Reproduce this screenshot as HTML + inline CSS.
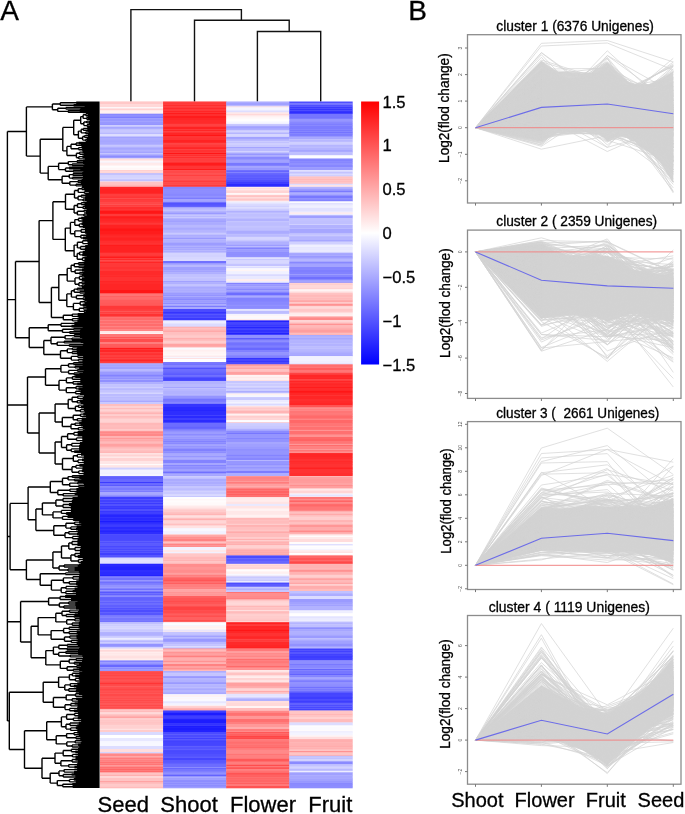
<!DOCTYPE html><html><head><meta charset="utf-8"><title>Figure</title><style>html,body{margin:0;padding:0;background:#fff;}svg{display:block;filter:blur(0.35px);}text{font-family:"Liberation Sans",sans-serif;fill:#000;stroke:#000;stroke-width:0.3px;}text.t{stroke:none;fill:#555;}</style></head><body>
<svg width="685" height="814" viewBox="0 0 685 814">
<rect width="685" height="814" fill="#fff"/>
<text x="0.3" y="20.2" font-size="28">A</text>
<text x="408.2" y="20.2" font-size="28">B</text>
<path d="M130.9 101.5V9.6H241.4V20.2M194.5 101.5V20.2H289.2V31.5M257.4 101.5V31.5H320.7V101.5" fill="none" stroke="#111" stroke-width="1.4"/>
<defs><filter id="hb" x="0" y="-0.01" width="1" height="1.02"><feGaussianBlur stdDeviation="0.15 0.55"/></filter></defs>
<g filter="url(#hb)">
<rect x="100" y="101.5" width="63.4" height="1.3" fill="#ffbbbb"/>
<rect x="100" y="102.5" width="63.4" height="2.1" fill="#ffc8c8"/>
<rect x="100" y="104.3" width="63.4" height="3.3" fill="#ffd8d8"/>
<rect x="100" y="107.3" width="63.4" height="1.4" fill="#fdfdff"/>
<rect x="100" y="108.4" width="63.4" height="2.3" fill="#ffd2d2"/>
<rect x="100" y="110.4" width="63.4" height="3.3" fill="#fff0f0"/>
<rect x="100" y="113.4" width="63.4" height="0.6" fill="#ffebeb"/>
<rect x="100" y="113.7" width="63.4" height="1.3" fill="#8484ff"/>
<rect x="100" y="114.7" width="63.4" height="1.8" fill="#9090ff"/>
<rect x="100" y="116.2" width="63.4" height="2.3" fill="#7e7eff"/>
<rect x="100" y="118.2" width="63.4" height="3.3" fill="#9898ff"/>
<rect x="100" y="121.2" width="63.4" height="3.3" fill="#9898ff"/>
<rect x="100" y="124.2" width="63.4" height="1.3" fill="#8888ff"/>
<rect x="100" y="125.2" width="63.4" height="1.8" fill="#d2d2ff"/>
<rect x="100" y="126.7" width="63.4" height="2.3" fill="#a7a7ff"/>
<rect x="100" y="128.7" width="63.4" height="1.3" fill="#c1c1ff"/>
<rect x="100" y="129.7" width="63.4" height="3.3" fill="#c7c7ff"/>
<rect x="100" y="132.7" width="63.4" height="1.8" fill="#b9b9ff"/>
<rect x="100" y="134.2" width="63.4" height="2.3" fill="#ddddff"/>
<rect x="100" y="136.2" width="63.4" height="0.8" fill="#cacaff"/>
<rect x="100" y="136.7" width="63.4" height="1.3" fill="#a0a0ff"/>
<rect x="100" y="137.7" width="63.4" height="2.3" fill="#acacff"/>
<rect x="100" y="139.7" width="63.4" height="1.3" fill="#a9a9ff"/>
<rect x="100" y="140.7" width="63.4" height="1.3" fill="#a5a5ff"/>
<rect x="100" y="141.7" width="63.4" height="3.3" fill="#a9a9ff"/>
<rect x="100" y="144.7" width="63.4" height="2.3" fill="#c6c6ff"/>
<rect x="100" y="146.7" width="63.4" height="1.3" fill="#b6b6ff"/>
<rect x="100" y="147.7" width="63.4" height="2.3" fill="#a6a6ff"/>
<rect x="100" y="149.7" width="63.4" height="1.8" fill="#b2b2ff"/>
<rect x="100" y="151.2" width="63.4" height="2.3" fill="#a4a4ff"/>
<rect x="100" y="153.2" width="63.4" height="1.5" fill="#c1c1ff"/>
<rect x="100" y="154.4" width="63.4" height="2.3" fill="#9e9eff"/>
<rect x="100" y="156.4" width="63.4" height="1.3" fill="#6e6eff"/>
<rect x="100" y="157.4" width="63.4" height="0.5" fill="#6060ff"/>
<rect x="100" y="157.6" width="63.4" height="1.3" fill="#c8c8ff"/>
<rect x="100" y="158.6" width="63.4" height="2.3" fill="#ffdede"/>
<rect x="100" y="160.6" width="63.4" height="1.3" fill="#fff8f8"/>
<rect x="100" y="161.6" width="63.4" height="1.3" fill="#f5f5ff"/>
<rect x="100" y="162.6" width="63.4" height="2.3" fill="#ffeaea"/>
<rect x="100" y="164.6" width="63.4" height="1.3" fill="#ffebeb"/>
<rect x="100" y="165.6" width="63.4" height="2.3" fill="#fffdfd"/>
<rect x="100" y="167.6" width="63.4" height="2.3" fill="#fff7f7"/>
<rect x="100" y="169.6" width="63.4" height="0.8" fill="#fffbfb"/>
<rect x="100" y="170.1" width="63.4" height="1.3" fill="#ffcbcb"/>
<rect x="100" y="171.1" width="63.4" height="2.3" fill="#ffd6d6"/>
<rect x="100" y="173.1" width="63.4" height="0.4" fill="#ffcfcf"/>
<rect x="100" y="173.2" width="63.4" height="1.8" fill="#babaff"/>
<rect x="100" y="174.7" width="63.4" height="3.3" fill="#d3d3ff"/>
<rect x="100" y="177.7" width="63.4" height="1.8" fill="#d8d8ff"/>
<rect x="100" y="179.2" width="63.4" height="2.3" fill="#c1c1ff"/>
<rect x="100" y="181.2" width="63.4" height="0.7" fill="#e5e5ff"/>
<rect x="100" y="181.6" width="63.4" height="3.3" fill="#ffc4c4"/>
<rect x="100" y="184.6" width="63.4" height="2.5" fill="#ffb8b8"/>
<rect x="100" y="186.8" width="63.4" height="3.3" fill="#ff2525"/>
<rect x="100" y="189.8" width="63.4" height="3.3" fill="#ff2020"/>
<rect x="100" y="192.8" width="63.4" height="1.3" fill="#ff2a2a"/>
<rect x="100" y="193.8" width="63.4" height="0.5" fill="#ff3636"/>
<rect x="100" y="194.0" width="63.4" height="1.3" fill="#ff3e3e"/>
<rect x="100" y="195.0" width="63.4" height="1.3" fill="#ff3d3d"/>
<rect x="100" y="196.0" width="63.4" height="1.3" fill="#ff3737"/>
<rect x="100" y="197.0" width="63.4" height="1.8" fill="#ff3535"/>
<rect x="100" y="198.5" width="63.4" height="1.8" fill="#ff3838"/>
<rect x="100" y="200.0" width="63.4" height="2.3" fill="#ff3d3d"/>
<rect x="100" y="202.0" width="63.4" height="1.3" fill="#ff4a4a"/>
<rect x="100" y="203.0" width="63.4" height="1.8" fill="#ff4747"/>
<rect x="100" y="204.5" width="63.4" height="2.3" fill="#ff3c3c"/>
<rect x="100" y="206.5" width="63.4" height="0.5" fill="#ff3c3c"/>
<rect x="100" y="206.7" width="63.4" height="2.3" fill="#ff2e2e"/>
<rect x="100" y="208.7" width="63.4" height="2.3" fill="#ff3434"/>
<rect x="100" y="210.7" width="63.4" height="2.3" fill="#ff1212"/>
<rect x="100" y="212.7" width="63.4" height="1.8" fill="#ff1b1b"/>
<rect x="100" y="214.2" width="63.4" height="1.3" fill="#ff2929"/>
<rect x="100" y="215.2" width="63.4" height="1.8" fill="#ff2323"/>
<rect x="100" y="216.7" width="63.4" height="1.3" fill="#ff1b1b"/>
<rect x="100" y="217.7" width="63.4" height="2.3" fill="#ff2424"/>
<rect x="100" y="219.7" width="63.4" height="1.3" fill="#ff2828"/>
<rect x="100" y="220.7" width="63.4" height="2.3" fill="#ff2a2a"/>
<rect x="100" y="222.7" width="63.4" height="2.3" fill="#ff3939"/>
<rect x="100" y="224.7" width="63.4" height="2.3" fill="#ff2020"/>
<rect x="100" y="226.7" width="63.4" height="1.3" fill="#ff2525"/>
<rect x="100" y="227.7" width="63.4" height="1.3" fill="#ff2020"/>
<rect x="100" y="228.7" width="63.4" height="2.3" fill="#ff1515"/>
<rect x="100" y="230.7" width="63.4" height="3.3" fill="#ff1e1e"/>
<rect x="100" y="233.7" width="63.4" height="2.3" fill="#ff2424"/>
<rect x="100" y="235.7" width="63.4" height="2.3" fill="#ff2b2b"/>
<rect x="100" y="237.7" width="63.4" height="3.3" fill="#ff2424"/>
<rect x="100" y="240.7" width="63.4" height="3.3" fill="#ff2e2e"/>
<rect x="100" y="243.7" width="63.4" height="1.3" fill="#ff3737"/>
<rect x="100" y="244.7" width="63.4" height="1.3" fill="#ff1c1c"/>
<rect x="100" y="245.7" width="63.4" height="3.3" fill="#ff2424"/>
<rect x="100" y="248.7" width="63.4" height="1.3" fill="#ff2323"/>
<rect x="100" y="249.7" width="63.4" height="1.3" fill="#ff2424"/>
<rect x="100" y="250.7" width="63.4" height="2.3" fill="#ff2424"/>
<rect x="100" y="252.7" width="63.4" height="3.3" fill="#ff3a3a"/>
<rect x="100" y="255.7" width="63.4" height="1.3" fill="#ff3232"/>
<rect x="100" y="256.7" width="63.4" height="1.8" fill="#ff1c1c"/>
<rect x="100" y="258.2" width="63.4" height="2.3" fill="#ff2b2b"/>
<rect x="100" y="260.2" width="63.4" height="1.3" fill="#ff3838"/>
<rect x="100" y="261.2" width="63.4" height="2.3" fill="#ff2626"/>
<rect x="100" y="263.2" width="63.4" height="1.1" fill="#ff2727"/>
<rect x="100" y="264.0" width="63.4" height="3.3" fill="#ff3838"/>
<rect x="100" y="267.0" width="63.4" height="2.3" fill="#ff3030"/>
<rect x="100" y="269.0" width="63.4" height="2.3" fill="#ff3737"/>
<rect x="100" y="271.0" width="63.4" height="2.3" fill="#ff2929"/>
<rect x="100" y="273.0" width="63.4" height="2.3" fill="#ff2a2a"/>
<rect x="100" y="275.0" width="63.4" height="1.3" fill="#ff2f2f"/>
<rect x="100" y="276.0" width="63.4" height="1.3" fill="#ff2c2c"/>
<rect x="100" y="277.0" width="63.4" height="3.3" fill="#ff3232"/>
<rect x="100" y="280.0" width="63.4" height="1.3" fill="#ff3030"/>
<rect x="100" y="281.0" width="63.4" height="1.3" fill="#ff2626"/>
<rect x="100" y="282.0" width="63.4" height="1.3" fill="#ff2b2b"/>
<rect x="100" y="283.0" width="63.4" height="1.3" fill="#ff2c2c"/>
<rect x="100" y="284.0" width="63.4" height="3.3" fill="#ff2626"/>
<rect x="100" y="287.0" width="63.4" height="3.3" fill="#ff2727"/>
<rect x="100" y="290.0" width="63.4" height="3.3" fill="#ff1717"/>
<rect x="100" y="293.0" width="63.4" height="0.6" fill="#ff1818"/>
<rect x="100" y="293.3" width="63.4" height="1.3" fill="#ff5959"/>
<rect x="100" y="294.3" width="63.4" height="1.3" fill="#ff6666"/>
<rect x="100" y="295.3" width="63.4" height="1.8" fill="#ff6262"/>
<rect x="100" y="296.8" width="63.4" height="3.3" fill="#ff6c6c"/>
<rect x="100" y="299.8" width="63.4" height="3.3" fill="#ff5d5d"/>
<rect x="100" y="302.8" width="63.4" height="3.3" fill="#ff5a5a"/>
<rect x="100" y="305.8" width="63.4" height="3.3" fill="#ff3939"/>
<rect x="100" y="308.8" width="63.4" height="1.3" fill="#ff3c3c"/>
<rect x="100" y="309.8" width="63.4" height="1.8" fill="#ff4040"/>
<rect x="100" y="311.3" width="63.4" height="2.3" fill="#ff4141"/>
<rect x="100" y="313.3" width="63.4" height="3.3" fill="#ff3131"/>
<rect x="100" y="316.3" width="63.4" height="1.3" fill="#ff3a3a"/>
<rect x="100" y="317.3" width="63.4" height="3.3" fill="#ff6969"/>
<rect x="100" y="320.3" width="63.4" height="3.3" fill="#ff6e6e"/>
<rect x="100" y="323.3" width="63.4" height="3.3" fill="#ff6c6c"/>
<rect x="100" y="326.3" width="63.4" height="1.8" fill="#ff7575"/>
<rect x="100" y="327.8" width="63.4" height="1.8" fill="#ff7070"/>
<rect x="100" y="329.3" width="63.4" height="1.9" fill="#ff7979"/>
<rect x="100" y="330.9" width="63.4" height="2.3" fill="#ffe8e8"/>
<rect x="100" y="332.9" width="63.4" height="1.4" fill="#fff1f1"/>
<rect x="100" y="334.0" width="63.4" height="3.3" fill="#ff7777"/>
<rect x="100" y="337.0" width="63.4" height="1.3" fill="#ff5656"/>
<rect x="100" y="338.0" width="63.4" height="1.3" fill="#ff6f6f"/>
<rect x="100" y="339.0" width="63.4" height="3.3" fill="#ff4d4d"/>
<rect x="100" y="342.0" width="63.4" height="2.3" fill="#ff7c7c"/>
<rect x="100" y="344.0" width="63.4" height="2.3" fill="#ff5b5b"/>
<rect x="100" y="346.0" width="63.4" height="1.8" fill="#ff5a5a"/>
<rect x="100" y="347.5" width="63.4" height="0.4" fill="#ff7575"/>
<rect x="100" y="347.6" width="63.4" height="1.8" fill="#ff1a1a"/>
<rect x="100" y="349.1" width="63.4" height="3.3" fill="#ff2727"/>
<rect x="100" y="352.1" width="63.4" height="2.3" fill="#ff3535"/>
<rect x="100" y="354.1" width="63.4" height="1.3" fill="#ff2525"/>
<rect x="100" y="355.1" width="63.4" height="1.3" fill="#ff3535"/>
<rect x="100" y="356.1" width="63.4" height="2.3" fill="#ff3434"/>
<rect x="100" y="358.1" width="63.4" height="1.3" fill="#ff3838"/>
<rect x="100" y="359.1" width="63.4" height="2.3" fill="#ff2626"/>
<rect x="100" y="361.1" width="63.4" height="1.3" fill="#ff2d2d"/>
<rect x="100" y="362.1" width="63.4" height="1.3" fill="#ff3636"/>
<rect x="100" y="363.1" width="63.4" height="0.5" fill="#ff3030"/>
<rect x="100" y="363.3" width="63.4" height="2.3" fill="#a9a9ff"/>
<rect x="100" y="365.3" width="63.4" height="1.3" fill="#9595ff"/>
<rect x="100" y="366.3" width="63.4" height="2.3" fill="#a0a0ff"/>
<rect x="100" y="368.3" width="63.4" height="1.3" fill="#9292ff"/>
<rect x="100" y="369.3" width="63.4" height="2.3" fill="#b8b8ff"/>
<rect x="100" y="371.3" width="63.4" height="3.3" fill="#9b9bff"/>
<rect x="100" y="374.3" width="63.4" height="2.3" fill="#8383ff"/>
<rect x="100" y="376.3" width="63.4" height="1.3" fill="#8484ff"/>
<rect x="100" y="377.3" width="63.4" height="2.3" fill="#9292ff"/>
<rect x="100" y="379.3" width="63.4" height="1.3" fill="#9e9eff"/>
<rect x="100" y="380.3" width="63.4" height="1.3" fill="#7d7dff"/>
<rect x="100" y="381.3" width="63.4" height="1.1" fill="#8383ff"/>
<rect x="100" y="382.1" width="63.4" height="2.3" fill="#afafff"/>
<rect x="100" y="384.1" width="63.4" height="3.3" fill="#c3c3ff"/>
<rect x="100" y="387.1" width="63.4" height="1.3" fill="#ccccff"/>
<rect x="100" y="388.1" width="63.4" height="2.3" fill="#b8b8ff"/>
<rect x="100" y="390.1" width="63.4" height="1.8" fill="#c1c1ff"/>
<rect x="100" y="391.6" width="63.4" height="1.3" fill="#c1c1ff"/>
<rect x="100" y="392.6" width="63.4" height="1.8" fill="#d5d5ff"/>
<rect x="100" y="394.1" width="63.4" height="1.9" fill="#b6b6ff"/>
<rect x="100" y="395.7" width="63.4" height="1.3" fill="#c9c9ff"/>
<rect x="100" y="396.7" width="63.4" height="1.3" fill="#b9b9ff"/>
<rect x="100" y="397.7" width="63.4" height="3.3" fill="#bebeff"/>
<rect x="100" y="400.7" width="63.4" height="1.8" fill="#a9a9ff"/>
<rect x="100" y="402.2" width="63.4" height="2.1" fill="#c8c8ff"/>
<rect x="100" y="404.0" width="63.4" height="2.3" fill="#ffbfbf"/>
<rect x="100" y="406.0" width="63.4" height="2.3" fill="#ffd1d1"/>
<rect x="100" y="408.0" width="63.4" height="1.8" fill="#ffbcbc"/>
<rect x="100" y="409.5" width="63.4" height="2.3" fill="#ffd3d3"/>
<rect x="100" y="411.5" width="63.4" height="1.3" fill="#ffbaba"/>
<rect x="100" y="412.5" width="63.4" height="1.8" fill="#ffb4b4"/>
<rect x="100" y="414.0" width="63.4" height="1.8" fill="#ffcbcb"/>
<rect x="100" y="415.5" width="63.4" height="1.3" fill="#ffc7c7"/>
<rect x="100" y="416.5" width="63.4" height="1.3" fill="#ffa5a5"/>
<rect x="100" y="417.5" width="63.4" height="2.3" fill="#ffc9c9"/>
<rect x="100" y="419.5" width="63.4" height="2.3" fill="#ffd3d3"/>
<rect x="100" y="421.5" width="63.4" height="1.8" fill="#ffcccc"/>
<rect x="100" y="423.0" width="63.4" height="2.3" fill="#ffb8b8"/>
<rect x="100" y="425.0" width="63.4" height="2.3" fill="#ffbcbc"/>
<rect x="100" y="427.0" width="63.4" height="2.3" fill="#ffbaba"/>
<rect x="100" y="429.0" width="63.4" height="1.3" fill="#ffcaca"/>
<rect x="100" y="430.0" width="63.4" height="1.5" fill="#ffc4c4"/>
<rect x="100" y="431.2" width="63.4" height="1.3" fill="#ff8585"/>
<rect x="100" y="432.2" width="63.4" height="1.3" fill="#ff7b7b"/>
<rect x="100" y="433.2" width="63.4" height="3.3" fill="#ff8888"/>
<rect x="100" y="436.2" width="63.4" height="2.3" fill="#ffb0b0"/>
<rect x="100" y="438.2" width="63.4" height="1.3" fill="#ff8c8c"/>
<rect x="100" y="439.2" width="63.4" height="2.3" fill="#ffa8a8"/>
<rect x="100" y="441.2" width="63.4" height="1.6" fill="#ffadad"/>
<rect x="100" y="442.5" width="63.4" height="1.3" fill="#ffb8b8"/>
<rect x="100" y="443.5" width="63.4" height="3.3" fill="#ffa1a1"/>
<rect x="100" y="446.5" width="63.4" height="1.3" fill="#ff9f9f"/>
<rect x="100" y="447.5" width="63.4" height="2.3" fill="#ffbebe"/>
<rect x="100" y="449.5" width="63.4" height="1.3" fill="#ffc1c1"/>
<rect x="100" y="450.5" width="63.4" height="1.3" fill="#ffb4b4"/>
<rect x="100" y="451.5" width="63.4" height="1.8" fill="#ffb6b6"/>
<rect x="100" y="453.0" width="63.4" height="1.8" fill="#ffe2e2"/>
<rect x="100" y="454.5" width="63.4" height="1.8" fill="#ffd3d3"/>
<rect x="100" y="456.0" width="63.4" height="1.3" fill="#ffdfdf"/>
<rect x="100" y="457.0" width="63.4" height="1.3" fill="#ffe8e8"/>
<rect x="100" y="458.0" width="63.4" height="3.3" fill="#ffd3d3"/>
<rect x="100" y="461.0" width="63.4" height="3.3" fill="#ffe6e6"/>
<rect x="100" y="464.0" width="63.4" height="1.3" fill="#fffbfb"/>
<rect x="100" y="465.0" width="63.4" height="1.3" fill="#ffe8e8"/>
<rect x="100" y="466.0" width="63.4" height="1.3" fill="#ffe5e5"/>
<rect x="100" y="467.0" width="63.4" height="0.9" fill="#ffe7e7"/>
<rect x="100" y="467.6" width="63.4" height="2.3" fill="#d0d0ff"/>
<rect x="100" y="469.6" width="63.4" height="3.3" fill="#f3f3ff"/>
<rect x="100" y="472.6" width="63.4" height="1.8" fill="#f0f0ff"/>
<rect x="100" y="474.1" width="63.4" height="2.2" fill="#f5f5ff"/>
<rect x="100" y="476.0" width="63.4" height="1.3" fill="#6d6dff"/>
<rect x="100" y="477.0" width="63.4" height="2.3" fill="#6060ff"/>
<rect x="100" y="479.0" width="63.4" height="3.3" fill="#6969ff"/>
<rect x="100" y="482.0" width="63.4" height="1.3" fill="#3a3aff"/>
<rect x="100" y="483.0" width="63.4" height="1.3" fill="#6767ff"/>
<rect x="100" y="484.0" width="63.4" height="1.3" fill="#6a6aff"/>
<rect x="100" y="485.0" width="63.4" height="1.7" fill="#5a5aff"/>
<rect x="100" y="486.4" width="63.4" height="1.8" fill="#8686ff"/>
<rect x="100" y="487.9" width="63.4" height="2.3" fill="#7979ff"/>
<rect x="100" y="489.9" width="63.4" height="1.3" fill="#8e8eff"/>
<rect x="100" y="490.9" width="63.4" height="1.3" fill="#7878ff"/>
<rect x="100" y="491.9" width="63.4" height="3.3" fill="#a8a8ff"/>
<rect x="100" y="494.9" width="63.4" height="1.8" fill="#9494ff"/>
<rect x="100" y="496.4" width="63.4" height="0.8" fill="#6767ff"/>
<rect x="100" y="496.9" width="63.4" height="1.3" fill="#4141ff"/>
<rect x="100" y="497.9" width="63.4" height="1.8" fill="#4040ff"/>
<rect x="100" y="499.4" width="63.4" height="3.3" fill="#4242ff"/>
<rect x="100" y="502.4" width="63.4" height="2.3" fill="#3b3bff"/>
<rect x="100" y="504.4" width="63.4" height="1.3" fill="#3e3eff"/>
<rect x="100" y="505.4" width="63.4" height="1.8" fill="#3a3aff"/>
<rect x="100" y="506.9" width="63.4" height="1.3" fill="#4242ff"/>
<rect x="100" y="507.9" width="63.4" height="1.8" fill="#3939ff"/>
<rect x="100" y="509.4" width="63.4" height="1.3" fill="#3c3cff"/>
<rect x="100" y="510.4" width="63.4" height="1.8" fill="#3838ff"/>
<rect x="100" y="511.9" width="63.4" height="2.0" fill="#4040ff"/>
<rect x="100" y="513.6" width="63.4" height="1.3" fill="#2525ff"/>
<rect x="100" y="514.6" width="63.4" height="3.3" fill="#2828ff"/>
<rect x="100" y="517.6" width="63.4" height="3.3" fill="#2929ff"/>
<rect x="100" y="520.6" width="63.4" height="1.8" fill="#1a1aff"/>
<rect x="100" y="522.1" width="63.4" height="1.3" fill="#1f1fff"/>
<rect x="100" y="523.1" width="63.4" height="1.8" fill="#2525ff"/>
<rect x="100" y="524.6" width="63.4" height="2.3" fill="#3d3dff"/>
<rect x="100" y="526.6" width="63.4" height="1.3" fill="#1e1eff"/>
<rect x="100" y="527.6" width="63.4" height="1.3" fill="#1818ff"/>
<rect x="100" y="528.6" width="63.4" height="1.3" fill="#2525ff"/>
<rect x="100" y="529.6" width="63.4" height="1.3" fill="#2b2bff"/>
<rect x="100" y="530.6" width="63.4" height="1.3" fill="#0b0bff"/>
<rect x="100" y="531.6" width="63.4" height="3.2" fill="#2f2fff"/>
<rect x="100" y="534.5" width="63.4" height="1.8" fill="#4949ff"/>
<rect x="100" y="536.0" width="63.4" height="2.3" fill="#4848ff"/>
<rect x="100" y="538.0" width="63.4" height="2.3" fill="#4848ff"/>
<rect x="100" y="540.0" width="63.4" height="1.8" fill="#4b4bff"/>
<rect x="100" y="541.5" width="63.4" height="2.3" fill="#5050ff"/>
<rect x="100" y="543.5" width="63.4" height="1.3" fill="#4646ff"/>
<rect x="100" y="544.5" width="63.4" height="1.3" fill="#4d4dff"/>
<rect x="100" y="545.5" width="63.4" height="2.3" fill="#4949ff"/>
<rect x="100" y="547.5" width="63.4" height="1.3" fill="#3a3aff"/>
<rect x="100" y="548.5" width="63.4" height="2.3" fill="#4a4aff"/>
<rect x="100" y="550.5" width="63.4" height="2.3" fill="#4949ff"/>
<rect x="100" y="552.5" width="63.4" height="3.3" fill="#4040ff"/>
<rect x="100" y="555.5" width="63.4" height="1.3" fill="#4747ff"/>
<rect x="100" y="556.5" width="63.4" height="1.3" fill="#3d3dff"/>
<rect x="100" y="557.5" width="63.4" height="1.3" fill="#ceceff"/>
<rect x="100" y="558.5" width="63.4" height="2.3" fill="#dedeff"/>
<rect x="100" y="560.5" width="63.4" height="3.3" fill="#e1e1ff"/>
<rect x="100" y="563.5" width="63.4" height="0.6" fill="#bfbfff"/>
<rect x="100" y="563.8" width="63.4" height="1.3" fill="#2525ff"/>
<rect x="100" y="564.8" width="63.4" height="2.3" fill="#2a2aff"/>
<rect x="100" y="566.8" width="63.4" height="3.3" fill="#2020ff"/>
<rect x="100" y="569.8" width="63.4" height="2.3" fill="#2f2fff"/>
<rect x="100" y="571.8" width="63.4" height="2.3" fill="#2c2cff"/>
<rect x="100" y="573.8" width="63.4" height="1.3" fill="#2c2cff"/>
<rect x="100" y="574.8" width="63.4" height="1.3" fill="#2222ff"/>
<rect x="100" y="575.8" width="63.4" height="0.8" fill="#2b2bff"/>
<rect x="100" y="576.3" width="63.4" height="1.3" fill="#7171ff"/>
<rect x="100" y="577.3" width="63.4" height="3.3" fill="#6f6fff"/>
<rect x="100" y="580.3" width="63.4" height="1.3" fill="#9090ff"/>
<rect x="100" y="581.3" width="63.4" height="1.8" fill="#6d6dff"/>
<rect x="100" y="582.8" width="63.4" height="2.3" fill="#7d7dff"/>
<rect x="100" y="584.8" width="63.4" height="1.3" fill="#9393ff"/>
<rect x="100" y="585.8" width="63.4" height="1.8" fill="#9292ff"/>
<rect x="100" y="587.3" width="63.4" height="1.8" fill="#8e8eff"/>
<rect x="100" y="588.8" width="63.4" height="1.3" fill="#6767ff"/>
<rect x="100" y="589.8" width="63.4" height="1.8" fill="#9595ff"/>
<rect x="100" y="591.3" width="63.4" height="2.3" fill="#5959ff"/>
<rect x="100" y="593.3" width="63.4" height="2.3" fill="#6262ff"/>
<rect x="100" y="595.3" width="63.4" height="1.0" fill="#7575ff"/>
<rect x="100" y="596.0" width="63.4" height="1.3" fill="#8b8bff"/>
<rect x="100" y="597.0" width="63.4" height="1.3" fill="#6565ff"/>
<rect x="100" y="598.0" width="63.4" height="2.3" fill="#6262ff"/>
<rect x="100" y="600.0" width="63.4" height="1.8" fill="#6666ff"/>
<rect x="100" y="601.5" width="63.4" height="2.3" fill="#6161ff"/>
<rect x="100" y="603.5" width="63.4" height="1.3" fill="#5b5bff"/>
<rect x="100" y="604.5" width="63.4" height="3.3" fill="#5e5eff"/>
<rect x="100" y="607.5" width="63.4" height="2.3" fill="#5252ff"/>
<rect x="100" y="609.5" width="63.4" height="3.3" fill="#4d4dff"/>
<rect x="100" y="612.5" width="63.4" height="3.3" fill="#5656ff"/>
<rect x="100" y="615.5" width="63.4" height="2.3" fill="#7b7bff"/>
<rect x="100" y="617.5" width="63.4" height="3.3" fill="#7474ff"/>
<rect x="100" y="620.5" width="63.4" height="1.3" fill="#6868ff"/>
<rect x="100" y="621.5" width="63.4" height="1.0" fill="#6262ff"/>
<rect x="100" y="622.2" width="63.4" height="2.3" fill="#c1c1ff"/>
<rect x="100" y="624.2" width="63.4" height="1.3" fill="#cfcfff"/>
<rect x="100" y="625.2" width="63.4" height="1.3" fill="#c7c7ff"/>
<rect x="100" y="626.2" width="63.4" height="2.3" fill="#d4d4ff"/>
<rect x="100" y="628.2" width="63.4" height="1.3" fill="#d5d5ff"/>
<rect x="100" y="629.2" width="63.4" height="2.3" fill="#c8c8ff"/>
<rect x="100" y="631.2" width="63.4" height="0.9" fill="#cfcfff"/>
<rect x="100" y="631.8" width="63.4" height="1.3" fill="#b5b5ff"/>
<rect x="100" y="632.8" width="63.4" height="3.3" fill="#b1b1ff"/>
<rect x="100" y="635.8" width="63.4" height="2.3" fill="#cbcbff"/>
<rect x="100" y="637.8" width="63.4" height="2.3" fill="#ebebff"/>
<rect x="100" y="639.8" width="63.4" height="1.3" fill="#c9c9ff"/>
<rect x="100" y="640.8" width="63.4" height="1.8" fill="#b8b8ff"/>
<rect x="100" y="642.3" width="63.4" height="1.8" fill="#cacaff"/>
<rect x="100" y="643.8" width="63.4" height="3.3" fill="#9393ff"/>
<rect x="100" y="646.8" width="63.4" height="1.8" fill="#d2d2ff"/>
<rect x="100" y="648.3" width="63.4" height="0.5" fill="#c2c2ff"/>
<rect x="100" y="648.5" width="63.4" height="2.3" fill="#ffecec"/>
<rect x="100" y="650.5" width="63.4" height="1.3" fill="#ffc1c1"/>
<rect x="100" y="651.5" width="63.4" height="1.3" fill="#fff1f1"/>
<rect x="100" y="652.5" width="63.4" height="2.3" fill="#ffe8e8"/>
<rect x="100" y="654.5" width="63.4" height="1.3" fill="#ffe9e9"/>
<rect x="100" y="655.5" width="63.4" height="2.3" fill="#ffe1e1"/>
<rect x="100" y="657.5" width="63.4" height="1.3" fill="#ffd9d9"/>
<rect x="100" y="658.5" width="63.4" height="2.2" fill="#ffeded"/>
<rect x="100" y="660.4" width="63.4" height="2.3" fill="#8585ff"/>
<rect x="100" y="662.4" width="63.4" height="2.3" fill="#9696ff"/>
<rect x="100" y="664.4" width="63.4" height="3.3" fill="#6868ff"/>
<rect x="100" y="667.4" width="63.4" height="1.3" fill="#9c9cff"/>
<rect x="100" y="668.4" width="63.4" height="1.3" fill="#6e6eff"/>
<rect x="100" y="669.4" width="63.4" height="1.3" fill="#9f9fff"/>
<rect x="100" y="670.4" width="63.4" height="1.0" fill="#7d7dff"/>
<rect x="100" y="671.1" width="63.4" height="2.3" fill="#ff4949"/>
<rect x="100" y="673.1" width="63.4" height="1.3" fill="#ff3d3d"/>
<rect x="100" y="674.1" width="63.4" height="2.3" fill="#ff4444"/>
<rect x="100" y="676.1" width="63.4" height="1.3" fill="#ff4545"/>
<rect x="100" y="677.1" width="63.4" height="2.3" fill="#ff4747"/>
<rect x="100" y="679.1" width="63.4" height="1.3" fill="#ff4545"/>
<rect x="100" y="680.1" width="63.4" height="1.8" fill="#ff4a4a"/>
<rect x="100" y="681.6" width="63.4" height="1.3" fill="#ff4343"/>
<rect x="100" y="682.6" width="63.4" height="2.3" fill="#ff3535"/>
<rect x="100" y="684.6" width="63.4" height="1.8" fill="#ff4c4c"/>
<rect x="100" y="686.1" width="63.4" height="1.3" fill="#ff5151"/>
<rect x="100" y="687.1" width="63.4" height="1.3" fill="#ff4545"/>
<rect x="100" y="688.1" width="63.4" height="2.3" fill="#ff4444"/>
<rect x="100" y="690.1" width="63.4" height="1.8" fill="#ff4444"/>
<rect x="100" y="691.6" width="63.4" height="2.3" fill="#ff4d4d"/>
<rect x="100" y="693.6" width="63.4" height="3.3" fill="#ff4a4a"/>
<rect x="100" y="696.6" width="63.4" height="1.3" fill="#ff4848"/>
<rect x="100" y="697.6" width="63.4" height="2.3" fill="#ff4e4e"/>
<rect x="100" y="699.6" width="63.4" height="2.3" fill="#ff4949"/>
<rect x="100" y="701.6" width="63.4" height="2.3" fill="#ff4d4d"/>
<rect x="100" y="703.6" width="63.4" height="1.3" fill="#ff4f4f"/>
<rect x="100" y="704.6" width="63.4" height="2.3" fill="#ff4a4a"/>
<rect x="100" y="706.6" width="63.4" height="1.8" fill="#ff4e4e"/>
<rect x="100" y="708.1" width="63.4" height="1.5" fill="#ff4d4d"/>
<rect x="100" y="709.3" width="63.4" height="1.3" fill="#ffc6c6"/>
<rect x="100" y="710.3" width="63.4" height="2.3" fill="#ffbbbb"/>
<rect x="100" y="712.3" width="63.4" height="2.3" fill="#ffd8d8"/>
<rect x="100" y="714.3" width="63.4" height="1.3" fill="#ffb8b8"/>
<rect x="100" y="715.3" width="63.4" height="1.8" fill="#ffb1b1"/>
<rect x="100" y="716.8" width="63.4" height="1.8" fill="#ffa3a3"/>
<rect x="100" y="718.3" width="63.4" height="2.3" fill="#ffcdcd"/>
<rect x="100" y="720.3" width="63.4" height="1.3" fill="#ffbbbb"/>
<rect x="100" y="721.3" width="63.4" height="1.8" fill="#ffc4c4"/>
<rect x="100" y="722.8" width="63.4" height="2.3" fill="#ffc6c6"/>
<rect x="100" y="724.8" width="63.4" height="1.3" fill="#ffd3d3"/>
<rect x="100" y="725.8" width="63.4" height="3.3" fill="#ffd1d1"/>
<rect x="100" y="728.8" width="63.4" height="1.3" fill="#ffe7e7"/>
<rect x="100" y="729.8" width="63.4" height="1.8" fill="#ffcbcb"/>
<rect x="100" y="731.3" width="63.4" height="1.0" fill="#ffc5c5"/>
<rect x="100" y="732.0" width="63.4" height="3.3" fill="#dadaff"/>
<rect x="100" y="735.0" width="63.4" height="3.3" fill="#ffffff"/>
<rect x="100" y="738.0" width="63.4" height="3.3" fill="#e8e8ff"/>
<rect x="100" y="741.0" width="63.4" height="1.8" fill="#f6f6ff"/>
<rect x="100" y="742.5" width="63.4" height="2.3" fill="#f8f8ff"/>
<rect x="100" y="744.5" width="63.4" height="1.8" fill="#f8f8ff"/>
<rect x="100" y="746.0" width="63.4" height="3.3" fill="#ddddff"/>
<rect x="100" y="749.0" width="63.4" height="3.3" fill="#ffdede"/>
<rect x="100" y="752.0" width="63.4" height="1.7" fill="#d5d5ff"/>
<rect x="100" y="753.4" width="63.4" height="3.3" fill="#ff8989"/>
<rect x="100" y="756.4" width="63.4" height="1.3" fill="#ffa4a4"/>
<rect x="100" y="757.4" width="63.4" height="2.3" fill="#ff7e7e"/>
<rect x="100" y="759.4" width="63.4" height="2.3" fill="#ff8080"/>
<rect x="100" y="761.4" width="63.4" height="2.3" fill="#ff7272"/>
<rect x="100" y="763.4" width="63.4" height="2.3" fill="#ff7474"/>
<rect x="100" y="765.4" width="63.4" height="1.3" fill="#ff9999"/>
<rect x="100" y="766.4" width="63.4" height="2.3" fill="#ff7070"/>
<rect x="100" y="768.4" width="63.4" height="2.3" fill="#ff6666"/>
<rect x="100" y="770.4" width="63.4" height="2.4" fill="#ff6a6a"/>
<rect x="100" y="772.5" width="63.4" height="2.3" fill="#ffc3c3"/>
<rect x="100" y="774.5" width="63.4" height="1.8" fill="#ffb0b0"/>
<rect x="100" y="776.0" width="63.4" height="2.3" fill="#ffd6d6"/>
<rect x="100" y="778.0" width="63.4" height="3.3" fill="#ffc3c3"/>
<rect x="100" y="781.0" width="63.4" height="1.8" fill="#ffa3a3"/>
<rect x="100" y="782.5" width="63.4" height="2.3" fill="#ffbebe"/>
<rect x="100" y="784.5" width="63.4" height="2.3" fill="#ffc9c9"/>
<rect x="100" y="786.5" width="63.4" height="1.8" fill="#ffbbbb"/>
<rect x="163.1" y="101.5" width="63.4" height="1.3" fill="#ff2f2f"/>
<rect x="163.1" y="102.5" width="63.4" height="1.3" fill="#ff2424"/>
<rect x="163.1" y="103.5" width="63.4" height="1.3" fill="#ff2424"/>
<rect x="163.1" y="104.5" width="63.4" height="2.3" fill="#ff2e2e"/>
<rect x="163.1" y="106.5" width="63.4" height="1.3" fill="#ff2222"/>
<rect x="163.1" y="107.5" width="63.4" height="2.3" fill="#ff2929"/>
<rect x="163.1" y="109.5" width="63.4" height="1.3" fill="#ff2121"/>
<rect x="163.1" y="110.5" width="63.4" height="2.3" fill="#ff2626"/>
<rect x="163.1" y="112.5" width="63.4" height="1.8" fill="#ff1a1a"/>
<rect x="163.1" y="114.0" width="63.4" height="2.3" fill="#ff2e2e"/>
<rect x="163.1" y="116.0" width="63.4" height="2.3" fill="#ff1d1d"/>
<rect x="163.1" y="118.0" width="63.4" height="2.3" fill="#ff2727"/>
<rect x="163.1" y="120.0" width="63.4" height="3.3" fill="#ff2b2b"/>
<rect x="163.1" y="123.0" width="63.4" height="1.8" fill="#ff2f2f"/>
<rect x="163.1" y="124.5" width="63.4" height="1.3" fill="#ff2e2e"/>
<rect x="163.1" y="125.5" width="63.4" height="1.3" fill="#ff2c2c"/>
<rect x="163.1" y="126.5" width="63.4" height="3.3" fill="#ff2222"/>
<rect x="163.1" y="129.5" width="63.4" height="2.3" fill="#ff2525"/>
<rect x="163.1" y="131.5" width="63.4" height="1.8" fill="#ff3434"/>
<rect x="163.1" y="133.0" width="63.4" height="2.3" fill="#ff2727"/>
<rect x="163.1" y="135.0" width="63.4" height="1.3" fill="#ff1717"/>
<rect x="163.1" y="136.0" width="63.4" height="2.3" fill="#ff3636"/>
<rect x="163.1" y="138.0" width="63.4" height="2.3" fill="#ff3232"/>
<rect x="163.1" y="140.0" width="63.4" height="2.3" fill="#ff2323"/>
<rect x="163.1" y="142.0" width="63.4" height="1.8" fill="#ff2c2c"/>
<rect x="163.1" y="143.5" width="63.4" height="1.3" fill="#ff3434"/>
<rect x="163.1" y="144.5" width="63.4" height="1.3" fill="#ff2d2d"/>
<rect x="163.1" y="145.5" width="63.4" height="1.3" fill="#ff2121"/>
<rect x="163.1" y="146.5" width="63.4" height="1.8" fill="#ff2b2b"/>
<rect x="163.1" y="148.0" width="63.4" height="1.8" fill="#ff2828"/>
<rect x="163.1" y="149.5" width="63.4" height="3.3" fill="#ff3232"/>
<rect x="163.1" y="152.5" width="63.4" height="2.3" fill="#ff1717"/>
<rect x="163.1" y="154.5" width="63.4" height="2.3" fill="#ff2e2e"/>
<rect x="163.1" y="156.5" width="63.4" height="2.3" fill="#ff2f2f"/>
<rect x="163.1" y="158.5" width="63.4" height="1.3" fill="#ff2d2d"/>
<rect x="163.1" y="159.5" width="63.4" height="1.3" fill="#ff2727"/>
<rect x="163.1" y="160.5" width="63.4" height="1.3" fill="#ff2f2f"/>
<rect x="163.1" y="161.5" width="63.4" height="1.8" fill="#ff3030"/>
<rect x="163.1" y="163.0" width="63.4" height="2.3" fill="#ff1b1b"/>
<rect x="163.1" y="165.0" width="63.4" height="1.3" fill="#ff2828"/>
<rect x="163.1" y="166.0" width="63.4" height="3.3" fill="#ff3434"/>
<rect x="163.1" y="169.0" width="63.4" height="1.4" fill="#ff1f1f"/>
<rect x="163.1" y="170.1" width="63.4" height="3.3" fill="#ff4848"/>
<rect x="163.1" y="173.1" width="63.4" height="1.8" fill="#ff4848"/>
<rect x="163.1" y="174.6" width="63.4" height="2.3" fill="#ff4141"/>
<rect x="163.1" y="176.6" width="63.4" height="3.3" fill="#ff5151"/>
<rect x="163.1" y="179.6" width="63.4" height="1.3" fill="#ff4444"/>
<rect x="163.1" y="180.6" width="63.4" height="2.3" fill="#ff3e3e"/>
<rect x="163.1" y="182.6" width="63.4" height="2.3" fill="#ff4848"/>
<rect x="163.1" y="184.6" width="63.4" height="2.3" fill="#ff3b3b"/>
<rect x="163.1" y="186.6" width="63.4" height="0.5" fill="#ff3c3c"/>
<rect x="163.1" y="186.8" width="63.4" height="2.3" fill="#8787ff"/>
<rect x="163.1" y="188.8" width="63.4" height="2.3" fill="#8e8eff"/>
<rect x="163.1" y="190.8" width="63.4" height="2.3" fill="#8e8eff"/>
<rect x="163.1" y="192.8" width="63.4" height="1.3" fill="#8e8eff"/>
<rect x="163.1" y="193.8" width="63.4" height="2.3" fill="#8888ff"/>
<rect x="163.1" y="195.8" width="63.4" height="2.3" fill="#9292ff"/>
<rect x="163.1" y="197.8" width="63.4" height="1.3" fill="#7272ff"/>
<rect x="163.1" y="198.8" width="63.4" height="3.3" fill="#a4a4ff"/>
<rect x="163.1" y="201.8" width="63.4" height="1.0" fill="#8989ff"/>
<rect x="163.1" y="202.5" width="63.4" height="1.3" fill="#4646ff"/>
<rect x="163.1" y="203.5" width="63.4" height="1.3" fill="#3f3fff"/>
<rect x="163.1" y="204.5" width="63.4" height="1.3" fill="#4747ff"/>
<rect x="163.1" y="205.5" width="63.4" height="1.5" fill="#4b4bff"/>
<rect x="163.1" y="206.7" width="63.4" height="1.3" fill="#9c9cff"/>
<rect x="163.1" y="207.7" width="63.4" height="2.3" fill="#b6b6ff"/>
<rect x="163.1" y="209.7" width="63.4" height="1.3" fill="#c9c9ff"/>
<rect x="163.1" y="210.7" width="63.4" height="2.3" fill="#b3b3ff"/>
<rect x="163.1" y="212.7" width="63.4" height="1.3" fill="#9191ff"/>
<rect x="163.1" y="213.7" width="63.4" height="1.3" fill="#b0b0ff"/>
<rect x="163.1" y="214.7" width="63.4" height="1.3" fill="#cdcdff"/>
<rect x="163.1" y="215.7" width="63.4" height="1.3" fill="#b2b2ff"/>
<rect x="163.1" y="216.7" width="63.4" height="1.8" fill="#c9c9ff"/>
<rect x="163.1" y="218.2" width="63.4" height="2.3" fill="#a8a8ff"/>
<rect x="163.1" y="220.2" width="63.4" height="1.8" fill="#9c9cff"/>
<rect x="163.1" y="221.7" width="63.4" height="2.3" fill="#adadff"/>
<rect x="163.1" y="223.7" width="63.4" height="1.3" fill="#a8a8ff"/>
<rect x="163.1" y="224.7" width="63.4" height="3.3" fill="#b8b8ff"/>
<rect x="163.1" y="227.7" width="63.4" height="2.3" fill="#aaaaff"/>
<rect x="163.1" y="229.7" width="63.4" height="3.3" fill="#b5b5ff"/>
<rect x="163.1" y="232.7" width="63.4" height="2.3" fill="#c9c9ff"/>
<rect x="163.1" y="234.7" width="63.4" height="1.3" fill="#acacff"/>
<rect x="163.1" y="235.7" width="63.4" height="1.3" fill="#afafff"/>
<rect x="163.1" y="236.7" width="63.4" height="1.3" fill="#b6b6ff"/>
<rect x="163.1" y="237.7" width="63.4" height="1.8" fill="#9a9aff"/>
<rect x="163.1" y="239.2" width="63.4" height="1.8" fill="#b1b1ff"/>
<rect x="163.1" y="240.7" width="63.4" height="2.3" fill="#b2b2ff"/>
<rect x="163.1" y="242.7" width="63.4" height="3.3" fill="#9c9cff"/>
<rect x="163.1" y="245.7" width="63.4" height="1.3" fill="#b8b8ff"/>
<rect x="163.1" y="246.7" width="63.4" height="1.8" fill="#a3a3ff"/>
<rect x="163.1" y="248.2" width="63.4" height="2.3" fill="#a7a7ff"/>
<rect x="163.1" y="250.2" width="63.4" height="1.8" fill="#b2b2ff"/>
<rect x="163.1" y="251.7" width="63.4" height="1.2" fill="#a7a7ff"/>
<rect x="163.1" y="252.6" width="63.4" height="3.3" fill="#d4d4ff"/>
<rect x="163.1" y="255.6" width="63.4" height="1.3" fill="#cacaff"/>
<rect x="163.1" y="256.6" width="63.4" height="3.3" fill="#d7d7ff"/>
<rect x="163.1" y="259.6" width="63.4" height="1.3" fill="#dadaff"/>
<rect x="163.1" y="260.6" width="63.4" height="0.7" fill="#d6d6ff"/>
<rect x="163.1" y="261.0" width="63.4" height="2.3" fill="#7171ff"/>
<rect x="163.1" y="263.0" width="63.4" height="1.3" fill="#9a9aff"/>
<rect x="163.1" y="264.0" width="63.4" height="1.3" fill="#a7a7ff"/>
<rect x="163.1" y="265.0" width="63.4" height="2.3" fill="#b8b8ff"/>
<rect x="163.1" y="267.0" width="63.4" height="2.3" fill="#a0a0ff"/>
<rect x="163.1" y="269.0" width="63.4" height="1.8" fill="#9f9fff"/>
<rect x="163.1" y="270.5" width="63.4" height="2.3" fill="#a3a3ff"/>
<rect x="163.1" y="272.5" width="63.4" height="2.3" fill="#afafff"/>
<rect x="163.1" y="274.5" width="63.4" height="3.3" fill="#c1c1ff"/>
<rect x="163.1" y="277.5" width="63.4" height="1.8" fill="#c3c3ff"/>
<rect x="163.1" y="279.0" width="63.4" height="2.3" fill="#c1c1ff"/>
<rect x="163.1" y="281.0" width="63.4" height="1.8" fill="#a2a2ff"/>
<rect x="163.1" y="282.5" width="63.4" height="2.3" fill="#b0b0ff"/>
<rect x="163.1" y="284.5" width="63.4" height="1.3" fill="#c6c6ff"/>
<rect x="163.1" y="285.5" width="63.4" height="1.3" fill="#b5b5ff"/>
<rect x="163.1" y="286.5" width="63.4" height="2.3" fill="#a9a9ff"/>
<rect x="163.1" y="288.5" width="63.4" height="1.3" fill="#a2a2ff"/>
<rect x="163.1" y="289.5" width="63.4" height="2.3" fill="#acacff"/>
<rect x="163.1" y="291.5" width="63.4" height="1.3" fill="#a3a3ff"/>
<rect x="163.1" y="292.5" width="63.4" height="1.1" fill="#9d9dff"/>
<rect x="163.1" y="293.3" width="63.4" height="1.3" fill="#8a8aff"/>
<rect x="163.1" y="294.3" width="63.4" height="1.3" fill="#9494ff"/>
<rect x="163.1" y="295.3" width="63.4" height="1.3" fill="#8484ff"/>
<rect x="163.1" y="296.3" width="63.4" height="1.3" fill="#a6a6ff"/>
<rect x="163.1" y="297.3" width="63.4" height="1.3" fill="#8080ff"/>
<rect x="163.1" y="298.3" width="63.4" height="2.3" fill="#8989ff"/>
<rect x="163.1" y="300.3" width="63.4" height="1.8" fill="#9999ff"/>
<rect x="163.1" y="301.8" width="63.4" height="1.3" fill="#a8a8ff"/>
<rect x="163.1" y="302.8" width="63.4" height="1.3" fill="#8888ff"/>
<rect x="163.1" y="303.8" width="63.4" height="2.3" fill="#aeaeff"/>
<rect x="163.1" y="305.8" width="63.4" height="1.8" fill="#7b7bff"/>
<rect x="163.1" y="307.3" width="63.4" height="2.0" fill="#a9a9ff"/>
<rect x="163.1" y="309.0" width="63.4" height="3.3" fill="#4c4cff"/>
<rect x="163.1" y="312.0" width="63.4" height="1.3" fill="#3434ff"/>
<rect x="163.1" y="313.0" width="63.4" height="1.8" fill="#4343ff"/>
<rect x="163.1" y="314.5" width="63.4" height="3.3" fill="#4747ff"/>
<rect x="163.1" y="317.5" width="63.4" height="3.2" fill="#3a3aff"/>
<rect x="163.1" y="320.4" width="63.4" height="3.3" fill="#ededff"/>
<rect x="163.1" y="323.4" width="63.4" height="3.3" fill="#dbdbff"/>
<rect x="163.1" y="326.4" width="63.4" height="0.6" fill="#d3d3ff"/>
<rect x="163.1" y="326.7" width="63.4" height="1.8" fill="#ffb1b1"/>
<rect x="163.1" y="328.2" width="63.4" height="1.8" fill="#ffbbbb"/>
<rect x="163.1" y="329.7" width="63.4" height="1.3" fill="#ffbaba"/>
<rect x="163.1" y="330.7" width="63.4" height="1.3" fill="#ffa0a0"/>
<rect x="163.1" y="331.7" width="63.4" height="3.3" fill="#ffbfbf"/>
<rect x="163.1" y="334.7" width="63.4" height="2.3" fill="#ffc7c7"/>
<rect x="163.1" y="336.7" width="63.4" height="1.3" fill="#ffd1d1"/>
<rect x="163.1" y="337.7" width="63.4" height="1.3" fill="#ffabab"/>
<rect x="163.1" y="338.7" width="63.4" height="2.3" fill="#ffb9b9"/>
<rect x="163.1" y="340.7" width="63.4" height="3.3" fill="#ffcdcd"/>
<rect x="163.1" y="343.7" width="63.4" height="3.3" fill="#ffa3a3"/>
<rect x="163.1" y="346.7" width="63.4" height="1.2" fill="#ffbfbf"/>
<rect x="163.1" y="347.6" width="63.4" height="2.3" fill="#fafaff"/>
<rect x="163.1" y="349.6" width="63.4" height="2.3" fill="#ffefef"/>
<rect x="163.1" y="351.6" width="63.4" height="3.3" fill="#fff5f5"/>
<rect x="163.1" y="354.6" width="63.4" height="1.3" fill="#fffdfd"/>
<rect x="163.1" y="355.6" width="63.4" height="1.3" fill="#ffe0e0"/>
<rect x="163.1" y="356.6" width="63.4" height="1.8" fill="#f6f6ff"/>
<rect x="163.1" y="358.1" width="63.4" height="1.3" fill="#ffdfdf"/>
<rect x="163.1" y="359.1" width="63.4" height="3.3" fill="#ffffff"/>
<rect x="163.1" y="362.1" width="63.4" height="0.4" fill="#ffd6d6"/>
<rect x="163.1" y="362.2" width="63.4" height="1.3" fill="#5b5bff"/>
<rect x="163.1" y="363.2" width="63.4" height="1.8" fill="#6969ff"/>
<rect x="163.1" y="364.7" width="63.4" height="3.3" fill="#8484ff"/>
<rect x="163.1" y="367.7" width="63.4" height="1.3" fill="#4747ff"/>
<rect x="163.1" y="368.7" width="63.4" height="3.3" fill="#6d6dff"/>
<rect x="163.1" y="371.7" width="63.4" height="2.3" fill="#6666ff"/>
<rect x="163.1" y="373.7" width="63.4" height="1.3" fill="#5353ff"/>
<rect x="163.1" y="374.7" width="63.4" height="1.8" fill="#7070ff"/>
<rect x="163.1" y="376.2" width="63.4" height="1.8" fill="#5959ff"/>
<rect x="163.1" y="377.7" width="63.4" height="3.3" fill="#4545ff"/>
<rect x="163.1" y="380.7" width="63.4" height="0.6" fill="#5f5fff"/>
<rect x="163.1" y="381.0" width="63.4" height="3.3" fill="#b2b2ff"/>
<rect x="163.1" y="384.0" width="63.4" height="3.3" fill="#b9b9ff"/>
<rect x="163.1" y="387.0" width="63.4" height="1.3" fill="#a5a5ff"/>
<rect x="163.1" y="388.0" width="63.4" height="1.3" fill="#c0c0ff"/>
<rect x="163.1" y="389.0" width="63.4" height="2.3" fill="#b7b7ff"/>
<rect x="163.1" y="391.0" width="63.4" height="3.3" fill="#b2b2ff"/>
<rect x="163.1" y="394.0" width="63.4" height="2.0" fill="#b6b6ff"/>
<rect x="163.1" y="395.7" width="63.4" height="3.3" fill="#9494ff"/>
<rect x="163.1" y="398.7" width="63.4" height="1.3" fill="#7373ff"/>
<rect x="163.1" y="399.7" width="63.4" height="1.3" fill="#7c7cff"/>
<rect x="163.1" y="400.7" width="63.4" height="1.3" fill="#7474ff"/>
<rect x="163.1" y="401.7" width="63.4" height="1.3" fill="#8d8dff"/>
<rect x="163.1" y="402.7" width="63.4" height="1.6" fill="#7c7cff"/>
<rect x="163.1" y="404.0" width="63.4" height="3.3" fill="#3434ff"/>
<rect x="163.1" y="407.0" width="63.4" height="2.3" fill="#2c2cff"/>
<rect x="163.1" y="409.0" width="63.4" height="1.3" fill="#2a2aff"/>
<rect x="163.1" y="410.0" width="63.4" height="1.3" fill="#2626ff"/>
<rect x="163.1" y="411.0" width="63.4" height="3.3" fill="#2e2eff"/>
<rect x="163.1" y="414.0" width="63.4" height="1.8" fill="#2e2eff"/>
<rect x="163.1" y="415.5" width="63.4" height="3.3" fill="#2b2bff"/>
<rect x="163.1" y="418.5" width="63.4" height="1.3" fill="#2a2aff"/>
<rect x="163.1" y="419.5" width="63.4" height="3.3" fill="#2c2cff"/>
<rect x="163.1" y="422.5" width="63.4" height="0.6" fill="#2222ff"/>
<rect x="163.1" y="422.8" width="63.4" height="1.3" fill="#6f6fff"/>
<rect x="163.1" y="423.8" width="63.4" height="3.3" fill="#6c6cff"/>
<rect x="163.1" y="426.8" width="63.4" height="2.3" fill="#6363ff"/>
<rect x="163.1" y="428.8" width="63.4" height="1.5" fill="#7b7bff"/>
<rect x="163.1" y="430.0" width="63.4" height="1.8" fill="#8888ff"/>
<rect x="163.1" y="431.5" width="63.4" height="1.3" fill="#8888ff"/>
<rect x="163.1" y="432.5" width="63.4" height="1.3" fill="#9898ff"/>
<rect x="163.1" y="433.5" width="63.4" height="1.8" fill="#8c8cff"/>
<rect x="163.1" y="435.0" width="63.4" height="1.8" fill="#9797ff"/>
<rect x="163.1" y="436.5" width="63.4" height="2.3" fill="#9999ff"/>
<rect x="163.1" y="438.5" width="63.4" height="2.3" fill="#8d8dff"/>
<rect x="163.1" y="440.5" width="63.4" height="2.3" fill="#8282ff"/>
<rect x="163.1" y="442.5" width="63.4" height="2.3" fill="#8989ff"/>
<rect x="163.1" y="444.5" width="63.4" height="1.3" fill="#a1a1ff"/>
<rect x="163.1" y="445.5" width="63.4" height="2.3" fill="#9595ff"/>
<rect x="163.1" y="447.5" width="63.4" height="1.3" fill="#8f8fff"/>
<rect x="163.1" y="448.5" width="63.4" height="3.3" fill="#8080ff"/>
<rect x="163.1" y="451.5" width="63.4" height="2.3" fill="#8d8dff"/>
<rect x="163.1" y="453.5" width="63.4" height="2.3" fill="#a8a8ff"/>
<rect x="163.1" y="455.5" width="63.4" height="2.3" fill="#9797ff"/>
<rect x="163.1" y="457.5" width="63.4" height="1.3" fill="#a3a3ff"/>
<rect x="163.1" y="458.5" width="63.4" height="1.8" fill="#a5a5ff"/>
<rect x="163.1" y="460.0" width="63.4" height="3.3" fill="#8383ff"/>
<rect x="163.1" y="463.0" width="63.4" height="2.3" fill="#a6a6ff"/>
<rect x="163.1" y="465.0" width="63.4" height="1.8" fill="#8585ff"/>
<rect x="163.1" y="466.5" width="63.4" height="3.3" fill="#8f8fff"/>
<rect x="163.1" y="469.5" width="63.4" height="1.3" fill="#9898ff"/>
<rect x="163.1" y="470.5" width="63.4" height="1.3" fill="#9494ff"/>
<rect x="163.1" y="471.5" width="63.4" height="1.8" fill="#6f6fff"/>
<rect x="163.1" y="473.0" width="63.4" height="1.8" fill="#9999ff"/>
<rect x="163.1" y="474.5" width="63.4" height="1.8" fill="#a5a5ff"/>
<rect x="163.1" y="476.0" width="63.4" height="1.3" fill="#cdcdff"/>
<rect x="163.1" y="477.0" width="63.4" height="1.8" fill="#c7c7ff"/>
<rect x="163.1" y="478.5" width="63.4" height="3.3" fill="#ababff"/>
<rect x="163.1" y="481.5" width="63.4" height="3.3" fill="#acacff"/>
<rect x="163.1" y="484.5" width="63.4" height="1.8" fill="#b0b0ff"/>
<rect x="163.1" y="486.0" width="63.4" height="2.3" fill="#c6c6ff"/>
<rect x="163.1" y="488.0" width="63.4" height="1.8" fill="#bebeff"/>
<rect x="163.1" y="489.5" width="63.4" height="1.3" fill="#acacff"/>
<rect x="163.1" y="490.5" width="63.4" height="1.3" fill="#cfcfff"/>
<rect x="163.1" y="491.5" width="63.4" height="3.3" fill="#cacaff"/>
<rect x="163.1" y="494.5" width="63.4" height="2.3" fill="#d9d9ff"/>
<rect x="163.1" y="496.5" width="63.4" height="0.7" fill="#a0a0ff"/>
<rect x="163.1" y="496.9" width="63.4" height="2.3" fill="#fdfdff"/>
<rect x="163.1" y="498.9" width="63.4" height="1.8" fill="#fff7f7"/>
<rect x="163.1" y="500.4" width="63.4" height="2.3" fill="#fffdfd"/>
<rect x="163.1" y="502.4" width="63.4" height="3.3" fill="#fffafa"/>
<rect x="163.1" y="505.4" width="63.4" height="1.3" fill="#ffeeee"/>
<rect x="163.1" y="506.4" width="63.4" height="2.3" fill="#ffe7e7"/>
<rect x="163.1" y="508.4" width="63.4" height="1.3" fill="#ffd6d6"/>
<rect x="163.1" y="509.4" width="63.4" height="2.3" fill="#ffcbcb"/>
<rect x="163.1" y="511.4" width="63.4" height="1.3" fill="#ffc4c4"/>
<rect x="163.1" y="512.4" width="63.4" height="1.3" fill="#ffb7b7"/>
<rect x="163.1" y="513.4" width="63.4" height="2.3" fill="#ffb5b5"/>
<rect x="163.1" y="515.4" width="63.4" height="2.3" fill="#ffdfdf"/>
<rect x="163.1" y="517.4" width="63.4" height="1.3" fill="#ffcccc"/>
<rect x="163.1" y="518.4" width="63.4" height="2.3" fill="#ffafaf"/>
<rect x="163.1" y="520.4" width="63.4" height="3.3" fill="#ffd5d5"/>
<rect x="163.1" y="523.4" width="63.4" height="2.3" fill="#ffc0c0"/>
<rect x="163.1" y="525.4" width="63.4" height="1.3" fill="#ffd7d7"/>
<rect x="163.1" y="526.4" width="63.4" height="2.1" fill="#ffe3e3"/>
<rect x="163.1" y="528.2" width="63.4" height="1.3" fill="#f6f6ff"/>
<rect x="163.1" y="529.2" width="63.4" height="2.3" fill="#f8f8ff"/>
<rect x="163.1" y="531.2" width="63.4" height="3.3" fill="#f1f1ff"/>
<rect x="163.1" y="534.2" width="63.4" height="0.6" fill="#fffefe"/>
<rect x="163.1" y="534.5" width="63.4" height="2.3" fill="#ffa8a8"/>
<rect x="163.1" y="536.5" width="63.4" height="2.3" fill="#ff8e8e"/>
<rect x="163.1" y="538.5" width="63.4" height="3.3" fill="#ff8181"/>
<rect x="163.1" y="541.5" width="63.4" height="2.3" fill="#ffc2c2"/>
<rect x="163.1" y="543.5" width="63.4" height="2.3" fill="#ff8484"/>
<rect x="163.1" y="545.5" width="63.4" height="1.8" fill="#ff9090"/>
<rect x="163.1" y="547.0" width="63.4" height="3.3" fill="#f3f3ff"/>
<rect x="163.1" y="550.0" width="63.4" height="2.3" fill="#ffe9e9"/>
<rect x="163.1" y="552.0" width="63.4" height="1.6" fill="#f1f1ff"/>
<rect x="163.1" y="553.3" width="63.4" height="3.3" fill="#ffc7c7"/>
<rect x="163.1" y="556.3" width="63.4" height="3.3" fill="#ffb9b9"/>
<rect x="163.1" y="559.3" width="63.4" height="2.3" fill="#ffb5b5"/>
<rect x="163.1" y="561.3" width="63.4" height="2.8" fill="#ffc4c4"/>
<rect x="163.1" y="563.8" width="63.4" height="3.3" fill="#ff8d8d"/>
<rect x="163.1" y="566.8" width="63.4" height="3.3" fill="#ff9696"/>
<rect x="163.1" y="569.8" width="63.4" height="3.3" fill="#ff8d8d"/>
<rect x="163.1" y="572.8" width="63.4" height="2.3" fill="#ff9f9f"/>
<rect x="163.1" y="574.8" width="63.4" height="1.8" fill="#ff7f7f"/>
<rect x="163.1" y="576.3" width="63.4" height="1.8" fill="#ff7575"/>
<rect x="163.1" y="577.8" width="63.4" height="2.3" fill="#ff6363"/>
<rect x="163.1" y="579.8" width="63.4" height="1.8" fill="#ff5757"/>
<rect x="163.1" y="581.3" width="63.4" height="1.3" fill="#ff5858"/>
<rect x="163.1" y="582.3" width="63.4" height="2.3" fill="#ff5f5f"/>
<rect x="163.1" y="584.3" width="63.4" height="0.6" fill="#ff6b6b"/>
<rect x="163.1" y="584.6" width="63.4" height="3.3" fill="#ff7e7e"/>
<rect x="163.1" y="587.6" width="63.4" height="1.8" fill="#ff8383"/>
<rect x="163.1" y="589.1" width="63.4" height="3.3" fill="#ffa5a5"/>
<rect x="163.1" y="592.1" width="63.4" height="1.3" fill="#ff8e8e"/>
<rect x="163.1" y="593.1" width="63.4" height="2.3" fill="#ff9797"/>
<rect x="163.1" y="595.1" width="63.4" height="1.2" fill="#ff9393"/>
<rect x="163.1" y="596.0" width="63.4" height="2.3" fill="#ff5e5e"/>
<rect x="163.1" y="598.0" width="63.4" height="3.3" fill="#ff5656"/>
<rect x="163.1" y="601.0" width="63.4" height="1.3" fill="#ff4e4e"/>
<rect x="163.1" y="602.0" width="63.4" height="2.3" fill="#ff5454"/>
<rect x="163.1" y="604.0" width="63.4" height="2.3" fill="#ff5f5f"/>
<rect x="163.1" y="606.0" width="63.4" height="1.3" fill="#ff5050"/>
<rect x="163.1" y="607.0" width="63.4" height="3.3" fill="#ff4242"/>
<rect x="163.1" y="610.0" width="63.4" height="1.3" fill="#ff5050"/>
<rect x="163.1" y="611.0" width="63.4" height="2.3" fill="#ff4b4b"/>
<rect x="163.1" y="613.0" width="63.4" height="1.3" fill="#ff5757"/>
<rect x="163.1" y="614.0" width="63.4" height="1.3" fill="#ff5d5d"/>
<rect x="163.1" y="615.0" width="63.4" height="1.3" fill="#ff5555"/>
<rect x="163.1" y="616.0" width="63.4" height="1.8" fill="#ff4f4f"/>
<rect x="163.1" y="617.5" width="63.4" height="1.3" fill="#ff5252"/>
<rect x="163.1" y="618.5" width="63.4" height="1.3" fill="#ff5050"/>
<rect x="163.1" y="619.5" width="63.4" height="2.3" fill="#ff4e4e"/>
<rect x="163.1" y="621.5" width="63.4" height="1.0" fill="#ff5353"/>
<rect x="163.1" y="622.2" width="63.4" height="1.3" fill="#f9f9ff"/>
<rect x="163.1" y="623.2" width="63.4" height="2.3" fill="#fdfdff"/>
<rect x="163.1" y="625.2" width="63.4" height="1.3" fill="#f3f3ff"/>
<rect x="163.1" y="626.2" width="63.4" height="2.3" fill="#fff2f2"/>
<rect x="163.1" y="628.2" width="63.4" height="1.8" fill="#fff5f5"/>
<rect x="163.1" y="629.7" width="63.4" height="1.3" fill="#e1e1ff"/>
<rect x="163.1" y="630.7" width="63.4" height="1.4" fill="#ffefef"/>
<rect x="163.1" y="631.8" width="63.4" height="3.3" fill="#c4c4ff"/>
<rect x="163.1" y="634.8" width="63.4" height="1.3" fill="#b8b8ff"/>
<rect x="163.1" y="635.8" width="63.4" height="1.8" fill="#a2a2ff"/>
<rect x="163.1" y="637.3" width="63.4" height="1.8" fill="#b5b5ff"/>
<rect x="163.1" y="638.8" width="63.4" height="3.3" fill="#9898ff"/>
<rect x="163.1" y="641.8" width="63.4" height="1.8" fill="#b9b9ff"/>
<rect x="163.1" y="643.3" width="63.4" height="1.3" fill="#aeaeff"/>
<rect x="163.1" y="644.3" width="63.4" height="2.3" fill="#c3c3ff"/>
<rect x="163.1" y="646.3" width="63.4" height="1.3" fill="#dcdcff"/>
<rect x="163.1" y="647.3" width="63.4" height="1.3" fill="#bfbfff"/>
<rect x="163.1" y="648.3" width="63.4" height="0.5" fill="#a7a7ff"/>
<rect x="163.1" y="648.5" width="63.4" height="1.3" fill="#ff8a8a"/>
<rect x="163.1" y="649.5" width="63.4" height="2.3" fill="#ffbbbb"/>
<rect x="163.1" y="651.5" width="63.4" height="2.3" fill="#ff9494"/>
<rect x="163.1" y="653.5" width="63.4" height="1.3" fill="#ff9393"/>
<rect x="163.1" y="654.5" width="63.4" height="1.3" fill="#ff9999"/>
<rect x="163.1" y="655.5" width="63.4" height="2.3" fill="#ff8080"/>
<rect x="163.1" y="657.5" width="63.4" height="3.3" fill="#ffaeae"/>
<rect x="163.1" y="660.5" width="63.4" height="2.3" fill="#ff9393"/>
<rect x="163.1" y="662.5" width="63.4" height="1.8" fill="#ffb3b3"/>
<rect x="163.1" y="664.0" width="63.4" height="2.3" fill="#ff8282"/>
<rect x="163.1" y="666.0" width="63.4" height="1.8" fill="#ffa0a0"/>
<rect x="163.1" y="667.5" width="63.4" height="2.3" fill="#ff9090"/>
<rect x="163.1" y="669.5" width="63.4" height="1.3" fill="#ff9e9e"/>
<rect x="163.1" y="670.5" width="63.4" height="0.9" fill="#ffc2c2"/>
<rect x="163.1" y="671.1" width="63.4" height="1.3" fill="#a7a7ff"/>
<rect x="163.1" y="672.1" width="63.4" height="1.3" fill="#b4b4ff"/>
<rect x="163.1" y="673.1" width="63.4" height="3.3" fill="#c4c4ff"/>
<rect x="163.1" y="676.1" width="63.4" height="2.3" fill="#9898ff"/>
<rect x="163.1" y="678.1" width="63.4" height="1.3" fill="#b3b3ff"/>
<rect x="163.1" y="679.1" width="63.4" height="3.3" fill="#b1b1ff"/>
<rect x="163.1" y="682.1" width="63.4" height="2.3" fill="#9999ff"/>
<rect x="163.1" y="684.1" width="63.4" height="2.3" fill="#b5b5ff"/>
<rect x="163.1" y="686.1" width="63.4" height="1.3" fill="#aeaeff"/>
<rect x="163.1" y="687.1" width="63.4" height="1.8" fill="#b9b9ff"/>
<rect x="163.1" y="688.6" width="63.4" height="1.3" fill="#9999ff"/>
<rect x="163.1" y="689.6" width="63.4" height="1.3" fill="#afafff"/>
<rect x="163.1" y="690.6" width="63.4" height="2.3" fill="#b5b5ff"/>
<rect x="163.1" y="692.6" width="63.4" height="1.5" fill="#9898ff"/>
<rect x="163.1" y="693.8" width="63.4" height="1.8" fill="#efefff"/>
<rect x="163.1" y="695.3" width="63.4" height="1.8" fill="#fff1f1"/>
<rect x="163.1" y="696.8" width="63.4" height="1.8" fill="#f8f8ff"/>
<rect x="163.1" y="698.3" width="63.4" height="1.3" fill="#fff4f4"/>
<rect x="163.1" y="699.3" width="63.4" height="2.3" fill="#f9f9ff"/>
<rect x="163.1" y="701.3" width="63.4" height="1.3" fill="#e4e4ff"/>
<rect x="163.1" y="702.3" width="63.4" height="1.3" fill="#e3e3ff"/>
<rect x="163.1" y="703.3" width="63.4" height="1.8" fill="#f2f2ff"/>
<rect x="163.1" y="704.8" width="63.4" height="1.2" fill="#fbfbff"/>
<rect x="163.1" y="705.7" width="63.4" height="1.8" fill="#ffd2d2"/>
<rect x="163.1" y="707.2" width="63.4" height="1.3" fill="#ffc8c8"/>
<rect x="163.1" y="708.2" width="63.4" height="2.6" fill="#ffaaaa"/>
<rect x="163.1" y="710.5" width="63.4" height="1.3" fill="#2a2aff"/>
<rect x="163.1" y="711.5" width="63.4" height="1.3" fill="#2929ff"/>
<rect x="163.1" y="712.5" width="63.4" height="3.3" fill="#1b1bff"/>
<rect x="163.1" y="715.5" width="63.4" height="1.3" fill="#2323ff"/>
<rect x="163.1" y="716.5" width="63.4" height="1.3" fill="#2d2dff"/>
<rect x="163.1" y="717.5" width="63.4" height="1.3" fill="#2424ff"/>
<rect x="163.1" y="718.5" width="63.4" height="1.8" fill="#2121ff"/>
<rect x="163.1" y="720.0" width="63.4" height="3.3" fill="#1c1cff"/>
<rect x="163.1" y="723.0" width="63.4" height="1.3" fill="#3434ff"/>
<rect x="163.1" y="724.0" width="63.4" height="1.8" fill="#3131ff"/>
<rect x="163.1" y="725.5" width="63.4" height="1.8" fill="#1e1eff"/>
<rect x="163.1" y="727.0" width="63.4" height="1.3" fill="#2424ff"/>
<rect x="163.1" y="728.0" width="63.4" height="2.3" fill="#1b1bff"/>
<rect x="163.1" y="730.0" width="63.4" height="2.3" fill="#2323ff"/>
<rect x="163.1" y="732.0" width="63.4" height="1.3" fill="#4c4cff"/>
<rect x="163.1" y="733.0" width="63.4" height="1.8" fill="#4b4bff"/>
<rect x="163.1" y="734.5" width="63.4" height="3.3" fill="#4c4cff"/>
<rect x="163.1" y="737.5" width="63.4" height="2.3" fill="#4040ff"/>
<rect x="163.1" y="739.5" width="63.4" height="1.8" fill="#4c4cff"/>
<rect x="163.1" y="741.0" width="63.4" height="1.3" fill="#4343ff"/>
<rect x="163.1" y="742.0" width="63.4" height="3.3" fill="#4545ff"/>
<rect x="163.1" y="745.0" width="63.4" height="1.8" fill="#4747ff"/>
<rect x="163.1" y="746.5" width="63.4" height="3.3" fill="#5252ff"/>
<rect x="163.1" y="749.5" width="63.4" height="1.8" fill="#4c4cff"/>
<rect x="163.1" y="751.0" width="63.4" height="1.3" fill="#4a4aff"/>
<rect x="163.1" y="752.0" width="63.4" height="2.3" fill="#4c4cff"/>
<rect x="163.1" y="754.0" width="63.4" height="2.3" fill="#5151ff"/>
<rect x="163.1" y="756.0" width="63.4" height="1.8" fill="#5454ff"/>
<rect x="163.1" y="757.5" width="63.4" height="3.3" fill="#4545ff"/>
<rect x="163.1" y="760.5" width="63.4" height="1.3" fill="#4b4bff"/>
<rect x="163.1" y="761.5" width="63.4" height="1.3" fill="#4141ff"/>
<rect x="163.1" y="762.5" width="63.4" height="0.8" fill="#5050ff"/>
<rect x="163.1" y="763.0" width="63.4" height="1.3" fill="#6262ff"/>
<rect x="163.1" y="764.0" width="63.4" height="3.3" fill="#6c6cff"/>
<rect x="163.1" y="767.0" width="63.4" height="1.3" fill="#8a8aff"/>
<rect x="163.1" y="768.0" width="63.4" height="1.3" fill="#6666ff"/>
<rect x="163.1" y="769.0" width="63.4" height="2.3" fill="#7676ff"/>
<rect x="163.1" y="771.0" width="63.4" height="1.8" fill="#7f7fff"/>
<rect x="163.1" y="772.5" width="63.4" height="1.3" fill="#7d7dff"/>
<rect x="163.1" y="773.5" width="63.4" height="1.3" fill="#8b8bff"/>
<rect x="163.1" y="774.5" width="63.4" height="2.3" fill="#6464ff"/>
<rect x="163.1" y="776.5" width="63.4" height="1.3" fill="#aaaaff"/>
<rect x="163.1" y="777.5" width="63.4" height="2.3" fill="#9e9eff"/>
<rect x="163.1" y="779.5" width="63.4" height="1.8" fill="#8f8fff"/>
<rect x="163.1" y="781.0" width="63.4" height="1.8" fill="#8d8dff"/>
<rect x="163.1" y="782.5" width="63.4" height="2.3" fill="#8d8dff"/>
<rect x="163.1" y="784.5" width="63.4" height="1.8" fill="#8d8dff"/>
<rect x="163.1" y="786.0" width="63.4" height="1.3" fill="#9393ff"/>
<rect x="163.1" y="787.0" width="63.4" height="1.3" fill="#9e9eff"/>
<rect x="226.2" y="101.5" width="63.4" height="1.3" fill="#a5a5ff"/>
<rect x="226.2" y="102.5" width="63.4" height="3.3" fill="#a1a1ff"/>
<rect x="226.2" y="105.5" width="63.4" height="1.2" fill="#bfbfff"/>
<rect x="226.2" y="106.4" width="63.4" height="1.3" fill="#ffe1e1"/>
<rect x="226.2" y="107.4" width="63.4" height="1.3" fill="#f4f4ff"/>
<rect x="226.2" y="108.4" width="63.4" height="2.3" fill="#f4f4ff"/>
<rect x="226.2" y="110.4" width="63.4" height="2.3" fill="#dedeff"/>
<rect x="226.2" y="112.4" width="63.4" height="1.3" fill="#ffe7e7"/>
<rect x="226.2" y="113.4" width="63.4" height="0.6" fill="#ffebeb"/>
<rect x="226.2" y="113.7" width="63.4" height="1.8" fill="#ffd9d9"/>
<rect x="226.2" y="115.2" width="63.4" height="0.9" fill="#ffe6e6"/>
<rect x="226.2" y="115.8" width="63.4" height="1.8" fill="#fff1f1"/>
<rect x="226.2" y="117.3" width="63.4" height="1.3" fill="#fff7f7"/>
<rect x="226.2" y="118.3" width="63.4" height="1.3" fill="#fffafa"/>
<rect x="226.2" y="119.3" width="63.4" height="2.3" fill="#fffefe"/>
<rect x="226.2" y="121.3" width="63.4" height="1.8" fill="#f8f8ff"/>
<rect x="226.2" y="122.8" width="63.4" height="1.6" fill="#f1f1ff"/>
<rect x="226.2" y="124.1" width="63.4" height="2.3" fill="#c4c4ff"/>
<rect x="226.2" y="126.1" width="63.4" height="1.3" fill="#a2a2ff"/>
<rect x="226.2" y="127.1" width="63.4" height="1.8" fill="#9c9cff"/>
<rect x="226.2" y="128.6" width="63.4" height="1.3" fill="#aeaeff"/>
<rect x="226.2" y="129.6" width="63.4" height="1.1" fill="#a2a2ff"/>
<rect x="226.2" y="130.4" width="63.4" height="2.3" fill="#d2d2ff"/>
<rect x="226.2" y="132.4" width="63.4" height="1.8" fill="#b2b2ff"/>
<rect x="226.2" y="133.9" width="63.4" height="3.3" fill="#d6d6ff"/>
<rect x="226.2" y="136.9" width="63.4" height="2.2" fill="#a1a1ff"/>
<rect x="226.2" y="138.8" width="63.4" height="2.3" fill="#b3b3ff"/>
<rect x="226.2" y="140.8" width="63.4" height="1.8" fill="#cbcbff"/>
<rect x="226.2" y="142.3" width="63.4" height="1.3" fill="#b7b7ff"/>
<rect x="226.2" y="143.3" width="63.4" height="1.3" fill="#cdcdff"/>
<rect x="226.2" y="144.3" width="63.4" height="3.3" fill="#c8c8ff"/>
<rect x="226.2" y="147.3" width="63.4" height="1.3" fill="#8c8cff"/>
<rect x="226.2" y="148.3" width="63.4" height="3.3" fill="#bbbbff"/>
<rect x="226.2" y="151.3" width="63.4" height="1.3" fill="#d3d3ff"/>
<rect x="226.2" y="152.3" width="63.4" height="1.3" fill="#b1b1ff"/>
<rect x="226.2" y="153.3" width="63.4" height="0.4" fill="#b1b1ff"/>
<rect x="226.2" y="153.4" width="63.4" height="2.3" fill="#9797ff"/>
<rect x="226.2" y="155.4" width="63.4" height="1.8" fill="#ababff"/>
<rect x="226.2" y="156.9" width="63.4" height="2.3" fill="#8989ff"/>
<rect x="226.2" y="158.9" width="63.4" height="1.3" fill="#9696ff"/>
<rect x="226.2" y="159.9" width="63.4" height="3.3" fill="#a1a1ff"/>
<rect x="226.2" y="162.9" width="63.4" height="2.3" fill="#7878ff"/>
<rect x="226.2" y="164.9" width="63.4" height="1.3" fill="#7f7fff"/>
<rect x="226.2" y="165.9" width="63.4" height="2.3" fill="#a5a5ff"/>
<rect x="226.2" y="167.9" width="63.4" height="2.3" fill="#9898ff"/>
<rect x="226.2" y="169.9" width="63.4" height="0.5" fill="#b4b4ff"/>
<rect x="226.2" y="170.1" width="63.4" height="2.3" fill="#6666ff"/>
<rect x="226.2" y="172.1" width="63.4" height="1.3" fill="#7c7cff"/>
<rect x="226.2" y="173.1" width="63.4" height="1.3" fill="#5e5eff"/>
<rect x="226.2" y="174.1" width="63.4" height="3.3" fill="#5d5dff"/>
<rect x="226.2" y="177.1" width="63.4" height="2.3" fill="#5858ff"/>
<rect x="226.2" y="179.1" width="63.4" height="1.3" fill="#5151ff"/>
<rect x="226.2" y="180.1" width="63.4" height="1.8" fill="#4545ff"/>
<rect x="226.2" y="181.6" width="63.4" height="2.3" fill="#3c3cff"/>
<rect x="226.2" y="183.6" width="63.4" height="3.3" fill="#2b2bff"/>
<rect x="226.2" y="186.6" width="63.4" height="0.5" fill="#2b2bff"/>
<rect x="226.2" y="186.8" width="63.4" height="1.3" fill="#fff0f0"/>
<rect x="226.2" y="187.8" width="63.4" height="1.3" fill="#ffdddd"/>
<rect x="226.2" y="188.8" width="63.4" height="1.8" fill="#ffe7e7"/>
<rect x="226.2" y="190.3" width="63.4" height="3.3" fill="#ffd4d4"/>
<rect x="226.2" y="193.3" width="63.4" height="1.8" fill="#ffffff"/>
<rect x="226.2" y="194.8" width="63.4" height="0.7" fill="#ffbbbb"/>
<rect x="226.2" y="195.2" width="63.4" height="2.3" fill="#ffc2c2"/>
<rect x="226.2" y="197.2" width="63.4" height="1.8" fill="#ffdada"/>
<rect x="226.2" y="198.7" width="63.4" height="1.3" fill="#ffc1c1"/>
<rect x="226.2" y="199.7" width="63.4" height="1.8" fill="#ffd3d3"/>
<rect x="226.2" y="201.2" width="63.4" height="0.5" fill="#ffebeb"/>
<rect x="226.2" y="201.4" width="63.4" height="1.3" fill="#f2f2ff"/>
<rect x="226.2" y="202.4" width="63.4" height="1.8" fill="#e6e6ff"/>
<rect x="226.2" y="203.9" width="63.4" height="2.3" fill="#dadaff"/>
<rect x="226.2" y="205.9" width="63.4" height="1.3" fill="#d0d0ff"/>
<rect x="226.2" y="206.9" width="63.4" height="1.3" fill="#dedeff"/>
<rect x="226.2" y="207.9" width="63.4" height="1.2" fill="#dcdcff"/>
<rect x="226.2" y="208.8" width="63.4" height="2.3" fill="#ceceff"/>
<rect x="226.2" y="210.8" width="63.4" height="1.3" fill="#afafff"/>
<rect x="226.2" y="211.8" width="63.4" height="1.8" fill="#bbbbff"/>
<rect x="226.2" y="213.3" width="63.4" height="3.3" fill="#bfbfff"/>
<rect x="226.2" y="216.3" width="63.4" height="1.3" fill="#b8b8ff"/>
<rect x="226.2" y="217.3" width="63.4" height="1.3" fill="#bfbfff"/>
<rect x="226.2" y="218.3" width="63.4" height="3.3" fill="#b2b2ff"/>
<rect x="226.2" y="221.3" width="63.4" height="1.8" fill="#c0c0ff"/>
<rect x="226.2" y="222.8" width="63.4" height="3.3" fill="#bdbdff"/>
<rect x="226.2" y="225.8" width="63.4" height="2.3" fill="#c4c4ff"/>
<rect x="226.2" y="227.8" width="63.4" height="3.3" fill="#bfbfff"/>
<rect x="226.2" y="230.8" width="63.4" height="3.3" fill="#ababff"/>
<rect x="226.2" y="233.8" width="63.4" height="1.3" fill="#c0c0ff"/>
<rect x="226.2" y="234.8" width="63.4" height="2.3" fill="#babaff"/>
<rect x="226.2" y="236.8" width="63.4" height="3.3" fill="#d5d5ff"/>
<rect x="226.2" y="239.8" width="63.4" height="1.3" fill="#cbcbff"/>
<rect x="226.2" y="240.8" width="63.4" height="1.3" fill="#bcbcff"/>
<rect x="226.2" y="241.8" width="63.4" height="2.3" fill="#b0b0ff"/>
<rect x="226.2" y="243.8" width="63.4" height="0.8" fill="#babaff"/>
<rect x="226.2" y="244.3" width="63.4" height="1.3" fill="#9e9eff"/>
<rect x="226.2" y="245.3" width="63.4" height="1.3" fill="#8e8eff"/>
<rect x="226.2" y="246.3" width="63.4" height="1.3" fill="#bbbbff"/>
<rect x="226.2" y="247.3" width="63.4" height="2.3" fill="#8383ff"/>
<rect x="226.2" y="249.3" width="63.4" height="2.3" fill="#9b9bff"/>
<rect x="226.2" y="251.3" width="63.4" height="2.3" fill="#8f8fff"/>
<rect x="226.2" y="253.3" width="63.4" height="1.3" fill="#8181ff"/>
<rect x="226.2" y="254.3" width="63.4" height="1.3" fill="#7f7fff"/>
<rect x="226.2" y="255.3" width="63.4" height="1.8" fill="#8383ff"/>
<rect x="226.2" y="256.8" width="63.4" height="1.3" fill="#cfcfff"/>
<rect x="226.2" y="257.8" width="63.4" height="1.8" fill="#e0e0ff"/>
<rect x="226.2" y="259.3" width="63.4" height="1.3" fill="#b9b9ff"/>
<rect x="226.2" y="260.3" width="63.4" height="3.3" fill="#d7d7ff"/>
<rect x="226.2" y="263.3" width="63.4" height="1.3" fill="#cbcbff"/>
<rect x="226.2" y="264.3" width="63.4" height="1.8" fill="#babaff"/>
<rect x="226.2" y="265.8" width="63.4" height="1.3" fill="#ebebff"/>
<rect x="226.2" y="266.8" width="63.4" height="1.7" fill="#dcdcff"/>
<rect x="226.2" y="268.2" width="63.4" height="1.8" fill="#f8f8ff"/>
<rect x="226.2" y="269.7" width="63.4" height="1.8" fill="#fff5f5"/>
<rect x="226.2" y="271.2" width="63.4" height="3.3" fill="#f1f1ff"/>
<rect x="226.2" y="274.2" width="63.4" height="2.3" fill="#dadaff"/>
<rect x="226.2" y="276.2" width="63.4" height="3.3" fill="#e9e9ff"/>
<rect x="226.2" y="279.2" width="63.4" height="2.3" fill="#ffeded"/>
<rect x="226.2" y="281.2" width="63.4" height="1.9" fill="#ebebff"/>
<rect x="226.2" y="282.8" width="63.4" height="1.8" fill="#8383ff"/>
<rect x="226.2" y="284.3" width="63.4" height="2.3" fill="#9898ff"/>
<rect x="226.2" y="286.3" width="63.4" height="2.3" fill="#a0a0ff"/>
<rect x="226.2" y="288.3" width="63.4" height="2.3" fill="#8c8cff"/>
<rect x="226.2" y="290.3" width="63.4" height="2.3" fill="#9b9bff"/>
<rect x="226.2" y="292.3" width="63.4" height="3.3" fill="#6d6dff"/>
<rect x="226.2" y="295.3" width="63.4" height="1.3" fill="#9191ff"/>
<rect x="226.2" y="296.3" width="63.4" height="1.8" fill="#a3a3ff"/>
<rect x="226.2" y="297.8" width="63.4" height="3.3" fill="#8282ff"/>
<rect x="226.2" y="300.8" width="63.4" height="1.3" fill="#8585ff"/>
<rect x="226.2" y="301.8" width="63.4" height="1.3" fill="#8b8bff"/>
<rect x="226.2" y="302.8" width="63.4" height="2.3" fill="#8989ff"/>
<rect x="226.2" y="304.8" width="63.4" height="1.3" fill="#9494ff"/>
<rect x="226.2" y="305.8" width="63.4" height="3.3" fill="#8c8cff"/>
<rect x="226.2" y="308.8" width="63.4" height="0.4" fill="#8484ff"/>
<rect x="226.2" y="308.9" width="63.4" height="2.3" fill="#e5e5ff"/>
<rect x="226.2" y="310.9" width="63.4" height="3.3" fill="#bdbdff"/>
<rect x="226.2" y="313.9" width="63.4" height="1.3" fill="#f9f9ff"/>
<rect x="226.2" y="314.9" width="63.4" height="0.6" fill="#ceceff"/>
<rect x="226.2" y="315.2" width="63.4" height="2.3" fill="#fff8f8"/>
<rect x="226.2" y="317.2" width="63.4" height="1.8" fill="#f9f9ff"/>
<rect x="226.2" y="318.7" width="63.4" height="1.3" fill="#fff5f5"/>
<rect x="226.2" y="319.7" width="63.4" height="1.0" fill="#ffcece"/>
<rect x="226.2" y="320.4" width="63.4" height="1.8" fill="#1f1fff"/>
<rect x="226.2" y="321.9" width="63.4" height="3.3" fill="#4545ff"/>
<rect x="226.2" y="324.9" width="63.4" height="1.8" fill="#3838ff"/>
<rect x="226.2" y="326.4" width="63.4" height="2.3" fill="#2727ff"/>
<rect x="226.2" y="328.4" width="63.4" height="1.3" fill="#2222ff"/>
<rect x="226.2" y="329.4" width="63.4" height="3.3" fill="#3333ff"/>
<rect x="226.2" y="332.4" width="63.4" height="2.3" fill="#2323ff"/>
<rect x="226.2" y="334.4" width="63.4" height="0.9" fill="#2e2eff"/>
<rect x="226.2" y="335.0" width="63.4" height="3.3" fill="#9090ff"/>
<rect x="226.2" y="338.0" width="63.4" height="1.8" fill="#5c5cff"/>
<rect x="226.2" y="339.5" width="63.4" height="1.3" fill="#6d6dff"/>
<rect x="226.2" y="340.5" width="63.4" height="1.3" fill="#8989ff"/>
<rect x="226.2" y="341.5" width="63.4" height="1.8" fill="#7b7bff"/>
<rect x="226.2" y="343.0" width="63.4" height="2.3" fill="#7272ff"/>
<rect x="226.2" y="345.0" width="63.4" height="1.8" fill="#7979ff"/>
<rect x="226.2" y="346.5" width="63.4" height="1.3" fill="#6b6bff"/>
<rect x="226.2" y="347.5" width="63.4" height="3.3" fill="#6767ff"/>
<rect x="226.2" y="350.5" width="63.4" height="2.3" fill="#8181ff"/>
<rect x="226.2" y="352.5" width="63.4" height="3.3" fill="#9494ff"/>
<rect x="226.2" y="355.5" width="63.4" height="1.3" fill="#6868ff"/>
<rect x="226.2" y="356.5" width="63.4" height="1.8" fill="#7e7eff"/>
<rect x="226.2" y="358.0" width="63.4" height="1.3" fill="#3434ff"/>
<rect x="226.2" y="359.0" width="63.4" height="2.3" fill="#4646ff"/>
<rect x="226.2" y="361.0" width="63.4" height="1.3" fill="#3737ff"/>
<rect x="226.2" y="362.0" width="63.4" height="2.3" fill="#4949ff"/>
<rect x="226.2" y="364.0" width="63.4" height="0.6" fill="#3b3bff"/>
<rect x="226.2" y="364.3" width="63.4" height="1.8" fill="#ff9797"/>
<rect x="226.2" y="365.8" width="63.4" height="2.3" fill="#ffb4b4"/>
<rect x="226.2" y="367.8" width="63.4" height="1.3" fill="#ff9d9d"/>
<rect x="226.2" y="368.8" width="63.4" height="2.3" fill="#ffc1c1"/>
<rect x="226.2" y="370.8" width="63.4" height="1.3" fill="#ffc4c4"/>
<rect x="226.2" y="371.8" width="63.4" height="2.3" fill="#ffa0a0"/>
<rect x="226.2" y="373.8" width="63.4" height="1.3" fill="#ff9a9a"/>
<rect x="226.2" y="374.8" width="63.4" height="2.3" fill="#fff3f3"/>
<rect x="226.2" y="376.8" width="63.4" height="1.8" fill="#ffe9e9"/>
<rect x="226.2" y="378.3" width="63.4" height="2.3" fill="#fff0f0"/>
<rect x="226.2" y="380.3" width="63.4" height="1.0" fill="#ffd9d9"/>
<rect x="226.2" y="381.0" width="63.4" height="2.3" fill="#c6c6ff"/>
<rect x="226.2" y="383.0" width="63.4" height="1.3" fill="#d4d4ff"/>
<rect x="226.2" y="384.0" width="63.4" height="2.3" fill="#cbcbff"/>
<rect x="226.2" y="386.0" width="63.4" height="1.8" fill="#d7d7ff"/>
<rect x="226.2" y="387.5" width="63.4" height="1.8" fill="#bfbfff"/>
<rect x="226.2" y="389.0" width="63.4" height="2.3" fill="#ccccff"/>
<rect x="226.2" y="391.0" width="63.4" height="1.3" fill="#acacff"/>
<rect x="226.2" y="392.0" width="63.4" height="1.3" fill="#bcbcff"/>
<rect x="226.2" y="393.0" width="63.4" height="0.9" fill="#ddddff"/>
<rect x="226.2" y="393.6" width="63.4" height="1.8" fill="#fff0f0"/>
<rect x="226.2" y="395.1" width="63.4" height="2.3" fill="#f6f6ff"/>
<rect x="226.2" y="397.1" width="63.4" height="3.3" fill="#c9c9ff"/>
<rect x="226.2" y="400.1" width="63.4" height="2.3" fill="#ebebff"/>
<rect x="226.2" y="402.1" width="63.4" height="1.8" fill="#f3f3ff"/>
<rect x="226.2" y="403.6" width="63.4" height="2.3" fill="#dadaff"/>
<rect x="226.2" y="405.6" width="63.4" height="0.8" fill="#f9f9ff"/>
<rect x="226.2" y="406.1" width="63.4" height="1.8" fill="#ffdddd"/>
<rect x="226.2" y="407.6" width="63.4" height="1.3" fill="#ffbebe"/>
<rect x="226.2" y="408.6" width="63.4" height="2.3" fill="#ffcfcf"/>
<rect x="226.2" y="410.6" width="63.4" height="3.3" fill="#ffb5b5"/>
<rect x="226.2" y="413.6" width="63.4" height="2.3" fill="#fff1f1"/>
<rect x="226.2" y="415.6" width="63.4" height="1.8" fill="#ffcdcd"/>
<rect x="226.2" y="417.1" width="63.4" height="1.3" fill="#ffcfcf"/>
<rect x="226.2" y="418.1" width="63.4" height="2.3" fill="#ffd6d6"/>
<rect x="226.2" y="420.1" width="63.4" height="2.3" fill="#fdfdff"/>
<rect x="226.2" y="422.1" width="63.4" height="1.0" fill="#ffcbcb"/>
<rect x="226.2" y="422.8" width="63.4" height="1.3" fill="#d0d0ff"/>
<rect x="226.2" y="423.8" width="63.4" height="2.3" fill="#cdcdff"/>
<rect x="226.2" y="425.8" width="63.4" height="3.3" fill="#c8c8ff"/>
<rect x="226.2" y="428.8" width="63.4" height="1.5" fill="#b0b0ff"/>
<rect x="226.2" y="430.0" width="63.4" height="1.3" fill="#a5a5ff"/>
<rect x="226.2" y="431.0" width="63.4" height="2.3" fill="#8b8bff"/>
<rect x="226.2" y="433.0" width="63.4" height="1.3" fill="#7777ff"/>
<rect x="226.2" y="434.0" width="63.4" height="3.3" fill="#9595ff"/>
<rect x="226.2" y="437.0" width="63.4" height="1.3" fill="#9696ff"/>
<rect x="226.2" y="438.0" width="63.4" height="1.3" fill="#8686ff"/>
<rect x="226.2" y="439.0" width="63.4" height="3.3" fill="#9393ff"/>
<rect x="226.2" y="442.0" width="63.4" height="2.3" fill="#a6a6ff"/>
<rect x="226.2" y="444.0" width="63.4" height="2.3" fill="#a0a0ff"/>
<rect x="226.2" y="446.0" width="63.4" height="1.3" fill="#9f9fff"/>
<rect x="226.2" y="447.0" width="63.4" height="2.3" fill="#9a9aff"/>
<rect x="226.2" y="449.0" width="63.4" height="1.3" fill="#9090ff"/>
<rect x="226.2" y="450.0" width="63.4" height="1.3" fill="#9292ff"/>
<rect x="226.2" y="451.0" width="63.4" height="3.3" fill="#9595ff"/>
<rect x="226.2" y="454.0" width="63.4" height="1.3" fill="#9292ff"/>
<rect x="226.2" y="455.0" width="63.4" height="1.3" fill="#8484ff"/>
<rect x="226.2" y="456.0" width="63.4" height="2.3" fill="#9191ff"/>
<rect x="226.2" y="458.0" width="63.4" height="2.3" fill="#8787ff"/>
<rect x="226.2" y="460.0" width="63.4" height="1.3" fill="#b6b6ff"/>
<rect x="226.2" y="461.0" width="63.4" height="3.3" fill="#9797ff"/>
<rect x="226.2" y="464.0" width="63.4" height="1.3" fill="#9292ff"/>
<rect x="226.2" y="465.0" width="63.4" height="1.3" fill="#a1a1ff"/>
<rect x="226.2" y="466.0" width="63.4" height="1.3" fill="#a5a5ff"/>
<rect x="226.2" y="467.0" width="63.4" height="1.8" fill="#9696ff"/>
<rect x="226.2" y="468.5" width="63.4" height="1.3" fill="#9292ff"/>
<rect x="226.2" y="469.5" width="63.4" height="1.8" fill="#a3a3ff"/>
<rect x="226.2" y="471.0" width="63.4" height="2.3" fill="#7b7bff"/>
<rect x="226.2" y="473.0" width="63.4" height="3.3" fill="#adadff"/>
<rect x="226.2" y="476.0" width="63.4" height="1.3" fill="#ff9494"/>
<rect x="226.2" y="477.0" width="63.4" height="2.3" fill="#ff8383"/>
<rect x="226.2" y="479.0" width="63.4" height="2.3" fill="#ff8787"/>
<rect x="226.2" y="481.0" width="63.4" height="1.3" fill="#ff9999"/>
<rect x="226.2" y="482.0" width="63.4" height="1.3" fill="#ff7b7b"/>
<rect x="226.2" y="483.0" width="63.4" height="1.8" fill="#ff8888"/>
<rect x="226.2" y="484.5" width="63.4" height="2.3" fill="#ff9e9e"/>
<rect x="226.2" y="486.5" width="63.4" height="1.3" fill="#ffa5a5"/>
<rect x="226.2" y="487.5" width="63.4" height="1.3" fill="#ff8181"/>
<rect x="226.2" y="488.5" width="63.4" height="2.3" fill="#ff6666"/>
<rect x="226.2" y="490.5" width="63.4" height="3.3" fill="#ff6464"/>
<rect x="226.2" y="493.5" width="63.4" height="1.8" fill="#ff6161"/>
<rect x="226.2" y="495.0" width="63.4" height="1.3" fill="#ff7070"/>
<rect x="226.2" y="496.0" width="63.4" height="1.2" fill="#ff6363"/>
<rect x="226.2" y="496.9" width="63.4" height="1.8" fill="#ffe3e3"/>
<rect x="226.2" y="498.4" width="63.4" height="2.3" fill="#ffecec"/>
<rect x="226.2" y="500.4" width="63.4" height="1.8" fill="#ffebeb"/>
<rect x="226.2" y="501.9" width="63.4" height="2.3" fill="#ffe4e4"/>
<rect x="226.2" y="503.9" width="63.4" height="2.3" fill="#e9e9ff"/>
<rect x="226.2" y="505.9" width="63.4" height="2.3" fill="#ffe4e4"/>
<rect x="226.2" y="507.9" width="63.4" height="1.3" fill="#ffebeb"/>
<rect x="226.2" y="508.9" width="63.4" height="2.3" fill="#fff3f3"/>
<rect x="226.2" y="510.9" width="63.4" height="3.3" fill="#ffe8e8"/>
<rect x="226.2" y="513.9" width="63.4" height="1.3" fill="#ffe9e9"/>
<rect x="226.2" y="514.9" width="63.4" height="2.3" fill="#fff2f2"/>
<rect x="226.2" y="516.9" width="63.4" height="1.2" fill="#ffefef"/>
<rect x="226.2" y="517.8" width="63.4" height="2.3" fill="#ffb8b8"/>
<rect x="226.2" y="519.8" width="63.4" height="1.3" fill="#ffc1c1"/>
<rect x="226.2" y="520.8" width="63.4" height="3.3" fill="#ffbcbc"/>
<rect x="226.2" y="523.8" width="63.4" height="1.3" fill="#ffd3d3"/>
<rect x="226.2" y="524.8" width="63.4" height="2.3" fill="#ffb2b2"/>
<rect x="226.2" y="526.8" width="63.4" height="3.3" fill="#ffbfbf"/>
<rect x="226.2" y="529.8" width="63.4" height="1.3" fill="#ffcaca"/>
<rect x="226.2" y="530.8" width="63.4" height="1.3" fill="#ffb9b9"/>
<rect x="226.2" y="531.8" width="63.4" height="1.3" fill="#ffa6a6"/>
<rect x="226.2" y="532.8" width="63.4" height="3.3" fill="#ffbcbc"/>
<rect x="226.2" y="535.8" width="63.4" height="1.8" fill="#ffbcbc"/>
<rect x="226.2" y="537.3" width="63.4" height="2.3" fill="#ffc9c9"/>
<rect x="226.2" y="539.3" width="63.4" height="1.3" fill="#ff9d9d"/>
<rect x="226.2" y="540.3" width="63.4" height="1.3" fill="#ffd4d4"/>
<rect x="226.2" y="541.3" width="63.4" height="1.3" fill="#ffadad"/>
<rect x="226.2" y="542.3" width="63.4" height="1.3" fill="#ffa7a7"/>
<rect x="226.2" y="543.3" width="63.4" height="2.3" fill="#ffafaf"/>
<rect x="226.2" y="545.3" width="63.4" height="3.3" fill="#ffd1d1"/>
<rect x="226.2" y="548.3" width="63.4" height="1.3" fill="#ffbcbc"/>
<rect x="226.2" y="549.3" width="63.4" height="2.3" fill="#ffabab"/>
<rect x="226.2" y="551.3" width="63.4" height="1.3" fill="#ffa5a5"/>
<rect x="226.2" y="552.3" width="63.4" height="1.3" fill="#ff9e9e"/>
<rect x="226.2" y="553.3" width="63.4" height="2.3" fill="#ffa8a8"/>
<rect x="226.2" y="555.3" width="63.4" height="0.4" fill="#ffbaba"/>
<rect x="226.2" y="555.4" width="63.4" height="3.3" fill="#4c4cff"/>
<rect x="226.2" y="558.4" width="63.4" height="3.3" fill="#5b5bff"/>
<rect x="226.2" y="561.4" width="63.4" height="1.3" fill="#5151ff"/>
<rect x="226.2" y="562.4" width="63.4" height="1.3" fill="#5454ff"/>
<rect x="226.2" y="563.4" width="63.4" height="0.7" fill="#4b4bff"/>
<rect x="226.2" y="563.8" width="63.4" height="1.3" fill="#ffe0e0"/>
<rect x="226.2" y="564.8" width="63.4" height="1.8" fill="#ffd3d3"/>
<rect x="226.2" y="566.3" width="63.4" height="3.3" fill="#ffd4d4"/>
<rect x="226.2" y="569.3" width="63.4" height="2.3" fill="#fffdfd"/>
<rect x="226.2" y="571.3" width="63.4" height="1.8" fill="#fff1f1"/>
<rect x="226.2" y="572.8" width="63.4" height="1.3" fill="#ffefef"/>
<rect x="226.2" y="573.8" width="63.4" height="1.3" fill="#fbfbff"/>
<rect x="226.2" y="574.8" width="63.4" height="1.3" fill="#ededff"/>
<rect x="226.2" y="575.8" width="63.4" height="0.8" fill="#ffecec"/>
<rect x="226.2" y="576.3" width="63.4" height="2.3" fill="#c8c8ff"/>
<rect x="226.2" y="578.3" width="63.4" height="1.3" fill="#cdcdff"/>
<rect x="226.2" y="579.3" width="63.4" height="2.3" fill="#cacaff"/>
<rect x="226.2" y="581.3" width="63.4" height="1.3" fill="#f3f3ff"/>
<rect x="226.2" y="582.3" width="63.4" height="0.6" fill="#d3d3ff"/>
<rect x="226.2" y="582.6" width="63.4" height="2.3" fill="#4e4eff"/>
<rect x="226.2" y="584.6" width="63.4" height="1.3" fill="#5757ff"/>
<rect x="226.2" y="585.6" width="63.4" height="1.3" fill="#4e4eff"/>
<rect x="226.2" y="586.6" width="63.4" height="0.4" fill="#4e4eff"/>
<rect x="226.2" y="586.7" width="63.4" height="1.8" fill="#c9c9ff"/>
<rect x="226.2" y="588.2" width="63.4" height="2.3" fill="#b0b0ff"/>
<rect x="226.2" y="590.2" width="63.4" height="1.8" fill="#c1c1ff"/>
<rect x="226.2" y="591.7" width="63.4" height="0.6" fill="#d8d8ff"/>
<rect x="226.2" y="592.0" width="63.4" height="1.3" fill="#ff7373"/>
<rect x="226.2" y="593.0" width="63.4" height="3.3" fill="#ff8e8e"/>
<rect x="226.2" y="596.0" width="63.4" height="2.3" fill="#ff8a8a"/>
<rect x="226.2" y="598.0" width="63.4" height="1.3" fill="#ff8282"/>
<rect x="226.2" y="599.0" width="63.4" height="0.9" fill="#ff9d9d"/>
<rect x="226.2" y="599.6" width="63.4" height="1.3" fill="#ffbbbb"/>
<rect x="226.2" y="600.6" width="63.4" height="1.3" fill="#ffcbcb"/>
<rect x="226.2" y="601.6" width="63.4" height="2.3" fill="#ffd5d5"/>
<rect x="226.2" y="603.6" width="63.4" height="2.3" fill="#ffd6d6"/>
<rect x="226.2" y="605.6" width="63.4" height="1.8" fill="#ffb7b7"/>
<rect x="226.2" y="607.1" width="63.4" height="3.3" fill="#ffc2c2"/>
<rect x="226.2" y="610.1" width="63.4" height="1.3" fill="#ffdfdf"/>
<rect x="226.2" y="611.1" width="63.4" height="1.3" fill="#ffbcbc"/>
<rect x="226.2" y="612.1" width="63.4" height="1.8" fill="#ffb7b7"/>
<rect x="226.2" y="613.6" width="63.4" height="2.3" fill="#ffcece"/>
<rect x="226.2" y="615.6" width="63.4" height="1.8" fill="#ffcbcb"/>
<rect x="226.2" y="617.1" width="63.4" height="1.3" fill="#ffc9c9"/>
<rect x="226.2" y="618.1" width="63.4" height="1.3" fill="#ffc7c7"/>
<rect x="226.2" y="619.1" width="63.4" height="2.3" fill="#ffc4c4"/>
<rect x="226.2" y="621.1" width="63.4" height="1.3" fill="#ffd5d5"/>
<rect x="226.2" y="622.1" width="63.4" height="0.4" fill="#ffc4c4"/>
<rect x="226.2" y="622.2" width="63.4" height="2.3" fill="#ff2121"/>
<rect x="226.2" y="624.2" width="63.4" height="1.3" fill="#ff2626"/>
<rect x="226.2" y="625.2" width="63.4" height="1.8" fill="#ff2c2c"/>
<rect x="226.2" y="626.7" width="63.4" height="1.3" fill="#ff2424"/>
<rect x="226.2" y="627.7" width="63.4" height="1.3" fill="#ff2929"/>
<rect x="226.2" y="628.7" width="63.4" height="1.3" fill="#ff3232"/>
<rect x="226.2" y="629.7" width="63.4" height="1.3" fill="#ff1313"/>
<rect x="226.2" y="630.7" width="63.4" height="2.3" fill="#ff2525"/>
<rect x="226.2" y="632.7" width="63.4" height="3.3" fill="#ff3333"/>
<rect x="226.2" y="635.7" width="63.4" height="1.3" fill="#ff2d2d"/>
<rect x="226.2" y="636.7" width="63.4" height="1.3" fill="#ff2727"/>
<rect x="226.2" y="637.7" width="63.4" height="1.8" fill="#ff2c2c"/>
<rect x="226.2" y="639.2" width="63.4" height="1.3" fill="#ff3232"/>
<rect x="226.2" y="640.2" width="63.4" height="1.3" fill="#ff2222"/>
<rect x="226.2" y="641.2" width="63.4" height="1.8" fill="#ff2b2b"/>
<rect x="226.2" y="642.7" width="63.4" height="3.3" fill="#ff2929"/>
<rect x="226.2" y="645.7" width="63.4" height="2.3" fill="#ff2626"/>
<rect x="226.2" y="647.7" width="63.4" height="1.1" fill="#ff2121"/>
<rect x="226.2" y="648.5" width="63.4" height="3.3" fill="#ff7a7a"/>
<rect x="226.2" y="651.5" width="63.4" height="1.3" fill="#ffa4a4"/>
<rect x="226.2" y="652.5" width="63.4" height="2.3" fill="#ff8b8b"/>
<rect x="226.2" y="654.5" width="63.4" height="1.3" fill="#ff8181"/>
<rect x="226.2" y="655.5" width="63.4" height="2.3" fill="#ff8686"/>
<rect x="226.2" y="657.5" width="63.4" height="1.8" fill="#ff9292"/>
<rect x="226.2" y="659.0" width="63.4" height="1.8" fill="#ff6e6e"/>
<rect x="226.2" y="660.5" width="63.4" height="2.3" fill="#ff7979"/>
<rect x="226.2" y="662.5" width="63.4" height="1.3" fill="#ff5f5f"/>
<rect x="226.2" y="663.5" width="63.4" height="2.3" fill="#ff8484"/>
<rect x="226.2" y="665.5" width="63.4" height="2.3" fill="#ff6a6a"/>
<rect x="226.2" y="667.5" width="63.4" height="1.3" fill="#ff8181"/>
<rect x="226.2" y="668.5" width="63.4" height="1.8" fill="#ff9191"/>
<rect x="226.2" y="670.0" width="63.4" height="1.8" fill="#ffe8e8"/>
<rect x="226.2" y="671.5" width="63.4" height="1.3" fill="#ffdcdc"/>
<rect x="226.2" y="672.5" width="63.4" height="3.3" fill="#ffc2c2"/>
<rect x="226.2" y="675.5" width="63.4" height="1.8" fill="#ffe9e9"/>
<rect x="226.2" y="677.0" width="63.4" height="1.3" fill="#ffeded"/>
<rect x="226.2" y="678.0" width="63.4" height="2.3" fill="#ffd3d3"/>
<rect x="226.2" y="680.0" width="63.4" height="1.8" fill="#ffe2e2"/>
<rect x="226.2" y="681.5" width="63.4" height="0.7" fill="#ffe7e7"/>
<rect x="226.2" y="681.9" width="63.4" height="1.3" fill="#ffc7c7"/>
<rect x="226.2" y="682.9" width="63.4" height="3.3" fill="#ffa0a0"/>
<rect x="226.2" y="685.9" width="63.4" height="2.3" fill="#ffaaaa"/>
<rect x="226.2" y="687.9" width="63.4" height="1.3" fill="#ffcaca"/>
<rect x="226.2" y="688.9" width="63.4" height="2.3" fill="#ffd4d4"/>
<rect x="226.2" y="690.9" width="63.4" height="1.3" fill="#ffa9a9"/>
<rect x="226.2" y="691.9" width="63.4" height="2.2" fill="#ffc2c2"/>
<rect x="226.2" y="693.8" width="63.4" height="2.3" fill="#e4e4ff"/>
<rect x="226.2" y="695.8" width="63.4" height="1.8" fill="#e7e7ff"/>
<rect x="226.2" y="697.3" width="63.4" height="1.3" fill="#ceceff"/>
<rect x="226.2" y="698.3" width="63.4" height="3.0" fill="#afafff"/>
<rect x="226.2" y="701.0" width="63.4" height="2.3" fill="#ffdede"/>
<rect x="226.2" y="703.0" width="63.4" height="3.3" fill="#ffd9d9"/>
<rect x="226.2" y="706.0" width="63.4" height="2.3" fill="#fff4f4"/>
<rect x="226.2" y="708.0" width="63.4" height="2.3" fill="#ffbebe"/>
<rect x="226.2" y="710.0" width="63.4" height="0.8" fill="#ffdfdf"/>
<rect x="226.2" y="710.5" width="63.4" height="1.8" fill="#ff8a8a"/>
<rect x="226.2" y="712.0" width="63.4" height="1.3" fill="#ff8686"/>
<rect x="226.2" y="713.0" width="63.4" height="2.3" fill="#ff7171"/>
<rect x="226.2" y="715.0" width="63.4" height="1.3" fill="#ff7777"/>
<rect x="226.2" y="716.0" width="63.4" height="3.3" fill="#ff9797"/>
<rect x="226.2" y="719.0" width="63.4" height="3.3" fill="#ff6f6f"/>
<rect x="226.2" y="722.0" width="63.4" height="2.3" fill="#ff7f7f"/>
<rect x="226.2" y="724.0" width="63.4" height="3.3" fill="#ff9898"/>
<rect x="226.2" y="727.0" width="63.4" height="2.3" fill="#ffacac"/>
<rect x="226.2" y="729.0" width="63.4" height="2.3" fill="#ff7c7c"/>
<rect x="226.2" y="731.0" width="63.4" height="1.3" fill="#ff8b8b"/>
<rect x="226.2" y="732.0" width="63.4" height="1.8" fill="#ff5959"/>
<rect x="226.2" y="733.5" width="63.4" height="2.3" fill="#ff5f5f"/>
<rect x="226.2" y="735.5" width="63.4" height="1.8" fill="#ff4545"/>
<rect x="226.2" y="737.0" width="63.4" height="1.3" fill="#ff4f4f"/>
<rect x="226.2" y="738.0" width="63.4" height="1.3" fill="#ff4848"/>
<rect x="226.2" y="739.0" width="63.4" height="0.4" fill="#ff5656"/>
<rect x="226.2" y="739.1" width="63.4" height="2.3" fill="#ff7a7a"/>
<rect x="226.2" y="741.1" width="63.4" height="2.3" fill="#ff6e6e"/>
<rect x="226.2" y="743.1" width="63.4" height="1.3" fill="#ff6868"/>
<rect x="226.2" y="744.1" width="63.4" height="2.3" fill="#ff6f6f"/>
<rect x="226.2" y="746.1" width="63.4" height="2.3" fill="#ff6868"/>
<rect x="226.2" y="748.1" width="63.4" height="1.8" fill="#ff7474"/>
<rect x="226.2" y="749.6" width="63.4" height="1.3" fill="#ff7d7d"/>
<rect x="226.2" y="750.6" width="63.4" height="3.3" fill="#ff8989"/>
<rect x="226.2" y="753.6" width="63.4" height="2.3" fill="#ff7474"/>
<rect x="226.2" y="755.6" width="63.4" height="3.3" fill="#ff7f7f"/>
<rect x="226.2" y="758.6" width="63.4" height="3.3" fill="#ff5959"/>
<rect x="226.2" y="761.6" width="63.4" height="1.3" fill="#ff6f6f"/>
<rect x="226.2" y="762.6" width="63.4" height="2.3" fill="#ff7d7d"/>
<rect x="226.2" y="764.6" width="63.4" height="1.8" fill="#ff4d4d"/>
<rect x="226.2" y="766.1" width="63.4" height="1.3" fill="#ff7171"/>
<rect x="226.2" y="767.1" width="63.4" height="2.3" fill="#ff5454"/>
<rect x="226.2" y="769.1" width="63.4" height="2.3" fill="#ff7d7d"/>
<rect x="226.2" y="771.1" width="63.4" height="1.7" fill="#ff6969"/>
<rect x="226.2" y="772.5" width="63.4" height="2.3" fill="#ff5353"/>
<rect x="226.2" y="774.5" width="63.4" height="1.3" fill="#ff4141"/>
<rect x="226.2" y="775.5" width="63.4" height="2.3" fill="#ff6060"/>
<rect x="226.2" y="777.5" width="63.4" height="1.3" fill="#ff5f5f"/>
<rect x="226.2" y="778.5" width="63.4" height="1.3" fill="#ff4e4e"/>
<rect x="226.2" y="779.5" width="63.4" height="3.3" fill="#ff6666"/>
<rect x="226.2" y="782.5" width="63.4" height="1.8" fill="#ff6161"/>
<rect x="226.2" y="784.0" width="63.4" height="2.3" fill="#ff7979"/>
<rect x="226.2" y="786.0" width="63.4" height="2.3" fill="#ff5252"/>
<rect x="289.3" y="101.5" width="63.4" height="2.3" fill="#5050ff"/>
<rect x="289.3" y="103.5" width="63.4" height="1.3" fill="#8080ff"/>
<rect x="289.3" y="104.5" width="63.4" height="2.2" fill="#5050ff"/>
<rect x="289.3" y="106.4" width="63.4" height="2.3" fill="#3a3aff"/>
<rect x="289.3" y="108.4" width="63.4" height="2.3" fill="#3535ff"/>
<rect x="289.3" y="110.4" width="63.4" height="1.8" fill="#3737ff"/>
<rect x="289.3" y="111.9" width="63.4" height="2.1" fill="#2d2dff"/>
<rect x="289.3" y="113.7" width="63.4" height="3.3" fill="#7474ff"/>
<rect x="289.3" y="116.7" width="63.4" height="2.3" fill="#7373ff"/>
<rect x="289.3" y="118.7" width="63.4" height="3.3" fill="#9696ff"/>
<rect x="289.3" y="121.7" width="63.4" height="2.3" fill="#8888ff"/>
<rect x="289.3" y="123.7" width="63.4" height="1.8" fill="#7e7eff"/>
<rect x="289.3" y="125.2" width="63.4" height="3.3" fill="#7c7cff"/>
<rect x="289.3" y="128.2" width="63.4" height="1.3" fill="#6e6eff"/>
<rect x="289.3" y="129.2" width="63.4" height="2.3" fill="#7979ff"/>
<rect x="289.3" y="131.2" width="63.4" height="1.3" fill="#7b7bff"/>
<rect x="289.3" y="132.2" width="63.4" height="1.3" fill="#6363ff"/>
<rect x="289.3" y="133.2" width="63.4" height="1.8" fill="#7d7dff"/>
<rect x="289.3" y="134.7" width="63.4" height="1.8" fill="#7f7fff"/>
<rect x="289.3" y="136.2" width="63.4" height="1.3" fill="#8e8eff"/>
<rect x="289.3" y="137.2" width="63.4" height="1.9" fill="#a2a2ff"/>
<rect x="289.3" y="138.8" width="63.4" height="1.3" fill="#c2c2ff"/>
<rect x="289.3" y="139.8" width="63.4" height="2.3" fill="#b7b7ff"/>
<rect x="289.3" y="141.8" width="63.4" height="3.3" fill="#cfcfff"/>
<rect x="289.3" y="144.8" width="63.4" height="1.3" fill="#b4b4ff"/>
<rect x="289.3" y="145.8" width="63.4" height="1.8" fill="#b8b8ff"/>
<rect x="289.3" y="147.3" width="63.4" height="2.3" fill="#b3b3ff"/>
<rect x="289.3" y="149.3" width="63.4" height="2.3" fill="#a5a5ff"/>
<rect x="289.3" y="151.3" width="63.4" height="1.3" fill="#9e9eff"/>
<rect x="289.3" y="152.3" width="63.4" height="3.3" fill="#bfbfff"/>
<rect x="289.3" y="155.3" width="63.4" height="3.3" fill="#fdfdff"/>
<rect x="289.3" y="158.3" width="63.4" height="0.6" fill="#dadaff"/>
<rect x="289.3" y="158.6" width="63.4" height="1.3" fill="#7a7aff"/>
<rect x="289.3" y="159.6" width="63.4" height="2.3" fill="#8282ff"/>
<rect x="289.3" y="161.6" width="63.4" height="2.3" fill="#8787ff"/>
<rect x="289.3" y="163.6" width="63.4" height="1.8" fill="#9090ff"/>
<rect x="289.3" y="165.1" width="63.4" height="1.3" fill="#8080ff"/>
<rect x="289.3" y="166.1" width="63.4" height="1.3" fill="#8080ff"/>
<rect x="289.3" y="167.1" width="63.4" height="3.3" fill="#9a9aff"/>
<rect x="289.3" y="170.1" width="63.4" height="1.8" fill="#e2e2ff"/>
<rect x="289.3" y="171.6" width="63.4" height="2.3" fill="#c3c3ff"/>
<rect x="289.3" y="173.6" width="63.4" height="1.8" fill="#dadaff"/>
<rect x="289.3" y="175.1" width="63.4" height="1.6" fill="#ccccff"/>
<rect x="289.3" y="176.4" width="63.4" height="2.3" fill="#ffc2c2"/>
<rect x="289.3" y="178.4" width="63.4" height="2.3" fill="#ffb9b9"/>
<rect x="289.3" y="180.4" width="63.4" height="2.3" fill="#ffbdbd"/>
<rect x="289.3" y="182.4" width="63.4" height="1.6" fill="#ffbfbf"/>
<rect x="289.3" y="183.7" width="63.4" height="1.8" fill="#dedeff"/>
<rect x="289.3" y="185.2" width="63.4" height="1.8" fill="#ffe2e2"/>
<rect x="289.3" y="186.7" width="63.4" height="0.4" fill="#fff4f4"/>
<rect x="289.3" y="186.8" width="63.4" height="2.3" fill="#b3b3ff"/>
<rect x="289.3" y="188.8" width="63.4" height="2.3" fill="#9c9cff"/>
<rect x="289.3" y="190.8" width="63.4" height="1.8" fill="#7a7aff"/>
<rect x="289.3" y="192.3" width="63.4" height="1.3" fill="#a0a0ff"/>
<rect x="289.3" y="193.3" width="63.4" height="2.3" fill="#a6a6ff"/>
<rect x="289.3" y="195.3" width="63.4" height="3.3" fill="#7878ff"/>
<rect x="289.3" y="198.3" width="63.4" height="1.3" fill="#8686ff"/>
<rect x="289.3" y="199.3" width="63.4" height="1.8" fill="#7a7aff"/>
<rect x="289.3" y="200.8" width="63.4" height="0.9" fill="#a0a0ff"/>
<rect x="289.3" y="201.4" width="63.4" height="2.3" fill="#fbfbff"/>
<rect x="289.3" y="203.4" width="63.4" height="1.3" fill="#d0d0ff"/>
<rect x="289.3" y="204.4" width="63.4" height="1.8" fill="#ededff"/>
<rect x="289.3" y="205.9" width="63.4" height="2.3" fill="#f0f0ff"/>
<rect x="289.3" y="207.9" width="63.4" height="3.3" fill="#e1e1ff"/>
<rect x="289.3" y="210.9" width="63.4" height="1.8" fill="#e9e9ff"/>
<rect x="289.3" y="212.4" width="63.4" height="1.8" fill="#ffecec"/>
<rect x="289.3" y="213.9" width="63.4" height="1.4" fill="#ebebff"/>
<rect x="289.3" y="215.0" width="63.4" height="1.3" fill="#b8b8ff"/>
<rect x="289.3" y="216.0" width="63.4" height="2.3" fill="#9e9eff"/>
<rect x="289.3" y="218.0" width="63.4" height="3.3" fill="#c2c2ff"/>
<rect x="289.3" y="221.0" width="63.4" height="3.3" fill="#c0c0ff"/>
<rect x="289.3" y="224.0" width="63.4" height="1.3" fill="#cfcfff"/>
<rect x="289.3" y="225.0" width="63.4" height="3.3" fill="#b2b2ff"/>
<rect x="289.3" y="228.0" width="63.4" height="1.3" fill="#babaff"/>
<rect x="289.3" y="229.0" width="63.4" height="3.3" fill="#a6a6ff"/>
<rect x="289.3" y="232.0" width="63.4" height="1.8" fill="#a7a7ff"/>
<rect x="289.3" y="233.5" width="63.4" height="1.8" fill="#c3c3ff"/>
<rect x="289.3" y="235.0" width="63.4" height="1.8" fill="#c9c9ff"/>
<rect x="289.3" y="236.5" width="63.4" height="1.3" fill="#a3a3ff"/>
<rect x="289.3" y="237.5" width="63.4" height="2.3" fill="#b6b6ff"/>
<rect x="289.3" y="239.5" width="63.4" height="1.8" fill="#a6a6ff"/>
<rect x="289.3" y="241.0" width="63.4" height="1.3" fill="#bdbdff"/>
<rect x="289.3" y="242.0" width="63.4" height="2.3" fill="#d0d0ff"/>
<rect x="289.3" y="244.0" width="63.4" height="0.6" fill="#9696ff"/>
<rect x="289.3" y="244.3" width="63.4" height="3.3" fill="#efefff"/>
<rect x="289.3" y="247.3" width="63.4" height="1.3" fill="#e0e0ff"/>
<rect x="289.3" y="248.3" width="63.4" height="2.3" fill="#e7e7ff"/>
<rect x="289.3" y="250.3" width="63.4" height="2.6" fill="#eaeaff"/>
<rect x="289.3" y="252.6" width="63.4" height="1.3" fill="#b0b0ff"/>
<rect x="289.3" y="253.6" width="63.4" height="1.3" fill="#9595ff"/>
<rect x="289.3" y="254.6" width="63.4" height="1.3" fill="#b0b0ff"/>
<rect x="289.3" y="255.6" width="63.4" height="2.3" fill="#9999ff"/>
<rect x="289.3" y="257.6" width="63.4" height="1.3" fill="#9999ff"/>
<rect x="289.3" y="258.6" width="63.4" height="3.3" fill="#b6b6ff"/>
<rect x="289.3" y="261.6" width="63.4" height="2.3" fill="#8888ff"/>
<rect x="289.3" y="263.6" width="63.4" height="0.7" fill="#a1a1ff"/>
<rect x="289.3" y="264.0" width="63.4" height="3.3" fill="#a3a3ff"/>
<rect x="289.3" y="267.0" width="63.4" height="2.3" fill="#8585ff"/>
<rect x="289.3" y="269.0" width="63.4" height="1.3" fill="#8686ff"/>
<rect x="289.3" y="270.0" width="63.4" height="2.3" fill="#7f7fff"/>
<rect x="289.3" y="272.0" width="63.4" height="2.3" fill="#8383ff"/>
<rect x="289.3" y="274.0" width="63.4" height="1.3" fill="#9b9bff"/>
<rect x="289.3" y="275.0" width="63.4" height="1.8" fill="#8787ff"/>
<rect x="289.3" y="276.5" width="63.4" height="3.3" fill="#6f6fff"/>
<rect x="289.3" y="279.5" width="63.4" height="1.3" fill="#8080ff"/>
<rect x="289.3" y="280.5" width="63.4" height="1.8" fill="#a3a3ff"/>
<rect x="289.3" y="282.0" width="63.4" height="1.1" fill="#9292ff"/>
<rect x="289.3" y="282.8" width="63.4" height="1.8" fill="#ffd3d3"/>
<rect x="289.3" y="284.3" width="63.4" height="1.3" fill="#ffc5c5"/>
<rect x="289.3" y="285.3" width="63.4" height="2.3" fill="#ffd8d8"/>
<rect x="289.3" y="287.3" width="63.4" height="2.3" fill="#ffd1d1"/>
<rect x="289.3" y="289.3" width="63.4" height="2.3" fill="#fff4f4"/>
<rect x="289.3" y="291.3" width="63.4" height="1.3" fill="#ffe1e1"/>
<rect x="289.3" y="292.3" width="63.4" height="1.3" fill="#ffd3d3"/>
<rect x="289.3" y="293.3" width="63.4" height="1.3" fill="#ffb6b6"/>
<rect x="289.3" y="294.3" width="63.4" height="1.8" fill="#ffbaba"/>
<rect x="289.3" y="295.8" width="63.4" height="1.8" fill="#ffbaba"/>
<rect x="289.3" y="297.3" width="63.4" height="2.3" fill="#ffbaba"/>
<rect x="289.3" y="299.3" width="63.4" height="1.3" fill="#ffb4b4"/>
<rect x="289.3" y="300.3" width="63.4" height="1.8" fill="#ff9f9f"/>
<rect x="289.3" y="301.8" width="63.4" height="2.3" fill="#ffc9c9"/>
<rect x="289.3" y="303.8" width="63.4" height="2.3" fill="#ff9292"/>
<rect x="289.3" y="305.8" width="63.4" height="1.3" fill="#ffd1d1"/>
<rect x="289.3" y="306.8" width="63.4" height="2.3" fill="#ffd9d9"/>
<rect x="289.3" y="308.8" width="63.4" height="3.3" fill="#ffc7c7"/>
<rect x="289.3" y="311.8" width="63.4" height="1.8" fill="#ffdbdb"/>
<rect x="289.3" y="313.3" width="63.4" height="2.3" fill="#ffeded"/>
<rect x="289.3" y="315.3" width="63.4" height="1.2" fill="#ffeeee"/>
<rect x="289.3" y="316.2" width="63.4" height="1.3" fill="#ffb1b1"/>
<rect x="289.3" y="317.2" width="63.4" height="3.3" fill="#ff8989"/>
<rect x="289.3" y="320.2" width="63.4" height="1.8" fill="#ffd9d9"/>
<rect x="289.3" y="321.7" width="63.4" height="2.3" fill="#ffc7c7"/>
<rect x="289.3" y="323.7" width="63.4" height="1.3" fill="#ff8383"/>
<rect x="289.3" y="324.7" width="63.4" height="3.3" fill="#ffb8b8"/>
<rect x="289.3" y="327.7" width="63.4" height="2.3" fill="#ffaeae"/>
<rect x="289.3" y="329.7" width="63.4" height="3.3" fill="#ff9e9e"/>
<rect x="289.3" y="332.7" width="63.4" height="1.3" fill="#ffbfbf"/>
<rect x="289.3" y="333.7" width="63.4" height="1.6" fill="#ffb5b5"/>
<rect x="289.3" y="335.0" width="63.4" height="1.3" fill="#aaaaff"/>
<rect x="289.3" y="336.0" width="63.4" height="1.8" fill="#b0b0ff"/>
<rect x="289.3" y="337.5" width="63.4" height="2.3" fill="#a8a8ff"/>
<rect x="289.3" y="339.5" width="63.4" height="1.3" fill="#a5a5ff"/>
<rect x="289.3" y="340.5" width="63.4" height="3.3" fill="#b3b3ff"/>
<rect x="289.3" y="343.5" width="63.4" height="3.3" fill="#b3b3ff"/>
<rect x="289.3" y="346.5" width="63.4" height="2.3" fill="#bcbcff"/>
<rect x="289.3" y="348.5" width="63.4" height="3.3" fill="#b7b7ff"/>
<rect x="289.3" y="351.5" width="63.4" height="1.3" fill="#a3a3ff"/>
<rect x="289.3" y="352.5" width="63.4" height="3.3" fill="#aaaaff"/>
<rect x="289.3" y="355.5" width="63.4" height="0.8" fill="#9494ff"/>
<rect x="289.3" y="356.0" width="63.4" height="1.8" fill="#f0f0ff"/>
<rect x="289.3" y="357.5" width="63.4" height="3.3" fill="#f2f2ff"/>
<rect x="289.3" y="360.5" width="63.4" height="3.3" fill="#efefff"/>
<rect x="289.3" y="363.5" width="63.4" height="1.1" fill="#dadaff"/>
<rect x="289.3" y="364.3" width="63.4" height="1.8" fill="#ff6e6e"/>
<rect x="289.3" y="365.8" width="63.4" height="1.8" fill="#ff6f6f"/>
<rect x="289.3" y="367.3" width="63.4" height="1.8" fill="#ff6161"/>
<rect x="289.3" y="368.8" width="63.4" height="1.3" fill="#ff5a5a"/>
<rect x="289.3" y="369.8" width="63.4" height="3.3" fill="#ff7676"/>
<rect x="289.3" y="372.8" width="63.4" height="2.3" fill="#ff4242"/>
<rect x="289.3" y="374.8" width="63.4" height="2.3" fill="#ff2626"/>
<rect x="289.3" y="376.8" width="63.4" height="1.3" fill="#ff2f2f"/>
<rect x="289.3" y="377.8" width="63.4" height="1.8" fill="#ff2626"/>
<rect x="289.3" y="379.3" width="63.4" height="1.3" fill="#ff3131"/>
<rect x="289.3" y="380.3" width="63.4" height="1.8" fill="#ff2525"/>
<rect x="289.3" y="381.8" width="63.4" height="1.3" fill="#ff3131"/>
<rect x="289.3" y="382.8" width="63.4" height="1.3" fill="#ff2e2e"/>
<rect x="289.3" y="383.8" width="63.4" height="2.3" fill="#ff2828"/>
<rect x="289.3" y="385.8" width="63.4" height="1.3" fill="#ff2f2f"/>
<rect x="289.3" y="386.8" width="63.4" height="1.3" fill="#ff1d1d"/>
<rect x="289.3" y="387.8" width="63.4" height="3.3" fill="#ff2a2a"/>
<rect x="289.3" y="390.8" width="63.4" height="2.3" fill="#ff1818"/>
<rect x="289.3" y="392.8" width="63.4" height="2.3" fill="#ff2525"/>
<rect x="289.3" y="394.8" width="63.4" height="1.3" fill="#ff3535"/>
<rect x="289.3" y="395.8" width="63.4" height="2.3" fill="#ff2626"/>
<rect x="289.3" y="397.8" width="63.4" height="1.3" fill="#ff2626"/>
<rect x="289.3" y="398.8" width="63.4" height="3.3" fill="#ff2e2e"/>
<rect x="289.3" y="401.8" width="63.4" height="1.3" fill="#ff2c2c"/>
<rect x="289.3" y="402.8" width="63.4" height="1.3" fill="#ff2a2a"/>
<rect x="289.3" y="403.8" width="63.4" height="1.5" fill="#ff2727"/>
<rect x="289.3" y="405.0" width="63.4" height="2.3" fill="#ff5252"/>
<rect x="289.3" y="407.0" width="63.4" height="1.8" fill="#ff8080"/>
<rect x="289.3" y="408.5" width="63.4" height="2.3" fill="#ff8181"/>
<rect x="289.3" y="410.5" width="63.4" height="3.3" fill="#ff7676"/>
<rect x="289.3" y="413.5" width="63.4" height="1.3" fill="#ff6464"/>
<rect x="289.3" y="414.5" width="63.4" height="1.8" fill="#ff6f6f"/>
<rect x="289.3" y="416.0" width="63.4" height="2.3" fill="#ff6a6a"/>
<rect x="289.3" y="418.0" width="63.4" height="1.3" fill="#ff7474"/>
<rect x="289.3" y="419.0" width="63.4" height="1.3" fill="#ff8484"/>
<rect x="289.3" y="420.0" width="63.4" height="3.3" fill="#ff6767"/>
<rect x="289.3" y="423.0" width="63.4" height="3.3" fill="#ff7474"/>
<rect x="289.3" y="426.0" width="63.4" height="1.3" fill="#ff8181"/>
<rect x="289.3" y="427.0" width="63.4" height="2.3" fill="#ff7070"/>
<rect x="289.3" y="429.0" width="63.4" height="1.3" fill="#ff7575"/>
<rect x="289.3" y="430.0" width="63.4" height="1.3" fill="#ff9494"/>
<rect x="289.3" y="431.0" width="63.4" height="3.3" fill="#ff7070"/>
<rect x="289.3" y="434.0" width="63.4" height="1.3" fill="#ff8383"/>
<rect x="289.3" y="435.0" width="63.4" height="2.3" fill="#ff9292"/>
<rect x="289.3" y="437.0" width="63.4" height="2.3" fill="#ff6868"/>
<rect x="289.3" y="439.0" width="63.4" height="2.3" fill="#ff6262"/>
<rect x="289.3" y="441.0" width="63.4" height="2.3" fill="#ff7474"/>
<rect x="289.3" y="443.0" width="63.4" height="1.3" fill="#ff7a7a"/>
<rect x="289.3" y="444.0" width="63.4" height="1.3" fill="#ff9797"/>
<rect x="289.3" y="445.0" width="63.4" height="1.3" fill="#ff6c6c"/>
<rect x="289.3" y="446.0" width="63.4" height="3.3" fill="#ff8181"/>
<rect x="289.3" y="449.0" width="63.4" height="1.3" fill="#ff9898"/>
<rect x="289.3" y="450.0" width="63.4" height="1.3" fill="#ff7676"/>
<rect x="289.3" y="451.0" width="63.4" height="1.3" fill="#ff8585"/>
<rect x="289.3" y="452.0" width="63.4" height="1.3" fill="#ff9090"/>
<rect x="289.3" y="453.0" width="63.4" height="1.3" fill="#ff2d2d"/>
<rect x="289.3" y="454.0" width="63.4" height="3.3" fill="#ff2525"/>
<rect x="289.3" y="457.0" width="63.4" height="2.3" fill="#ff2c2c"/>
<rect x="289.3" y="459.0" width="63.4" height="2.3" fill="#ff3030"/>
<rect x="289.3" y="461.0" width="63.4" height="1.3" fill="#ff2a2a"/>
<rect x="289.3" y="462.0" width="63.4" height="2.3" fill="#ff2f2f"/>
<rect x="289.3" y="464.0" width="63.4" height="3.3" fill="#ff3333"/>
<rect x="289.3" y="467.0" width="63.4" height="1.3" fill="#ff2929"/>
<rect x="289.3" y="468.0" width="63.4" height="1.3" fill="#ff2121"/>
<rect x="289.3" y="469.0" width="63.4" height="2.3" fill="#ff3333"/>
<rect x="289.3" y="471.0" width="63.4" height="2.3" fill="#ff3030"/>
<rect x="289.3" y="473.0" width="63.4" height="1.3" fill="#ff2d2d"/>
<rect x="289.3" y="474.0" width="63.4" height="2.3" fill="#ff2e2e"/>
<rect x="289.3" y="476.0" width="63.4" height="1.3" fill="#ffb7b7"/>
<rect x="289.3" y="477.0" width="63.4" height="2.3" fill="#ff9f9f"/>
<rect x="289.3" y="479.0" width="63.4" height="2.3" fill="#ff9a9a"/>
<rect x="289.3" y="481.0" width="63.4" height="2.3" fill="#ff9c9c"/>
<rect x="289.3" y="483.0" width="63.4" height="2.3" fill="#ffa3a3"/>
<rect x="289.3" y="485.0" width="63.4" height="1.3" fill="#ff8f8f"/>
<rect x="289.3" y="486.0" width="63.4" height="2.3" fill="#ff9f9f"/>
<rect x="289.3" y="488.0" width="63.4" height="0.8" fill="#ffa3a3"/>
<rect x="289.3" y="488.5" width="63.4" height="2.3" fill="#ffe8e8"/>
<rect x="289.3" y="490.5" width="63.4" height="3.3" fill="#ffd5d5"/>
<rect x="289.3" y="493.5" width="63.4" height="1.3" fill="#f8f8ff"/>
<rect x="289.3" y="494.5" width="63.4" height="2.3" fill="#e4e4ff"/>
<rect x="289.3" y="496.5" width="63.4" height="0.7" fill="#fffefe"/>
<rect x="289.3" y="496.9" width="63.4" height="1.3" fill="#ff7474"/>
<rect x="289.3" y="497.9" width="63.4" height="1.3" fill="#ff7373"/>
<rect x="289.3" y="498.9" width="63.4" height="1.3" fill="#ff9090"/>
<rect x="289.3" y="499.9" width="63.4" height="1.3" fill="#ff7979"/>
<rect x="289.3" y="500.9" width="63.4" height="1.8" fill="#ff6565"/>
<rect x="289.3" y="502.4" width="63.4" height="1.3" fill="#ff8585"/>
<rect x="289.3" y="503.4" width="63.4" height="1.8" fill="#ff6e6e"/>
<rect x="289.3" y="504.9" width="63.4" height="1.3" fill="#ff6868"/>
<rect x="289.3" y="505.9" width="63.4" height="1.3" fill="#ff6f6f"/>
<rect x="289.3" y="506.9" width="63.4" height="3.3" fill="#ff7777"/>
<rect x="289.3" y="509.9" width="63.4" height="1.9" fill="#ff8585"/>
<rect x="289.3" y="511.5" width="63.4" height="2.3" fill="#ffc0c0"/>
<rect x="289.3" y="513.5" width="63.4" height="2.3" fill="#ffaaaa"/>
<rect x="289.3" y="515.5" width="63.4" height="2.3" fill="#ffc6c6"/>
<rect x="289.3" y="517.5" width="63.4" height="3.3" fill="#ffcece"/>
<rect x="289.3" y="520.5" width="63.4" height="1.3" fill="#ff9393"/>
<rect x="289.3" y="521.5" width="63.4" height="3.3" fill="#ffc0c0"/>
<rect x="289.3" y="524.5" width="63.4" height="3.3" fill="#ff9696"/>
<rect x="289.3" y="527.5" width="63.4" height="2.3" fill="#ffaaaa"/>
<rect x="289.3" y="529.5" width="63.4" height="1.3" fill="#ff9e9e"/>
<rect x="289.3" y="530.5" width="63.4" height="2.3" fill="#ff8a8a"/>
<rect x="289.3" y="532.5" width="63.4" height="1.8" fill="#ffb3b3"/>
<rect x="289.3" y="534.0" width="63.4" height="0.8" fill="#ffbcbc"/>
<rect x="289.3" y="534.5" width="63.4" height="1.8" fill="#ffefef"/>
<rect x="289.3" y="536.0" width="63.4" height="1.3" fill="#fffcfc"/>
<rect x="289.3" y="537.0" width="63.4" height="2.3" fill="#ffeaea"/>
<rect x="289.3" y="539.0" width="63.4" height="3.3" fill="#ffdcdc"/>
<rect x="289.3" y="542.0" width="63.4" height="2.3" fill="#fffcfc"/>
<rect x="289.3" y="544.0" width="63.4" height="1.8" fill="#dfdfff"/>
<rect x="289.3" y="545.5" width="63.4" height="1.8" fill="#fffefe"/>
<rect x="289.3" y="547.0" width="63.4" height="2.3" fill="#fcfcff"/>
<rect x="289.3" y="549.0" width="63.4" height="1.3" fill="#f4f4ff"/>
<rect x="289.3" y="550.0" width="63.4" height="1.8" fill="#ffeded"/>
<rect x="289.3" y="551.5" width="63.4" height="1.8" fill="#ffe2e2"/>
<rect x="289.3" y="553.0" width="63.4" height="1.3" fill="#ffffff"/>
<rect x="289.3" y="554.0" width="63.4" height="1.7" fill="#fff9f9"/>
<rect x="289.3" y="555.4" width="63.4" height="1.3" fill="#ff5959"/>
<rect x="289.3" y="556.4" width="63.4" height="1.3" fill="#ff4c4c"/>
<rect x="289.3" y="557.4" width="63.4" height="3.3" fill="#ff5656"/>
<rect x="289.3" y="560.4" width="63.4" height="1.8" fill="#ff5656"/>
<rect x="289.3" y="561.9" width="63.4" height="2.2" fill="#ff4747"/>
<rect x="289.3" y="563.8" width="63.4" height="1.3" fill="#ffb6b6"/>
<rect x="289.3" y="564.8" width="63.4" height="3.3" fill="#ffb2b2"/>
<rect x="289.3" y="567.8" width="63.4" height="2.3" fill="#ffb6b6"/>
<rect x="289.3" y="569.8" width="63.4" height="2.3" fill="#ff9191"/>
<rect x="289.3" y="571.8" width="63.4" height="3.3" fill="#ffb3b3"/>
<rect x="289.3" y="574.8" width="63.4" height="3.3" fill="#ffcfcf"/>
<rect x="289.3" y="577.8" width="63.4" height="1.3" fill="#ffb1b1"/>
<rect x="289.3" y="578.8" width="63.4" height="1.3" fill="#ff9b9b"/>
<rect x="289.3" y="579.8" width="63.4" height="3.3" fill="#ffb9b9"/>
<rect x="289.3" y="582.8" width="63.4" height="1.3" fill="#ff9c9c"/>
<rect x="289.3" y="583.8" width="63.4" height="2.3" fill="#ffcfcf"/>
<rect x="289.3" y="585.8" width="63.4" height="3.3" fill="#ffadad"/>
<rect x="289.3" y="588.8" width="63.4" height="2.5" fill="#ffbbbb"/>
<rect x="289.3" y="591.0" width="63.4" height="1.8" fill="#c0c0ff"/>
<rect x="289.3" y="592.5" width="63.4" height="1.8" fill="#b6b6ff"/>
<rect x="289.3" y="594.0" width="63.4" height="1.3" fill="#adadff"/>
<rect x="289.3" y="595.0" width="63.4" height="1.3" fill="#acacff"/>
<rect x="289.3" y="596.0" width="63.4" height="3.3" fill="#dbdbff"/>
<rect x="289.3" y="599.0" width="63.4" height="3.3" fill="#9a9aff"/>
<rect x="289.3" y="602.0" width="63.4" height="2.3" fill="#a2a2ff"/>
<rect x="289.3" y="604.0" width="63.4" height="1.3" fill="#aaaaff"/>
<rect x="289.3" y="605.0" width="63.4" height="1.3" fill="#a1a1ff"/>
<rect x="289.3" y="606.0" width="63.4" height="3.3" fill="#b2b2ff"/>
<rect x="289.3" y="609.0" width="63.4" height="1.6" fill="#b0b0ff"/>
<rect x="289.3" y="610.3" width="63.4" height="1.3" fill="#ececff"/>
<rect x="289.3" y="611.3" width="63.4" height="2.3" fill="#eeeeff"/>
<rect x="289.3" y="613.3" width="63.4" height="3.3" fill="#fffefe"/>
<rect x="289.3" y="616.3" width="63.4" height="1.8" fill="#e2e2ff"/>
<rect x="289.3" y="617.8" width="63.4" height="2.3" fill="#eaeaff"/>
<rect x="289.3" y="619.8" width="63.4" height="1.8" fill="#eeeeff"/>
<rect x="289.3" y="621.3" width="63.4" height="1.2" fill="#d1d1ff"/>
<rect x="289.3" y="622.2" width="63.4" height="2.3" fill="#b5b5ff"/>
<rect x="289.3" y="624.2" width="63.4" height="3.3" fill="#bfbfff"/>
<rect x="289.3" y="627.2" width="63.4" height="2.3" fill="#9090ff"/>
<rect x="289.3" y="629.2" width="63.4" height="1.8" fill="#a2a2ff"/>
<rect x="289.3" y="630.7" width="63.4" height="2.3" fill="#b1b1ff"/>
<rect x="289.3" y="632.7" width="63.4" height="1.3" fill="#b0b0ff"/>
<rect x="289.3" y="633.7" width="63.4" height="1.8" fill="#aeaeff"/>
<rect x="289.3" y="635.2" width="63.4" height="3.3" fill="#9b9bff"/>
<rect x="289.3" y="638.2" width="63.4" height="1.3" fill="#bcbcff"/>
<rect x="289.3" y="639.2" width="63.4" height="1.3" fill="#afafff"/>
<rect x="289.3" y="640.2" width="63.4" height="3.3" fill="#a1a1ff"/>
<rect x="289.3" y="643.2" width="63.4" height="3.3" fill="#9292ff"/>
<rect x="289.3" y="646.2" width="63.4" height="1.3" fill="#9a9aff"/>
<rect x="289.3" y="647.2" width="63.4" height="1.3" fill="#acacff"/>
<rect x="289.3" y="648.2" width="63.4" height="0.6" fill="#adadff"/>
<rect x="289.3" y="648.5" width="63.4" height="2.3" fill="#3f3fff"/>
<rect x="289.3" y="650.5" width="63.4" height="2.3" fill="#4343ff"/>
<rect x="289.3" y="652.5" width="63.4" height="1.3" fill="#4646ff"/>
<rect x="289.3" y="653.5" width="63.4" height="1.8" fill="#4242ff"/>
<rect x="289.3" y="655.0" width="63.4" height="1.3" fill="#4747ff"/>
<rect x="289.3" y="656.0" width="63.4" height="2.3" fill="#3c3cff"/>
<rect x="289.3" y="658.0" width="63.4" height="2.7" fill="#4343ff"/>
<rect x="289.3" y="660.4" width="63.4" height="3.3" fill="#8e8eff"/>
<rect x="289.3" y="663.4" width="63.4" height="1.8" fill="#7878ff"/>
<rect x="289.3" y="664.9" width="63.4" height="3.3" fill="#8787ff"/>
<rect x="289.3" y="667.9" width="63.4" height="1.3" fill="#9999ff"/>
<rect x="289.3" y="668.9" width="63.4" height="1.3" fill="#6464ff"/>
<rect x="289.3" y="669.9" width="63.4" height="1.8" fill="#8282ff"/>
<rect x="289.3" y="671.4" width="63.4" height="1.3" fill="#5858ff"/>
<rect x="289.3" y="672.4" width="63.4" height="1.3" fill="#6a6aff"/>
<rect x="289.3" y="673.4" width="63.4" height="2.3" fill="#6363ff"/>
<rect x="289.3" y="675.4" width="63.4" height="1.8" fill="#8181ff"/>
<rect x="289.3" y="676.9" width="63.4" height="1.8" fill="#a3a3ff"/>
<rect x="289.3" y="678.4" width="63.4" height="1.3" fill="#9797ff"/>
<rect x="289.3" y="679.4" width="63.4" height="1.8" fill="#8787ff"/>
<rect x="289.3" y="680.9" width="63.4" height="1.3" fill="#7b7bff"/>
<rect x="289.3" y="681.9" width="63.4" height="2.3" fill="#9292ff"/>
<rect x="289.3" y="683.9" width="63.4" height="1.3" fill="#9090ff"/>
<rect x="289.3" y="684.9" width="63.4" height="2.3" fill="#8d8dff"/>
<rect x="289.3" y="686.9" width="63.4" height="1.3" fill="#6f6fff"/>
<rect x="289.3" y="687.9" width="63.4" height="1.3" fill="#8a8aff"/>
<rect x="289.3" y="688.9" width="63.4" height="1.3" fill="#7a7aff"/>
<rect x="289.3" y="689.9" width="63.4" height="1.3" fill="#8282ff"/>
<rect x="289.3" y="690.9" width="63.4" height="0.8" fill="#7d7dff"/>
<rect x="289.3" y="691.4" width="63.4" height="1.3" fill="#5050ff"/>
<rect x="289.3" y="692.4" width="63.4" height="1.8" fill="#4444ff"/>
<rect x="289.3" y="693.9" width="63.4" height="1.3" fill="#4646ff"/>
<rect x="289.3" y="694.9" width="63.4" height="2.3" fill="#4747ff"/>
<rect x="289.3" y="696.9" width="63.4" height="2.3" fill="#3c3cff"/>
<rect x="289.3" y="698.9" width="63.4" height="1.3" fill="#5050ff"/>
<rect x="289.3" y="699.9" width="63.4" height="1.3" fill="#4b4bff"/>
<rect x="289.3" y="700.9" width="63.4" height="1.3" fill="#3d3dff"/>
<rect x="289.3" y="701.9" width="63.4" height="1.8" fill="#4646ff"/>
<rect x="289.3" y="703.4" width="63.4" height="1.3" fill="#4f4fff"/>
<rect x="289.3" y="704.4" width="63.4" height="2.3" fill="#4d4dff"/>
<rect x="289.3" y="706.4" width="63.4" height="2.3" fill="#4848ff"/>
<rect x="289.3" y="708.4" width="63.4" height="2.3" fill="#4343ff"/>
<rect x="289.3" y="710.4" width="63.4" height="0.4" fill="#4545ff"/>
<rect x="289.3" y="710.5" width="63.4" height="3.3" fill="#ffc5c5"/>
<rect x="289.3" y="713.5" width="63.4" height="1.8" fill="#ffb7b7"/>
<rect x="289.3" y="715.0" width="63.4" height="2.3" fill="#ffc4c4"/>
<rect x="289.3" y="717.0" width="63.4" height="2.3" fill="#ffd0d0"/>
<rect x="289.3" y="719.0" width="63.4" height="3.3" fill="#ffbbbb"/>
<rect x="289.3" y="722.0" width="63.4" height="0.7" fill="#ffc1c1"/>
<rect x="289.3" y="722.4" width="63.4" height="3.3" fill="#ddddff"/>
<rect x="289.3" y="725.4" width="63.4" height="2.3" fill="#fdfdff"/>
<rect x="289.3" y="727.4" width="63.4" height="3.3" fill="#fbfbff"/>
<rect x="289.3" y="730.4" width="63.4" height="1.3" fill="#fffbfb"/>
<rect x="289.3" y="731.4" width="63.4" height="1.3" fill="#e6e6ff"/>
<rect x="289.3" y="732.4" width="63.4" height="3.3" fill="#f4f4ff"/>
<rect x="289.3" y="735.4" width="63.4" height="1.8" fill="#fff2f2"/>
<rect x="289.3" y="736.9" width="63.4" height="2.5" fill="#ffdfdf"/>
<rect x="289.3" y="739.1" width="63.4" height="3.3" fill="#ffaeae"/>
<rect x="289.3" y="742.1" width="63.4" height="3.3" fill="#ffb2b2"/>
<rect x="289.3" y="745.1" width="63.4" height="2.3" fill="#ffacac"/>
<rect x="289.3" y="747.1" width="63.4" height="2.3" fill="#ffb1b1"/>
<rect x="289.3" y="749.1" width="63.4" height="1.3" fill="#ffbbbb"/>
<rect x="289.3" y="750.1" width="63.4" height="1.3" fill="#ffc1c1"/>
<rect x="289.3" y="751.1" width="63.4" height="1.3" fill="#ff8a8a"/>
<rect x="289.3" y="752.1" width="63.4" height="1.8" fill="#ffb7b7"/>
<rect x="289.3" y="753.6" width="63.4" height="1.3" fill="#ffcece"/>
<rect x="289.3" y="754.6" width="63.4" height="1.5" fill="#ffadad"/>
<rect x="289.3" y="755.8" width="63.4" height="1.8" fill="#c1c1ff"/>
<rect x="289.3" y="757.3" width="63.4" height="2.3" fill="#c1c1ff"/>
<rect x="289.3" y="759.3" width="63.4" height="2.3" fill="#d2d2ff"/>
<rect x="289.3" y="761.3" width="63.4" height="3.3" fill="#8a8aff"/>
<rect x="289.3" y="764.3" width="63.4" height="2.3" fill="#c2c2ff"/>
<rect x="289.3" y="766.3" width="63.4" height="1.3" fill="#c6c6ff"/>
<rect x="289.3" y="767.3" width="63.4" height="1.8" fill="#d1d1ff"/>
<rect x="289.3" y="768.8" width="63.4" height="2.3" fill="#b9b9ff"/>
<rect x="289.3" y="770.8" width="63.4" height="1.8" fill="#ededff"/>
<rect x="289.3" y="772.3" width="63.4" height="0.5" fill="#b2b2ff"/>
<rect x="289.3" y="772.5" width="63.4" height="3.3" fill="#a0a0ff"/>
<rect x="289.3" y="775.5" width="63.4" height="3.3" fill="#a7a7ff"/>
<rect x="289.3" y="778.5" width="63.4" height="1.3" fill="#9999ff"/>
<rect x="289.3" y="779.5" width="63.4" height="1.3" fill="#9797ff"/>
<rect x="289.3" y="780.5" width="63.4" height="2.3" fill="#9797ff"/>
<rect x="289.3" y="782.5" width="63.4" height="1.8" fill="#8888ff"/>
<rect x="289.3" y="784.0" width="63.4" height="2.3" fill="#8b8bff"/>
<rect x="289.3" y="786.0" width="63.4" height="2.3" fill="#8d8dff"/>
</g>
<defs><linearGradient id="cb" x1="0" y1="0" x2="0" y2="1"><stop offset="0" stop-color="#ff0000"/><stop offset="0.5" stop-color="#ffffff"/><stop offset="1" stop-color="#0000ff"/></linearGradient></defs>
<rect x="361.1" y="101.5" width="18" height="263" fill="url(#cb)"/>
<text x="382.5" y="107.6" font-size="16.6">1.5</text>
<text x="382.5" y="151.4" font-size="16.6">1</text>
<text x="382.5" y="195.3" font-size="16.6">0.5</text>
<text x="382.5" y="239.2" font-size="16.6">0</text>
<text x="382.5" y="283" font-size="16.6">−0.5</text>
<text x="382.5" y="326.9" font-size="16.6">−1</text>
<text x="382.5" y="370.7" font-size="16.6">−1.5</text>
<path d="M76.2 102.1H99.6M76.2 103.4H99.6M76.2 102.1V103.4M60.2 102.8H76.2M73.6 104.7H99.6M73.6 105.9H99.6M73.6 104.7V105.9M60.2 105.3H73.6M60.2 102.8V105.3M52.4 104H60.2M84.6 107H99.6M84.6 107.8H99.6M84.6 107V107.8M65.7 107.4H84.6M80.4 108.6H99.6M80.4 109.4H99.6M80.4 108.6V109.4M65.7 109H80.4M65.7 107.4V109M57.7 108.2H65.7M79.7 110.2H99.6M79.7 111H99.6M79.7 110.2V111M68.1 110.6H79.7M82.8 111.8H99.6M82.8 112.6H99.6M82.8 111.8V112.6M68.1 112.2H82.8M68.1 110.6V112.2M57.7 111.4H68.1M57.7 108.2V111.4M52.4 109.8H57.7M52.4 104V109.8M26.4 106.9H52.4M87.7 113.5H99.6M87.7 114.4H99.6M87.7 113.5V114.4M85.8 113.9H87.7M88.9 115.3H99.6M88.9 116.2H99.6M88.9 115.3V116.2M85.8 115.7H88.9M85.8 113.9V115.7M83.1 114.8H85.8M88 117.1H99.6M88 118H99.6M88 117.1V118M86.6 117.5H88M89.7 118.9H99.6M89.7 119.8H99.6M89.7 118.9V119.8M86.6 119.3H89.7M86.6 117.5V119.3M83.1 118.4H86.6M83.1 114.8V118.4M80.7 116.6H83.1M90.1 120.7H99.6M90.1 121.6H99.6M90.1 120.7V121.6M86.8 121.1H90.1M88.7 122.5H99.6M88.7 123.4H99.6M88.7 122.5V123.4M86.8 122.9H88.7M86.8 121.1V122.9M83.8 122H86.8M90.1 124.3H99.6M90.1 125.2H99.6M90.1 124.3V125.2M87 124.7H90.1M90.8 126.1H99.6M90.8 127H99.6M90.8 126.1V127M87 126.5H90.8M87 124.7V126.5M83.8 125.6H87M83.8 122V125.6M80.7 123.8H83.8M80.7 116.6V123.8M73.7 120.2H80.7M87.3 127.9H99.6M87.3 128.8H99.6M87.3 127.9V128.8M83.2 128.4H87.3M87.7 129.7H99.6M87.7 130.6H99.6M87.7 129.7V130.6M83.2 130.2H87.7M83.2 128.4V130.2M81.2 129.3H83.2M88.6 131.5H99.6M88.6 132.4H99.6M88.6 131.5V132.4M85.6 132H88.6M89.3 133.3H99.6M89.3 134.2H99.6M89.3 133.3V134.2M85.6 133.8H89.3M85.6 132V133.8M81.2 132.9H85.6M81.2 129.3V132.9M78.4 131.1H81.2M87.9 135.1H99.6M87.9 136H99.6M87.9 135.1V136M84.5 135.6H87.9M88.5 136.9H99.6M88.5 137.8H99.6M88.5 136.9V137.8M84.5 137.4H88.5M84.5 135.6V137.4M82.6 136.5H84.5M87 138.7H99.6M87 139.6H99.6M87 138.7V139.6M85.6 139.2H87M87.4 140.5H99.6M87.4 141.4H99.6M87.4 140.5V141.4M85.6 141H87.4M85.6 139.2V141M82.6 140.1H85.6M82.6 136.5V140.1M78.4 138.3H82.6M78.4 131.1V138.3M73.7 134.7H78.4M73.7 120.2V134.7M62.8 127.4H73.7M78.8 142.5H99.6M78.8 143.6H99.6M78.8 142.5V143.6M76.1 143H78.8M81 144.7H99.6M81 145.9H99.6M81 144.7V145.9M76.1 145.3H81M76.1 143V145.3M71 144.2H76.1M81.8 147H99.6M81.8 148.1H99.6M81.8 147V148.1M78.6 147.6H81.8M82.2 149.3H99.6M82.2 150.4H99.6M82.2 149.3V150.4M78.6 149.8H82.2M78.6 147.6V149.8M71 148.7H78.6M71 144.2V148.7M66.9 146.4H71M82.5 151.5H99.6M82.5 152.6H99.6M82.5 151.5V152.6M79.6 152.1H82.5M83.9 153.8H99.6M83.9 154.9H99.6M83.9 153.8V154.9M79.6 154.3H83.9M79.6 152.1V154.3M76.4 153.2H79.6M82.4 156H99.6M82.4 157.2H99.6M82.4 156V157.2M78.8 156.6H82.4M84.8 158.3H99.6M84.8 159.4H99.6M84.8 158.3V159.4M78.8 158.9H84.8M78.8 156.6V158.9M76.4 157.7H78.8M76.4 153.2V157.7M66.9 155.5H76.4M66.9 146.4V155.5M62.8 150.9H66.9M62.8 127.4V150.9M40.2 139.2H62.8M83.2 160.4H99.6M83.2 161.2H99.6M83.2 160.4V161.2M77 160.8H83.2M83 162H99.6M83 162.8H99.6M83 162V162.8M77 162.4H83M77 160.8V162.4M68.3 161.6H77M84.8 163.6H99.6M84.8 164.4H99.6M84.8 163.6V164.4M72.1 164H84.8M84.3 165.2H99.6M84.3 166H99.6M84.3 165.2V166M72.1 165.6H84.3M72.1 164V165.6M68.3 164.8H72.1M68.3 161.6V164.8M58.6 163.2H68.3M83.2 166.8H99.6M83.2 167.6H99.6M83.2 166.8V167.6M69.1 167.2H83.2M80.3 168.4H99.6M80.3 169.2H99.6M80.3 168.4V169.2M69.1 168.8H80.3M69.1 167.2V168.8M65.5 168H69.1M83.3 170H99.6M83.3 170.8H99.6M83.3 170V170.8M73.1 170.4H83.3M84.5 171.6H99.6M84.5 172.4H99.6M84.5 171.6V172.4M73.1 172H84.5M73.1 170.4V172M65.5 171.2H73.1M65.5 168V171.2M58.6 169.6H65.5M58.6 163.2V169.6M48.2 166.4H58.6M82.2 173.2H99.6M82.2 174.1H99.6M82.2 173.2V174.1M72.9 173.7H82.2M82.9 175H99.6M82.9 175.9H99.6M82.9 175V175.9M72.9 175.4H82.9M72.9 173.7V175.4M69.3 174.6H72.9M83 176.7H99.6M83 177.6H99.6M83 176.7V177.6M72.5 177.2H83M83.7 178.5H99.6M83.7 179.4H99.6M83.7 178.5V179.4M72.5 178.9H83.7M72.5 177.2V178.9M69.3 178.1H72.5M69.3 174.6V178.1M62.1 176.3H69.3M81.6 180.2H99.6M81.6 181.1H99.6M81.6 180.2V181.1M77.9 180.7H81.6M80.8 182H99.6M80.8 182.9H99.6M80.8 182V182.9M77.9 182.4H80.8M77.9 180.7V182.4M69.8 181.6H77.9M82.5 183.7H99.6M82.5 184.6H99.6M82.5 183.7V184.6M75.9 184.2H82.5M82.1 185.5H99.6M82.1 186.4H99.6M82.1 185.5V186.4M75.9 185.9H82.1M75.9 184.2V185.9M69.8 185.1H75.9M69.8 181.6V185.1M62.1 183.3H69.8M62.1 176.3V183.3M48.2 179.8H62.1M48.2 166.4V179.8M40.2 173.1H48.2M40.2 139.2V173.1M26.4 156.1H40.2M26.4 106.9V156.1M7.4 131.5H26.4M83.7 187.3H99.6M83.7 188.2H99.6M83.7 187.3V188.2M81.8 187.7H83.7M84.5 189.1H99.6M84.5 190.1H99.6M84.5 189.1V190.1M81.8 189.6H84.5M81.8 187.7V189.6M78.2 188.7H81.8M88.8 191H99.6M88.8 192H99.6M88.8 191V192M84.4 191.5H88.8M88.8 192.9H99.6M88.8 193.8H99.6M88.8 192.9V193.8M84.4 193.4H88.8M84.4 191.5V193.4M78.2 192.4H84.4M78.2 188.7V192.4M74.5 190.5H78.2M85.3 194.8H99.6M85.3 195.7H99.6M85.3 194.8V195.7M81.1 195.2H85.3M86.1 196.6H99.6M86.1 197.6H99.6M86.1 196.6V197.6M81.1 197.1H86.1M81.1 195.2V197.1M78.1 196.2H81.1M85 198.5H99.6M85 199.5H99.6M85 198.5V199.5M83.1 199H85M87.7 200.4H99.6M87.7 201.3H99.6M87.7 200.4V201.3M83.1 200.9H87.7M83.1 199V200.9M78.1 199.9H83.1M78.1 196.2V199.9M74.5 198H78.1M74.5 190.5V198M65.5 194.3H74.5M86.6 202.3H99.6M86.6 203.2H99.6M86.6 202.3V203.2M81.2 202.7H86.6M84.5 204.1H99.6M84.5 205.1H99.6M84.5 204.1V205.1M81.2 204.6H84.5M81.2 202.7V204.6M77.5 203.7H81.2M85 206H99.6M85 207H99.6M85 206V207M82.9 206.5H85M87.6 207.9H99.6M87.6 208.8H99.6M87.6 207.9V208.8M82.9 208.4H87.6M82.9 206.5V208.4M77.5 207.4H82.9M77.5 203.7V207.4M74.1 205.5H77.5M86.6 209.8H99.6M86.6 210.7H99.6M86.6 209.8V210.7M83.9 210.2H86.6M85.9 211.6H99.6M85.9 212.6H99.6M85.9 211.6V212.6M83.9 212.1H85.9M83.9 210.2V212.1M77.4 211.2H83.9M87.1 213.5H99.6M87.1 214.5H99.6M87.1 213.5V214.5M83.9 214H87.1M86.8 215.4H99.6M86.8 216.3H99.6M86.8 215.4V216.3M83.9 215.9H86.8M83.9 214V215.9M77.4 214.9H83.9M77.4 211.2V214.9M74.1 213H77.4M74.1 205.5V213M65.5 209.3H74.1M65.5 194.3V209.3M52.9 201.8H65.5M84.6 217.2H99.6M84.6 217.9H99.6M84.6 217.2V217.9M81.2 217.5H84.6M85.2 218.6H99.6M85.2 219.3H99.6M85.2 218.6V219.3M81.2 218.9H85.2M81.2 217.5V218.9M78.5 218.2H81.2M85.9 220H99.6M85.9 220.7H99.6M85.9 220V220.7M82.4 220.3H85.9M86.8 221.4H99.6M86.8 222.1H99.6M86.8 221.4V222.1M82.4 221.7H86.8M82.4 220.3V221.7M78.5 221H82.4M78.5 218.2V221M74.8 219.6H78.5M84.5 222.8H99.6M84.5 223.5H99.6M84.5 222.8V223.5M81.5 223.2H84.5M85.9 224.2H99.6M85.9 224.9H99.6M85.9 224.2V224.9M81.5 224.6H85.9M81.5 223.2V224.6M79.4 223.9H81.5M86.3 225.6H99.6M86.3 226.3H99.6M86.3 225.6V226.3M82.8 226H86.3M84.8 227H99.6M84.8 227.7H99.6M84.8 227V227.7M82.8 227.4H84.8M82.8 226V227.4M79.4 226.7H82.8M79.4 223.9V226.7M74.8 225.3H79.4M74.8 219.6V225.3M70.4 222.4H74.8M89.2 228.5H99.6M89.2 229.2H99.6M89.2 228.5V229.2M85 228.8H89.2M88.3 229.9H99.6M88.3 230.6H99.6M88.3 229.9V230.6M85 230.2H88.3M85 228.8V230.2M81.1 229.5H85M87.7 231.3H99.6M87.7 232H99.6M87.7 231.3V232M84.9 231.6H87.7M87.7 232.7H99.6M87.7 233.4H99.6M87.7 232.7V233.4M84.9 233H87.7M84.9 231.6V233M81.1 232.3H84.9M81.1 229.5V232.3M74.8 230.9H81.1M89 234.1H99.6M89 234.8H99.6M89 234.1V234.8M86.2 234.5H89M89.8 235.5H99.6M89.8 236.2H99.6M89.8 235.5V236.2M86.2 235.9H89.8M86.2 234.5V235.9M80.8 235.2H86.2M85.7 236.9H99.6M85.7 237.6H99.6M85.7 236.9V237.6M83.1 237.3H85.7M85 238.3H99.6M85 239H99.6M85 238.3V239M83.1 238.7H85M83.1 237.3V238.7M80.8 238H83.1M80.8 235.2V238M74.8 236.6H80.8M74.8 230.9V236.6M70.4 233.7H74.8M70.4 222.4V233.7M65.3 228.1H70.4M89.1 239.8H99.6M89.1 240.5H99.6M89.1 239.8V240.5M87.3 240.1H89.1M89.5 241.2H99.6M89.5 241.9H99.6M89.5 241.2V241.9M87.3 241.5H89.5M87.3 240.1V241.5M82.6 240.8H87.3M89.2 242.6H99.6M89.2 243.3H99.6M89.2 242.6V243.3M87.7 242.9H89.2M90.1 244H99.6M90.1 244.7H99.6M90.1 244V244.7M87.7 244.3H90.1M87.7 242.9V244.3M82.6 243.6H87.7M82.6 240.8V243.6M77.4 242.2H82.6M88.2 245.4H99.6M88.2 246.1H99.6M88.2 245.4V246.1M85.2 245.8H88.2M86.7 246.8H99.6M86.7 247.5H99.6M86.7 246.8V247.5M85.2 247.2H86.7M85.2 245.8V247.2M80.5 246.5H85.2M86.5 248.2H99.6M86.5 248.9H99.6M86.5 248.2V248.9M84.8 248.6H86.5M88.6 249.6H99.6M88.6 250.3H99.6M88.6 249.6V250.3M84.8 250H88.6M84.8 248.6V250M80.5 249.3H84.8M80.5 246.5V249.3M77.4 247.9H80.5M77.4 242.2V247.9M74.1 245.1H77.4M85.8 251.1H99.6M85.8 251.8H99.6M85.8 251.1V251.8M82.7 251.4H85.8M87.1 252.5H99.6M87.1 253.2H99.6M87.1 252.5V253.2M82.7 252.8H87.1M82.7 251.4V252.8M79.6 252.1H82.7M85.9 253.9H99.6M85.9 254.6H99.6M85.9 253.9V254.6M82.2 254.2H85.9M86.6 255.3H99.6M86.6 256H99.6M86.6 255.3V256M82.2 255.6H86.6M82.2 254.2V255.6M79.6 254.9H82.2M79.6 252.1V254.9M77.2 253.5H79.6M87.9 256.7H99.6M87.9 257.4H99.6M87.9 256.7V257.4M84.5 257.1H87.9M86.2 258.1H99.6M86.2 258.8H99.6M86.2 258.1V258.8M84.5 258.5H86.2M84.5 257.1V258.5M82.5 257.8H84.5M87.3 259.5H99.6M87.3 260.2H99.6M87.3 259.5V260.2M84.4 259.9H87.3M87.6 260.9H99.6M87.6 261.6H99.6M87.6 260.9V261.6M84.4 261.3H87.6M84.4 259.9V261.3M82.5 260.6H84.4M82.5 257.8V260.6M77.2 259.2H82.5M77.2 253.5V259.2M74.1 256.4H77.2M74.1 245.1V256.4M65.3 250.7H74.1M65.3 228.1V250.7M52.9 239.4H65.3M52.9 201.8V239.4M39.1 220.6H52.9M83.7 262.4H99.6M83.7 263.2H99.6M83.7 262.4V263.2M78.4 262.8H83.7M84.3 264H99.6M84.3 264.8H99.6M84.3 264V264.8M78.4 264.4H84.3M78.4 262.8V264.4M74.3 263.6H78.4M85.2 265.6H99.6M85.2 266.4H99.6M85.2 265.6V266.4M78.6 266H85.2M83.7 267.2H99.6M83.7 268H99.6M83.7 267.2V268M78.6 267.6H83.7M78.6 266V267.6M74.3 266.8H78.6M74.3 263.6V266.8M71.1 265.2H74.3M86.7 268.8H99.6M86.7 269.6H99.6M86.7 268.8V269.6M82.1 269.2H86.7M85.6 270.4H99.6M85.6 271.2H99.6M85.6 270.4V271.2M82.1 270.8H85.6M82.1 269.2V270.8M75.1 270H82.1M84.2 272H99.6M84.2 272.8H99.6M84.2 272V272.8M79.4 272.4H84.2M82.8 273.6H99.6M82.8 274.4H99.6M82.8 273.6V274.4M79.4 274H82.8M79.4 272.4V274M75.1 273.2H79.4M75.1 270V273.2M71.1 271.6H75.1M71.1 265.2V271.6M67.2 268.4H71.1M83.7 275.1H99.6M83.7 275.9H99.6M83.7 275.1V275.9M81.7 275.5H83.7M84.4 276.7H99.6M84.4 277.5H99.6M84.4 276.7V277.5M81.7 277.1H84.4M81.7 275.5V277.1M79.5 276.3H81.7M86.7 278.3H99.6M86.7 279.1H99.6M86.7 278.3V279.1M81.8 278.7H86.7M84.6 279.9H99.6M84.6 280.7H99.6M84.6 279.9V280.7M81.8 280.3H84.6M81.8 278.7V280.3M79.5 279.5H81.8M79.5 276.3V279.5M75 277.9H79.5M84.4 281.5H99.6M84.4 282.3H99.6M84.4 281.5V282.3M81.6 281.9H84.4M86.9 283.1H99.6M86.9 283.9H99.6M86.9 283.1V283.9M81.6 283.5H86.9M81.6 281.9V283.5M78.9 282.7H81.6M84.8 284.7H99.6M84.8 285.5H99.6M84.8 284.7V285.5M82 285.1H84.8M83.8 286.3H99.6M83.8 287.1H99.6M83.8 286.3V287.1M82 286.7H83.8M82 285.1V286.7M78.9 285.9H82M78.9 282.7V285.9M75 284.3H78.9M75 277.9V284.3M67.2 281.1H75M67.2 268.4V281.1M58.8 274.8H67.2M85.1 287.9H99.6M85.1 288.7H99.6M85.1 287.9V288.7M77.2 288.3H85.1M84 289.5H99.6M84 290.3H99.6M84 289.5V290.3M77.2 289.9H84M77.2 288.3V289.9M74.2 289.1H77.2M84.7 291.1H99.6M84.7 291.9H99.6M84.7 291.1V291.9M79.7 291.5H84.7M84.6 292.7H99.6M84.6 293.5H99.6M84.6 292.7V293.5M79.7 293.1H84.6M79.7 291.5V293.1M74.2 292.3H79.7M74.2 289.1V292.3M71.4 290.7H74.2M87.3 294.3H99.6M87.3 295.1H99.6M87.3 294.3V295.1M83.3 294.7H87.3M85.1 295.9H99.6M85.1 296.7H99.6M85.1 295.9V296.7M83.3 296.3H85.1M83.3 294.7V296.3M76.4 295.5H83.3M87 297.5H99.6M87 298.3H99.6M87 297.5V298.3M82.8 297.9H87M85 299.1H99.6M85 299.9H99.6M85 299.1V299.9M82.8 299.5H85M82.8 297.9V299.5M76.4 298.7H82.8M76.4 295.5V298.7M71.4 297.1H76.4M71.4 290.7V297.1M66.8 293.9H71.4M88 300.6H99.6M88 301.4H99.6M88 300.6V301.4M84.4 301H88M86.6 302.2H99.6M86.6 303H99.6M86.6 302.2V303M84.4 302.6H86.6M84.4 301V302.6M80.2 301.8H84.4M84.7 303.8H99.6M84.7 304.6H99.6M84.7 303.8V304.6M82.7 304.2H84.7M86.2 305.4H99.6M86.2 306.2H99.6M86.2 305.4V306.2M82.7 305.8H86.2M82.7 304.2V305.8M80.2 305H82.7M80.2 301.8V305M73.4 303.4H80.2M87.5 307H99.6M87.5 307.8H99.6M87.5 307V307.8M83.3 307.4H87.5M86.6 308.6H99.6M86.6 309.4H99.6M86.6 308.6V309.4M83.3 309H86.6M83.3 307.4V309M79.3 308.2H83.3M87.8 310.2H99.6M87.8 311H99.6M87.8 310.2V311M84 310.6H87.8M85.8 311.8H99.6M85.8 312.6H99.6M85.8 311.8V312.6M84 312.2H85.8M84 310.6V312.2M79.3 311.4H84M79.3 308.2V311.4M73.4 309.8H79.3M73.4 303.4V309.8M66.8 306.6H73.4M66.8 293.9V306.6M58.8 300.2H66.8M58.8 274.8V300.2M51.4 287.5H58.8M77.7 313.6H99.6M77.7 314.7H99.6M77.7 313.6V314.7M72.3 314.1H77.7M77.6 315.8H99.6M77.6 316.9H99.6M77.6 315.8V316.9M72.3 316.4H77.6M72.3 314.1V316.4M63.3 315.2H72.3M78.7 318.1H99.6M78.7 319.2H99.6M78.7 318.1V319.2M72.5 318.6H78.7M77.4 320.3H99.6M77.4 321.4H99.6M77.4 320.3V321.4M72.5 320.9H77.4M72.5 318.6V320.9M63.3 319.8H72.5M63.3 315.2V319.8M51.4 317.5H63.3M51.4 287.5V317.5M39.1 302.5H51.4M39.1 220.6V302.5M15.5 261.5H39.1M85.7 322.4H99.6M85.7 323H99.6M85.7 322.4V323M74.3 322.7H85.7M83.6 323.8H99.6M83.6 324.5H99.6M83.6 323.8V324.5M74.3 324.1H83.6M74.3 322.7V324.1M61 323.4H74.3M84.7 325.2H99.6M84.7 325.9H99.6M84.7 325.2V325.9M71.5 325.5H84.7M86.4 326.6H99.6M86.4 327.3H99.6M86.4 326.6V327.3M71.5 326.9H86.4M71.5 325.5V326.9M61 326.2H71.5M61 323.4V326.2M48.2 324.8H61M82.6 328H99.6M82.6 328.8H99.6M82.6 328V328.8M73.5 328.4H82.6M80.4 329.6H99.6M80.4 330.4H99.6M80.4 329.6V330.4M73.5 330H80.4M73.5 328.4V330M62.5 329.2H73.5M79.9 331.2H99.6M79.9 332H99.6M79.9 331.2V332M69.6 331.6H79.9M81.9 332.8H99.6M81.9 333.6H99.6M81.9 332.8V333.6M69.6 333.2H81.9M69.6 331.6V333.2M62.5 332.4H69.6M62.5 329.2V332.4M48.2 330.8H62.5M48.2 324.8V330.8M29.2 327.8H48.2M81.2 334.4H99.6M81.2 335.2H99.6M81.2 334.4V335.2M74.2 334.8H81.2M79.9 336H99.6M79.9 336.8H99.6M79.9 336V336.8M74.2 336.4H79.9M74.2 334.8V336.4M65.1 335.6H74.2M82.2 337.7H99.6M82.2 338.5H99.6M82.2 337.7V338.5M71.9 338.1H82.2M83.3 339.3H99.6M83.3 340.1H99.6M83.3 339.3V340.1M71.9 339.7H83.3M71.9 338.1V339.7M65.1 338.9H71.9M65.1 335.6V338.9M51 337.2H65.1M80.7 340.9H99.6M80.7 341.7H99.6M80.7 340.9V341.7M64.1 341.3H80.7M84.3 342.5H99.6M84.3 343.3H99.6M84.3 342.5V343.3M64.1 342.9H84.3M64.1 341.3V342.9M57.2 342.1H64.1M83.3 344.2H99.6M83.3 345H99.6M83.3 344.2V345M69.3 344.6H83.3M82.7 345.8H99.6M82.7 346.6H99.6M82.7 345.8V346.6M69.3 346.2H82.7M69.3 344.6V346.2M57.2 345.4H69.3M57.2 342.1V345.4M51 343.8H57.2M51 337.2V343.8M43.8 340.5H51M77.2 347.5H99.6M77.2 348.4H99.6M77.2 347.5V348.4M72.3 347.9H77.2M76.6 349.3H99.6M76.6 350.3H99.6M76.6 349.3V350.3M72.3 349.8H76.6M72.3 347.9V349.8M67.3 348.9H72.3M81.5 351.2H99.6M81.5 352.2H99.6M81.5 351.2V352.2M72.1 351.7H81.5M76.9 353.1H99.6M76.9 354H99.6M76.9 353.1V354M72.1 353.6H76.9M72.1 351.7V353.6M67.3 352.6H72.1M67.3 348.9V352.6M60.5 350.8H67.3M84 355H99.6M84 355.9H99.6M84 355V355.9M77.7 355.4H84M83.1 356.8H99.6M83.1 357.8H99.6M83.1 356.8V357.8M77.7 357.3H83.1M77.7 355.4V357.3M71.3 356.4H77.7M83.6 358.7H99.6M83.6 359.7H99.6M83.6 358.7V359.7M78.3 359.2H83.6M82.4 360.6H99.6M82.4 361.5H99.6M82.4 360.6V361.5M78.3 361.1H82.4M78.3 359.2V361.1M71.3 360.1H78.3M71.3 356.4V360.1M60.5 358.2H71.3M60.5 350.8V358.2M43.8 354.5H60.5M43.8 340.5V354.5M29.2 347.5H43.8M29.2 327.8V347.5M15.5 337.7H29.2M15.5 261.5V337.7M7.4 299.6H15.5M82.9 362.4H99.6M82.9 363.3H99.6M82.9 362.4V363.3M73.4 362.8H82.9M82.6 364.1H99.6M82.6 365H99.6M82.6 364.1V365M73.4 364.5H82.6M73.4 362.8V364.5M68.5 363.7H73.4M83.5 365.8H99.6M83.5 366.6H99.6M83.5 365.8V366.6M75 366.2H83.5M79.1 367.5H99.6M79.1 368.3H99.6M79.1 367.5V368.3M75 367.9H79.1M75 366.2V367.9M68.5 367.1H75M68.5 363.7V367.1M60.9 365.4H68.5M83.6 369.2H99.6M83.6 370H99.6M83.6 369.2V370M77.4 369.6H83.6M83.9 370.9H99.6M83.9 371.7H99.6M83.9 370.9V371.7M77.4 371.3H83.9M77.4 369.6V371.3M68.6 370.4H77.4M82.9 372.5H99.6M82.9 373.4H99.6M82.9 372.5V373.4M73.9 373H82.9M79.4 374.2H99.6M79.4 375.1H99.6M79.4 374.2V375.1M73.9 374.7H79.4M73.9 373V374.7M68.6 373.8H73.9M68.6 370.4V373.8M60.9 372.1H68.6M60.9 365.4V372.1M45.5 368.8H60.9M75.3 376.1H99.6M75.3 377.3H99.6M75.3 376.1V377.3M72.3 376.7H75.3M80.3 378.5H99.6M80.3 379.8H99.6M80.3 378.5V379.8M72.3 379.2H80.3M72.3 376.7V379.2M66.4 377.9H72.3M80.3 381H99.6M80.3 382.2H99.6M80.3 381V382.2M73.1 381.6H80.3M77.2 383.4H99.6M77.2 384.6H99.6M77.2 383.4V384.6M73.1 384H77.2M73.1 381.6V384M66.4 382.8H73.1M66.4 377.9V382.8M59 380.4H66.4M82.5 385.9H99.6M82.5 387.1H99.6M82.5 385.9V387.1M76 386.5H82.5M78.5 388.3H99.6M78.5 389.5H99.6M78.5 388.3V389.5M76 388.9H78.5M76 386.5V388.9M66.3 387.7H76M80.8 390.7H99.6M80.8 392H99.6M80.8 390.7V392M75.6 391.3H80.8M79.9 393.2H99.6M79.9 394.4H99.6M79.9 393.2V394.4M75.6 393.8H79.9M75.6 391.3V393.8M66.3 392.6H75.6M66.3 387.7V392.6M59 390.1H66.3M59 380.4V390.1M45.5 385.2H59M45.5 368.8V385.2M27.5 377H45.5M84 395.6H99.6M84 396.7H99.6M84 395.6V396.7M77.7 396.1H84M82.7 397.8H99.6M82.7 398.9H99.6M82.7 397.8V398.9M77.7 398.4H82.7M77.7 396.1V398.4M72.1 397.2H77.7M79.7 400.1H99.6M79.7 401.2H99.6M79.7 400.1V401.2M77.3 400.6H79.7M80.6 402.3H99.6M80.6 403.4H99.6M80.6 402.3V403.4M77.3 402.9H80.6M77.3 400.6V402.9M72.1 401.8H77.3M72.1 397.2V401.8M68.2 399.5H72.1M83.3 404.6H99.6M83.3 405.7H99.6M83.3 404.6V405.7M78.5 405.1H83.3M81 406.8H99.6M81 407.9H99.6M81 406.8V407.9M78.5 407.4H81M78.5 405.1V407.4M75.4 406.2H78.5M83.8 409.1H99.6M83.8 410.2H99.6M83.8 409.1V410.2M80.4 409.6H83.8M84.6 411.3H99.6M84.6 412.4H99.6M84.6 411.3V412.4M80.4 411.9H84.6M80.4 409.6V411.9M75.4 410.8H80.4M75.4 406.2V410.8M68.2 408.5H75.4M68.2 399.5V408.5M55.1 404H68.2M83.3 413.6H99.6M83.3 414.7H99.6M83.3 413.6V414.7M80.5 414.1H83.3M86.1 415.8H99.6M86.1 416.9H99.6M86.1 415.8V416.9M80.5 416.4H86.1M80.5 414.1V416.4M73.2 415.2H80.5M81.9 418.1H99.6M81.9 419.2H99.6M81.9 418.1V419.2M77.4 418.6H81.9M81.5 420.3H99.6M81.5 421.4H99.6M81.5 420.3V421.4M77.4 420.9H81.5M77.4 418.6V420.9M73.2 419.8H77.4M73.2 415.2V419.8M62.3 417.5H73.2M79.2 422.6H99.6M79.2 423.7H99.6M79.2 422.6V423.7M75.1 423.1H79.2M80.9 424.8H99.6M80.9 425.9H99.6M80.9 424.8V425.9M75.1 425.4H80.9M75.1 423.1V425.4M71 424.2H75.1M82.7 427.1H99.6M82.7 428.2H99.6M82.7 427.1V428.2M78.4 427.6H82.7M84.6 429.3H99.6M84.6 430.4H99.6M84.6 429.3V430.4M78.4 429.9H84.6M78.4 427.6V429.9M71 428.8H78.4M71 424.2V428.8M62.3 426.5H71M62.3 417.5V426.5M55.1 422H62.3M55.1 404V422M39.1 413H55.1M82.8 431.3H99.6M82.8 432H99.6M82.8 431.3V432M77.6 431.7H82.8M85.3 432.7H99.6M85.3 433.4H99.6M85.3 432.7V433.4M77.6 433.1H85.3M77.6 431.7V433.1M73.9 432.4H77.6M87 434.1H99.6M87 434.8H99.6M87 434.1V434.8M77.6 434.4H87M85.3 435.5H99.6M85.3 436.2H99.6M85.3 435.5V436.2M77.6 435.8H85.3M77.6 434.4V435.8M73.9 435.1H77.6M73.9 432.4V435.1M67.6 433.8H73.9M87.2 436.8H99.6M87.2 437.5H99.6M87.2 436.8V437.5M82.2 437.2H87.2M84.6 438.2H99.6M84.6 438.9H99.6M84.6 438.2V438.9M82.2 438.6H84.6M82.2 437.2V438.6M76.5 437.9H82.2M86.3 439.6H99.6M86.3 440.3H99.6M86.3 439.6V440.3M82.3 439.9H86.3M85.6 441H99.6M85.6 441.7H99.6M85.6 441V441.7M82.3 441.3H85.6M82.3 439.9V441.3M76.5 440.6H82.3M76.5 437.9V440.6M67.6 439.2H76.5M67.6 433.8V439.2M61.5 436.5H67.6M86.2 442.3H99.6M86.2 443H99.6M86.2 442.3V443M79.9 442.7H86.2M83.3 443.7H99.6M83.3 444.4H99.6M83.3 443.7V444.4M79.9 444.1H83.3M79.9 442.7V444.1M71.7 443.4H79.9M84.9 445.1H99.6M84.9 445.8H99.6M84.9 445.1V445.8M79.1 445.4H84.9M82.8 446.5H99.6M82.8 447.2H99.6M82.8 446.5V447.2M79.1 446.8H82.8M79.1 445.4V446.8M71.7 446.1H79.1M71.7 443.4V446.1M66.6 444.8H71.7M83.3 447.8H99.6M83.3 448.5H99.6M83.3 447.8V448.5M79.1 448.2H83.3M87 449.2H99.6M87 449.9H99.6M87 449.2V449.9M79.1 449.6H87M79.1 448.2V449.6M71.2 448.9H79.1M86 450.6H99.6M86 451.3H99.6M86 450.6V451.3M74.2 450.9H86M82.9 452H99.6M82.9 452.7H99.6M82.9 452V452.7M74.2 452.3H82.9M74.2 450.9V452.3M71.2 451.6H74.2M71.2 448.9V451.6M66.6 450.2H71.2M66.6 444.8V450.2M61.5 447.5H66.6M61.5 436.5V447.5M55.1 442H61.5M83.6 453.3H99.6M83.6 454H99.6M83.6 453.3V454M81 453.7H83.6M86.3 454.7H99.6M86.3 455.4H99.6M86.3 454.7V455.4M81 455.1H86.3M81 453.7V455.1M77.3 454.4H81M86.1 456.1H99.6M86.1 456.8H99.6M86.1 456.1V456.8M83.8 456.4H86.1M88.4 457.5H99.6M88.4 458.2H99.6M88.4 457.5V458.2M83.8 457.8H88.4M83.8 456.4V457.8M77.3 457.1H83.8M77.3 454.4V457.1M73.3 455.8H77.3M87 458.8H99.6M87 459.5H99.6M87 458.8V459.5M82 459.2H87M86.6 460.2H99.6M86.6 460.9H99.6M86.6 460.2V460.9M82 460.6H86.6M82 459.2V460.6M78 459.9H82M87.2 461.6H99.6M87.2 462.3H99.6M87.2 461.6V462.3M83.7 461.9H87.2M86.3 463H99.6M86.3 463.7H99.6M86.3 463V463.7M83.7 463.3H86.3M83.7 461.9V463.3M78 462.6H83.7M78 459.9V462.6M73.3 461.2H78M73.3 455.8V461.2M62.5 458.5H73.3M84.6 464.3H99.6M84.6 465H99.6M84.6 464.3V465M79.4 464.7H84.6M82.8 465.7H99.6M82.8 466.4H99.6M82.8 465.7V466.4M79.4 466.1H82.8M79.4 464.7V466.1M75.9 465.4H79.4M86.8 467.1H99.6M86.8 467.8H99.6M86.8 467.1V467.8M82.5 467.4H86.8M84.8 468.5H99.6M84.8 469.2H99.6M84.8 468.5V469.2M82.5 468.8H84.8M82.5 467.4V468.8M75.9 468.1H82.5M75.9 465.4V468.1M72 466.8H75.9M85.8 469.8H99.6M85.8 470.5H99.6M85.8 469.8V470.5M81.8 470.2H85.8M86.2 471.2H99.6M86.2 471.9H99.6M86.2 471.2V471.9M81.8 471.6H86.2M81.8 470.2V471.6M78.7 470.9H81.8M87.9 472.6H99.6M87.9 473.3H99.6M87.9 472.6V473.3M83.6 472.9H87.9M87 474H99.6M87 474.7H99.6M87 474V474.7M83.6 474.3H87M83.6 472.9V474.3M78.7 473.6H83.6M78.7 470.9V473.6M72 472.2H78.7M72 466.8V472.2M62.5 469.5H72M62.5 458.5V469.5M55.1 464H62.5M55.1 442V464M39.1 453H55.1M39.1 413V453M27.5 433H39.1M27.5 377V433M7.4 405H27.5M83.1 475.4H99.6M83.1 476.2H99.6M83.1 475.4V476.2M72.2 475.8H83.1M79.3 477H99.6M79.3 477.8H99.6M79.3 477V477.8M72.2 477.4H79.3M72.2 475.8V477.4M68.1 476.6H72.2M81.3 478.7H99.6M81.3 479.5H99.6M81.3 478.7V479.5M74.4 479.1H81.3M84.4 480.3H99.6M84.4 481.1H99.6M84.4 480.3V481.1M74.4 480.7H84.4M74.4 479.1V480.7M68.1 479.9H74.4M68.1 476.6V479.9M62.5 478.2H68.1M83.3 481.9H99.6M83.3 482.7H99.6M83.3 481.9V482.7M77.7 482.3H83.3M83.9 483.5H99.6M83.9 484.3H99.6M83.9 483.5V484.3M77.7 483.9H83.9M77.7 482.3V483.9M69.7 483.1H77.7M84.6 485.2H99.6M84.6 486H99.6M84.6 485.2V486M78.5 485.6H84.6M84.3 486.8H99.6M84.3 487.6H99.6M84.3 486.8V487.6M78.5 487.2H84.3M78.5 485.6V487.2M69.7 486.4H78.5M69.7 483.1V486.4M62.5 484.8H69.7M62.5 478.2V484.8M50.3 481.5H62.5M76.4 488.6H99.6M76.4 489.7H99.6M76.4 488.6V489.7M69.9 489.1H76.4M76.4 490.8H99.6M76.4 491.9H99.6M76.4 490.8V491.9M69.9 491.4H76.4M69.9 489.1V491.4M57.8 490.2H69.9M74.6 493.1H99.6M74.6 494.2H99.6M74.6 493.1V494.2M63.2 493.6H74.6M77.7 495.3H99.6M77.7 496.4H99.6M77.7 495.3V496.4M63.2 495.9H77.7M63.2 493.6V495.9M57.8 494.8H63.2M57.8 490.2V494.8M50.3 492.5H57.8M50.3 481.5V492.5M28.1 487H50.3M85.6 497.4H99.6M85.6 498.1H99.6M85.6 497.4V498.1M72.5 497.7H85.6M83.3 498.9H99.6M83.3 499.6H99.6M83.3 498.9V499.6M72.5 499.2H83.3M72.5 497.7V499.2M63 498.5H72.5M82.5 500.4H99.6M82.5 501.1H99.6M82.5 500.4V501.1M71.8 500.7H82.5M84.7 501.9H99.6M84.7 502.6H99.6M84.7 501.9V502.6M71.8 502.2H84.7M71.8 500.7V502.2M63 501.5H71.8M63 498.5V501.5M55.9 500H63M84 503.3H99.6M84 504.1H99.6M84 503.3V504.1M68.9 503.7H84M80.9 504.8H99.6M80.9 505.6H99.6M80.9 504.8V505.6M68.9 505.2H80.9M68.9 503.7V505.2M63 504.5H68.9M85.1 506.3H99.6M85.1 507.1H99.6M85.1 506.3V507.1M70.7 506.7H85.1M81.4 507.8H99.6M81.4 508.6H99.6M81.4 507.8V508.6M70.7 508.2H81.4M70.7 506.7V508.2M63 507.5H70.7M63 504.5V507.5M55.9 506H63M55.9 500V506M42.4 503H55.9M83.3 509.3H99.6M83.3 510.1H99.6M83.3 509.3V510.1M71 509.7H83.3M81.4 510.8H99.6M81.4 511.6H99.6M81.4 510.8V511.6M71 511.2H81.4M71 509.7V511.2M61.4 510.4H71M83.5 512.3H99.6M83.5 513.1H99.6M83.5 512.3V513.1M66.2 512.7H83.5M84.7 513.8H99.6M84.7 514.6H99.6M84.7 513.8V514.6M66.2 514.2H84.7M66.2 512.7V514.2M61.4 513.4H66.2M61.4 510.4V513.4M53 511.9H61.4M81.1 515.3H99.6M81.1 516H99.6M81.1 515.3V516M67.6 515.7H81.1M85.5 516.8H99.6M85.5 517.5H99.6M85.5 516.8V517.5M67.6 517.2H85.5M67.6 515.7V517.2M62.5 516.4H67.6M85.9 518.3H99.6M85.9 519H99.6M85.9 518.3V519M73.2 518.7H85.9M84.1 519.8H99.6M84.1 520.5H99.6M84.1 519.8V520.5M73.2 520.2H84.1M73.2 518.7V520.2M62.5 519.4H73.2M62.5 516.4V519.4M53 517.9H62.5M53 511.9V517.9M42.4 514.9H53M42.4 503V514.9M35.9 509H42.4M79.1 521.5H99.6M79.1 522.7H99.6M79.1 521.5V522.7M74.6 522.1H79.1M81.2 523.9H99.6M81.2 525.1H99.6M81.2 523.9V525.1M74.6 524.5H81.2M74.6 522.1V524.5M65.9 523.3H74.6M76.6 526.3H99.6M76.6 527.5H99.6M76.6 526.3V527.5M70.8 526.9H76.6M76 528.7H99.6M76 529.9H99.6M76 528.7V529.9M70.8 529.3H76M70.8 526.9V529.3M65.9 528.1H70.8M65.9 523.3V528.1M53.8 525.7H65.9M77.8 531H99.6M77.8 532.2H99.6M77.8 531V532.2M68.8 531.6H77.8M77.1 533.4H99.6M77.1 534.6H99.6M77.1 533.4V534.6M68.8 534H77.1M68.8 531.6V534M65 532.8H68.8M78.7 535.8H99.6M78.7 537H99.6M78.7 535.8V537M72.6 536.4H78.7M77.6 538.2H99.6M77.6 539.4H99.6M77.6 538.2V539.4M72.6 538.8H77.6M72.6 536.4V538.8M65 537.6H72.6M65 532.8V537.6M53.8 535.2H65M53.8 525.7V535.2M35.9 530.5H53.8M35.9 509V530.5M28.1 519.7H35.9M28.1 487V519.7M10.1 503.4H28.1M83 540.4H99.6M83 541.1H99.6M83 540.4V541.1M77.4 540.8H83M85.2 541.9H99.6M85.2 542.6H99.6M85.2 541.9V542.6M77.4 542.2H85.2M77.4 540.8V542.2M72 541.5H77.4M83.8 543.4H99.6M83.8 544.1H99.6M83.8 543.4V544.1M77.4 543.8H83.8M83.8 544.9H99.6M83.8 545.6H99.6M83.8 544.9V545.6M77.4 545.2H83.8M77.4 543.8V545.2M72 544.5H77.4M72 541.5V544.5M68.8 543H72M85.3 546.4H99.6M85.3 547.1H99.6M85.3 546.4V547.1M80.6 546.8H85.3M85.8 547.9H99.6M85.8 548.6H99.6M85.8 547.9V548.6M80.6 548.2H85.8M80.6 546.8V548.2M75 547.5H80.6M85.6 549.4H99.6M85.6 550.1H99.6M85.6 549.4V550.1M79.9 549.8H85.6M85.3 550.9H99.6M85.3 551.6H99.6M85.3 550.9V551.6M79.9 551.2H85.3M79.9 549.8V551.2M75 550.5H79.9M75 547.5V550.5M68.8 549H75M68.8 543V549M61.5 546H68.8M85.4 552.4H99.6M85.4 553.1H99.6M85.4 552.4V553.1M79.8 552.8H85.4M84.9 553.9H99.6M84.9 554.6H99.6M84.9 553.9V554.6M79.8 554.2H84.9M79.8 552.8V554.2M74.9 553.5H79.8M85.3 555.4H99.6M85.3 556.1H99.6M85.3 555.4V556.1M77.7 555.8H85.3M84.7 556.9H99.6M84.7 557.6H99.6M84.7 556.9V557.6M77.7 557.2H84.7M77.7 555.8V557.2M74.9 556.5H77.7M74.9 553.5V556.5M70.9 555H74.9M85.1 558.4H99.6M85.1 559.1H99.6M85.1 558.4V559.1M82.7 558.8H85.1M86.1 559.9H99.6M86.1 560.6H99.6M86.1 559.9V560.6M82.7 560.2H86.1M82.7 558.8V560.2M78.5 559.5H82.7M83.2 561.4H99.6M83.2 562.1H99.6M83.2 561.4V562.1M80.7 561.8H83.2M85.2 562.9H99.6M85.2 563.6H99.6M85.2 562.9V563.6M80.7 563.2H85.2M80.7 561.8V563.2M78.5 562.5H80.7M78.5 559.5V562.5M70.9 561H78.5M70.9 555V561M61.5 558H70.9M61.5 546V558M52.9 552H61.5M79.1 564.5H99.6M79.1 565.5H99.6M79.1 564.5V565.5M64.1 565H79.1M77.7 566.5H99.6M77.7 567.5H99.6M77.7 566.5V567.5M64.1 567H77.7M64.1 565V567M59.1 566H64.1M74.6 568.5H99.6M74.6 569.5H99.6M74.6 568.5V569.5M67.9 569H74.6M78.8 570.5H99.6M78.8 571.5H99.6M78.8 570.5V571.5M67.9 571H78.8M67.9 569V571M59.1 570H67.9M59.1 566V570M52.9 568H59.1M52.9 552V568M26.4 560H52.9M80.6 572.4H99.6M80.6 573.3H99.6M80.6 572.4V573.3M65.4 572.9H80.6M79.5 574.2H99.6M79.5 575H99.6M79.5 574.2V575M65.4 574.6H79.5M65.4 572.9V574.6M40.2 573.7H65.4M79 576.1H99.6M79 577.3H99.6M79 576.1V577.3M72.9 576.7H79M78.7 578.5H99.6M78.7 579.7H99.6M78.7 578.5V579.7M72.9 579.1H78.7M72.9 576.7V579.1M63.4 577.9H72.9M76.3 580.9H99.6M76.3 582.2H99.6M76.3 580.9V582.2M69.3 581.6H76.3M76 583.4H99.6M76 584.6H99.6M76 583.4V584.6M69.3 584H76M69.3 581.6V584M63.4 582.8H69.3M63.4 577.9V582.8M51.4 580.3H63.4M77.4 585.8H99.6M77.4 587.1H99.6M77.4 585.8V587.1M66 586.4H77.4M74.6 588.3H99.6M74.6 589.5H99.6M74.6 588.3V589.5M66 588.9H74.6M66 586.4V588.9M61.2 587.7H66M72.6 590.7H99.6M72.6 591.9H99.6M72.6 590.7V591.9M65.8 591.3H72.6M75.9 593.2H99.6M75.9 594.4H99.6M75.9 593.2V594.4M65.8 593.8H75.9M65.8 591.3V593.8M61.2 592.6H65.8M61.2 587.7V592.6M51.4 590.1H61.2M51.4 580.3V590.1M40.2 585.2H51.4M40.2 573.7V585.2M26.4 579.5H40.2M26.4 560V579.5M10.1 569.7H26.4M10.1 503.4V569.7M7.4 536.5H10.1M85.3 595.4H99.6M85.3 596.1H99.6M85.3 595.4V596.1M65.1 595.8H85.3M82.7 596.9H99.6M82.7 597.6H99.6M82.7 596.9V597.6M65.1 597.2H82.7M65.1 595.8V597.2M60.1 596.5H65.1M84.7 598.4H99.6M84.7 599.1H99.6M84.7 598.4V599.1M70.9 598.8H84.7M82.7 599.9H99.6M82.7 600.6H99.6M82.7 599.9V600.6M70.9 600.2H82.7M70.9 598.8V600.2M60.1 599.5H70.9M60.1 596.5V599.5M48.6 598H60.1M77.5 601.5H99.6M77.5 602.5H99.6M77.5 601.5V602.5M68.6 602H77.5M75.3 603.5H99.6M75.3 604.5H99.6M75.3 603.5V604.5M68.6 604H75.3M68.6 602V604M59.4 603H68.6M79.9 605.5H99.6M79.9 606.5H99.6M79.9 605.5V606.5M63.8 606H79.9M76.1 607.5H99.6M76.1 608.5H99.6M76.1 607.5V608.5M63.8 608H76.1M63.8 606V608M59.4 607H63.8M59.4 603V607M48.6 605H59.4M48.6 598V605M20.6 601.5H48.6M78.9 609.5H99.6M78.9 610.6H99.6M78.9 609.5V610.6M69.5 610.1H78.9M77.9 611.7H99.6M77.9 612.8H99.6M77.9 611.7V612.8M69.5 612.2H77.9M69.5 610.1V612.2M62 611.2H69.5M74.8 613.9H99.6M74.8 614.9H99.6M74.8 613.9V614.9M66.1 614.4H74.8M73.8 616H99.6M73.8 617.1H99.6M73.8 616V617.1M66.1 616.5H73.8M66.1 614.4V616.5M62 615.5H66.1M62 611.2V615.5M55.8 613.3H62M79.4 618.2H99.6M79.4 619.2H99.6M79.4 618.2V619.2M74.9 618.7H79.4M79.9 620.3H99.6M79.9 621.4H99.6M79.9 620.3V621.4M74.9 620.9H79.9M74.9 618.7V620.9M66.7 619.8H74.9M78.8 622.5H99.6M78.8 623.6H99.6M78.8 622.5V623.6M72.2 623H78.8M78.9 624.6H99.6M78.9 625.7H99.6M78.9 624.6V625.7M72.2 625.2H78.9M72.2 623V625.2M66.7 624.1H72.2M66.7 619.8V624.1M55.8 621.9H66.7M55.8 613.3V621.9M38.1 617.6H55.8M78.6 626.8H99.6M78.6 627.9H99.6M78.6 626.8V627.9M69.1 627.3H78.6M80.1 628.9H99.6M80.1 630H99.6M80.1 628.9V630M69.1 629.5H80.1M69.1 627.3V629.5M63.6 628.4H69.1M76.7 631.1H99.6M76.7 632.2H99.6M76.7 631.1V632.2M69.1 631.6H76.7M77.7 633.3H99.6M77.7 634.3H99.6M77.7 633.3V634.3M69.1 633.8H77.7M69.1 631.6V633.8M63.6 632.7H69.1M63.6 628.4V632.7M51.1 630.6H63.6M76.4 635.4H99.6M76.4 636.5H99.6M76.4 635.4V636.5M69.7 636H76.4M76.6 637.6H99.6M76.6 638.6H99.6M76.6 637.6V638.6M69.7 638.1H76.6M69.7 636V638.1M64.5 637H69.7M78.1 639.7H99.6M78.1 640.8H99.6M78.1 639.7V640.8M71.3 640.3H78.1M76.6 641.9H99.6M76.6 643H99.6M76.6 641.9V643M71.3 642.4H76.6M71.3 640.3V642.4M64.5 641.3H71.3M64.5 637V641.3M51.1 639.2H64.5M51.1 630.6V639.2M38.1 634.9H51.1M38.1 617.6V634.9M31.1 626.2H38.1M77.8 643.9H99.6M77.8 644.8H99.6M77.8 643.9V644.8M67.2 644.4H77.8M82.7 645.7H99.6M82.7 646.6H99.6M82.7 645.7V646.6M67.2 646.2H82.7M67.2 644.4V646.2M58.8 645.3H67.2M79.6 647.5H99.6M79.6 648.4H99.6M79.6 647.5V648.4M67 648H79.6M79 649.3H99.6M79 650.2H99.6M79 649.3V650.2M67 649.7H79M67 648V649.7M58.8 648.8H67M58.8 645.3V648.8M53.4 647.1H58.8M78 651.1H99.6M78 652H99.6M78 651.1V652M65.7 651.5H78M78.2 652.9H99.6M78.2 653.7H99.6M78.2 652.9V653.7M65.7 653.3H78.2M65.7 651.5V653.3M58.7 652.4H65.7M82.3 654.6H99.6M82.3 655.5H99.6M82.3 654.6V655.5M70.2 655.1H82.3M83.4 656.4H99.6M83.4 657.3H99.6M83.4 656.4V657.3M70.2 656.9H83.4M70.2 655.1V656.9M58.7 656H70.2M58.7 652.4V656M53.4 654.2H58.7M53.4 647.1V654.2M45.8 650.6H53.4M83 658.2H99.6M83 659.1H99.6M83 658.2V659.1M76.1 658.6H83M82.3 660H99.6M82.3 660.9H99.6M82.3 660V660.9M76.1 660.4H82.3M76.1 658.6V660.4M69.2 659.5H76.1M82 661.8H99.6M82 662.6H99.6M82 661.8V662.6M74.2 662.2H82M79.1 663.5H99.6M79.1 664.4H99.6M79.1 663.5V664.4M74.2 664H79.1M74.2 662.2V664M69.2 663.1H74.2M69.2 659.5V663.1M60.3 661.3H69.2M82.8 665.3H99.6M82.8 666.2H99.6M82.8 665.3V666.2M76.6 665.8H82.8M81 667.1H99.6M81 668H99.6M81 667.1V668M76.6 667.5H81M76.6 665.8V667.5M67.1 666.7H76.6M79.2 668.9H99.6M79.2 669.8H99.6M79.2 668.9V669.8M73.2 669.3H79.2M82.2 670.7H99.6M82.2 671.6H99.6M82.2 670.7V671.6M73.2 671.1H82.2M73.2 669.3V671.1M67.1 670.2H73.2M67.1 666.7V670.2M60.3 668.4H67.1M60.3 661.3V668.4M45.8 664.9H60.3M45.8 650.6V664.9M31.1 657.8H45.8M31.1 626.2V657.8M20.6 642H31.1M20.6 601.5V642M7.4 621.8H20.6M79.3 672.6H99.6M79.3 673.9H99.6M79.3 672.6V673.9M72.4 673.3H79.3M75.2 675.2H99.6M75.2 676.5H99.6M75.2 675.2V676.5M72.4 675.9H75.2M72.4 673.3V675.9M69.4 674.6H72.4M78.7 677.8H99.6M78.7 679.1H99.6M78.7 677.8V679.1M75.4 678.4H78.7M79.5 680.4H99.6M79.5 681.7H99.6M79.5 680.4V681.7M75.4 681H79.5M75.4 678.4V681M69.4 679.7H75.4M69.4 674.6V679.7M58.6 677.1H69.4M77.3 682.9H99.6M77.3 684.2H99.6M77.3 682.9V684.2M70.3 683.6H77.3M73.8 685.5H99.6M73.8 686.8H99.6M73.8 685.5V686.8M70.3 686.2H73.8M70.3 683.6V686.2M64.8 684.9H70.3M76.2 688.1H99.6M76.2 689.4H99.6M76.2 688.1V689.4M68.8 688.7H76.2M75.8 690.7H99.6M75.8 692H99.6M75.8 690.7V692M68.8 691.3H75.8M68.8 688.7V691.3M64.8 690H68.8M64.8 684.9V690M58.6 687.4H64.8M58.6 677.1V687.4M43.2 682.3H58.6M78.9 693.2H99.6M78.9 694.4H99.6M78.9 693.2V694.4M75.5 693.8H78.9M82.2 695.6H99.6M82.2 696.8H99.6M82.2 695.6V696.8M75.5 696.2H82.2M75.5 693.8V696.2M66.2 695H75.5M76.1 698.1H99.6M76.1 699.3H99.6M76.1 698.1V699.3M72.1 698.7H76.1M77.8 700.5H99.6M77.8 701.7H99.6M77.8 700.5V701.7M72.1 701.1H77.8M72.1 698.7V701.1M66.2 699.9H72.1M66.2 695V699.9M53.4 697.5H66.2M74.6 702.9H99.6M74.6 704.1H99.6M74.6 702.9V704.1M70.8 703.5H74.6M77.5 705.3H99.6M77.5 706.5H99.6M77.5 705.3V706.5M70.8 705.9H77.5M70.8 703.5V705.9M65 704.7H70.8M77.2 707.8H99.6M77.2 709H99.6M77.2 707.8V709M69.6 708.4H77.2M73.9 710.2H99.6M73.9 711.4H99.6M73.9 710.2V711.4M69.6 710.8H73.9M69.6 708.4V710.8M65 709.6H69.6M65 704.7V709.6M53.4 707.2H65M53.4 697.5V707.2M43.2 702.3H53.4M43.2 682.3V702.3M9.3 692.3H43.2M77.9 712.6H99.6M77.9 713.8H99.6M77.9 712.6V713.8M74.6 713.2H77.9M78.3 715.1H99.6M78.3 716.3H99.6M78.3 715.1V716.3M74.6 715.7H78.3M74.6 713.2V715.7M66.6 714.5H74.6M77.7 717.5H99.6M77.7 718.7H99.6M77.7 717.5V718.7M73.4 718.1H77.7M81.1 720H99.6M81.1 721.2H99.6M81.1 720V721.2M73.4 720.6H81.1M73.4 718.1V720.6M66.6 719.3H73.4M66.6 714.5V719.3M61.4 716.9H66.6M78.8 722.4H99.6M78.8 723.6H99.6M78.8 722.4V723.6M70 723H78.8M77.3 724.9H99.6M77.3 726.1H99.6M77.3 724.9V726.1M70 725.5H77.3M70 723V725.5M66 724.2H70M75.8 727.3H99.6M75.8 728.5H99.6M75.8 727.3V728.5M70.6 727.9H75.8M77.3 729.8H99.6M77.3 731H99.6M77.3 729.8V731M70.6 730.4H77.3M70.6 727.9V730.4M66 729.1H70.6M66 724.2V729.1M61.4 726.7H66M61.4 716.9V726.7M46.7 721.8H61.4M77.3 732.1H99.6M77.3 733.1H99.6M77.3 732.1V733.1M74 732.6H77.3M78.7 734.2H99.6M78.7 735.2H99.6M78.7 734.2V735.2M74 734.7H78.7M74 732.6V734.7M66.6 733.6H74M81 736.2H99.6M81 737.2H99.6M81 736.2V737.2M75.9 736.7H81M80.2 738.3H99.6M80.2 739.3H99.6M80.2 738.3V739.3M75.9 738.8H80.2M75.9 736.7V738.8M66.6 737.8H75.9M66.6 733.6V737.8M56.2 735.7H66.6M81.8 740.3H99.6M81.8 741.3H99.6M81.8 740.3V741.3M75.2 740.8H81.8M80.7 742.4H99.6M80.7 743.4H99.6M80.7 742.4V743.4M75.2 742.9H80.7M75.2 740.8V742.9M66.8 741.9H75.2M78.1 744.4H99.6M78.1 745.4H99.6M78.1 744.4V745.4M72.1 744.9H78.1M79.2 746.5H99.6M79.2 747.5H99.6M79.2 746.5V747.5M72.1 747H79.2M72.1 744.9V747M66.8 746H72.1M66.8 741.9V746M56.2 743.9H66.8M56.2 735.7V743.9M46.7 739.8H56.2M46.7 721.8V739.8M24.5 730.8H46.7M78 748.6H99.6M78 749.9H99.6M78 748.6V749.9M71.4 749.3H78M75.3 751.2H99.6M75.3 752.5H99.6M75.3 751.2V752.5M71.4 751.8H75.3M71.4 749.3V751.8M63.2 750.5H71.4M77.9 753.7H99.6M77.9 755H99.6M77.9 753.7V755M72.5 754.4H77.9M75.5 756.3H99.6M75.5 757.6H99.6M75.5 756.3V757.6M72.5 756.9H75.5M72.5 754.4V756.9M63.2 755.7H72.5M63.2 750.5V755.7M55 753.1H63.2M75.4 758.8H99.6M75.4 760.1H99.6M75.4 758.8V760.1M72.1 759.5H75.4M77.8 761.4H99.6M77.8 762.7H99.6M77.8 761.4V762.7M72.1 762H77.8M72.1 759.5V762M60.9 760.8H72.1M76.9 763.9H99.6M76.9 765.2H99.6M76.9 763.9V765.2M68.7 764.6H76.9M74.4 766.5H99.6M74.4 767.8H99.6M74.4 766.5V767.8M68.7 767.1H74.4M68.7 764.6V767.1M60.9 765.9H68.7M60.9 760.8V765.9M55 763.3H60.9M55 753.1V763.3M42 758.2H55M77.1 769H99.6M77.1 770.2H99.6M77.1 769V770.2M64.1 769.6H77.1M74.1 771.5H99.6M74.1 772.7H99.6M74.1 771.5V772.7M64.1 772.1H74.1M64.1 769.6V772.1M59 770.9H64.1M71.6 773.9H99.6M71.6 775.1H99.6M71.6 773.9V775.1M63.2 774.5H71.6M75.3 776.4H99.6M75.3 777.6H99.6M75.3 776.4V777.6M63.2 777H75.3M63.2 774.5V777M59 775.7H63.2M59 770.9V775.7M50.2 773.3H59M73.8 778.8H99.6M73.8 780H99.6M73.8 778.8V780M69.5 779.4H73.8M75.7 781.3H99.6M75.7 782.5H99.6M75.7 781.3V782.5M69.5 781.9H75.7M69.5 779.4V781.9M57.3 780.6H69.5M72.3 783.7H99.6M72.3 784.9H99.6M72.3 783.7V784.9M62.7 784.3H72.3M72.7 786.2H99.6M72.7 787.4H99.6M72.7 786.2V787.4M62.7 786.8H72.7M62.7 784.3V786.8M57.3 785.5H62.7M57.3 780.6V785.5M50.2 783.1H57.3M50.2 773.3V783.1M42 778.2H50.2M42 758.2V778.2M24.5 768.2H42M24.5 730.8V768.2M9.3 749.5H24.5M9.3 692.3V749.5M7.4 720.9H9.3M7.4 131.5V720.9" fill="none" stroke="#000" stroke-width="1.4"/>
<text x="97.5" y="811.8" font-size="22">Seed</text>
<text x="160.3" y="811.8" font-size="22">Shoot</text>
<text x="230" y="811.8" font-size="22">Flower</text>
<text x="308.3" y="811.8" font-size="22">Fruit</text>
<polygon points="475.5,127.7 479.6,123.6 483.7,119.4 487.9,115.3 492,111.1 496.1,107 500.2,102.8 504.3,98.7 508.4,94.5 512.6,90.4 516.7,86.2 520.8,82.1 524.9,77.9 529,73.8 533.2,69.7 537.3,65.5 541.4,61.4 545.5,64 549.6,66.7 553.8,69.4 557.9,71.9 562,72.1 566.1,72.3 570.2,72.8 574.3,72.9 578.5,73.1 582.6,74.2 586.7,73.4 590.8,73.1 594.9,69.8 599.1,68 603.2,64.7 607.3,62.3 611.4,65.9 615.5,70 619.7,74 623.8,78 627.9,81.6 632,83.3 636.2,84 640.3,84.4 644.4,82.8 648.5,84.8 652.7,82.7 656.8,81.1 660.9,78.9 665,76.4 669.2,74.3 673.3,71.5 673.3,181.7 669.2,175.4 665,169.4 660.9,163.1 656.8,158.6 652.7,155 648.5,151.8 644.4,148.5 640.3,145.7 636.2,141.9 632,140.2 627.9,138.2 623.8,136.7 619.7,136.6 615.5,136.9 611.4,139.4 607.3,140.5 603.2,136.7 599.1,134.3 594.9,133.8 590.8,133.3 586.7,132 582.6,131.6 578.5,131.7 574.3,132 570.2,132 566.1,132 562,132.7 557.9,132.6 553.8,134.3 549.6,136.4 545.5,138.8 541.4,141.3 537.3,140.5 533.2,139.6 529,138.8 524.9,137.9 520.8,137.1 516.7,136.2 512.6,135.4 508.4,134.5 504.3,133.7 500.2,132.8 496.1,132 492,131.1 487.9,130.3 483.7,129.4 479.6,128.6 475.5,127.7" fill="#d5d5d5"/>
<path d="M475.5 127.7 541.4 137.4 607.3 83.5 673.3 140M475.5 127.7 541.4 134.1 607.3 87.8 673.3 156.8M475.5 127.7 541.4 110.1 607.3 100.3 673.3 65.6M475.5 127.7 541.4 123.1 607.3 110.2 673.3 82.9M475.5 127.7 541.4 98.1 607.3 93.5 673.3 145.6M475.5 127.7 541.4 79.8 607.3 97.6 673.3 66.4M475.5 127.7 541.4 72.5 607.3 128.5 673.3 97.1M475.5 127.7 541.4 75.7 607.3 88.4 673.3 124.9M475.5 127.7 541.4 115.6 607.3 105.8 673.3 93.3M475.5 127.7 541.4 139.9 607.3 118.6 673.3 107.2M475.5 127.7 541.4 85.3 607.3 90 673.3 93.5M475.5 127.7 541.4 109.2 607.3 98.7 673.3 154.1M475.5 127.7 541.4 123.9 607.3 110.6 673.3 148.4M475.5 127.7 541.4 69.7 607.3 139.3 673.3 108.1M475.5 127.7 541.4 80.4 607.3 124.3 673.3 117.1M475.5 127.7 541.4 63.3 607.3 118.7 673.3 161M475.5 127.7 541.4 129.5 607.3 95.8 673.3 102.6M475.5 127.7 541.4 78.8 607.3 92.7 673.3 90.7M475.5 127.7 541.4 99.1 607.3 100.7 673.3 138M475.5 127.7 541.4 111.7 607.3 119.9 673.3 143.3M475.5 127.7 541.4 119.8 607.3 106.7 673.3 109.7M475.5 127.7 541.4 103.2 607.3 130.6 673.3 120.6M475.5 127.7 541.4 138.9 607.3 63.5 673.3 165.7M475.5 127.7 541.4 84.6 607.3 118.2 673.3 142.7M475.5 127.7 541.4 107.5 607.3 112.7 673.3 105.2M475.5 127.7 541.4 143.2 607.3 87.2 673.3 107.3M475.5 127.7 541.4 82.9 607.3 84.3 673.3 119.6M475.5 127.7 541.4 98.5 607.3 122.2 673.3 100M475.5 127.7 541.4 115.8 607.3 81.9 673.3 116.4M475.5 127.7 541.4 78 607.3 102 673.3 109.7M475.5 127.7 541.4 78.3 607.3 118.9 673.3 94.2M475.5 127.7 541.4 106.4 607.3 106.1 673.3 137.8M475.5 127.7 541.4 115.9 607.3 90.3 673.3 128.4M475.5 127.7 541.4 86.3 607.3 82.2 673.3 129.1M475.5 127.7 541.4 95.4 607.3 105.3 673.3 132.7M475.5 127.7 541.4 75.2 607.3 88.2 673.3 164.6M475.5 127.7 541.4 113.6 607.3 118 673.3 120.2M475.5 127.7 541.4 116.2 607.3 72.3 673.3 124.8M475.5 127.7 541.4 100.3 607.3 113.6 673.3 117.9M475.5 127.7 541.4 105 607.3 109.5 673.3 150.1M475.5 127.7 541.4 119.5 607.3 84.6 673.3 123.3M475.5 127.7 541.4 91.9 607.3 119.2 673.3 123.7M475.5 127.7 541.4 111 607.3 109.1 673.3 150.3M475.5 127.7 541.4 117.6 607.3 112.7 673.3 70.7M475.5 127.7 541.4 100.5 607.3 84.6 673.3 166.5M475.5 127.7 541.4 95.5 607.3 100.7 673.3 118.9M475.5 127.7 541.4 91.9 607.3 105.3 673.3 113.7M475.5 127.7 541.4 98.4 607.3 83.4 673.3 109.5M475.5 127.7 541.4 81.5 607.3 82.8 673.3 141.1M475.5 127.7 541.4 110 607.3 104 673.3 147.5M475.5 127.7 541.4 72.4 607.3 88.2 673.3 119.1M475.5 127.7 541.4 112 607.3 92.1 673.3 181.7M475.5 127.7 541.4 106.4 607.3 132.5 673.3 117.7M475.5 127.7 541.4 99 607.3 129.3 673.3 116.6M475.5 127.7 541.4 108.5 607.3 107.5 673.3 155M475.5 127.7 541.4 100.6 607.3 62.3 673.3 116.5M475.5 127.7 541.4 108 607.3 105.3 673.3 187.9M475.5 127.7 541.4 111.9 607.3 104 673.3 128.9M475.5 127.7 541.4 103 607.3 91.6 673.3 111.2M475.5 127.7 541.4 80.1 607.3 126.4 673.3 101.7M475.5 127.7 541.4 109.3 607.3 120.8 673.3 80.8M475.5 127.7 541.4 73.5 607.3 120.8 673.3 99.5M475.5 127.7 541.4 95 607.3 108.6 673.3 86.1M475.5 127.7 541.4 103.8 607.3 107 673.3 109.4M475.5 127.7 541.4 110.2 607.3 98.9 673.3 129.6M475.5 127.7 541.4 101.5 607.3 104.8 673.3 149.3M475.5 127.7 541.4 103.6 607.3 99.6 673.3 109M475.5 127.7 541.4 100.4 607.3 88.1 673.3 78.8M475.5 127.7 541.4 131.2 607.3 80.5 673.3 124.3M475.5 127.7 541.4 90.1 607.3 80.4 673.3 109M475.5 127.7 541.4 93.2 607.3 118.2 673.3 134.4M475.5 127.7 541.4 123.5 607.3 101 673.3 78.2M475.5 127.7 541.4 131.4 607.3 59 673.3 135.1M475.5 127.7 541.4 76.3 607.3 112.2 673.3 140.7M475.5 127.7 541.4 123.5 607.3 57.4 673.3 135.5M475.5 127.7 541.4 121.5 607.3 109.4 673.3 133.6M475.5 127.7 541.4 92.2 607.3 98.8 673.3 114.6M475.5 127.7 541.4 100 607.3 86.2 673.3 170M475.5 127.7 541.4 86 607.3 112.6 673.3 132M475.5 127.7 541.4 128.2 607.3 111.7 673.3 170.8M475.5 127.7 541.4 142.3 607.3 95.8 673.3 124.7M475.5 127.7 541.4 122.7 607.3 103.7 673.3 118.3M475.5 127.7 541.4 79.7 607.3 116.3 673.3 118.5M475.5 127.7 541.4 135.3 607.3 85.9 673.3 165.3M475.5 127.7 541.4 119.4 607.3 97.6 673.3 119.8M475.5 127.7 541.4 128.3 607.3 67.1 673.3 120.8M475.5 127.7 541.4 100.2 607.3 96.8 673.3 161.8M475.5 127.7 541.4 102.2 607.3 119.3 673.3 121.7M475.5 127.7 541.4 79.1 607.3 110.6 673.3 174.5M475.5 127.7 541.4 70.2 607.3 140.5 673.3 129.9M475.5 127.7 541.4 104.4 607.3 129.2 673.3 178.8M475.5 127.7 541.4 85.4 607.3 126.7 673.3 102.9M475.5 127.7 541.4 107 607.3 89.9 673.3 160.8M475.5 127.7 541.4 94.4 607.3 90 673.3 146.5M475.5 127.7 541.4 116 607.3 114.3 673.3 95.6M475.5 127.7 541.4 100.3 607.3 131.5 673.3 161.7M475.5 127.7 541.4 92.7 607.3 108.8 673.3 100.2M475.5 127.7 541.4 132.2 607.3 107.9 673.3 118.5M475.5 127.7 541.4 122.9 607.3 101.9 673.3 154.1M475.5 127.7 541.4 82.8 607.3 89.4 673.3 104.9M475.5 127.7 541.4 69.9 607.3 105.4 673.3 96.9M475.5 127.7 541.4 101.2 607.3 96.7 673.3 122.5M475.5 127.7 541.4 106.5 607.3 78.5 673.3 110.8M475.5 127.7 541.4 79.2 607.3 108.8 673.3 145.5M475.5 127.7 541.4 113.2 607.3 88 673.3 193M475.5 127.7 541.4 75.4 607.3 115.2 673.3 90.4M475.5 127.7 541.4 102.2 607.3 130.7 673.3 126.3M475.5 127.7 541.4 121.6 607.3 75.2 673.3 132.8M475.5 127.7 541.4 105.8 607.3 101.1 673.3 147.4M475.5 127.7 541.4 87.9 607.3 104.8 673.3 108.3M475.5 127.7 541.4 110.8 607.3 125 673.3 95.6M475.5 127.7 541.4 139.3 607.3 82 673.3 181.8M475.5 127.7 541.4 84.9 607.3 140.2 673.3 161.7M475.5 127.7 541.4 124.8 607.3 108.4 673.3 103.2M475.5 127.7 541.4 110.7 607.3 87.3 673.3 134.5M475.5 127.7 541.4 111.7 607.3 81.2 673.3 146.8M475.5 127.7 541.4 104.7 607.3 89.7 673.3 104.1M475.5 127.7 541.4 111.5 607.3 90.7 673.3 152.2M475.5 127.7 541.4 123.9 607.3 81.6 673.3 127.7M475.5 127.7 541.4 111.6 607.3 76.7 673.3 157.9M475.5 127.7 541.4 117.6 607.3 92.9 673.3 160.1M475.5 127.7 541.4 119.7 607.3 97.8 673.3 159.2M475.5 127.7 541.4 85.3 607.3 75.5 673.3 130.5M475.5 127.7 541.4 111.3 607.3 87.3 673.3 101M475.5 127.7 541.4 104.4 607.3 96.7 673.3 133.8M475.5 127.7 541.4 117.3 607.3 97 673.3 85.8M475.5 127.7 541.4 91.5 607.3 129.5 673.3 105.5M475.5 127.7 541.4 117.8 607.3 88.9 673.3 143.7M475.5 127.7 541.4 120.8 607.3 120.9 673.3 127.1M475.5 127.7 541.4 94.5 607.3 147.4 673.3 71.9M475.5 127.7 541.4 89.4 607.3 107.2 673.3 125.7M475.5 127.7 541.4 128.7 607.3 104.7 673.3 86.5M475.5 127.7 541.4 79.5 607.3 78.6 673.3 160.5M475.5 127.7 541.4 93.2 607.3 117.2 673.3 122.2M475.5 127.7 541.4 106.6 607.3 100.5 673.3 115.9M475.5 127.7 541.4 76 607.3 100 673.3 94.5M475.5 127.7 541.4 110 607.3 100.1 673.3 166M475.5 127.7 541.4 125.8 607.3 98.1 673.3 106.2M475.5 127.7 541.4 124.9 607.3 80.3 673.3 114.1M475.5 127.7 541.4 96 607.3 68.5 673.3 130.8M475.5 127.7 541.4 81.3 607.3 120.7 673.3 120.7M475.5 127.7 541.4 96.5 607.3 88.6 673.3 117.8M475.5 127.7 541.4 88.3 607.3 130.4 673.3 145.2M475.5 127.7 541.4 117.5 607.3 93.6 673.3 133M475.5 127.7 541.4 76.5 607.3 113 673.3 123.4M475.5 127.7 541.4 98 607.3 75.3 673.3 120.6M475.5 127.7 541.4 108.6 607.3 136.5 673.3 129.3M475.5 127.7 541.4 71.9 607.3 116.2 673.3 121.6M475.5 127.7 541.4 124.5 607.3 105.2 673.3 114.6M475.5 127.7 541.4 112.1 607.3 117.5 673.3 157.4M475.5 127.7 541.4 135 607.3 107.4 673.3 105.6M475.5 127.7 541.4 128.8 607.3 108.5 673.3 121.5M475.5 127.7 541.4 91.8 607.3 103.4 673.3 144.7M475.5 127.7 541.4 112 607.3 108.3 673.3 94.8M475.5 127.7 541.4 93.1 607.3 119.5 673.3 126M475.5 127.7 541.4 134.8 607.3 55.5 673.3 92.7M475.5 127.7 541.4 97.8 607.3 115.4 673.3 146.8M475.5 127.7 541.4 94.3 607.3 127.3 673.3 135.7M475.5 127.7 541.4 85.5 607.3 100.7 673.3 99.9M475.5 127.7 541.4 52.8 607.3 102.8 673.3 123.4M475.5 127.7 541.4 121.1 607.3 101.6 673.3 110.9M475.5 127.7 541.4 77.4 607.3 129.7 673.3 113.8M475.5 127.7 541.4 105 607.3 84.5 673.3 119.3M475.5 127.7 541.4 109.6 607.3 114.1 673.3 147.2M475.5 127.7 541.4 118.1 607.3 106.6 673.3 136M475.5 127.7 541.4 121.8 607.3 96.6 673.3 115.6M475.5 127.7 541.4 97.4 607.3 113.3 673.3 84.8M475.5 127.7 541.4 79.5 607.3 139.9 673.3 97.6M475.5 127.7 541.4 83.3 607.3 141.5 673.3 111.1M475.5 127.7 541.4 105.1 607.3 67.4 673.3 102.4M475.5 127.7 541.4 120.2 607.3 111.5 673.3 128.1M475.5 127.7 541.4 118.9 607.3 94.3 673.3 126.2M475.5 127.7 541.4 99.4 607.3 114.8 673.3 147.4M475.5 127.7 541.4 72.9 607.3 111.7 673.3 96.1M475.5 127.7 541.4 85.5 607.3 131.9 673.3 111.6M475.5 127.7 541.4 93.4 607.3 99.1 673.3 113.9M475.5 127.7 541.4 92.8 607.3 102.6 673.3 64.9M475.5 127.7 541.4 113.1 607.3 120.5 673.3 118.8M475.5 127.7 541.4 130.8 607.3 101.3 673.3 116.2M475.5 127.7 541.4 83.2 607.3 127.9 673.3 83M475.5 127.7 541.4 116.5 607.3 76 673.3 110.4M475.5 127.7 541.4 63.6 607.3 117 673.3 98.8M475.5 127.7 541.4 122.7 607.3 92.3 673.3 139.7M475.5 127.7 541.4 96.3 607.3 77.5 673.3 169.6M475.5 127.7 541.4 99 607.3 125.2 673.3 124.2M475.5 127.7 541.4 109.9 607.3 126.9 673.3 117.2M475.5 127.7 541.4 127.1 607.3 115.2 673.3 160.8M475.5 127.7 541.4 88.2 607.3 91.9 673.3 144.6M475.5 127.7 541.4 130.9 607.3 127 673.3 145M475.5 127.7 541.4 105.9 607.3 86 673.3 107M475.5 127.7 541.4 81.3 607.3 84.5 673.3 129.6M475.5 127.7 541.4 81.6 607.3 92.8 673.3 116.7M475.5 127.7 541.4 95.2 607.3 99.7 673.3 143.2M475.5 127.7 541.4 52.5 607.3 100.2 673.3 113.9M475.5 127.7 541.4 127.6 607.3 67.9 673.3 143.7M475.5 127.7 541.4 116.3 607.3 119.8 673.3 154.7M475.5 127.7 541.4 83.1 607.3 112.1 673.3 87M475.5 127.7 541.4 128.9 607.3 97.7 673.3 112.3M475.5 127.7 541.4 95.1 607.3 119.8 673.3 152.9M475.5 127.7 541.4 96.8 607.3 86.9 673.3 114.2M475.5 127.7 541.4 134.7 607.3 118.4 673.3 109.6M475.5 127.7 541.4 98.4 607.3 92.6 673.3 120.2M475.5 127.7 541.4 133.5 607.3 95.3 673.3 98.4M475.5 127.7 541.4 129.4 607.3 121.6 673.3 105.3M475.5 127.7 541.4 61.8 607.3 82 673.3 113.6M475.5 127.7 541.4 115.4 607.3 108.2 673.3 184.4M475.5 127.7 541.4 97.5 607.3 68.8 673.3 142.5M475.5 127.7 541.4 93.9 607.3 123.2 673.3 97.7M475.5 127.7 541.4 83.6 607.3 110.7 673.3 110.8M475.5 127.7 541.4 134.6 607.3 92.4 673.3 92.4M475.5 127.7 541.4 114.3 607.3 115.6 673.3 125.1M475.5 127.7 541.4 143.6 607.3 90.2 673.3 103.6M475.5 127.7 541.4 99.9 607.3 91.4 673.3 118M475.5 127.7 541.4 105.5 607.3 92.3 673.3 164.8M475.5 127.7 541.4 92 607.3 111.1 673.3 121.7M475.5 127.7 541.4 119.2 607.3 66.5 673.3 117.4M475.5 127.7 541.4 116.3 607.3 116.4 673.3 132.5M475.5 127.7 541.4 121.4 607.3 104.6 673.3 103.1M475.5 127.7 541.4 69.4 607.3 102.8 673.3 108.2M475.5 127.7 541.4 90 607.3 110.9 673.3 122.4M475.5 127.7 541.4 112.2 607.3 73.4 673.3 158.5M475.5 127.7 541.4 105.7 607.3 123.5 673.3 106.2M475.5 127.7 541.4 114.4 607.3 105.6 673.3 132.6M475.5 127.7 541.4 96.6 607.3 83.2 673.3 110.8M475.5 127.7 541.4 87.2 607.3 112.6 673.3 101.6M475.5 127.7 541.4 89.9 607.3 103.4 673.3 63.8M475.5 127.7 541.4 109.8 607.3 108.9 673.3 159.9M475.5 127.7 541.4 119.7 607.3 105 673.3 91.9M475.5 127.7 541.4 117.9 607.3 97.2 673.3 129M475.5 127.7 541.4 86.2 607.3 102.9 673.3 119.4M475.5 127.7 541.4 87.2 607.3 101.6 673.3 92.4M475.5 127.7 541.4 70.7 607.3 99.8 673.3 95.1M475.5 127.7 541.4 108.9 607.3 109.9 673.3 91.2M475.5 127.7 541.4 104.2 607.3 117.7 673.3 94M475.5 127.7 541.4 77.6 607.3 122.7 673.3 77.8M475.5 127.7 541.4 100.9 607.3 133.1 673.3 109.7M475.5 127.7 541.4 118.1 607.3 87.1 673.3 139.8M475.5 127.7 541.4 73.3 607.3 100.8 673.3 168.5M475.5 127.7 541.4 101.1 607.3 120.2 673.3 129.8M475.5 127.7 541.4 106.5 607.3 108.8 673.3 124.9M475.5 127.7 541.4 75.5 607.3 104.6 673.3 122.1M475.5 127.7 541.4 84.9 607.3 114.4 673.3 141.3M475.5 127.7 541.4 83.2 607.3 79.6 673.3 129.5M475.5 127.7 541.4 106.7 607.3 76.2 673.3 162M475.5 127.7 541.4 123.6 607.3 99.6 673.3 134.2M475.5 127.7 541.4 130.5 607.3 73.5 673.3 126.1M475.5 127.7 541.4 85.9 607.3 123.6 673.3 65.8M475.5 127.7 541.4 84.7 607.3 110.1 673.3 128.1M475.5 127.7 541.4 101.6 607.3 119.7 673.3 110.6M475.5 127.7 541.4 72.3 607.3 110.6 673.3 120.7M475.5 127.7 541.4 133.6 607.3 133.8 673.3 140.6M475.5 127.7 541.4 117.3 607.3 116.3 673.3 135M475.5 127.7 541.4 71.8 607.3 78.9 673.3 157.2M475.5 127.7 541.4 89.3 607.3 117.1 673.3 119.4M475.5 127.7 541.4 109.8 607.3 102 673.3 149.3M475.5 127.7 541.4 113.5 607.3 101.7 673.3 94.8M475.5 127.7 541.4 106.8 607.3 112.6 673.3 125.9M475.5 127.7 541.4 95.5 607.3 98.3 673.3 161.5M475.5 127.7 541.4 91.5 607.3 117.1 673.3 131.5M475.5 127.7 541.4 88.4 607.3 109.1 673.3 122.5M475.5 127.7 541.4 109.1 607.3 82.1 673.3 100.8M475.5 127.7 541.4 72.1 607.3 75.9 673.3 117.2M475.5 127.7 541.4 81.5 607.3 127.7 673.3 126.2M475.5 127.7 541.4 86.5 607.3 102.8 673.3 92.2M475.5 127.7 541.4 135 607.3 104.2 673.3 120.9M475.5 127.7 541.4 110.9 607.3 99.3 673.3 105.4M475.5 127.7 541.4 109.7 607.3 79 673.3 144.1M475.5 127.7 541.4 99 607.3 114.4 673.3 133.8M475.5 127.7 541.4 127.1 607.3 134.1 673.3 156.6M475.5 127.7 541.4 101.1 607.3 90.2 673.3 138.4M475.5 127.7 541.4 90 607.3 113 673.3 137.2M475.5 127.7 541.4 95.6 607.3 103.4 673.3 123.1M475.5 127.7 541.4 141.3 607.3 103.9 673.3 84.7M475.5 127.7 541.4 106.3 607.3 92.1 673.3 135M475.5 127.7 541.4 120.8 607.3 55.6 673.3 103.6M475.5 127.7 541.4 93.1 607.3 94.5 673.3 129.5M475.5 127.7 541.4 88.4 607.3 106.6 673.3 146.7M475.5 127.7 541.4 82.2 607.3 117.1 673.3 114.6M475.5 127.7 541.4 74.4 607.3 83.5 673.3 153.5M475.5 127.7 541.4 94.1 607.3 119 673.3 140.7M475.5 127.7 541.4 108.6 607.3 105.6 673.3 125M475.5 127.7 541.4 119.4 607.3 50.8 673.3 110.6M475.5 127.7 541.4 139.8 607.3 86.5 673.3 83.7M475.5 127.7 541.4 107 607.3 129.3 673.3 140.6M475.5 127.7 541.4 140.2 607.3 100.9 673.3 134M475.5 127.7 541.4 124.7 607.3 99 673.3 96M475.5 127.7 541.4 112.5 607.3 73.7 673.3 158.9M475.5 127.7 541.4 118.1 607.3 112.6 673.3 120.7M475.5 127.7 541.4 113.5 607.3 111.4 673.3 159.2M475.5 127.7 541.4 79.6 607.3 91.8 673.3 88.1M475.5 127.7 541.4 127.8 607.3 119.3 673.3 77.8M475.5 127.7 541.4 98.4 607.3 123.1 673.3 96.9M475.5 127.7 541.4 91.2 607.3 103.1 673.3 100.1M475.5 127.7 541.4 100.4 607.3 119 673.3 136.4M475.5 127.7 541.4 110.2 607.3 90.7 673.3 82.1M475.5 127.7 541.4 110.1 607.3 142.2 673.3 98.2M475.5 127.7 541.4 95.7 607.3 95.5 673.3 86.7M475.5 127.7 541.4 113.8 607.3 103.9 673.3 143.9M475.5 127.7 541.4 105.3 607.3 108.9 673.3 112.4M475.5 127.7 541.4 103.9 607.3 101 673.3 157.7M475.5 127.7 541.4 97.2 607.3 106 673.3 128.1M475.5 127.7 541.4 122.7 607.3 63.8 673.3 143.2M475.5 127.7 541.4 115.5 607.3 88.2 673.3 161.7M475.5 127.7 541.4 117.5 607.3 88.3 673.3 147.4M475.5 127.7 541.4 65.7 607.3 105.7 673.3 105.1M475.5 127.7 541.4 92.4 607.3 94.8 673.3 132.5M475.5 127.7 541.4 121 607.3 71.9 673.3 167.7M475.5 127.7 541.4 100.4 607.3 86.3 673.3 128.2M475.5 127.7 541.4 104.9 607.3 99.8 673.3 116.8M475.5 127.7 541.4 101.9 607.3 111.3 673.3 126.6M475.5 127.7 541.4 98.1 607.3 126 673.3 143.5M475.5 127.7 541.4 79.1 607.3 92.1 673.3 138.6M475.5 127.7 541.4 107.6 607.3 117.5 673.3 106M475.5 127.7 541.4 120.9 607.3 83.6 673.3 122.2M475.5 127.7 541.4 92.2 607.3 109.5 673.3 172.6M475.5 127.7 541.4 125.1 607.3 67.2 673.3 191.7M475.5 127.7 541.4 109.8 607.3 118.4 673.3 164M475.5 127.7 541.4 99.2 607.3 100.7 673.3 100.2M475.5 127.7 541.4 84.4 607.3 99.9 673.3 100.9M475.5 127.7 541.4 106.4 607.3 86.2 673.3 86.2M475.5 127.7 541.4 101.6 607.3 120.8 673.3 72.1M475.5 127.7 541.4 86.1 607.3 126.3 673.3 130.5M475.5 127.7 541.4 69.1 607.3 68.3 673.3 135.8M475.5 127.7 541.4 97.3 607.3 110.6 673.3 126.8M475.5 127.7 541.4 84.5 607.3 112.1 673.3 157.7M475.5 127.7 541.4 119.7 607.3 98.1 673.3 98.5M475.5 127.7 541.4 76.1 607.3 119.6 673.3 109.8M475.5 127.7 541.4 102.7 607.3 100.9 673.3 133.2M475.5 127.7 541.4 90.7 607.3 70.9 673.3 112.2M475.5 127.7 541.4 101.7 607.3 128.4 673.3 74.6M475.5 127.7 541.4 87.7 607.3 102.4 673.3 147.2M475.5 127.7 541.4 95.2 607.3 103.3 673.3 103.4M475.5 127.7 541.4 84.7 607.3 73 673.3 105.1M475.5 127.7 541.4 91.1 607.3 117.2 673.3 110.1M475.5 127.7 541.4 92 607.3 104.2 673.3 129.7M475.5 127.7 541.4 117.4 607.3 117.2 673.3 151.4M475.5 127.7 541.4 115.3 607.3 97.2 673.3 120.6M475.5 127.7 541.4 117.4 607.3 79.9 673.3 112.3M475.5 127.7 541.4 76.3 607.3 136.7 673.3 120.4M475.5 127.7 541.4 71 607.3 74.6 673.3 141.5M475.5 127.7 541.4 75.4 607.3 67.4 673.3 156.4M475.5 127.7 541.4 78.6 607.3 104.7 673.3 153.6M475.5 127.7 541.4 83 607.3 94.2 673.3 160.6M475.5 127.7 541.4 80.4 607.3 103.5 673.3 126.5M475.5 127.7 541.4 132 607.3 134.2 673.3 144.2M475.5 127.7 541.4 63.6 607.3 122.3 673.3 71.5M475.5 127.7 541.4 77.8 607.3 135.5 673.3 160.2M475.5 127.7 541.4 118.7 607.3 117.9 673.3 98.9M475.5 127.7 541.4 134.5 607.3 72.5 673.3 96.3M475.5 127.7 541.4 102 607.3 105.8 673.3 171.6M475.5 127.7 541.4 109.8 607.3 125.1 673.3 108.2M475.5 127.7 541.4 115 607.3 106.6 673.3 107.4M475.5 127.7 541.4 98 607.3 94.4 673.3 139.3M475.5 127.7 541.4 123.5 607.3 74.5 673.3 104.5M475.5 127.7 541.4 104.6 607.3 101.7 673.3 135.4M475.5 127.7 541.4 66.7 607.3 125 673.3 150.6M475.5 127.7 541.4 82.2 607.3 105.4 673.3 143.1M475.5 127.7 541.4 105.7 607.3 121.9 673.3 113.3M475.5 127.7 541.4 122.2 607.3 86.7 673.3 160.2M475.5 127.7 541.4 131.8 607.3 92.2 673.3 151.1M475.5 127.7 541.4 106.1 607.3 123.7 673.3 125.7M475.5 127.7 541.4 98.6 607.3 105.1 673.3 77M475.5 127.7 541.4 131.2 607.3 79.1 673.3 162.2M475.5 127.7 541.4 110.8 607.3 97.5 673.3 145.8M475.5 127.7 541.4 80.6 607.3 91.9 673.3 152.3M475.5 127.7 541.4 125.8 607.3 84.1 673.3 115.6M475.5 127.7 541.4 116.3 607.3 77.6 673.3 106.1M475.5 127.7 541.4 97.8 607.3 122.3 673.3 129M475.5 127.7 541.4 78.9 607.3 77.4 673.3 160.8M475.5 127.7 541.4 115.1 607.3 99.3 673.3 114.1M475.5 127.7 541.4 105.5 607.3 114 673.3 137.1M475.5 127.7 541.4 106.5 607.3 105.7 673.3 72.2M475.5 127.7 541.4 126.3 607.3 97 673.3 105.1M475.5 127.7 541.4 97 607.3 85.9 673.3 98.5M475.5 127.7 541.4 88.4 607.3 111.6 673.3 104.7M475.5 127.7 541.4 89.7 607.3 91.5 673.3 133.5M475.5 127.7 541.4 102.2 607.3 126.1 673.3 146M475.5 127.7 541.4 83.4 607.3 126.7 673.3 117M475.5 127.7 541.4 126.6 607.3 114.8 673.3 116.5M475.5 127.7 541.4 105.1 607.3 87.5 673.3 121.8M475.5 127.7 541.4 98.4 607.3 91.2 673.3 130.9M475.5 127.7 541.4 117.9 607.3 110.9 673.3 143.3M475.5 127.7 541.4 82.9 607.3 80.4 673.3 129.3M475.5 127.7 541.4 77.6 607.3 72.7 673.3 116.2M475.5 127.7 541.4 100.7 607.3 87.8 673.3 136.8M475.5 127.7 541.4 97.9 607.3 129.5 673.3 111.5M475.5 127.7 541.4 120.8 607.3 91.6 673.3 142.2M475.5 127.7 541.4 96.8 607.3 119 673.3 136.7M475.5 127.7 541.4 108.3 607.3 86.5 673.3 114.8M475.5 127.7 541.4 114.8 607.3 121.6 673.3 147.6M475.5 127.7 541.4 61.7 607.3 138.4 673.3 106.7M475.5 127.7 541.4 87.8 607.3 87.6 673.3 125.5M475.5 127.7 541.4 120.7 607.3 92.3 673.3 169.5M475.5 127.7 541.4 86.2 607.3 113.4 673.3 173.3M475.5 127.7 541.4 82 607.3 95 673.3 126.3M475.5 127.7 541.4 107.9 607.3 85.4 673.3 151.4M475.5 127.7 541.4 113.5 607.3 79 673.3 121.9M475.5 127.7 541.4 108.2 607.3 99.6 673.3 110.8M475.5 127.7 541.4 124.1 607.3 100.1 673.3 116.5M475.5 127.7 541.4 111.8 607.3 98.3 673.3 94M475.5 127.7 541.4 134.2 607.3 108 673.3 102.1M475.5 127.7 541.4 125.8 607.3 89.2 673.3 160.7M475.5 127.7 541.4 136.8 607.3 127.1 673.3 134.3M475.5 127.7 541.4 102.3 607.3 118 673.3 105.5M475.5 127.7 541.4 118 607.3 115.9 673.3 120.8M475.5 127.7 541.4 124.8 607.3 95.8 673.3 108.4M475.5 127.7 541.4 111.8 607.3 87.8 673.3 129M475.5 127.7 541.4 103 607.3 109.7 673.3 62M475.5 127.7 541.4 110.1 607.3 103 673.3 156.1M475.5 127.7 541.4 98.6 607.3 73.2 673.3 100.1M475.5 127.7 541.4 97.4 607.3 116.6 673.3 116M475.5 127.7 541.4 113.4 607.3 103.8 673.3 122.5M475.5 127.7 541.4 100 607.3 73.3 673.3 164.2M475.5 127.7 541.4 142.4 607.3 67.9 673.3 133.4M475.5 127.7 541.4 74.8 607.3 118.3 673.3 90M475.5 127.7 541.4 118.6 607.3 137.6 673.3 110.3M475.5 127.7 541.4 129.5 607.3 105.6 673.3 120.6M475.5 127.7 541.4 89.1 607.3 111.5 673.3 104.3M475.5 127.7 541.4 120.5 607.3 68.3 673.3 160.3M475.5 127.7 541.4 121.8 607.3 121.9 673.3 129M475.5 127.7 541.4 140.7 607.3 79.7 673.3 171.5M475.5 127.7 541.4 100 607.3 110.3 673.3 155.5M475.5 127.7 541.4 91.7 607.3 93.5 673.3 79.5M475.5 127.7 541.4 117.8 607.3 114.6 673.3 88.7M475.5 127.7 541.4 138 607.3 129 673.3 66.9M475.5 127.7 541.4 112.8 607.3 114.5 673.3 117M475.5 127.7 541.4 84.3 607.3 120.1 673.3 123.4M475.5 127.7 541.4 100.7 607.3 104.1 673.3 110.4M475.5 127.7 541.4 87.4 607.3 101.4 673.3 122.9M475.5 127.7 541.4 64.9 607.3 109.2 673.3 133.2M475.5 127.7 541.4 120.9 607.3 90.7 673.3 138.2M475.5 127.7 541.4 91.2 607.3 74.3 673.3 122.2M475.5 127.7 541.4 107.5 607.3 121.2 673.3 69.1M475.5 127.7 541.4 79.6 607.3 120.7 673.3 81.7M475.5 127.7 541.4 80.5 607.3 79.1 673.3 120.6M475.5 127.7 541.4 57.3 607.3 128.4 673.3 110.4M475.5 127.7 541.4 107.6 607.3 77.7 673.3 147.6M475.5 127.7 541.4 146.3 607.3 103.2 673.3 100.7M475.5 127.7 541.4 111.6 607.3 147.4 673.3 128.3M475.5 127.7 541.4 70.8 607.3 119.5 673.3 89.4M475.5 127.7 541.4 109.9 607.3 112.1 673.3 128.2M475.5 127.7 541.4 81.8 607.3 100.6 673.3 86.4M475.5 127.7 541.4 81.4 607.3 121.6 673.3 113.2M475.5 127.7 541.4 64 607.3 138.5 673.3 109.7M475.5 127.7 541.4 116.6 607.3 102.8 673.3 111M475.5 127.7 541.4 88.5 607.3 99.9 673.3 114M475.5 127.7 541.4 89.4 607.3 105.8 673.3 111.4M475.5 127.7 541.4 109.8 607.3 107.9 673.3 114.9M475.5 127.7 541.4 116.1 607.3 76.8 673.3 149.5M475.5 127.7 541.4 88.3 607.3 106.8 673.3 100.7M475.5 127.7 541.4 76.1 607.3 133.8 673.3 157.7M475.5 127.7 541.4 115.5 607.3 117.5 673.3 127.2M475.5 127.7 541.4 145.2 607.3 92.1 673.3 144.3M475.5 127.7 541.4 136.6 607.3 94.8 673.3 143.6M475.5 127.7 541.4 72 607.3 73.8 673.3 156.5M475.5 127.7 541.4 115.4 607.3 123.6 673.3 112.8M475.5 127.7 541.4 130.4 607.3 78.1 673.3 136M475.5 127.7 541.4 95.1 607.3 74.3 673.3 129.7M475.5 127.7 541.4 108.1 607.3 101.1 673.3 107.1M475.5 127.7 541.4 132.5 607.3 99.3 673.3 158.6M475.5 127.7 541.4 90.5 607.3 119.3 673.3 143.9M475.5 127.7 541.4 76 607.3 125.2 673.3 82.1M475.5 127.7 541.4 77.6 607.3 115.8 673.3 171.1M475.5 127.7 541.4 105 607.3 127.6 673.3 116.1M475.5 127.7 541.4 103.3 607.3 100.7 673.3 108.4M475.5 127.7 541.4 135.8 607.3 129.9 673.3 100.5M475.5 127.7 541.4 88.2 607.3 117.3 673.3 135.5M475.5 127.7 541.4 106.3 607.3 119.4 673.3 140.1M475.5 127.7 541.4 76.9 607.3 99.7 673.3 121M475.5 127.7 541.4 85.9 607.3 121.7 673.3 139.4M475.5 127.7 541.4 73.7 607.3 118.2 673.3 128M475.5 127.7 541.4 125.4 607.3 108.8 673.3 104.6M475.5 127.7 541.4 85.9 607.3 110.5 673.3 92.2M475.5 127.7 541.4 116.9 607.3 151.5 673.3 122.6M475.5 127.7 541.4 131 607.3 95.7 673.3 108M475.5 127.7 541.4 116.1 607.3 102.9 673.3 162.6M475.5 127.7 541.4 115.2 607.3 95.6 673.3 130.8M475.5 127.7 541.4 92.3 607.3 98.7 673.3 121.9M475.5 127.7 541.4 86.7 607.3 128.6 673.3 159.1M475.5 127.7 541.4 76.5 607.3 122.8 673.3 111.4M475.5 127.7 541.4 103.3 607.3 71.5 673.3 107.1M475.5 127.7 541.4 84.2 607.3 111.1 673.3 117.2M475.5 127.7 541.4 81 607.3 102.5 673.3 86.9M475.5 127.7 541.4 77.4 607.3 116.5 673.3 107.4M475.5 127.7 541.4 138.1 607.3 114.6 673.3 154.8M475.5 127.7 541.4 106.1 607.3 85 673.3 90.7M475.5 127.7 541.4 110.8 607.3 115.2 673.3 109.3M475.5 127.7 541.4 109.2 607.3 88.3 673.3 136.7M475.5 127.7 541.4 65.8 607.3 104 673.3 104.5M475.5 127.7 541.4 108.8 607.3 115.6 673.3 182M475.5 127.7 541.4 94.9 607.3 75.1 673.3 114.3M475.5 127.7 541.4 104.4 607.3 107.5 673.3 90.5M475.5 127.7 541.4 119.3 607.3 88.6 673.3 104.8M475.5 127.7 541.4 124.3 607.3 98.9 673.3 96.2M475.5 127.7 541.4 83.3 607.3 110.1 673.3 118.7M475.5 127.7 541.4 134.1 607.3 72.7 673.3 119.8M475.5 127.7 541.4 80.4 607.3 101.4 673.3 151.2M475.5 127.7 541.4 87 607.3 108.9 673.3 87.5M475.5 127.7 541.4 133.8 607.3 129.1 673.3 120.9M475.5 127.7 541.4 97.4 607.3 105.1 673.3 140.9M475.5 127.7 541.4 71.8 607.3 123.3 673.3 129.9M475.5 127.7 541.4 78.4 607.3 97.4 673.3 147.2M475.5 127.7 541.4 144.8 607.3 77.9 673.3 119M475.5 127.7 541.4 122.4 607.3 69.8 673.3 146.7M475.5 127.7 541.4 106.2 607.3 95.1 673.3 126.2M475.5 127.7 541.4 70 607.3 98.2 673.3 108.5M475.5 127.7 541.4 85.2 607.3 117.3 673.3 155.5M475.5 127.7 541.4 125.2 607.3 106.7 673.3 123.3M475.5 127.7 541.4 110.3 607.3 121.2 673.3 119.1M475.5 127.7 541.4 106.2 607.3 114 673.3 90.4M475.5 127.7 541.4 69.9 607.3 74.2 673.3 99.9M475.5 127.7 541.4 116.8 607.3 95.8 673.3 94.4M475.5 127.7 541.4 71.4 607.3 140.7 673.3 82.1M475.5 127.7 541.4 129.6 607.3 87.4 673.3 169.7M475.5 127.7 541.4 90.5 607.3 99.4 673.3 113.7M475.5 127.7 541.4 131.7 607.3 93.4 673.3 88.7M475.5 127.7 541.4 101 607.3 105.7 673.3 109.9M475.5 127.7 541.4 104.6 607.3 108.5 673.3 131.1M475.5 127.7 541.4 111.7 607.3 121.5 673.3 107.4M475.5 127.7 541.4 96 607.3 98.3 673.3 127.3M475.5 127.7 541.4 89.2 607.3 140 673.3 89.9M475.5 127.7 541.4 98.5 607.3 88.6 673.3 109.5M475.5 127.7 541.4 96.2 607.3 107.6 673.3 103.4M475.5 127.7 541.4 84.7 607.3 144.9 673.3 95.8M475.5 127.7 541.4 116.8 607.3 114 673.3 105M475.5 127.7 541.4 96.2 607.3 69.3 673.3 122M475.5 127.7 541.4 131.2 607.3 134.7 673.3 90.9M475.5 127.7 541.4 118.7 607.3 111.1 673.3 102.5M475.5 127.7 541.4 104.6 607.3 116.8 673.3 150.2M475.5 127.7 541.4 78.8 607.3 119.7 673.3 147M475.5 127.7 541.4 84.5 607.3 115.3 673.3 94.2M475.5 127.7 541.4 82.1 607.3 89.7 673.3 118.6M475.5 127.7 541.4 87.7 607.3 99.7 673.3 131.1M475.5 127.7 541.4 68.9 607.3 122.9 673.3 130M475.5 127.7 541.4 113.6 607.3 99.2 673.3 111.6M475.5 127.7 541.4 95.1 607.3 102.8 673.3 91.3M475.5 127.7 541.4 90.6 607.3 113.9 673.3 58.2M475.5 127.7 541.4 112.3 607.3 121.4 673.3 117.7M475.5 127.7 541.4 101.8 607.3 97 673.3 112.7M475.5 127.7 541.4 110 607.3 141 673.3 117.4M475.5 127.7 541.4 92 607.3 121.9 673.3 96.1M475.5 127.7 541.4 94.1 607.3 97.6 673.3 111.7M475.5 127.7 541.4 101.4 607.3 111.3 673.3 160.8M475.5 127.7 541.4 95.2 607.3 93.3 673.3 96.9M475.5 127.7 541.4 108 607.3 130.9 673.3 108.2M475.5 127.7 541.4 104.6 607.3 97.9 673.3 172.1M475.5 127.7 541.4 104.4 607.3 57.9 673.3 174.4M475.5 127.7 541.4 84.9 607.3 105.4 673.3 79.2M475.5 127.7 541.4 129.5 607.3 99.1 673.3 99.5M475.5 127.7 541.4 61.4 607.3 104.3 673.3 191.5M475.5 127.7 541.4 132.9 607.3 80 673.3 112.8M475.5 127.7 541.4 95.9 607.3 101.6 673.3 119.5M475.5 127.7 541.4 136.8 607.3 128.6 673.3 113.9M475.5 127.7 541.4 111.9 607.3 122.2 673.3 120M475.5 127.7 541.4 117.8 607.3 100.2 673.3 118.9M475.5 127.7 541.4 126.8 607.3 119 673.3 123.1M475.5 127.7 541.4 93.8 607.3 125.2 673.3 166.6M475.5 127.7 541.4 97.7 607.3 99.1 673.3 117.2M475.5 127.7 541.4 103.3 607.3 91.3 673.3 107M475.5 127.7 541.4 105.7 607.3 120.1 673.3 178M475.5 127.7 541.4 102 607.3 121.4 673.3 138.6M475.5 127.7 541.4 80.4 607.3 115.8 673.3 175.8M475.5 127.7 541.4 113 607.3 120.2 673.3 83M475.5 127.7 541.4 135.4 607.3 116.5 673.3 88M475.5 127.7 541.4 89.9 607.3 90.3 673.3 93.5M475.5 127.7 541.4 94 607.3 95.5 673.3 115.3M475.5 127.7 541.4 125.6 607.3 67.9 673.3 182.5M475.5 127.7 541.4 54.7 607.3 124.1 673.3 134.7M475.5 127.7 541.4 112.2 607.3 121.4 673.3 111.9M475.5 127.7 541.4 102.7 607.3 89 673.3 100.6M475.5 127.7 541.4 112.5 607.3 90.1 673.3 129.9M475.5 127.7 541.4 60 607.3 81 673.3 150.5M475.5 127.7 541.4 127.2 607.3 91.2 673.3 134.1M475.5 127.7 541.4 93.2 607.3 107.1 673.3 84M475.5 127.7 541.4 126 607.3 92.7 673.3 96M475.5 127.7 541.4 98 607.3 99.9 673.3 109.8M475.5 127.7 541.4 149.2 607.3 135.7 673.3 71.7M475.5 127.7 541.4 61.1 607.3 122.2 673.3 100.3M475.5 127.7 541.4 122.3 607.3 88.8 673.3 129.7M475.5 127.7 541.4 120.5 607.3 118.8 673.3 171.7M475.5 127.7 541.4 91.8 607.3 99.5 673.3 140.8M475.5 127.7 541.4 130 607.3 79.4 673.3 129.3M475.5 127.7 541.4 141.3 607.3 101.5 673.3 169.3M475.5 127.7 541.4 93.5 607.3 79.3 673.3 134.4M475.5 127.7 541.4 99.2 607.3 116.3 673.3 126.1M475.5 127.7 541.4 102.5 607.3 119.2 673.3 109.3M475.5 127.7 541.4 95 607.3 61.7 673.3 128.1M475.5 127.7 541.4 91.8 607.3 96.9 673.3 155.8M475.5 127.7 541.4 94.9 607.3 112 673.3 127.5M475.5 127.7 541.4 80.5 607.3 98.4 673.3 102.6M475.5 127.7 541.4 73.7 607.3 106.5 673.3 107M475.5 127.7 541.4 101.9 607.3 119.6 673.3 128.3M475.5 127.7 541.4 112.5 607.3 88.2 673.3 132.1M475.5 127.7 541.4 84 607.3 100.5 673.3 110.8M475.5 127.7 541.4 129.9 607.3 73.2 673.3 182.2M475.5 127.7 541.4 98.2 607.3 99.8 673.3 141.4M475.5 127.7 541.4 99.2 607.3 105.5 673.3 123.9M475.5 127.7 541.4 98.7 607.3 126.7 673.3 89.3M475.5 127.7 541.4 75.9 607.3 112 673.3 117.8M475.5 127.7 541.4 134.1 607.3 92.7 673.3 116M475.5 127.7 541.4 43.3 607.3 40.5 673.3 62M475.5 127.7 541.4 46 607.3 43 673.3 70" fill="none" stroke="#d3d3d3" stroke-width="0.7"/>
<line x1="475.5" y1="127.7" x2="673.3" y2="127.7" stroke="#f08585" stroke-width="1.0"/>
<polyline points="475.5,127.7 541.4,107.4 607.3,104 673.3,113.7" fill="none" stroke="#6c6ce8" stroke-width="1.1"/>
<rect x="467.5" y="34.7" width="213.5" height="168.3" fill="none" stroke="#8c8c8c" stroke-width="1.3"/>
<line x1="465" y1="48" x2="467.5" y2="48" stroke="#777" stroke-width="1"/>
<text x="0" y="0" transform="translate(461.5 48) rotate(-90)" font-size="5" fill="#555" class="t" text-anchor="middle">3</text>
<line x1="465" y1="74.6" x2="467.5" y2="74.6" stroke="#777" stroke-width="1"/>
<text x="0" y="0" transform="translate(461.5 74.6) rotate(-90)" font-size="5" fill="#555" class="t" text-anchor="middle">2</text>
<line x1="465" y1="101.1" x2="467.5" y2="101.1" stroke="#777" stroke-width="1"/>
<text x="0" y="0" transform="translate(461.5 101.1) rotate(-90)" font-size="5" fill="#555" class="t" text-anchor="middle">1</text>
<line x1="465" y1="127.7" x2="467.5" y2="127.7" stroke="#777" stroke-width="1"/>
<text x="0" y="0" transform="translate(461.5 127.7) rotate(-90)" font-size="5" fill="#555" class="t" text-anchor="middle">0</text>
<line x1="465" y1="154.3" x2="467.5" y2="154.3" stroke="#777" stroke-width="1"/>
<text x="0" y="0" transform="translate(461.5 154.3) rotate(-90)" font-size="5" fill="#555" class="t" text-anchor="middle">−1</text>
<line x1="465" y1="180.8" x2="467.5" y2="180.8" stroke="#777" stroke-width="1"/>
<text x="0" y="0" transform="translate(461.5 180.8) rotate(-90)" font-size="5" fill="#555" class="t" text-anchor="middle">−2</text>
<line x1="475.5" y1="203" x2="475.5" y2="205.6" stroke="#777" stroke-width="1"/>
<line x1="541.4" y1="203" x2="541.4" y2="205.6" stroke="#777" stroke-width="1"/>
<line x1="607.3" y1="203" x2="607.3" y2="205.6" stroke="#777" stroke-width="1"/>
<line x1="673.3" y1="203" x2="673.3" y2="205.6" stroke="#777" stroke-width="1"/>
<text x="496.3" y="30.9" font-size="13.85" xml:space="preserve" textLength="157.6" lengthAdjust="spacingAndGlyphs">cluster 1 (6376 Unigenes)</text>
<text x="0" y="0" transform="translate(449.2 108.1) rotate(-90)" font-size="14" text-anchor="middle" textLength="109.6" lengthAdjust="spacingAndGlyphs">Log2(flod change)</text>
<polygon points="475.5,251.9 479.6,251.4 483.7,250.9 487.9,250.4 492,249.9 496.1,249.4 500.2,248.8 504.3,248.3 508.4,247.8 512.6,247.3 516.7,246.8 520.8,246.3 524.9,245.8 529,245.3 533.2,244.8 537.3,244.3 541.4,243.8 545.5,246.1 549.6,248.4 553.8,250.8 557.9,251.3 562,253.4 566.1,255.2 570.2,255.8 574.3,255.9 578.5,255.3 582.6,256.4 586.7,256.3 590.8,254.7 594.9,253.5 599.1,254.7 603.2,255.9 607.3,256.3 611.4,257.6 615.5,259 619.7,260.9 623.8,264 627.9,267 632,270.1 636.2,271.3 640.3,271.3 644.4,272.3 648.5,272 652.7,273.8 656.8,274.5 660.9,275.1 665,275.2 669.2,274.3 673.3,272.7 673.3,322.4 669.2,321.2 665,320.4 660.9,319.5 656.8,318.7 652.7,317.9 648.5,317 644.4,315 640.3,312.4 636.2,312.1 632,312.6 627.9,314.1 623.8,315.9 619.7,317.1 615.5,318.5 611.4,319.9 607.3,320.9 603.2,319.6 599.1,317.9 594.9,316.6 590.8,316.4 586.7,316 582.6,315.1 578.5,314.7 574.3,314.8 570.2,314.8 566.1,315.2 562,315.7 557.9,316.5 553.8,317 549.6,317.3 545.5,317.4 541.4,318.8 537.3,314.6 533.2,310.4 529,306.2 524.9,302.1 520.8,297.9 516.7,293.7 512.6,289.5 508.4,285.3 504.3,281.2 500.2,277 496.1,272.8 492,268.6 487.9,264.4 483.7,260.3 479.6,256.1 475.5,251.9" fill="#d5d5d5"/>
<path d="M475.5 251.9 541.4 264.5 607.3 247.9 673.3 284M475.5 251.9 541.4 289.1 607.3 289 673.3 287.4M475.5 251.9 541.4 286.6 607.3 311.9 673.3 288.8M475.5 251.9 541.4 281.2 607.3 257.7 673.3 280M475.5 251.9 541.4 306.3 607.3 295.1 673.3 320.9M475.5 251.9 541.4 303.1 607.3 323.2 673.3 289M475.5 251.9 541.4 265.8 607.3 321.6 673.3 336.4M475.5 251.9 541.4 334.5 607.3 336.8 673.3 283.1M475.5 251.9 541.4 280.1 607.3 289.9 673.3 311.9M475.5 251.9 541.4 273.6 607.3 252.5 673.3 291.5M475.5 251.9 541.4 295.5 607.3 302.6 673.3 284.8M475.5 251.9 541.4 276.3 607.3 267.8 673.3 274.6M475.5 251.9 541.4 297.4 607.3 278.2 673.3 311.2M475.5 251.9 541.4 276 607.3 298.3 673.3 274.4M475.5 251.9 541.4 279.9 607.3 289.8 673.3 292.6M475.5 251.9 541.4 276.5 607.3 245.8 673.3 321.6M475.5 251.9 541.4 260.2 607.3 265.8 673.3 291.9M475.5 251.9 541.4 314.1 607.3 293.8 673.3 289.7M475.5 251.9 541.4 282 607.3 320.9 673.3 322.7M475.5 251.9 541.4 265.4 607.3 238.9 673.3 316.7M475.5 251.9 541.4 256.4 607.3 266.2 673.3 308.6M475.5 251.9 541.4 305.9 607.3 310.6 673.3 264.7M475.5 251.9 541.4 265.2 607.3 287.7 673.3 292.7M475.5 251.9 541.4 271.3 607.3 275 673.3 302.1M475.5 251.9 541.4 316.2 607.3 359.1 673.3 271.7M475.5 251.9 541.4 277.2 607.3 306.3 673.3 291.3M475.5 251.9 541.4 278.1 607.3 276.3 673.3 304.5M475.5 251.9 541.4 299.9 607.3 313.1 673.3 272.7M475.5 251.9 541.4 307.6 607.3 361.4 673.3 305.6M475.5 251.9 541.4 275.2 607.3 275.2 673.3 291.2M475.5 251.9 541.4 295.5 607.3 275.8 673.3 349.8M475.5 251.9 541.4 271.1 607.3 290.4 673.3 307.3M475.5 251.9 541.4 288.7 607.3 293.7 673.3 306.8M475.5 251.9 541.4 283.8 607.3 290.7 673.3 305.3M475.5 251.9 541.4 294.7 607.3 289.8 673.3 291.6M475.5 251.9 541.4 277.7 607.3 288.5 673.3 310M475.5 251.9 541.4 282.7 607.3 267 673.3 276.9M475.5 251.9 541.4 289.2 607.3 259.3 673.3 298.3M475.5 251.9 541.4 308.1 607.3 284.4 673.3 303.2M475.5 251.9 541.4 252.1 607.3 276 673.3 372.4M475.5 251.9 541.4 287.7 607.3 315.2 673.3 333.8M475.5 251.9 541.4 301.8 607.3 291.6 673.3 307.2M475.5 251.9 541.4 263.3 607.3 264.2 673.3 304.5M475.5 251.9 541.4 271.3 607.3 276.5 673.3 266.2M475.5 251.9 541.4 277.6 607.3 273.5 673.3 280.4M475.5 251.9 541.4 256.8 607.3 295.6 673.3 320.9M475.5 251.9 541.4 268.7 607.3 281.9 673.3 317.1M475.5 251.9 541.4 282.2 607.3 299.9 673.3 295.7M475.5 251.9 541.4 265.5 607.3 288 673.3 273.4M475.5 251.9 541.4 296.7 607.3 301.9 673.3 294.3M475.5 251.9 541.4 252.8 607.3 268.2 673.3 323.8M475.5 251.9 541.4 339.1 607.3 293 673.3 295.6M475.5 251.9 541.4 296.5 607.3 291.1 673.3 268.7M475.5 251.9 541.4 295.7 607.3 301.9 673.3 272.6M475.5 251.9 541.4 313.9 607.3 287.3 673.3 299.9M475.5 251.9 541.4 301.5 607.3 251.9 673.3 320.7M475.5 251.9 541.4 276.5 607.3 275.1 673.3 279.8M475.5 251.9 541.4 258.4 607.3 296.7 673.3 294.7M475.5 251.9 541.4 291.7 607.3 289.3 673.3 281.7M475.5 251.9 541.4 270.9 607.3 292.8 673.3 343.2M475.5 251.9 541.4 294.8 607.3 299.3 673.3 307.2M475.5 251.9 541.4 258 607.3 287.5 673.3 273.8M475.5 251.9 541.4 286.7 607.3 298 673.3 310.1M475.5 251.9 541.4 305.4 607.3 276.2 673.3 269.4M475.5 251.9 541.4 265.8 607.3 280.3 673.3 294.6M475.5 251.9 541.4 241.8 607.3 273.9 673.3 285.8M475.5 251.9 541.4 285.3 607.3 283.6 673.3 316.7M475.5 251.9 541.4 247.8 607.3 279.5 673.3 307.9M475.5 251.9 541.4 302.4 607.3 296.5 673.3 342.2M475.5 251.9 541.4 264 607.3 289.6 673.3 292.8M475.5 251.9 541.4 283.7 607.3 290.1 673.3 297M475.5 251.9 541.4 285.1 607.3 270.5 673.3 300.4M475.5 251.9 541.4 286.4 607.3 290.1 673.3 289M475.5 251.9 541.4 272 607.3 282.8 673.3 294.6M475.5 251.9 541.4 287.8 607.3 279.1 673.3 305.1M475.5 251.9 541.4 274.2 607.3 294 673.3 277.9M475.5 251.9 541.4 265.7 607.3 269.4 673.3 312.7M475.5 251.9 541.4 253 607.3 284.3 673.3 293M475.5 251.9 541.4 347.5 607.3 320.8 673.3 346.9M475.5 251.9 541.4 280.7 607.3 254.7 673.3 344.6M475.5 251.9 541.4 286.3 607.3 350.8 673.3 327.9M475.5 251.9 541.4 308.9 607.3 306 673.3 289.8M475.5 251.9 541.4 274.3 607.3 282.9 673.3 301.3M475.5 251.9 541.4 305.6 607.3 299.8 673.3 288.8M475.5 251.9 541.4 271.6 607.3 282.9 673.3 303.3M475.5 251.9 541.4 267.9 607.3 278.9 673.3 295.8M475.5 251.9 541.4 282.2 607.3 280.3 673.3 285.1M475.5 251.9 541.4 264.9 607.3 263.6 673.3 288M475.5 251.9 541.4 286.8 607.3 301.8 673.3 277.9M475.5 251.9 541.4 303 607.3 271.7 673.3 299.1M475.5 251.9 541.4 295.1 607.3 296.9 673.3 286.3M475.5 251.9 541.4 269.5 607.3 285.7 673.3 279.9M475.5 251.9 541.4 303.7 607.3 277.6 673.3 283.9M475.5 251.9 541.4 270.3 607.3 292.7 673.3 325M475.5 251.9 541.4 263.9 607.3 263.4 673.3 284.6M475.5 251.9 541.4 255.6 607.3 300.8 673.3 288.2M475.5 251.9 541.4 278.1 607.3 314.1 673.3 317.6M475.5 251.9 541.4 299.2 607.3 308.7 673.3 298.7M475.5 251.9 541.4 291.2 607.3 274.9 673.3 314.9M475.5 251.9 541.4 276.5 607.3 282.9 673.3 309.7M475.5 251.9 541.4 255.5 607.3 248.3 673.3 351.8M475.5 251.9 541.4 290.1 607.3 290.9 673.3 292.5M475.5 251.9 541.4 290.2 607.3 290.6 673.3 314.9M475.5 251.9 541.4 266.5 607.3 298.4 673.3 331.9M475.5 251.9 541.4 270.5 607.3 265.1 673.3 291.2M475.5 251.9 541.4 274.1 607.3 299.7 673.3 328M475.5 251.9 541.4 314.4 607.3 294.4 673.3 337.5M475.5 251.9 541.4 282.4 607.3 274.3 673.3 288.9M475.5 251.9 541.4 289.9 607.3 304 673.3 296.2M475.5 251.9 541.4 314.3 607.3 315.3 673.3 284.6M475.5 251.9 541.4 255.2 607.3 267.8 673.3 279.4M475.5 251.9 541.4 287.2 607.3 263.4 673.3 295.8M475.5 251.9 541.4 299.2 607.3 292.7 673.3 304.8M475.5 251.9 541.4 263.4 607.3 280.1 673.3 291.3M475.5 251.9 541.4 299.3 607.3 266.5 673.3 255.8M475.5 251.9 541.4 261.2 607.3 272.6 673.3 293.8M475.5 251.9 541.4 275.9 607.3 297.2 673.3 341M475.5 251.9 541.4 290.3 607.3 299.4 673.3 304.8M475.5 251.9 541.4 272.8 607.3 303.2 673.3 283.3M475.5 251.9 541.4 314.2 607.3 284.3 673.3 297.9M475.5 251.9 541.4 258.4 607.3 271.8 673.3 291.7M475.5 251.9 541.4 294 607.3 293.6 673.3 318M475.5 251.9 541.4 280.5 607.3 293.5 673.3 277.1M475.5 251.9 541.4 261.3 607.3 285.3 673.3 278.2M475.5 251.9 541.4 318.7 607.3 246.6 673.3 307.2M475.5 251.9 541.4 278.7 607.3 336.2 673.3 341M475.5 251.9 541.4 311.8 607.3 280.6 673.3 349.1M475.5 251.9 541.4 247.7 607.3 280.6 673.3 291M475.5 251.9 541.4 277.3 607.3 313.4 673.3 348.4M475.5 251.9 541.4 270.8 607.3 291.5 673.3 293.4M475.5 251.9 541.4 271.2 607.3 310.1 673.3 287.5M475.5 251.9 541.4 305.7 607.3 314.8 673.3 282.8M475.5 251.9 541.4 304.3 607.3 312.3 673.3 287.6M475.5 251.9 541.4 297.6 607.3 320.1 673.3 299.8M475.5 251.9 541.4 292.4 607.3 300 673.3 293.5M475.5 251.9 541.4 349.7 607.3 296.5 673.3 298.9M475.5 251.9 541.4 285.3 607.3 293.4 673.3 313.8M475.5 251.9 541.4 289.4 607.3 273.3 673.3 314.9M475.5 251.9 541.4 278.1 607.3 304.1 673.3 307.9M475.5 251.9 541.4 287.9 607.3 293.6 673.3 284.7M475.5 251.9 541.4 313.8 607.3 298.5 673.3 305.4M475.5 251.9 541.4 246.2 607.3 260.7 673.3 270.3M475.5 251.9 541.4 314.3 607.3 291.1 673.3 320.8M475.5 251.9 541.4 242.4 607.3 252.6 673.3 269.3M475.5 251.9 541.4 284.7 607.3 313.7 673.3 281.8M475.5 251.9 541.4 245.5 607.3 259.3 673.3 270.7M475.5 251.9 541.4 269.3 607.3 272.6 673.3 287.5M475.5 251.9 541.4 267 607.3 331.1 673.3 305.8M475.5 251.9 541.4 269 607.3 321.2 673.3 286.7M475.5 251.9 541.4 283.8 607.3 282.3 673.3 305.3M475.5 251.9 541.4 293.6 607.3 302.9 673.3 310M475.5 251.9 541.4 269.4 607.3 261 673.3 289.8M475.5 251.9 541.4 261.9 607.3 288.2 673.3 296.8M475.5 251.9 541.4 282 607.3 277.7 673.3 307.7M475.5 251.9 541.4 269.4 607.3 310.1 673.3 378.4M475.5 251.9 541.4 273.9 607.3 276.7 673.3 310.7M475.5 251.9 541.4 266.8 607.3 298 673.3 303.7M475.5 251.9 541.4 250.3 607.3 283.3 673.3 295.3M475.5 251.9 541.4 245.4 607.3 240.8 673.3 314.6M475.5 251.9 541.4 306.3 607.3 286.3 673.3 295.1M475.5 251.9 541.4 313.4 607.3 306 673.3 304.9M475.5 251.9 541.4 310.1 607.3 292 673.3 292.9M475.5 251.9 541.4 262.4 607.3 260 673.3 299.7M475.5 251.9 541.4 291.1 607.3 292 673.3 293M475.5 251.9 541.4 283.6 607.3 257 673.3 288.9M475.5 251.9 541.4 280.4 607.3 309.2 673.3 291.6M475.5 251.9 541.4 263.8 607.3 285.5 673.3 330.4M475.5 251.9 541.4 288.5 607.3 276.6 673.3 308.2M475.5 251.9 541.4 267.3 607.3 286.4 673.3 271.1M475.5 251.9 541.4 290.8 607.3 249 673.3 301.9M475.5 251.9 541.4 276.4 607.3 293.2 673.3 297.5M475.5 251.9 541.4 260.5 607.3 312.6 673.3 270M475.5 251.9 541.4 285.8 607.3 316.1 673.3 278.4M475.5 251.9 541.4 251.8 607.3 271.9 673.3 290.6M475.5 251.9 541.4 320.4 607.3 315.1 673.3 286.1M475.5 251.9 541.4 297.9 607.3 291.3 673.3 333.5M475.5 251.9 541.4 294.5 607.3 296.8 673.3 289.4M475.5 251.9 541.4 277.1 607.3 333.5 673.3 347.7M475.5 251.9 541.4 266.7 607.3 285.8 673.3 289.1M475.5 251.9 541.4 264.4 607.3 277.6 673.3 314.4M475.5 251.9 541.4 298.4 607.3 300.8 673.3 285.3M475.5 251.9 541.4 292.4 607.3 284.5 673.3 318.4M475.5 251.9 541.4 280.7 607.3 290.1 673.3 309.2M475.5 251.9 541.4 274.3 607.3 282.5 673.3 284.7M475.5 251.9 541.4 266.2 607.3 281.1 673.3 293.1M475.5 251.9 541.4 257.4 607.3 272.7 673.3 286.8M475.5 251.9 541.4 282.2 607.3 277.6 673.3 305M475.5 251.9 541.4 258.1 607.3 276.1 673.3 292.8M475.5 251.9 541.4 301.4 607.3 268.2 673.3 298.1M475.5 251.9 541.4 293.2 607.3 321.4 673.3 298.1M475.5 251.9 541.4 285.7 607.3 303.1 673.3 307.4M475.5 251.9 541.4 256.1 607.3 281.6 673.3 263.6M475.5 251.9 541.4 281.6 607.3 298.5 673.3 291.1M475.5 251.9 541.4 274.9 607.3 261.5 673.3 312.3M475.5 251.9 541.4 286 607.3 311.4 673.3 278.4M475.5 251.9 541.4 264.2 607.3 316.5 673.3 282.7M475.5 251.9 541.4 288.9 607.3 317 673.3 294M475.5 251.9 541.4 259.7 607.3 285.8 673.3 293.7M475.5 251.9 541.4 273.9 607.3 287.9 673.3 294.5M475.5 251.9 541.4 270.8 607.3 324.8 673.3 345.6M475.5 251.9 541.4 243.2 607.3 264.4 673.3 293.7M475.5 251.9 541.4 286.2 607.3 282 673.3 287.2M475.5 251.9 541.4 318.8 607.3 282.5 673.3 299.1M475.5 251.9 541.4 313.6 607.3 302.2 673.3 284.4M475.5 251.9 541.4 292.3 607.3 284.9 673.3 320.9M475.5 251.9 541.4 274.4 607.3 279.9 673.3 297.8M475.5 251.9 541.4 274.5 607.3 295.4 673.3 288.5M475.5 251.9 541.4 321.6 607.3 357.8 673.3 290M475.5 251.9 541.4 253.2 607.3 245.3 673.3 293.3M475.5 251.9 541.4 284.8 607.3 289.9 673.3 302.6M475.5 251.9 541.4 261 607.3 357.7 673.3 308.6M475.5 251.9 541.4 314.1 607.3 291.2 673.3 315.9M475.5 251.9 541.4 271.9 607.3 285.4 673.3 301.2M475.5 251.9 541.4 295.6 607.3 344.7 673.3 302.3M475.5 251.9 541.4 275.3 607.3 275.5 673.3 288.3M475.5 251.9 541.4 269.4 607.3 310.8 673.3 280.9M475.5 251.9 541.4 259.4 607.3 243.8 673.3 301.9M475.5 251.9 541.4 259.8 607.3 302 673.3 293.2M475.5 251.9 541.4 350.9 607.3 280.2 673.3 282.6M475.5 251.9 541.4 272.3 607.3 314.4 673.3 294.8M475.5 251.9 541.4 288.2 607.3 296 673.3 317.5M475.5 251.9 541.4 276.9 607.3 245.7 673.3 290.2M475.5 251.9 541.4 315.1 607.3 314.5 673.3 359.5M475.5 251.9 541.4 256.1 607.3 282.7 673.3 291.7M475.5 251.9 541.4 312.9 607.3 336.9 673.3 324.9M475.5 251.9 541.4 298.7 607.3 283.6 673.3 305.1M475.5 251.9 541.4 279.1 607.3 293.4 673.3 332.7M475.5 251.9 541.4 265.1 607.3 283.6 673.3 279.4M475.5 251.9 541.4 271.1 607.3 300.3 673.3 284M475.5 251.9 541.4 287.9 607.3 310.5 673.3 284.3M475.5 251.9 541.4 315.1 607.3 342.1 673.3 268.6M475.5 251.9 541.4 266.2 607.3 279 673.3 316.1M475.5 251.9 541.4 288.7 607.3 275.6 673.3 323.3M475.5 251.9 541.4 290.3 607.3 310.9 673.3 281.9M475.5 251.9 541.4 319.8 607.3 314.2 673.3 335.9M475.5 251.9 541.4 255.8 607.3 299.7 673.3 301.9M475.5 251.9 541.4 306.5 607.3 257 673.3 310.3M475.5 251.9 541.4 299.4 607.3 273.6 673.3 302.7M475.5 251.9 541.4 303.1 607.3 281.7 673.3 325.7M475.5 251.9 541.4 284.9 607.3 284.7 673.3 299.5M475.5 251.9 541.4 284.6 607.3 291.6 673.3 314.4M475.5 251.9 541.4 269.6 607.3 277.5 673.3 282.7M475.5 251.9 541.4 287.8 607.3 304.4 673.3 285.1M475.5 251.9 541.4 242.3 607.3 278.2 673.3 305M475.5 251.9 541.4 253.2 607.3 312.9 673.3 288.1M475.5 251.9 541.4 293.4 607.3 280.6 673.3 322.4M475.5 251.9 541.4 274 607.3 284.2 673.3 300.1M475.5 251.9 541.4 244.5 607.3 248.9 673.3 289.3M475.5 251.9 541.4 320.8 607.3 283.1 673.3 344M475.5 251.9 541.4 279.4 607.3 256.4 673.3 302.4M475.5 251.9 541.4 260.4 607.3 266.1 673.3 294.1M475.5 251.9 541.4 276.8 607.3 344.6 673.3 283M475.5 251.9 541.4 275.2 607.3 304.8 673.3 297.8M475.5 251.9 541.4 302.3 607.3 303.3 673.3 288.2M475.5 251.9 541.4 272.5 607.3 311.5 673.3 306.2M475.5 251.9 541.4 309.9 607.3 310.5 673.3 313.4M475.5 251.9 541.4 246.9 607.3 269.1 673.3 287.7M475.5 251.9 541.4 290.5 607.3 266.4 673.3 278.4M475.5 251.9 541.4 285.5 607.3 287.9 673.3 278.6M475.5 251.9 541.4 302.1 607.3 316.2 673.3 304.9M475.5 251.9 541.4 267.9 607.3 277.9 673.3 285.6M475.5 251.9 541.4 264.4 607.3 305.8 673.3 335.7M475.5 251.9 541.4 276.2 607.3 291.8 673.3 283.4M475.5 251.9 541.4 274.6 607.3 289.5 673.3 307.3M475.5 251.9 541.4 301.1 607.3 299.1 673.3 308.6M475.5 251.9 541.4 317.5 607.3 293.6 673.3 300.7M475.5 251.9 541.4 252.6 607.3 271.3 673.3 298.7M475.5 251.9 541.4 291.7 607.3 287.1 673.3 280.8M475.5 251.9 541.4 269.7 607.3 293 673.3 287.4M475.5 251.9 541.4 274.4 607.3 295 673.3 284.9M475.5 251.9 541.4 266 607.3 290.2 673.3 305.3M475.5 251.9 541.4 271.1 607.3 275.7 673.3 283.9M475.5 251.9 541.4 272.6 607.3 303.5 673.3 286.3M475.5 251.9 541.4 287.4 607.3 291.5 673.3 294.3M475.5 251.9 541.4 294.7 607.3 330.3 673.3 274.4M475.5 251.9 541.4 268.6 607.3 277.7 673.3 299.7M475.5 251.9 541.4 283.3 607.3 337.4 673.3 291.3M475.5 251.9 541.4 276.4 607.3 289.7 673.3 308.4M475.5 251.9 541.4 272.1 607.3 275.3 673.3 290.3M475.5 251.9 541.4 281.1 607.3 286.5 673.3 308.3M475.5 251.9 541.4 305.6 607.3 303.3 673.3 308.1M475.5 251.9 541.4 287.8 607.3 289.6 673.3 309.2M475.5 251.9 541.4 280.9 607.3 281.2 673.3 299.6M475.5 251.9 541.4 240.9 607.3 270.7 673.3 290.4M475.5 251.9 541.4 279.9 607.3 279.1 673.3 296.4M475.5 251.9 541.4 287.4 607.3 291.7 673.3 298.9M475.5 251.9 541.4 277.4 607.3 281.2 673.3 294.7M475.5 251.9 541.4 351.2 607.3 329.3 673.3 276.1M475.5 251.9 541.4 254.6 607.3 282.5 673.3 306.7M475.5 251.9 541.4 266.7 607.3 285 673.3 284.4M475.5 251.9 541.4 244.5 607.3 275.5 673.3 292.9M475.5 251.9 541.4 250.7 607.3 281.6 673.3 285.7M475.5 251.9 541.4 266.1 607.3 306.9 673.3 285M475.5 251.9 541.4 294.4 607.3 277.2 673.3 299.6M475.5 251.9 541.4 242 607.3 317.2 673.3 362.2M475.5 251.9 541.4 260.1 607.3 251.6 673.3 301M475.5 251.9 541.4 285.5 607.3 280.9 673.3 295.4M475.5 251.9 541.4 263.2 607.3 262 673.3 294.9M475.5 251.9 541.4 278.6 607.3 320.2 673.3 270.1M475.5 251.9 541.4 284 607.3 306.3 673.3 344.2M475.5 251.9 541.4 282.7 607.3 301 673.3 289.8M475.5 251.9 541.4 260.6 607.3 273.8 673.3 266M475.5 251.9 541.4 308.4 607.3 304.5 673.3 311.1M475.5 251.9 541.4 293.6 607.3 301.1 673.3 273.5M475.5 251.9 541.4 263.3 607.3 298.7 673.3 276.7M475.5 251.9 541.4 278.3 607.3 278.6 673.3 299.5M475.5 251.9 541.4 269.8 607.3 266.3 673.3 298.7M475.5 251.9 541.4 317.7 607.3 312.8 673.3 299.5M475.5 251.9 541.4 296.5 607.3 287 673.3 306.2M475.5 251.9 541.4 300.2 607.3 276.1 673.3 293.9M475.5 251.9 541.4 264.4 607.3 271.3 673.3 297.1M475.5 251.9 541.4 325.6 607.3 279.9 673.3 289.6M475.5 251.9 541.4 262.9 607.3 303.7 673.3 299.8M475.5 251.9 541.4 310.9 607.3 288.9 673.3 292.3M475.5 251.9 541.4 342.1 607.3 310.7 673.3 304.9M475.5 251.9 541.4 265.9 607.3 286.6 673.3 284.6M475.5 251.9 541.4 296.5 607.3 294.4 673.3 327.3M475.5 251.9 541.4 301.3 607.3 301.4 673.3 273.1M475.5 251.9 541.4 260 607.3 261.8 673.3 269.5M475.5 251.9 541.4 278.4 607.3 275.6 673.3 300.6M475.5 251.9 541.4 291.9 607.3 327.7 673.3 294M475.5 251.9 541.4 304.2 607.3 298 673.3 351.8M475.5 251.9 541.4 262.9 607.3 297 673.3 290.5M475.5 251.9 541.4 246.1 607.3 281.2 673.3 294.7M475.5 251.9 541.4 299.7 607.3 270.5 673.3 275.4M475.5 251.9 541.4 254.3 607.3 263.1 673.3 273.6M475.5 251.9 541.4 258.9 607.3 280.4 673.3 344.4M475.5 251.9 541.4 325 607.3 313.2 673.3 286.2M475.5 251.9 541.4 278.9 607.3 315.1 673.3 316.8M475.5 251.9 541.4 286.3 607.3 300.2 673.3 299.6M475.5 251.9 541.4 261.4 607.3 285.9 673.3 292.6M475.5 251.9 541.4 309.3 607.3 334.6 673.3 266.1M475.5 251.9 541.4 298.1 607.3 279.2 673.3 302.4M475.5 251.9 541.4 326.4 607.3 306.5 673.3 279.2M475.5 251.9 541.4 278.3 607.3 284 673.3 286M475.5 251.9 541.4 287.9 607.3 300 673.3 269.3M475.5 251.9 541.4 271.4 607.3 293.4 673.3 294M475.5 251.9 541.4 312.4 607.3 311.9 673.3 309.4M475.5 251.9 541.4 260.5 607.3 260.8 673.3 302.2M475.5 251.9 541.4 275.6 607.3 263.6 673.3 285.2M475.5 251.9 541.4 280.2 607.3 282.8 673.3 266.1M475.5 251.9 541.4 263.4 607.3 308.5 673.3 288M475.5 251.9 541.4 307.4 607.3 286.9 673.3 324.9M475.5 251.9 541.4 263.6 607.3 286.9 673.3 318.3M475.5 251.9 541.4 315.2 607.3 287.2 673.3 291.4M475.5 251.9 541.4 272.9 607.3 284.1 673.3 317.9M475.5 251.9 541.4 278.8 607.3 335.2 673.3 314.7M475.5 251.9 541.4 275.8 607.3 286.2 673.3 289.3M475.5 251.9 541.4 273.7 607.3 248.4 673.3 285.7M475.5 251.9 541.4 292 607.3 280.3 673.3 281.3M475.5 251.9 541.4 267.1 607.3 250.9 673.3 275.9M475.5 251.9 541.4 288.4 607.3 301.7 673.3 288M475.5 251.9 541.4 280.4 607.3 290.5 673.3 291M475.5 251.9 541.4 255 607.3 270.7 673.3 286.9M475.5 251.9 541.4 278 607.3 286.7 673.3 282M475.5 251.9 541.4 271.1 607.3 267.2 673.3 299.2M475.5 251.9 541.4 248.9 607.3 244.7 673.3 291.1M475.5 251.9 541.4 305.9 607.3 320.6 673.3 301.7M475.5 251.9 541.4 243.6 607.3 274.6 673.3 299.6M475.5 251.9 541.4 277.7 607.3 279.7 673.3 288.7M475.5 251.9 541.4 297.3 607.3 326.7 673.3 288.2M475.5 251.9 541.4 300.1 607.3 273.5 673.3 270.2M475.5 251.9 541.4 310.9 607.3 287.3 673.3 279.1M475.5 251.9 541.4 279.7 607.3 296.9 673.3 310.7M475.5 251.9 541.4 340 607.3 315.2 673.3 297.3M475.5 251.9 541.4 272 607.3 280.9 673.3 288.7M475.5 251.9 541.4 254.5 607.3 282.2 673.3 282.9M475.5 251.9 541.4 306.5 607.3 290.3 673.3 294.5M475.5 251.9 541.4 275.8 607.3 312.9 673.3 305M475.5 251.9 541.4 268.3 607.3 281.4 673.3 307.5M475.5 251.9 541.4 254 607.3 267 673.3 296.7M475.5 251.9 541.4 270.2 607.3 303.9 673.3 299.7M475.5 251.9 541.4 262.2 607.3 313.7 673.3 249.9M475.5 251.9 541.4 270.5 607.3 256.7 673.3 282.7M475.5 251.9 541.4 270.7 607.3 278.1 673.3 314.9M475.5 251.9 541.4 252 607.3 274.2 673.3 291.9M475.5 251.9 541.4 259.9 607.3 267.7 673.3 321.3M475.5 251.9 541.4 275 607.3 332 673.3 314.6M475.5 251.9 541.4 254.5 607.3 257.6 673.3 302.2M475.5 251.9 541.4 273.9 607.3 284.9 673.3 262.5M475.5 251.9 541.4 273.3 607.3 259.4 673.3 288.5M475.5 251.9 541.4 240.6 607.3 241.9 673.3 322M475.5 251.9 541.4 285.5 607.3 290.1 673.3 290.7M475.5 251.9 541.4 296.7 607.3 294.1 673.3 302.4M475.5 251.9 541.4 286.9 607.3 278.7 673.3 279M475.5 251.9 541.4 312.5 607.3 304.8 673.3 361.5M475.5 251.9 541.4 277.6 607.3 339.4 673.3 288.1M475.5 251.9 541.4 334.6 607.3 340.4 673.3 285.3M475.5 251.9 541.4 257.2 607.3 282.5 673.3 286.1M475.5 251.9 541.4 290.9 607.3 296.7 673.3 279.6M475.5 251.9 541.4 279.8 607.3 291.2 673.3 295.9M475.5 251.9 541.4 277 607.3 283.1 673.3 283.8M475.5 251.9 541.4 269.5 607.3 282.2 673.3 302.3M475.5 251.9 541.4 249.7 607.3 280.5 673.3 286.4M475.5 251.9 541.4 286.2 607.3 293.3 673.3 294.2M475.5 251.9 541.4 253.6 607.3 259.2 673.3 297.6M475.5 251.9 541.4 302.4 607.3 285.4 673.3 300.1M475.5 251.9 541.4 278.3 607.3 292.3 673.3 290.6M475.5 251.9 541.4 237.8 607.3 257.1 673.3 302.5M475.5 251.9 541.4 256.7 607.3 291.6 673.3 283.6M475.5 251.9 541.4 312.5 607.3 310.1 673.3 278M475.5 251.9 541.4 267.2 607.3 300.7 673.3 303M475.5 251.9 541.4 248.7 607.3 253.1 673.3 274.3M475.5 251.9 541.4 274.1 607.3 335.7 673.3 333.1M475.5 251.9 541.4 318 607.3 296.3 673.3 264.3M475.5 251.9 541.4 316.2 607.3 303.4 673.3 280.2M475.5 251.9 541.4 254 607.3 265.2 673.3 298.1M475.5 251.9 541.4 284.3 607.3 305 673.3 311.1M475.5 251.9 541.4 259.8 607.3 300.7 673.3 309.3M475.5 251.9 541.4 266.7 607.3 287.4 673.3 298.2M475.5 251.9 541.4 260.9 607.3 315.3 673.3 345.1M475.5 251.9 541.4 275.3 607.3 266.8 673.3 288.8M475.5 251.9 541.4 276.3 607.3 262.7 673.3 341.6M475.5 251.9 541.4 266.3 607.3 300.1 673.3 290.6M475.5 251.9 541.4 284.5 607.3 299.9 673.3 309.4M475.5 251.9 541.4 246.5 607.3 326.2 673.3 311.2M475.5 251.9 541.4 263 607.3 290.3 673.3 300.7M475.5 251.9 541.4 261.2 607.3 309.5 673.3 312.5M475.5 251.9 541.4 294.5 607.3 287.6 673.3 291.2M475.5 251.9 541.4 275.8 607.3 309.4 673.3 292.5M475.5 251.9 541.4 314.1 607.3 312.1 673.3 304.1M475.5 251.9 541.4 275.8 607.3 294.6 673.3 291.8M475.5 251.9 541.4 268.9 607.3 289.6 673.3 301.5M475.5 251.9 541.4 284 607.3 263.5 673.3 289.8M475.5 251.9 541.4 249.3 607.3 290.3 673.3 288.1M475.5 251.9 541.4 297.1 607.3 310.4 673.3 313.2M475.5 251.9 541.4 269.8 607.3 284 673.3 301.9M475.5 251.9 541.4 316.5 607.3 322.7 673.3 318.9M475.5 251.9 541.4 278.2 607.3 275.1 673.3 299.1M475.5 251.9 541.4 268.6 607.3 287.3 673.3 276.6M475.5 251.9 541.4 255.6 607.3 282.2 673.3 305.1M475.5 251.9 541.4 264 607.3 272.7 673.3 298M475.5 251.9 541.4 284.8 607.3 298.9 673.3 317.7M475.5 251.9 541.4 268.5 607.3 259.2 673.3 290.9M475.5 251.9 541.4 276.2 607.3 284.8 673.3 347M475.5 251.9 541.4 289.4 607.3 281.4 673.3 349.6M475.5 251.9 541.4 303.6 607.3 266.3 673.3 286.3M475.5 251.9 541.4 306.3 607.3 292.9 673.3 354.6M475.5 251.9 541.4 276.1 607.3 299.1 673.3 328.1M475.5 251.9 541.4 290.1 607.3 303.5 673.3 320.4M475.5 251.9 541.4 300.9 607.3 285 673.3 288.7M475.5 251.9 541.4 257.4 607.3 279.5 673.3 314.5M475.5 251.9 541.4 269 607.3 301.7 673.3 289.4M475.5 251.9 541.4 275.7 607.3 273.8 673.3 300.2M475.5 251.9 541.4 272.5 607.3 289.5 673.3 321.7M475.5 251.9 541.4 295.8 607.3 292.6 673.3 283.8M475.5 251.9 541.4 299.9 607.3 314 673.3 270.8M475.5 251.9 541.4 301.5 607.3 336.6 673.3 323M475.5 251.9 541.4 316.2 607.3 291.1 673.3 306.5M475.5 251.9 541.4 269.7 607.3 258.3 673.3 293.7M475.5 251.9 541.4 317.4 607.3 311.6 673.3 286.3M475.5 251.9 541.4 267.5 607.3 261.5 673.3 326.7M475.5 251.9 541.4 288.1 607.3 312.7 673.3 260.3M475.5 251.9 541.4 242.8 607.3 241.7 673.3 272.7M475.5 251.9 541.4 333.1 607.3 304.9 673.3 300.2M475.5 251.9 541.4 324.7 607.3 296 673.3 302.3M475.5 251.9 541.4 268.2 607.3 279.8 673.3 311.9M475.5 251.9 541.4 255.4 607.3 260.2 673.3 264.6M475.5 251.9 541.4 284.7 607.3 308.1 673.3 279.4M475.5 251.9 541.4 295.3 607.3 285.2 673.3 282M475.5 251.9 541.4 288.2 607.3 268.3 673.3 290.4M475.5 251.9 541.4 285.7 607.3 297.4 673.3 301.4M475.5 251.9 541.4 310.7 607.3 262.5 673.3 306.6M475.5 251.9 541.4 278.8 607.3 332.3 673.3 285M475.5 251.9 541.4 288.4 607.3 282.7 673.3 305.9M475.5 251.9 541.4 245.5 607.3 278.7 673.3 292.9M475.5 251.9 541.4 295.8 607.3 313.4 673.3 289.1M475.5 251.9 541.4 261.5 607.3 249.9 673.3 311.9M475.5 251.9 541.4 276.4 607.3 288.7 673.3 291.6M475.5 251.9 541.4 303.7 607.3 303.3 673.3 387M475.5 251.9 541.4 246.4 607.3 307.5 673.3 284.2M475.5 251.9 541.4 270 607.3 292 673.3 302.3M475.5 251.9 541.4 247.6 607.3 272.6 673.3 296.7M475.5 251.9 541.4 264.9 607.3 287.7 673.3 291.7M475.5 251.9 541.4 303 607.3 281 673.3 318.8M475.5 251.9 541.4 307.3 607.3 334.1 673.3 271.9M475.5 251.9 541.4 317.6 607.3 304.8 673.3 287.7M475.5 251.9 541.4 275.6 607.3 284.2 673.3 305.4M475.5 251.9 541.4 279.7 607.3 283.3 673.3 304.2M475.5 251.9 541.4 255 607.3 303.1 673.3 285.4M475.5 251.9 541.4 267.3 607.3 281.5 673.3 302.8M475.5 251.9 541.4 305.5 607.3 292.8 673.3 289M475.5 251.9 541.4 275.2 607.3 294.2 673.3 289.5M475.5 251.9 541.4 316.6 607.3 272.6 673.3 352.9M475.5 251.9 541.4 313.4 607.3 298.6 673.3 295.8M475.5 251.9 541.4 268.2 607.3 289.1 673.3 285.8M475.5 251.9 541.4 267.8 607.3 242.2 673.3 273.4M475.5 251.9 541.4 268.7 607.3 276.4 673.3 304.9M475.5 251.9 541.4 287 607.3 294.2 673.3 300M475.5 251.9 541.4 312.7 607.3 257.3 673.3 259M475.5 251.9 541.4 266 607.3 284.2 673.3 295.5M475.5 251.9 541.4 281.7 607.3 267.1 673.3 278.2M475.5 251.9 541.4 259.7 607.3 283.3 673.3 280.1M475.5 251.9 541.4 308.4 607.3 289 673.3 294.8M475.5 251.9 541.4 275.6 607.3 295.8 673.3 309.2M475.5 251.9 541.4 297.3 607.3 281.7 673.3 291.8M475.5 251.9 541.4 303.6 607.3 310.3 673.3 280.2M475.5 251.9 541.4 269.7 607.3 300.4 673.3 288.5M475.5 251.9 541.4 247.8 607.3 279.8 673.3 305.2M475.5 251.9 541.4 257.7 607.3 263.9 673.3 305.1M475.5 251.9 541.4 276 607.3 294.1 673.3 280.9M475.5 251.9 541.4 292.7 607.3 308.7 673.3 322.1M475.5 251.9 541.4 261.8 607.3 337.2 673.3 282.6M475.5 251.9 541.4 280.9 607.3 259.1 673.3 279.4M475.5 251.9 541.4 243.8 607.3 281.2 673.3 316.3M475.5 251.9 541.4 258.1 607.3 269.8 673.3 302.9M475.5 251.9 541.4 267.8 607.3 293.1 673.3 265.8M475.5 251.9 541.4 303 607.3 308.5 673.3 347.5M475.5 251.9 541.4 269.9 607.3 294.3 673.3 295.7M475.5 251.9 541.4 255.8 607.3 306.4 673.3 308.7M475.5 251.9 541.4 288.1 607.3 320.1 673.3 294.2M475.5 251.9 541.4 268.8 607.3 325.9 673.3 312.2M475.5 251.9 541.4 296.5 607.3 302 673.3 276.5M475.5 251.9 541.4 262.6 607.3 282 673.3 282.9M475.5 251.9 541.4 348 607.3 341.5 673.3 334.6M475.5 251.9 541.4 277.3 607.3 321.4 673.3 271.6M475.5 251.9 541.4 292.8 607.3 308.9 673.3 307.8M475.5 251.9 541.4 285.2 607.3 355.9 673.3 302M475.5 251.9 541.4 257.6 607.3 272.1 673.3 270.5M475.5 251.9 541.4 280.4 607.3 302.1 673.3 287.8M475.5 251.9 541.4 287.2 607.3 293.7 673.3 301.4M475.5 251.9 541.4 278.5 607.3 307.8 673.3 276.3M475.5 251.9 541.4 311.2 607.3 317.8 673.3 281M475.5 251.9 541.4 306.5 607.3 286 673.3 281.9M475.5 251.9 541.4 268.7 607.3 300.6 673.3 270.1M475.5 251.9 541.4 308.1 607.3 298.5 673.3 295.2M475.5 251.9 541.4 296 607.3 289.7 673.3 284.9M475.5 251.9 541.4 281.7 607.3 310.6 673.3 294.1M475.5 251.9 541.4 302.3 607.3 344.8 673.3 283.5M475.5 251.9 541.4 267.1 607.3 277.3 673.3 297.6M475.5 251.9 541.4 260.5 607.3 263.9 673.3 303.9M475.5 251.9 541.4 262.8 607.3 280.3 673.3 293.5M475.5 251.9 541.4 277.2 607.3 262.6 673.3 296.4M475.5 251.9 541.4 296.9 607.3 287.4 673.3 316.4M475.5 251.9 541.4 279.3 607.3 324.1 673.3 323.4M475.5 251.9 541.4 279.8 607.3 330.1 673.3 357.8M475.5 251.9 541.4 278.4 607.3 290.1 673.3 333.1M475.5 251.9 541.4 292.4 607.3 291.4 673.3 286.1M475.5 251.9 541.4 279.9 607.3 304.5 673.3 325.2M475.5 251.9 541.4 269.2 607.3 327.9 673.3 305M475.5 251.9 541.4 254.5 607.3 300.4 673.3 286.2M475.5 251.9 541.4 337.5 607.3 329.9 673.3 261.5M475.5 251.9 541.4 288.9 607.3 282.2 673.3 335.6M475.5 251.9 541.4 310.3 607.3 317.2 673.3 281.5M475.5 251.9 541.4 267.3 607.3 294 673.3 284.4M475.5 251.9 541.4 250.4 607.3 283.1 673.3 310M475.5 251.9 541.4 283.2 607.3 293.6 673.3 281.1M475.5 251.9 541.4 303.9 607.3 302.2 673.3 299.5M475.5 251.9 541.4 286.7 607.3 309 673.3 333.5M475.5 251.9 541.4 268.4 607.3 259.5 673.3 285.5M475.5 251.9 541.4 313.4 607.3 290.4 673.3 307.6M475.5 251.9 541.4 268.6 607.3 311.6 673.3 305.4M475.5 251.9 541.4 268.8 607.3 311.2 673.3 284.7M475.5 251.9 541.4 300.1 607.3 319.9 673.3 273.2M475.5 251.9 541.4 295.5 607.3 308.2 673.3 297.3M475.5 251.9 541.4 303.9 607.3 315.2 673.3 307.1M475.5 251.9 541.4 286.9 607.3 279.4 673.3 308.7M475.5 251.9 541.4 285.8 607.3 336.7 673.3 292.9M475.5 251.9 541.4 292.7 607.3 280.9 673.3 281.8M475.5 251.9 541.4 294.8 607.3 300.8 673.3 294.6M475.5 251.9 541.4 284.7 607.3 309.3 673.3 309.1M475.5 251.9 541.4 256.6 607.3 263.2 673.3 282.6M475.5 251.9 541.4 276.8 607.3 282.1 673.3 295.8M475.5 251.9 541.4 261.9 607.3 288.3 673.3 296.3M475.5 251.9 541.4 312.7 607.3 310.7 673.3 314.4M475.5 251.9 541.4 288.7 607.3 318.4 673.3 320.1M475.5 251.9 541.4 262.5 607.3 287 673.3 284M475.5 251.9 541.4 271.1 607.3 278 673.3 282.9M475.5 251.9 541.4 289.6 607.3 267.2 673.3 294.9M475.5 251.9 541.4 274 607.3 314 673.3 312.3M475.5 251.9 541.4 309.1 607.3 258 673.3 307.6M475.5 251.9 541.4 281 607.3 289.4 673.3 296.2M475.5 251.9 541.4 280.7 607.3 300.9 673.3 311.7M475.5 251.9 541.4 280.6 607.3 256.3 673.3 277.9M475.5 251.9 541.4 279.6 607.3 307.3 673.3 337.2M475.5 251.9 541.4 309.5 607.3 307.6 673.3 291.1M475.5 251.9 541.4 283.9 607.3 302.6 673.3 288.4M475.5 251.9 541.4 313.9 607.3 306.8 673.3 307.8M475.5 251.9 541.4 278.1 607.3 295.4 673.3 298.2M475.5 251.9 541.4 280.8 607.3 299.6 673.3 305.1M475.5 251.9 541.4 317.5 607.3 302.3 673.3 289.7M475.5 251.9 541.4 267.3 607.3 297.1 673.3 273.8M475.5 251.9 541.4 277.5 607.3 298.5 673.3 295M475.5 251.9 541.4 269 607.3 333 673.3 312.3M475.5 251.9 541.4 269 607.3 286.1 673.3 328.1M475.5 251.9 541.4 271.8 607.3 312 673.3 286.1M475.5 251.9 541.4 255.3 607.3 258.1 673.3 310M475.5 251.9 541.4 260.9 607.3 283.1 673.3 299M475.5 251.9 541.4 283.1 607.3 296.3 673.3 293.8M475.5 251.9 541.4 276.5 607.3 286.4 673.3 303.6M475.5 251.9 541.4 283.9 607.3 328.3 673.3 294.7M475.5 251.9 541.4 310.3 607.3 279.5 673.3 257.7M475.5 251.9 541.4 281.7 607.3 289.7 673.3 283M475.5 251.9 541.4 249.4 607.3 262.1 673.3 287.8M475.5 251.9 541.4 280 607.3 304.7 673.3 313.2M475.5 251.9 541.4 299 607.3 283.4 673.3 287.4M475.5 251.9 541.4 280.6 607.3 268.9 673.3 301M475.5 251.9 541.4 251.3 607.3 293.7 673.3 295.7M475.5 251.9 541.4 292.9 607.3 257.1 673.3 288.6M475.5 251.9 541.4 286.8 607.3 269.8 673.3 301" fill="none" stroke="#d3d3d3" stroke-width="0.7"/>
<line x1="475.5" y1="251.9" x2="673.3" y2="251.9" stroke="#f08585" stroke-width="1.0"/>
<polyline points="475.5,251.9 541.4,280.2 607.3,285.9 673.3,288.3" fill="none" stroke="#6c6ce8" stroke-width="1.1"/>
<rect x="467.5" y="230.1" width="213.5" height="168.3" fill="none" stroke="#8c8c8c" stroke-width="1.3"/>
<line x1="465" y1="251.9" x2="467.5" y2="251.9" stroke="#777" stroke-width="1"/>
<text x="0" y="0" transform="translate(461.5 251.9) rotate(-90)" font-size="5" fill="#555" class="t" text-anchor="middle">0</text>
<line x1="465" y1="287.3" x2="467.5" y2="287.3" stroke="#777" stroke-width="1"/>
<text x="0" y="0" transform="translate(461.5 287.3) rotate(-90)" font-size="5" fill="#555" class="t" text-anchor="middle">−2</text>
<line x1="465" y1="322.7" x2="467.5" y2="322.7" stroke="#777" stroke-width="1"/>
<text x="0" y="0" transform="translate(461.5 322.7) rotate(-90)" font-size="5" fill="#555" class="t" text-anchor="middle">−4</text>
<line x1="465" y1="358.1" x2="467.5" y2="358.1" stroke="#777" stroke-width="1"/>
<text x="0" y="0" transform="translate(461.5 358.1) rotate(-90)" font-size="5" fill="#555" class="t" text-anchor="middle">−6</text>
<line x1="465" y1="393.5" x2="467.5" y2="393.5" stroke="#777" stroke-width="1"/>
<text x="0" y="0" transform="translate(461.5 393.5) rotate(-90)" font-size="5" fill="#555" class="t" text-anchor="middle">−8</text>
<line x1="475.5" y1="398.4" x2="475.5" y2="401" stroke="#777" stroke-width="1"/>
<line x1="541.4" y1="398.4" x2="541.4" y2="401" stroke="#777" stroke-width="1"/>
<line x1="607.3" y1="398.4" x2="607.3" y2="401" stroke="#777" stroke-width="1"/>
<line x1="673.3" y1="398.4" x2="673.3" y2="401" stroke="#777" stroke-width="1"/>
<text x="496.3" y="226" font-size="13.85" xml:space="preserve" textLength="160.8" lengthAdjust="spacingAndGlyphs">cluster 2 ( 2359 Unigenes)</text>
<text x="0" y="0" transform="translate(450.3 303.1) rotate(-90)" font-size="14" text-anchor="middle" textLength="109.6" lengthAdjust="spacingAndGlyphs">Log2(flod change)</text>
<polygon points="475.5,565.3 479.6,561.7 483.7,558.1 487.9,554.5 492,550.9 496.1,547.3 500.2,543.8 504.3,540.2 508.4,536.6 512.6,533 516.7,529.4 520.8,525.8 524.9,522.2 529,518.6 533.2,515 537.3,511.4 541.4,507.9 545.5,508.2 549.6,508.2 553.8,508.4 557.9,508.6 562,508.8 566.1,509 570.2,508.7 574.3,508.6 578.5,507.6 582.6,506.6 586.7,506.2 590.8,506.4 594.9,506.5 599.1,506.7 603.2,506.8 607.3,507 611.4,507.3 615.5,506.9 619.7,506.5 623.8,506.9 627.9,505.6 632,506.2 636.2,506.4 640.3,506.3 644.4,507.2 648.5,506.7 652.7,505.5 656.8,504.3 660.9,502.5 665,501.8 669.2,499.9 673.3,498 673.3,563 669.2,561.2 665,559.2 660.9,558.5 656.8,557 652.7,555.6 648.5,554.7 644.4,554.8 640.3,553.8 636.2,552.7 632,553.7 627.9,553.3 623.8,552.6 619.7,552 615.5,551.6 611.4,552 607.3,552.4 603.2,551.7 599.1,551.1 594.9,551 590.8,551.3 586.7,551 582.6,550.8 578.5,550.5 574.3,550.3 570.2,550.2 566.1,549.7 562,550 557.9,549.9 553.8,549.8 549.6,549.6 545.5,549.5 541.4,549.5 537.3,550.5 533.2,551.5 529,552.5 524.9,553.5 520.8,554.5 516.7,555.4 512.6,556.4 508.4,557.4 504.3,558.4 500.2,559.4 496.1,560.4 492,561.4 487.9,562.3 483.7,563.3 479.6,564.3 475.5,565.3" fill="#d5d5d5"/>
<path d="M475.5 565.3 541.4 535.6 607.3 538 673.3 542.4M475.5 565.3 541.4 543.6 607.3 546.5 673.3 553.8M475.5 565.3 541.4 546.7 607.3 548.5 673.3 578.6M475.5 565.3 541.4 532.6 607.3 534.2 673.3 527.9M475.5 565.3 541.4 512.7 607.3 533 673.3 549M475.5 565.3 541.4 537 607.3 534 673.3 517.7M475.5 565.3 541.4 542.5 607.3 549.7 673.3 549.2M475.5 565.3 541.4 538.1 607.3 543.4 673.3 506.3M475.5 565.3 541.4 530.2 607.3 535.1 673.3 559.5M475.5 565.3 541.4 490.2 607.3 484.8 673.3 479.5M475.5 565.3 541.4 541.9 607.3 536.7 673.3 555.3M475.5 565.3 541.4 524.5 607.3 520.4 673.3 544.7M475.5 565.3 541.4 519.5 607.3 521.6 673.3 547.4M475.5 565.3 541.4 544.6 607.3 549.2 673.3 528.9M475.5 565.3 541.4 517.7 607.3 522.1 673.3 564.4M475.5 565.3 541.4 535.8 607.3 544.8 673.3 521.2M475.5 565.3 541.4 528.1 607.3 525.4 673.3 511.5M475.5 565.3 541.4 546.4 607.3 543.9 673.3 519.1M475.5 565.3 541.4 527.4 607.3 520.7 673.3 532.4M475.5 565.3 541.4 536.1 607.3 530.5 673.3 520.1M475.5 565.3 541.4 503.4 607.3 495 673.3 511.3M475.5 565.3 541.4 517.5 607.3 529.8 673.3 520.4M475.5 565.3 541.4 536.5 607.3 532.7 673.3 529.6M475.5 565.3 541.4 522.1 607.3 520 673.3 511.6M475.5 565.3 541.4 524.5 607.3 529.6 673.3 521.2M475.5 565.3 541.4 544.7 607.3 540.2 673.3 531.7M475.5 565.3 541.4 545 607.3 535.5 673.3 504.5M475.5 565.3 541.4 534.6 607.3 528.6 673.3 531.2M475.5 565.3 541.4 541.3 607.3 550.6 673.3 510.8M475.5 565.3 541.4 537.5 607.3 539.9 673.3 550M475.5 565.3 541.4 532.7 607.3 521.7 673.3 531.8M475.5 565.3 541.4 554.3 607.3 547 673.3 482.6M475.5 565.3 541.4 545.8 607.3 542.2 673.3 575.4M475.5 565.3 541.4 527.6 607.3 528.5 673.3 525.3M475.5 565.3 541.4 537.4 607.3 534.4 673.3 533.8M475.5 565.3 541.4 529 607.3 529.5 673.3 514.5M475.5 565.3 541.4 555.1 607.3 550 673.3 522.3M475.5 565.3 541.4 523 607.3 521.4 673.3 528.5M475.5 565.3 541.4 542.9 607.3 543.2 673.3 550.7M475.5 565.3 541.4 528.5 607.3 521.4 673.3 542.6M475.5 565.3 541.4 533.9 607.3 533.2 673.3 536.6M475.5 565.3 541.4 534.5 607.3 535.3 673.3 543.1M475.5 565.3 541.4 512.6 607.3 507.8 673.3 504.1M475.5 565.3 541.4 531 607.3 526.5 673.3 520.9M475.5 565.3 541.4 546.6 607.3 532.5 673.3 533M475.5 565.3 541.4 494.9 607.3 474.2 673.3 484.6M475.5 565.3 541.4 545.6 607.3 542.2 673.3 535.5M475.5 565.3 541.4 528.2 607.3 526.3 673.3 530.5M475.5 565.3 541.4 510.7 607.3 512.2 673.3 504.8M475.5 565.3 541.4 530.8 607.3 523.8 673.3 523.4M475.5 565.3 541.4 538.5 607.3 532.7 673.3 546.8M475.5 565.3 541.4 526.9 607.3 522.2 673.3 529.8M475.5 565.3 541.4 524.4 607.3 532.8 673.3 525.7M475.5 565.3 541.4 544.2 607.3 537.2 673.3 552.7M475.5 565.3 541.4 512.6 607.3 507.8 673.3 500.9M475.5 565.3 541.4 550.1 607.3 551.2 673.3 584.7M475.5 565.3 541.4 511.3 607.3 509.6 673.3 516.6M475.5 565.3 541.4 514.9 607.3 511.9 673.3 541.5M475.5 565.3 541.4 519.2 607.3 520.4 673.3 507.1M475.5 565.3 541.4 539.2 607.3 542.8 673.3 544.7M475.5 565.3 541.4 529.4 607.3 529.2 673.3 546.5M475.5 565.3 541.4 532.5 607.3 524.9 673.3 522.8M475.5 565.3 541.4 521.5 607.3 518.2 673.3 528.2M475.5 565.3 541.4 533.8 607.3 526.8 673.3 522.7M475.5 565.3 541.4 516.5 607.3 526.3 673.3 531.4M475.5 565.3 541.4 538.5 607.3 533.5 673.3 549.2M475.5 565.3 541.4 531.1 607.3 533.6 673.3 560.2M475.5 565.3 541.4 513.2 607.3 512.1 673.3 528.9M475.5 565.3 541.4 540 607.3 539.5 673.3 562.7M475.5 565.3 541.4 541.9 607.3 549 673.3 542.3M475.5 565.3 541.4 518.2 607.3 528.2 673.3 532.2M475.5 565.3 541.4 539.4 607.3 542.6 673.3 543.2M475.5 565.3 541.4 542.9 607.3 550.2 673.3 543.2M475.5 565.3 541.4 501.3 607.3 513.6 673.3 505.3M475.5 565.3 541.4 536.9 607.3 541.9 673.3 534.1M475.5 565.3 541.4 537.1 607.3 532 673.3 534.7M475.5 565.3 541.4 519.8 607.3 520.9 673.3 531.2M475.5 565.3 541.4 524.8 607.3 529.7 673.3 506.4M475.5 565.3 541.4 516.3 607.3 500.8 673.3 496.5M475.5 565.3 541.4 539.9 607.3 537.5 673.3 570.2M475.5 565.3 541.4 527.2 607.3 495.8 673.3 569.5M475.5 565.3 541.4 515.4 607.3 519.2 673.3 527.5M475.5 565.3 541.4 540.8 607.3 543.1 673.3 537.1M475.5 565.3 541.4 541.4 607.3 541.9 673.3 543.8M475.5 565.3 541.4 519.2 607.3 508.7 673.3 511.8M475.5 565.3 541.4 533.6 607.3 535.3 673.3 554.1M475.5 565.3 541.4 529.9 607.3 534 673.3 522.7M475.5 565.3 541.4 520.6 607.3 518 673.3 527.3M475.5 565.3 541.4 542.1 607.3 526.4 673.3 535.5M475.5 565.3 541.4 527 607.3 529.8 673.3 533.3M475.5 565.3 541.4 538 607.3 528 673.3 529.6M475.5 565.3 541.4 518.2 607.3 517.2 673.3 513.9M475.5 565.3 541.4 537.4 607.3 532.4 673.3 549.5M475.5 565.3 541.4 540.5 607.3 548.5 673.3 553.7M475.5 565.3 541.4 509.5 607.3 516.3 673.3 532.2M475.5 565.3 541.4 544.8 607.3 532.2 673.3 513.9M475.5 565.3 541.4 536.8 607.3 529 673.3 531M475.5 565.3 541.4 553 607.3 549 673.3 584M475.5 565.3 541.4 517.6 607.3 520.5 673.3 512.5M475.5 565.3 541.4 538.7 607.3 531.3 673.3 534.2M475.5 565.3 541.4 529.9 607.3 547.6 673.3 521.3M475.5 565.3 541.4 536.4 607.3 526.9 673.3 511.2M475.5 565.3 541.4 519.8 607.3 513.5 673.3 499.7M475.5 565.3 541.4 534.4 607.3 527.1 673.3 524M475.5 565.3 541.4 529.1 607.3 531.8 673.3 558.6M475.5 565.3 541.4 527.8 607.3 520.8 673.3 516.7M475.5 565.3 541.4 543 607.3 547.4 673.3 547M475.5 565.3 541.4 495.9 607.3 489.6 673.3 545M475.5 565.3 541.4 510.3 607.3 514.8 673.3 482.2M475.5 565.3 541.4 519.7 607.3 524.5 673.3 539.1M475.5 565.3 541.4 531.4 607.3 541.3 673.3 553.5M475.5 565.3 541.4 543.5 607.3 538.4 673.3 524.1M475.5 565.3 541.4 520.2 607.3 526.3 673.3 555.9M475.5 565.3 541.4 528.5 607.3 527.7 673.3 522.2M475.5 565.3 541.4 515.4 607.3 524.1 673.3 550.1M475.5 565.3 541.4 535.9 607.3 526.6 673.3 538.3M475.5 565.3 541.4 537.1 607.3 534.3 673.3 556.4M475.5 565.3 541.4 518.7 607.3 526.7 673.3 550.5M475.5 565.3 541.4 530.2 607.3 520.4 673.3 529M475.5 565.3 541.4 531.9 607.3 537.5 673.3 524.3M475.5 565.3 541.4 535.4 607.3 532.8 673.3 527M475.5 565.3 541.4 530.7 607.3 531.3 673.3 556.3M475.5 565.3 541.4 515.3 607.3 519 673.3 547M475.5 565.3 541.4 524.9 607.3 520.7 673.3 536.8M475.5 565.3 541.4 528.2 607.3 521.9 673.3 504.7M475.5 565.3 541.4 530.7 607.3 535.5 673.3 539.6M475.5 565.3 541.4 541.1 607.3 539.8 673.3 562.8M475.5 565.3 541.4 519.8 607.3 519.6 673.3 512.3M475.5 565.3 541.4 531.8 607.3 538.1 673.3 543.5M475.5 565.3 541.4 535 607.3 533.6 673.3 549.4M475.5 565.3 541.4 542.5 607.3 537 673.3 531.6M475.5 565.3 541.4 474.2 607.3 472.7 673.3 540.7M475.5 565.3 541.4 530.1 607.3 514.9 673.3 479.9M475.5 565.3 541.4 448 607.3 428.2 673.3 474.5M475.5 565.3 541.4 531.7 607.3 526.6 673.3 541.2M475.5 565.3 541.4 534.6 607.3 551.1 673.3 566M475.5 565.3 541.4 540.4 607.3 531.6 673.3 558.8M475.5 565.3 541.4 539 607.3 541.4 673.3 551.3M475.5 565.3 541.4 536.1 607.3 534.2 673.3 524.8M475.5 565.3 541.4 522.8 607.3 529.2 673.3 533.1M475.5 565.3 541.4 528.5 607.3 532.8 673.3 543.7M475.5 565.3 541.4 524.1 607.3 531.4 673.3 530.9M475.5 565.3 541.4 537.8 607.3 529.4 673.3 508.9M475.5 565.3 541.4 530.8 607.3 528.3 673.3 540M475.5 565.3 541.4 535.4 607.3 529.4 673.3 515.1M475.5 565.3 541.4 517.2 607.3 513.7 673.3 534.6M475.5 565.3 541.4 525.3 607.3 532.2 673.3 525.8M475.5 565.3 541.4 550 607.3 558.2 673.3 565M475.5 565.3 541.4 524 607.3 532.2 673.3 522.1M475.5 565.3 541.4 513.6 607.3 519.6 673.3 518.8M475.5 565.3 541.4 535.8 607.3 515.4 673.3 493M475.5 565.3 541.4 457.9 607.3 453.6 673.3 524.5M475.5 565.3 541.4 549.5 607.3 546.9 673.3 552.5M475.5 565.3 541.4 527.2 607.3 523.6 673.3 527.9M475.5 565.3 541.4 549.2 607.3 553.9 673.3 544.3M475.5 565.3 541.4 516.5 607.3 507.4 673.3 518.8M475.5 565.3 541.4 494.8 607.3 492 673.3 537.2M475.5 565.3 541.4 523.3 607.3 515.4 673.3 522.3M475.5 565.3 541.4 497.5 607.3 505.2 673.3 515.5M475.5 565.3 541.4 517.9 607.3 509.6 673.3 510.3M475.5 565.3 541.4 520.5 607.3 528.5 673.3 515.6M475.5 565.3 541.4 552.3 607.3 555.7 673.3 554.1M475.5 565.3 541.4 530.5 607.3 539 673.3 548.5M475.5 565.3 541.4 541.3 607.3 536.2 673.3 527.4M475.5 565.3 541.4 543.7 607.3 549.4 673.3 539.8M475.5 565.3 541.4 520.2 607.3 516.4 673.3 510M475.5 565.3 541.4 538.2 607.3 535.5 673.3 518.3M475.5 565.3 541.4 533.9 607.3 531 673.3 531.3M475.5 565.3 541.4 531.4 607.3 521.7 673.3 529.1M475.5 565.3 541.4 533.5 607.3 535.2 673.3 516.5M475.5 565.3 541.4 528.1 607.3 528.6 673.3 553.7M475.5 565.3 541.4 523.4 607.3 503.8 673.3 515.1M475.5 565.3 541.4 472.8 607.3 464.8 673.3 511.1M475.5 565.3 541.4 545.2 607.3 543.1 673.3 554.7M475.5 565.3 541.4 507.8 607.3 514.9 673.3 506.2M475.5 565.3 541.4 542.8 607.3 533 673.3 540.9M475.5 565.3 541.4 539.8 607.3 552.1 673.3 532.8M475.5 565.3 541.4 511.8 607.3 493.2 673.3 496.3M475.5 565.3 541.4 497.9 607.3 484.1 673.3 541.5M475.5 565.3 541.4 534.8 607.3 525.5 673.3 504.3M475.5 565.3 541.4 508.4 607.3 498 673.3 475.2M475.5 565.3 541.4 535.8 607.3 533.7 673.3 540.9M475.5 565.3 541.4 541.1 607.3 550.1 673.3 536M475.5 565.3 541.4 523 607.3 532.5 673.3 522.9M475.5 565.3 541.4 518.8 607.3 542.7 673.3 532.5M475.5 565.3 541.4 531.9 607.3 543.8 673.3 528.4M475.5 565.3 541.4 527.2 607.3 529 673.3 536.2M475.5 565.3 541.4 531.2 607.3 527.7 673.3 541.8M475.5 565.3 541.4 511.3 607.3 507.2 673.3 525.6M475.5 565.3 541.4 523 607.3 513.5 673.3 487.2M475.5 565.3 541.4 539.9 607.3 539.4 673.3 569.9M475.5 565.3 541.4 523.9 607.3 518.1 673.3 486.2M475.5 565.3 541.4 534.6 607.3 533.1 673.3 563M475.5 565.3 541.4 519.8 607.3 529 673.3 547.1M475.5 565.3 541.4 538.4 607.3 557.3 673.3 548.9M475.5 565.3 541.4 528.7 607.3 525.5 673.3 533.4M475.5 565.3 541.4 534.2 607.3 542.7 673.3 507.5M475.5 565.3 541.4 530.7 607.3 533.7 673.3 521.8M475.5 565.3 541.4 529.3 607.3 534.5 673.3 548.7M475.5 565.3 541.4 500.8 607.3 517.8 673.3 525.7M475.5 565.3 541.4 532.2 607.3 534.4 673.3 541.8M475.5 565.3 541.4 516.7 607.3 526.1 673.3 557.2M475.5 565.3 541.4 513.5 607.3 534.4 673.3 546.9M475.5 565.3 541.4 559.9 607.3 543.2 673.3 508.6M475.5 565.3 541.4 521.5 607.3 517.2 673.3 511.8M475.5 565.3 541.4 541.6 607.3 538 673.3 486.7M475.5 565.3 541.4 534.8 607.3 507.7 673.3 509M475.5 565.3 541.4 492.9 607.3 482.6 673.3 483.8M475.5 565.3 541.4 535.9 607.3 531.5 673.3 539.2M475.5 565.3 541.4 548.9 607.3 553.2 673.3 563.8M475.5 565.3 541.4 541.3 607.3 543.7 673.3 526.1M475.5 565.3 541.4 514.1 607.3 503.6 673.3 493.3M475.5 565.3 541.4 510.9 607.3 514.2 673.3 538.7M475.5 565.3 541.4 529.8 607.3 529.6 673.3 530M475.5 565.3 541.4 509.8 607.3 514.9 673.3 539.8M475.5 565.3 541.4 546.9 607.3 545.2 673.3 488.4M475.5 565.3 541.4 527.9 607.3 519.1 673.3 531.3M475.5 565.3 541.4 555 607.3 558.1 673.3 523.8M475.5 565.3 541.4 525.3 607.3 525 673.3 536.6M475.5 565.3 541.4 520.7 607.3 523.4 673.3 538.6M475.5 565.3 541.4 523 607.3 512.2 673.3 538.1M475.5 565.3 541.4 523.7 607.3 525.4 673.3 530.4M475.5 565.3 541.4 519.2 607.3 519 673.3 502.1M475.5 565.3 541.4 531.6 607.3 525.2 673.3 512.8M475.5 565.3 541.4 547.7 607.3 541.2 673.3 514.2M475.5 565.3 541.4 517.1 607.3 516.9 673.3 519.7M475.5 565.3 541.4 555.7 607.3 560.1 673.3 558.9M475.5 565.3 541.4 532.8 607.3 535.6 673.3 549.5M475.5 565.3 541.4 527.8 607.3 534.3 673.3 517.5M475.5 565.3 541.4 543.2 607.3 545.4 673.3 550.3M475.5 565.3 541.4 512 607.3 502.5 673.3 466M475.5 565.3 541.4 526.3 607.3 525.7 673.3 523.9M475.5 565.3 541.4 548 607.3 539.8 673.3 542.4M475.5 565.3 541.4 533.3 607.3 528 673.3 540.1M475.5 565.3 541.4 533.2 607.3 533.8 673.3 533.8M475.5 565.3 541.4 521.1 607.3 528.3 673.3 532M475.5 565.3 541.4 534.3 607.3 530.3 673.3 577M475.5 565.3 541.4 461.6 607.3 445.6 673.3 499.6M475.5 565.3 541.4 512.5 607.3 507.8 673.3 511.3M475.5 565.3 541.4 548.1 607.3 552.4 673.3 546.2M475.5 565.3 541.4 453.5 607.3 449.6 673.3 484.9M475.5 565.3 541.4 535 607.3 525.6 673.3 512.3M475.5 565.3 541.4 525.5 607.3 525.3 673.3 523.3M475.5 565.3 541.4 530.8 607.3 526.2 673.3 532.2M475.5 565.3 541.4 523.7 607.3 532.8 673.3 525M475.5 565.3 541.4 543.6 607.3 550.5 673.3 549.5M475.5 565.3 541.4 540.3 607.3 548.1 673.3 544.5M475.5 565.3 541.4 520.9 607.3 521.6 673.3 505.4M475.5 565.3 541.4 513.2 607.3 516.7 673.3 546M475.5 565.3 541.4 546.6 607.3 517.1 673.3 510.1M475.5 565.3 541.4 537.5 607.3 535.7 673.3 554.6M475.5 565.3 541.4 527.2 607.3 537 673.3 554.4M475.5 565.3 541.4 537.2 607.3 530.2 673.3 536.6M475.5 565.3 541.4 497.9 607.3 516.5 673.3 477.6M475.5 565.3 541.4 535.1 607.3 532.7 673.3 545.8M475.5 565.3 541.4 516.4 607.3 516.2 673.3 545.9M475.5 565.3 541.4 534.2 607.3 539 673.3 559.9M475.5 565.3 541.4 504.7 607.3 507 673.3 517.9M475.5 565.3 541.4 540.5 607.3 528.4 673.3 509.8M475.5 565.3 541.4 534.6 607.3 536 673.3 546.4M475.5 565.3 541.4 528.4 607.3 529.4 673.3 505.7M475.5 565.3 541.4 533.3 607.3 537 673.3 538.9M475.5 565.3 541.4 518.8 607.3 520.4 673.3 525.6M475.5 565.3 541.4 535.6 607.3 530.5 673.3 537.8M475.5 565.3 541.4 530.4 607.3 531.4 673.3 523.3M475.5 565.3 541.4 540.9 607.3 540 673.3 551.8M475.5 565.3 541.4 545.9 607.3 547.4 673.3 555.2M475.5 565.3 541.4 525.3 607.3 520.5 673.3 500.7M475.5 565.3 541.4 516.9 607.3 520.9 673.3 525.8M475.5 565.3 541.4 543.3 607.3 539.1 673.3 543.3M475.5 565.3 541.4 524.7 607.3 524.1 673.3 526.1M475.5 565.3 541.4 530.3 607.3 520.5 673.3 528M475.5 565.3 541.4 520.6 607.3 513.3 673.3 535.4M475.5 565.3 541.4 539.6 607.3 521.8 673.3 509.4M475.5 565.3 541.4 532.7 607.3 535.9 673.3 539.3M475.5 565.3 541.4 532.7 607.3 533.1 673.3 543.3M475.5 565.3 541.4 523.7 607.3 518 673.3 532.4M475.5 565.3 541.4 533 607.3 532.7 673.3 508.7M475.5 565.3 541.4 525.5 607.3 526.1 673.3 551.4M475.5 565.3 541.4 525.8 607.3 494 673.3 513.7M475.5 565.3 541.4 524.3 607.3 515.2 673.3 519.8M475.5 565.3 541.4 537.8 607.3 535.8 673.3 540.6M475.5 565.3 541.4 501.8 607.3 507.4 673.3 493.6M475.5 565.3 541.4 530.9 607.3 533.4 673.3 526.7M475.5 565.3 541.4 529.2 607.3 523.9 673.3 539.8M475.5 565.3 541.4 536.6 607.3 531.6 673.3 523.4M475.5 565.3 541.4 535.3 607.3 525.2 673.3 563M475.5 565.3 541.4 533.2 607.3 539.3 673.3 538.2M475.5 565.3 541.4 515.4 607.3 519 673.3 499.4M475.5 565.3 541.4 534.1 607.3 532.7 673.3 529.5M475.5 565.3 541.4 537.2 607.3 528.9 673.3 514.8M475.5 565.3 541.4 532.4 607.3 525.7 673.3 545.7M475.5 565.3 541.4 537.1 607.3 542.4 673.3 534.4M475.5 565.3 541.4 527.3 607.3 534.6 673.3 531.4M475.5 565.3 541.4 534.8 607.3 528.4 673.3 532.9M475.5 565.3 541.4 536.4 607.3 526.6 673.3 518M475.5 565.3 541.4 522.6 607.3 501.8 673.3 514.8M475.5 565.3 541.4 544.3 607.3 537 673.3 527.3M475.5 565.3 541.4 535.6 607.3 534.2 673.3 551.2M475.5 565.3 541.4 548.4 607.3 538 673.3 540.8M475.5 565.3 541.4 547.3 607.3 547.7 673.3 543.8M475.5 565.3 541.4 552.3 607.3 544.9 673.3 512.5M475.5 565.3 541.4 539.7 607.3 531.4 673.3 545.4M475.5 565.3 541.4 526.9 607.3 521.1 673.3 529.5M475.5 565.3 541.4 521.5 607.3 530.7 673.3 513.9M475.5 565.3 541.4 527.8 607.3 531.3 673.3 536.8M475.5 565.3 541.4 536.1 607.3 548.3 673.3 518.7M475.5 565.3 541.4 541.2 607.3 544.2 673.3 516.4M475.5 565.3 541.4 527.4 607.3 527.4 673.3 541.8M475.5 565.3 541.4 538.7 607.3 534.6 673.3 513.6M475.5 565.3 541.4 517.7 607.3 518.6 673.3 547.4M475.5 565.3 541.4 517.7 607.3 522.7 673.3 545.2M475.5 565.3 541.4 531.5 607.3 539.6 673.3 538.7M475.5 565.3 541.4 532.4 607.3 522.3 673.3 528.4M475.5 565.3 541.4 521.2 607.3 516.6 673.3 532.9M475.5 565.3 541.4 527.6 607.3 527.2 673.3 527.8M475.5 565.3 541.4 525.7 607.3 532.6 673.3 505.3M475.5 565.3 541.4 539.2 607.3 536.6 673.3 533.1M475.5 565.3 541.4 516.8 607.3 513.2 673.3 514.8M475.5 565.3 541.4 539 607.3 532.3 673.3 458.6M475.5 565.3 541.4 537.6 607.3 529.8 673.3 538.8M475.5 565.3 541.4 539.7 607.3 535.3 673.3 529.4M475.5 565.3 541.4 539.3 607.3 541.3 673.3 543.2M475.5 565.3 541.4 503.5 607.3 516.2 673.3 562.3M475.5 565.3 541.4 529.9 607.3 533.4 673.3 540.9M475.5 565.3 541.4 500 607.3 469.7 673.3 490.8M475.5 565.3 541.4 520.2 607.3 527.8 673.3 538.1M475.5 565.3 541.4 519 607.3 536 673.3 535.8M475.5 565.3 541.4 534.8 607.3 529.9 673.3 539.4M475.5 565.3 541.4 522 607.3 512.3 673.3 515.8M475.5 565.3 541.4 544 607.3 547.1 673.3 556.6M475.5 565.3 541.4 535.4 607.3 522.1 673.3 541M475.5 565.3 541.4 534.4 607.3 528.3 673.3 529.9M475.5 565.3 541.4 539.6 607.3 545.4 673.3 525.5M475.5 565.3 541.4 463 607.3 461.6 673.3 550.2M475.5 565.3 541.4 545.3 607.3 542.5 673.3 538.2M475.5 565.3 541.4 532.8 607.3 528.6 673.3 498M475.5 565.3 541.4 543.2 607.3 533.8 673.3 575.4M475.5 565.3 541.4 529.4 607.3 526.2 673.3 532.6M475.5 565.3 541.4 527 607.3 531.1 673.3 548.8M475.5 565.3 541.4 533.8 607.3 529.6 673.3 533M475.5 565.3 541.4 537.4 607.3 521.7 673.3 546.4M475.5 565.3 541.4 537.7 607.3 530.9 673.3 534.4M475.5 565.3 541.4 524.4 607.3 534.7 673.3 525.2M475.5 565.3 541.4 525.7 607.3 522.9 673.3 516.9M475.5 565.3 541.4 526.4 607.3 533.7 673.3 542.2M475.5 565.3 541.4 531.8 607.3 524.4 673.3 550.2M475.5 565.3 541.4 510.6 607.3 480.4 673.3 501.3M475.5 565.3 541.4 539.7 607.3 549.6 673.3 566.5M475.5 565.3 541.4 535.7 607.3 531.2 673.3 541M475.5 565.3 541.4 536.7 607.3 527.8 673.3 542.6M475.5 565.3 541.4 528.2 607.3 551.3 673.3 547M475.5 565.3 541.4 527.9 607.3 539.1 673.3 541.1M475.5 565.3 541.4 492.4 607.3 468.5 673.3 535.3M475.5 565.3 541.4 488.8 607.3 505.9 673.3 547.5M475.5 565.3 541.4 536.7 607.3 533.1 673.3 547.5M475.5 565.3 541.4 532.9 607.3 529.5 673.3 523.6M475.5 565.3 541.4 535.9 607.3 540.3 673.3 529.5M475.5 565.3 541.4 519.5 607.3 511.9 673.3 525M475.5 565.3 541.4 532.3 607.3 528.2 673.3 548.8M475.5 565.3 541.4 541.6 607.3 552.4 673.3 532.9M475.5 565.3 541.4 533.1 607.3 534.4 673.3 556.6M475.5 565.3 541.4 514.4 607.3 521.7 673.3 515.7M475.5 565.3 541.4 528.8 607.3 525.6 673.3 533.2M475.5 565.3 541.4 517 607.3 519.2 673.3 537.6M475.5 565.3 541.4 549.4 607.3 551.2 673.3 534.5M475.5 565.3 541.4 522.8 607.3 521 673.3 477.5M475.5 565.3 541.4 485 607.3 475.1 673.3 527.7M475.5 565.3 541.4 533.2 607.3 535.1 673.3 526.4M475.5 565.3 541.4 528.8 607.3 531.6 673.3 530.8M475.5 565.3 541.4 559 607.3 552.6 673.3 567.6M475.5 565.3 541.4 526.6 607.3 508.4 673.3 540.3M475.5 565.3 541.4 525.9 607.3 527.6 673.3 504.2M475.5 565.3 541.4 522 607.3 522.2 673.3 516.1M475.5 565.3 541.4 532.2 607.3 524.3 673.3 516.1M475.5 565.3 541.4 472.3 607.3 508.8 673.3 527.3M475.5 565.3 541.4 534.3 607.3 536.3 673.3 520.4M475.5 565.3 541.4 523.2 607.3 524 673.3 545.1M475.5 565.3 541.4 546.6 607.3 550.8 673.3 541M475.5 565.3 541.4 532.7 607.3 533.5 673.3 528.5M475.5 565.3 541.4 530.1 607.3 510.1 673.3 547.4M475.5 565.3 541.4 522.2 607.3 519.8 673.3 532.7M475.5 565.3 541.4 535.2 607.3 546.6 673.3 543.7M475.5 565.3 541.4 538.3 607.3 531.5 673.3 542.3M475.5 565.3 541.4 546.1 607.3 548.1 673.3 546.6M475.5 565.3 541.4 519.2 607.3 520.8 673.3 533.2M475.5 565.3 541.4 540.8 607.3 538 673.3 543.1M475.5 565.3 541.4 531.8 607.3 526.4 673.3 529M475.5 565.3 541.4 522.9 607.3 517.7 673.3 508.4M475.5 565.3 541.4 525.5 607.3 510 673.3 509.4M475.5 565.3 541.4 530.1 607.3 532 673.3 527.7M475.5 565.3 541.4 517.9 607.3 516.6 673.3 522.6M475.5 565.3 541.4 528.7 607.3 538.1 673.3 530.2M475.5 565.3 541.4 530 607.3 526.1 673.3 537.2M475.5 565.3 541.4 532.8 607.3 538.9 673.3 550.6M475.5 565.3 541.4 536 607.3 538.2 673.3 544.7M475.5 565.3 541.4 525.7 607.3 527.5 673.3 516.1M475.5 565.3 541.4 512 607.3 512.5 673.3 512.6M475.5 565.3 541.4 529.4 607.3 526.9 673.3 524.8M475.5 565.3 541.4 525.3 607.3 519 673.3 531.2M475.5 565.3 541.4 525 607.3 525 673.3 534.4M475.5 565.3 541.4 521.2 607.3 516.5 673.3 550.3M475.5 565.3 541.4 520.2 607.3 517.7 673.3 526.4M475.5 565.3 541.4 529.1 607.3 528.6 673.3 523.3M475.5 565.3 541.4 517.5 607.3 516.3 673.3 554M475.5 565.3 541.4 531.7 607.3 524 673.3 526.4M475.5 565.3 541.4 539.2 607.3 544.8 673.3 552.5M475.5 565.3 541.4 527.8 607.3 533.2 673.3 545.1M475.5 565.3 541.4 532 607.3 537 673.3 517.3M475.5 565.3 541.4 545.6 607.3 545.6 673.3 524.9M475.5 565.3 541.4 537.6 607.3 539.1 673.3 536.3M475.5 565.3 541.4 517.8 607.3 501.5 673.3 512.2M475.5 565.3 541.4 516.9 607.3 505 673.3 542.6M475.5 565.3 541.4 530 607.3 526.3 673.3 548.8M475.5 565.3 541.4 545.5 607.3 547.1 673.3 548.7M475.5 565.3 541.4 554.2 607.3 562.5 673.3 539.2M475.5 565.3 541.4 524.4 607.3 521 673.3 556.7M475.5 565.3 541.4 546.2 607.3 555.5 673.3 550.9M475.5 565.3 541.4 518 607.3 521.7 673.3 537.9M475.5 565.3 541.4 540.8 607.3 541 673.3 536.6M475.5 565.3 541.4 530.1 607.3 533.8 673.3 515.2M475.5 565.3 541.4 526.9 607.3 522.4 673.3 521.5M475.5 565.3 541.4 521.3 607.3 519.1 673.3 511.7M475.5 565.3 541.4 545.2 607.3 540.4 673.3 552.3M475.5 565.3 541.4 520.5 607.3 523.6 673.3 532.3M475.5 565.3 541.4 531.8 607.3 522.3 673.3 520.6M475.5 565.3 541.4 543.2 607.3 542.1 673.3 548.8M475.5 565.3 541.4 508.6 607.3 535 673.3 557.2M475.5 565.3 541.4 530.6 607.3 536.4 673.3 562.4M475.5 565.3 541.4 531.8 607.3 535.3 673.3 502.2M475.5 565.3 541.4 537.9 607.3 532.7 673.3 543.3M475.5 565.3 541.4 524.9 607.3 516.3 673.3 543.9M475.5 565.3 541.4 513.4 607.3 515.4 673.3 528.7M475.5 565.3 541.4 514.7 607.3 518.7 673.3 528.3M475.5 565.3 541.4 537.9 607.3 532.1 673.3 538.2M475.5 565.3 541.4 539.5 607.3 543.2 673.3 524.8M475.5 565.3 541.4 511.1 607.3 481.8 673.3 502.5M475.5 565.3 541.4 521 607.3 529.4 673.3 535.2M475.5 565.3 541.4 538.8 607.3 536 673.3 536.1M475.5 565.3 541.4 525.1 607.3 523.6 673.3 527.9M475.5 565.3 541.4 532.4 607.3 538.8 673.3 538.2M475.5 565.3 541.4 529.9 607.3 535.7 673.3 561.4M475.5 565.3 541.4 528.3 607.3 529.4 673.3 540.7M475.5 565.3 541.4 531.1 607.3 534.9 673.3 544.3M475.5 565.3 541.4 505.9 607.3 495.7 673.3 530M475.5 565.3 541.4 523.8 607.3 517 673.3 540.8M475.5 565.3 541.4 530.2 607.3 530.7 673.3 527.3M475.5 565.3 541.4 523.7 607.3 521.4 673.3 541.5M475.5 565.3 541.4 539.2 607.3 545.2 673.3 539.8M475.5 565.3 541.4 536.4 607.3 529.1 673.3 535.3M475.5 565.3 541.4 507.2 607.3 510.5 673.3 536.7M475.5 565.3 541.4 531.8 607.3 527.1 673.3 526.1M475.5 565.3 541.4 532.6 607.3 531 673.3 495.6M475.5 565.3 541.4 549.7 607.3 551.9 673.3 530.1M475.5 565.3 541.4 534.9 607.3 529.2 673.3 549.1M475.5 565.3 541.4 493.1 607.3 499.5 673.3 503.7M475.5 565.3 541.4 521.8 607.3 524.7 673.3 552.4M475.5 565.3 541.4 524.1 607.3 520.9 673.3 538M475.5 565.3 541.4 537.5 607.3 539.8 673.3 466.1M475.5 565.3 541.4 550 607.3 550.3 673.3 542.8M475.5 565.3 541.4 531.4 607.3 536.4 673.3 546M475.5 565.3 541.4 541.4 607.3 533.4 673.3 554.7M475.5 565.3 541.4 528 607.3 525.3 673.3 547.3M475.5 565.3 541.4 523.9 607.3 527.6 673.3 510.9M475.5 565.3 541.4 534.9 607.3 518.9 673.3 516M475.5 565.3 541.4 525.8 607.3 526.6 673.3 499.3M475.5 565.3 541.4 526.1 607.3 506.4 673.3 535.3M475.5 565.3 541.4 527.9 607.3 528 673.3 509.8M475.5 565.3 541.4 525.3 607.3 520.4 673.3 521.3M475.5 565.3 541.4 537.4 607.3 535.7 673.3 522M475.5 565.3 541.4 535.3 607.3 531.6 673.3 539.2M475.5 565.3 541.4 529.8 607.3 528.6 673.3 534.5M475.5 565.3 541.4 526.7 607.3 524.9 673.3 520.5M475.5 565.3 541.4 523.4 607.3 525.8 673.3 515.1M475.5 565.3 541.4 544.7 607.3 532.8 673.3 495.5M475.5 565.3 541.4 538.9 607.3 532.7 673.3 502.9M475.5 565.3 541.4 507.9 607.3 510.9 673.3 516.8M475.5 565.3 541.4 518.4 607.3 500.1 673.3 552.3M475.5 565.3 541.4 538.2 607.3 537.2 673.3 521.5M475.5 565.3 541.4 522.3 607.3 522.5 673.3 535.2M475.5 565.3 541.4 514.9 607.3 514.1 673.3 537.9M475.5 565.3 541.4 519.3 607.3 521.3 673.3 549.7M475.5 565.3 541.4 537.9 607.3 533.6 673.3 535.4M475.5 565.3 541.4 533.4 607.3 527.2 673.3 519.3M475.5 565.3 541.4 536.4 607.3 525.2 673.3 537M475.5 565.3 541.4 531.3 607.3 529.9 673.3 536M475.5 565.3 541.4 527.6 607.3 528.9 673.3 537M475.5 565.3 541.4 532.4 607.3 527.5 673.3 540.3M475.5 565.3 541.4 550.5 607.3 557.6 673.3 559.2M475.5 565.3 541.4 531.5 607.3 534.3 673.3 536.6M475.5 565.3 541.4 534.8 607.3 531.3 673.3 540.9M475.5 565.3 541.4 521.1 607.3 521.8 673.3 529M475.5 565.3 541.4 521.2 607.3 520.8 673.3 535M475.5 565.3 541.4 546.1 607.3 540.5 673.3 494M475.5 565.3 541.4 522.5 607.3 517.9 673.3 537M475.5 565.3 541.4 514.8 607.3 517.4 673.3 511M475.5 565.3 541.4 525.5 607.3 532.6 673.3 538.9M475.5 565.3 541.4 525.5 607.3 526 673.3 553.2M475.5 565.3 541.4 515.8 607.3 499.2 673.3 513.5M475.5 565.3 541.4 524.5 607.3 525.4 673.3 525.5M475.5 565.3 541.4 512.9 607.3 532.1 673.3 518.3M475.5 565.3 541.4 549.1 607.3 550 673.3 560.5M475.5 565.3 541.4 536.8 607.3 518.8 673.3 526.1M475.5 565.3 541.4 500.5 607.3 535 673.3 520.9M475.5 565.3 541.4 527.3 607.3 528.3 673.3 524.5M475.5 565.3 541.4 529 607.3 533.1 673.3 540.3M475.5 565.3 541.4 521.5 607.3 521.4 673.3 548.9M475.5 565.3 541.4 488 607.3 504.9 673.3 521.9M475.5 565.3 541.4 535.1 607.3 532.6 673.3 521.6M475.5 565.3 541.4 489.6 607.3 502 673.3 535.8M475.5 565.3 541.4 524 607.3 515.7 673.3 539.3M475.5 565.3 541.4 527.4 607.3 517.5 673.3 492.3M475.5 565.3 541.4 543.6 607.3 540.5 673.3 527.6M475.5 565.3 541.4 530.6 607.3 534.3 673.3 537.8M475.5 565.3 541.4 530.2 607.3 514.1 673.3 526.2M475.5 565.3 541.4 535.9 607.3 527.9 673.3 544.1M475.5 565.3 541.4 531.7 607.3 532.5 673.3 541.6M475.5 565.3 541.4 522.8 607.3 519.8 673.3 518.9M475.5 565.3 541.4 511.4 607.3 513.7 673.3 519M475.5 565.3 541.4 539.9 607.3 540.8 673.3 530.5M475.5 565.3 541.4 532.7 607.3 529.3 673.3 501.6M475.5 565.3 541.4 540.3 607.3 542.8 673.3 533.1M475.5 565.3 541.4 496.5 607.3 530.2 673.3 504.3M475.5 565.3 541.4 507.3 607.3 500.2 673.3 529.5M475.5 565.3 541.4 521.3 607.3 519.4 673.3 533.5M475.5 565.3 541.4 543.2 607.3 540.3 673.3 548.7M475.5 565.3 541.4 527.3 607.3 525.4 673.3 559.5M475.5 565.3 541.4 530.2 607.3 522.1 673.3 548.7M475.5 565.3 541.4 542.9 607.3 540 673.3 553.2M475.5 565.3 541.4 534.9 607.3 537.3 673.3 547.8M475.5 565.3 541.4 538.3 607.3 536.1 673.3 536.2M475.5 565.3 541.4 475.5 607.3 449.3 673.3 462.2M475.5 565.3 541.4 512.3 607.3 521 673.3 518.9M475.5 565.3 541.4 531.5 607.3 521 673.3 524.1M475.5 565.3 541.4 532.9 607.3 528.6 673.3 547.3M475.5 565.3 541.4 535.2 607.3 523.6 673.3 544M475.5 565.3 541.4 534.1 607.3 530.7 673.3 530.8M475.5 565.3 541.4 537.7 607.3 541.8 673.3 530.1M475.5 565.3 541.4 529.5 607.3 518.4 673.3 524.5M475.5 565.3 541.4 521.3 607.3 517.1 673.3 545.3M475.5 565.3 541.4 532.8 607.3 524.5 673.3 522.3M475.5 565.3 541.4 545.2 607.3 540.3 673.3 541.6M475.5 565.3 541.4 537.2 607.3 532.4 673.3 521.8M475.5 565.3 541.4 525.2 607.3 523.7 673.3 512.8M475.5 565.3 541.4 546.7 607.3 551.1 673.3 537.9M475.5 565.3 541.4 543.2 607.3 538.5 673.3 506.8M475.5 565.3 541.4 516.2 607.3 518.7 673.3 538.6M475.5 565.3 541.4 543.7 607.3 528.1 673.3 538.5M475.5 565.3 541.4 543 607.3 537.3 673.3 541.8M475.5 565.3 541.4 538.6 607.3 531.6 673.3 527.6M475.5 565.3 541.4 526.6 607.3 527.8 673.3 510.6M475.5 565.3 541.4 539.8 607.3 542.3 673.3 541.5M475.5 565.3 541.4 508.9 607.3 499.9 673.3 516.8M475.5 565.3 541.4 541.2 607.3 546 673.3 559.6M475.5 565.3 541.4 505.2 607.3 525 673.3 493.6M475.5 565.3 541.4 524.6 607.3 521.2 673.3 527.6M475.5 565.3 541.4 534.2 607.3 533.7 673.3 542.5M475.5 565.3 541.4 513.2 607.3 518.8 673.3 538.9M475.5 565.3 541.4 518.1 607.3 516.8 673.3 545.3M475.5 565.3 541.4 534.5 607.3 538.5 673.3 521.2M475.5 565.3 541.4 537.3 607.3 533.2 673.3 552.6M475.5 565.3 541.4 514.1 607.3 529.8 673.3 543.3M475.5 565.3 541.4 533.9 607.3 542.7 673.3 533.1M475.5 565.3 541.4 527.5 607.3 530.3 673.3 535.5M475.5 565.3 541.4 533.9 607.3 546.6 673.3 540.5M475.5 565.3 541.4 522.2 607.3 530.6 673.3 543.2M475.5 565.3 541.4 518.5 607.3 522.4 673.3 538.5M475.5 565.3 541.4 530.1 607.3 530.7 673.3 530.3M475.5 565.3 541.4 534.2 607.3 533.4 673.3 529.7M475.5 565.3 541.4 550.5 607.3 526.5 673.3 525.7M475.5 565.3 541.4 520.6 607.3 542.9 673.3 539.6M475.5 565.3 541.4 542.1 607.3 551.5 673.3 559.9M475.5 565.3 541.4 537 607.3 543.1 673.3 536.9M475.5 565.3 541.4 529.4 607.3 522.2 673.3 536.5M475.5 565.3 541.4 518 607.3 520.2 673.3 532.3M475.5 565.3 541.4 510.4 607.3 516.5 673.3 529.7M475.5 565.3 541.4 547.4 607.3 542.8 673.3 520.4M475.5 565.3 541.4 516.4 607.3 499.8 673.3 508.4M475.5 565.3 541.4 538.3 607.3 529.8 673.3 532.7M475.5 565.3 541.4 528.4 607.3 518.8 673.3 504.8M475.5 565.3 541.4 529 607.3 517.7 673.3 512.5M475.5 565.3 541.4 536.9 607.3 536.1 673.3 530.8M475.5 565.3 541.4 530.2 607.3 534.6 673.3 531.5M475.5 565.3 541.4 519.9 607.3 519.3 673.3 508.6M475.5 565.3 541.4 511.3 607.3 514.8 673.3 516.2M475.5 565.3 541.4 546.7 607.3 548.8 673.3 510.5M475.5 565.3 541.4 531.4 607.3 538.8 673.3 528.1M475.5 565.3 541.4 521.8 607.3 520.1 673.3 541.9M475.5 565.3 541.4 517.9 607.3 510.3 673.3 533.1M475.5 565.3 541.4 531.9 607.3 526 673.3 547.4M475.5 565.3 541.4 524.4 607.3 513.5 673.3 539.8M475.5 565.3 541.4 535.8 607.3 535 673.3 534.8M475.5 565.3 541.4 533.6 607.3 519.2 673.3 530.5M475.5 565.3 541.4 516.7 607.3 530.4 673.3 511.6M475.5 565.3 541.4 528.1 607.3 524.1 673.3 532.3M475.5 565.3 541.4 508.2 607.3 499.1 673.3 536.6M475.5 565.3 541.4 530.2 607.3 524.4 673.3 503.7M475.5 565.3 541.4 525.8 607.3 522.5 673.3 533.5M475.5 565.3 541.4 532.7 607.3 541.4 673.3 538.6M475.5 565.3 541.4 523.5 607.3 523.6 673.3 545.5" fill="none" stroke="#d3d3d3" stroke-width="0.7"/>
<line x1="475.5" y1="565.3" x2="673.3" y2="565.3" stroke="#f08585" stroke-width="1.0"/>
<polyline points="475.5,565.3 541.4,538.3 607.3,533.3 673.3,540.6" fill="none" stroke="#6c6ce8" stroke-width="1.1"/>
<rect x="467.5" y="421.6" width="213.5" height="167.9" fill="none" stroke="#8c8c8c" stroke-width="1.3"/>
<line x1="465" y1="424.3" x2="467.5" y2="424.3" stroke="#777" stroke-width="1"/>
<text x="0" y="0" transform="translate(461.5 424.3) rotate(-90)" font-size="5" fill="#555" class="t" text-anchor="middle">12</text>
<line x1="465" y1="447.8" x2="467.5" y2="447.8" stroke="#777" stroke-width="1"/>
<text x="0" y="0" transform="translate(461.5 447.8) rotate(-90)" font-size="5" fill="#555" class="t" text-anchor="middle">10</text>
<line x1="465" y1="471.3" x2="467.5" y2="471.3" stroke="#777" stroke-width="1"/>
<text x="0" y="0" transform="translate(461.5 471.3) rotate(-90)" font-size="5" fill="#555" class="t" text-anchor="middle">8</text>
<line x1="465" y1="494.8" x2="467.5" y2="494.8" stroke="#777" stroke-width="1"/>
<text x="0" y="0" transform="translate(461.5 494.8) rotate(-90)" font-size="5" fill="#555" class="t" text-anchor="middle">6</text>
<line x1="465" y1="518.3" x2="467.5" y2="518.3" stroke="#777" stroke-width="1"/>
<text x="0" y="0" transform="translate(461.5 518.3) rotate(-90)" font-size="5" fill="#555" class="t" text-anchor="middle">4</text>
<line x1="465" y1="541.8" x2="467.5" y2="541.8" stroke="#777" stroke-width="1"/>
<text x="0" y="0" transform="translate(461.5 541.8) rotate(-90)" font-size="5" fill="#555" class="t" text-anchor="middle">2</text>
<line x1="465" y1="565.3" x2="467.5" y2="565.3" stroke="#777" stroke-width="1"/>
<text x="0" y="0" transform="translate(461.5 565.3) rotate(-90)" font-size="5" fill="#555" class="t" text-anchor="middle">0</text>
<line x1="465" y1="588.8" x2="467.5" y2="588.8" stroke="#777" stroke-width="1"/>
<text x="0" y="0" transform="translate(461.5 588.8) rotate(-90)" font-size="5" fill="#555" class="t" text-anchor="middle">−2</text>
<line x1="475.5" y1="589.5" x2="475.5" y2="592.1" stroke="#777" stroke-width="1"/>
<line x1="541.4" y1="589.5" x2="541.4" y2="592.1" stroke="#777" stroke-width="1"/>
<line x1="607.3" y1="589.5" x2="607.3" y2="592.1" stroke="#777" stroke-width="1"/>
<line x1="673.3" y1="589.5" x2="673.3" y2="592.1" stroke="#777" stroke-width="1"/>
<text x="496.3" y="417.6" font-size="13.85" xml:space="preserve" textLength="162.9" lengthAdjust="spacingAndGlyphs">cluster 3 (  2661 Unigenes)</text>
<text x="0" y="0" transform="translate(450.6 501) rotate(-90)" font-size="14" text-anchor="middle" textLength="105.3" lengthAdjust="spacingAndGlyphs">Log2(flod change)</text>
<polygon points="475.5,740.1 479.6,736.7 483.7,733.3 487.9,730 492,726.6 496.1,723.2 500.2,719.8 504.3,716.4 508.4,713.1 512.6,709.7 516.7,706.3 520.8,702.9 524.9,699.5 529,696.2 533.2,692.8 537.3,689.4 541.4,686 545.5,688.6 549.6,691.1 553.8,693.4 557.9,695.6 562,697.9 566.1,699.8 570.2,702 574.3,704.7 578.5,706.9 582.6,707.9 586.7,708.6 590.8,710 594.9,710 599.1,711.1 603.2,712.8 607.3,712.5 611.4,710.9 615.5,708.9 619.7,706.8 623.8,702.9 627.9,701.2 632,699.4 636.2,696.7 640.3,694 644.4,690.7 648.5,686.1 652.7,681.7 656.8,677.6 660.9,673.4 665,668.2 669.2,663.5 673.3,659 673.3,714.1 669.2,716.3 665,718.6 660.9,720.9 656.8,723.4 652.7,725.7 648.5,729 644.4,733.3 640.3,736.4 636.2,739.6 632,742.9 627.9,746.1 623.8,749.8 619.7,753.5 615.5,757.5 611.4,760.8 607.3,764.6 603.2,762.1 599.1,759.5 594.9,757 590.8,754.4 586.7,751.9 582.6,749.9 578.5,748.6 574.3,747.3 570.2,746.1 566.1,743.6 562,742 557.9,741.1 553.8,740.3 549.6,739.8 545.5,738.7 541.4,739.5 537.3,739.5 533.2,739.5 529,739.6 524.9,739.6 520.8,739.7 516.7,739.7 512.6,739.7 508.4,739.8 504.3,739.8 500.2,739.9 496.1,739.9 492,739.9 487.9,740 483.7,740 479.6,740.1 475.5,740.1" fill="#d5d5d5"/>
<path d="M475.5 740.1 541.4 734.4 607.3 738.6 673.3 691M475.5 740.1 541.4 724.7 607.3 746.6 673.3 701.7M475.5 740.1 541.4 695.9 607.3 747.2 673.3 689.3M475.5 740.1 541.4 706.6 607.3 735.3 673.3 693.3M475.5 740.1 541.4 702.3 607.3 731.8 673.3 701.7M475.5 740.1 541.4 717.1 607.3 740.3 673.3 709.6M475.5 740.1 541.4 712.2 607.3 751.5 673.3 690M475.5 740.1 541.4 724 607.3 764.6 673.3 712.1M475.5 740.1 541.4 725 607.3 739.3 673.3 692M475.5 740.1 541.4 707.2 607.3 717.2 673.3 699.9M475.5 740.1 541.4 718.6 607.3 748.1 673.3 699.7M475.5 740.1 541.4 715.2 607.3 737.9 673.3 684.9M475.5 740.1 541.4 696.6 607.3 720.6 673.3 686.5M475.5 740.1 541.4 721 607.3 705.8 673.3 681.6M475.5 740.1 541.4 713.2 607.3 755 673.3 699.2M475.5 740.1 541.4 700.3 607.3 750.3 673.3 681M475.5 740.1 541.4 716 607.3 742.2 673.3 694.7M475.5 740.1 541.4 714.7 607.3 727.6 673.3 697.4M475.5 740.1 541.4 722.2 607.3 745.6 673.3 704.1M475.5 740.1 541.4 704.9 607.3 744.4 673.3 683.3M475.5 740.1 541.4 733.8 607.3 751 673.3 713.6M475.5 740.1 541.4 698.7 607.3 764.4 673.3 705.7M475.5 740.1 541.4 697.4 607.3 739.8 673.3 719.4M475.5 740.1 541.4 669.2 607.3 752.9 673.3 729.3M475.5 740.1 541.4 720.6 607.3 749 673.3 701.7M475.5 740.1 541.4 674.8 607.3 704.8 673.3 669.7M475.5 740.1 541.4 708.9 607.3 725.7 673.3 692M475.5 740.1 541.4 650.4 607.3 733.2 673.3 726M475.5 740.1 541.4 716.2 607.3 721.4 673.3 707.1M475.5 740.1 541.4 689.5 607.3 730.6 673.3 709.9M475.5 740.1 541.4 705.1 607.3 765.4 673.3 716.6M475.5 740.1 541.4 729.7 607.3 740.7 673.3 691.5M475.5 740.1 541.4 704.5 607.3 733.6 673.3 688.1M475.5 740.1 541.4 701.7 607.3 728.3 673.3 694M475.5 740.1 541.4 657.4 607.3 730.6 673.3 697.2M475.5 740.1 541.4 717.9 607.3 723.2 673.3 694M475.5 740.1 541.4 711.5 607.3 755.4 673.3 692.3M475.5 740.1 541.4 725.1 607.3 762.6 673.3 687.1M475.5 740.1 541.4 715.2 607.3 752.8 673.3 702.3M475.5 740.1 541.4 714.8 607.3 745.5 673.3 704M475.5 740.1 541.4 685.3 607.3 733 673.3 681.5M475.5 740.1 541.4 709.4 607.3 739.6 673.3 699.5M475.5 740.1 541.4 735.8 607.3 739.2 673.3 681.9M475.5 740.1 541.4 707.2 607.3 732.6 673.3 715M475.5 740.1 541.4 724.3 607.3 746.8 673.3 699.9M475.5 740.1 541.4 690.5 607.3 719.2 673.3 665.4M475.5 740.1 541.4 735 607.3 738.3 673.3 694M475.5 740.1 541.4 680.3 607.3 742.5 673.3 667.2M475.5 740.1 541.4 720.9 607.3 735.8 673.3 698.4M475.5 740.1 541.4 724.8 607.3 757.4 673.3 694.1M475.5 740.1 541.4 707.5 607.3 751.7 673.3 696.2M475.5 740.1 541.4 718.5 607.3 738.8 673.3 714.8M475.5 740.1 541.4 730.7 607.3 758.5 673.3 697.3M475.5 740.1 541.4 696.3 607.3 728.8 673.3 664.7M475.5 740.1 541.4 727.4 607.3 726.9 673.3 681.9M475.5 740.1 541.4 717.5 607.3 736.7 673.3 691.4M475.5 740.1 541.4 689.7 607.3 726.9 673.3 695.1M475.5 740.1 541.4 712.4 607.3 727.8 673.3 679.8M475.5 740.1 541.4 718.4 607.3 733.2 673.3 651.3M475.5 740.1 541.4 735.7 607.3 756 673.3 721.2M475.5 740.1 541.4 709.5 607.3 738.7 673.3 682.6M475.5 740.1 541.4 736 607.3 737.3 673.3 701M475.5 740.1 541.4 732.2 607.3 744.5 673.3 673.8M475.5 740.1 541.4 728.3 607.3 755.4 673.3 694.8M475.5 740.1 541.4 709.6 607.3 751.6 673.3 704.8M475.5 740.1 541.4 721 607.3 740.8 673.3 685.5M475.5 740.1 541.4 710.9 607.3 737 673.3 679.3M475.5 740.1 541.4 728.2 607.3 720.3 673.3 628.2M475.5 740.1 541.4 731.2 607.3 734.1 673.3 688.3M475.5 740.1 541.4 723.9 607.3 761.7 673.3 694.6M475.5 740.1 541.4 692.4 607.3 747.9 673.3 698.6M475.5 740.1 541.4 714.1 607.3 735.5 673.3 709.6M475.5 740.1 541.4 696.7 607.3 736.3 673.3 691.3M475.5 740.1 541.4 727.5 607.3 729.6 673.3 704.8M475.5 740.1 541.4 681.4 607.3 733.7 673.3 690.1M475.5 740.1 541.4 696.9 607.3 761.3 673.3 707.2M475.5 740.1 541.4 707.9 607.3 739.9 673.3 693.4M475.5 740.1 541.4 725.3 607.3 744.7 673.3 703.4M475.5 740.1 541.4 716.4 607.3 747.7 673.3 687.3M475.5 740.1 541.4 723.7 607.3 720 673.3 685.4M475.5 740.1 541.4 682.4 607.3 742.2 673.3 686.1M475.5 740.1 541.4 708 607.3 733.1 673.3 696.6M475.5 740.1 541.4 696.6 607.3 728.4 673.3 703M475.5 740.1 541.4 733.9 607.3 745.9 673.3 715.1M475.5 740.1 541.4 703.5 607.3 739.4 673.3 693.2M475.5 740.1 541.4 735.8 607.3 736.2 673.3 706.5M475.5 740.1 541.4 728.4 607.3 750.5 673.3 701.2M475.5 740.1 541.4 717.7 607.3 753.4 673.3 683.6M475.5 740.1 541.4 678.8 607.3 731.2 673.3 712.9M475.5 740.1 541.4 732 607.3 737.8 673.3 694.8M475.5 740.1 541.4 731.1 607.3 731.7 673.3 686.8M475.5 740.1 541.4 720.4 607.3 747.5 673.3 681.8M475.5 740.1 541.4 690.7 607.3 718.2 673.3 714.7M475.5 740.1 541.4 686.3 607.3 734 673.3 683.1M475.5 740.1 541.4 725.2 607.3 741.4 673.3 678.1M475.5 740.1 541.4 718.7 607.3 747.5 673.3 713.4M475.5 740.1 541.4 672 607.3 736.6 673.3 676.6M475.5 740.1 541.4 677.2 607.3 738.5 673.3 686.3M475.5 740.1 541.4 738.9 607.3 737.8 673.3 687.5M475.5 740.1 541.4 744.1 607.3 757.9 673.3 707M475.5 740.1 541.4 705.3 607.3 724.9 673.3 688M475.5 740.1 541.4 716.6 607.3 742.6 673.3 701.2M475.5 740.1 541.4 735.1 607.3 741 673.3 713.3M475.5 740.1 541.4 723.3 607.3 723.8 673.3 675.9M475.5 740.1 541.4 742.3 607.3 761 673.3 703.4M475.5 740.1 541.4 720.5 607.3 726.8 673.3 689.4M475.5 740.1 541.4 731.1 607.3 739.3 673.3 655.9M475.5 740.1 541.4 708.8 607.3 753 673.3 682.5M475.5 740.1 541.4 664.9 607.3 748.8 673.3 707M475.5 740.1 541.4 715 607.3 726.4 673.3 678.1M475.5 740.1 541.4 728.8 607.3 744.2 673.3 707.1M475.5 740.1 541.4 700.7 607.3 724.5 673.3 694.5M475.5 740.1 541.4 717 607.3 745.1 673.3 699.4M475.5 740.1 541.4 717.8 607.3 763.4 673.3 699.3M475.5 740.1 541.4 724 607.3 719.3 673.3 690.4M475.5 740.1 541.4 709 607.3 745 673.3 666.9M475.5 740.1 541.4 679.5 607.3 721.2 673.3 680.6M475.5 740.1 541.4 720.2 607.3 745.5 673.3 694.8M475.5 740.1 541.4 704.2 607.3 734 673.3 710M475.5 740.1 541.4 717 607.3 741.3 673.3 678.9M475.5 740.1 541.4 720.4 607.3 736.3 673.3 685.5M475.5 740.1 541.4 723.2 607.3 733.3 673.3 640.9M475.5 740.1 541.4 727.7 607.3 754.5 673.3 692.7M475.5 740.1 541.4 657.9 607.3 728.1 673.3 683.1M475.5 740.1 541.4 699.1 607.3 728.2 673.3 690M475.5 740.1 541.4 720.6 607.3 732.7 673.3 681.1M475.5 740.1 541.4 718.3 607.3 718.9 673.3 690.7M475.5 740.1 541.4 735.1 607.3 745.7 673.3 680M475.5 740.1 541.4 710.4 607.3 735.7 673.3 689.8M475.5 740.1 541.4 711.9 607.3 723.3 673.3 688M475.5 740.1 541.4 739 607.3 733.3 673.3 692.6M475.5 740.1 541.4 731.1 607.3 728.9 673.3 695.6M475.5 740.1 541.4 708.3 607.3 739.7 673.3 682.8M475.5 740.1 541.4 709.5 607.3 755.2 673.3 705.5M475.5 740.1 541.4 638.2 607.3 759.5 673.3 674.9M475.5 740.1 541.4 731.7 607.3 749.1 673.3 691.4M475.5 740.1 541.4 714 607.3 726.8 673.3 661.2M475.5 740.1 541.4 701.9 607.3 729.1 673.3 684.3M475.5 740.1 541.4 699 607.3 725.2 673.3 692M475.5 740.1 541.4 671.1 607.3 753.9 673.3 671.6M475.5 740.1 541.4 699.5 607.3 742.3 673.3 691.6M475.5 740.1 541.4 735.5 607.3 750.6 673.3 678.4M475.5 740.1 541.4 715 607.3 713 673.3 677.7M475.5 740.1 541.4 718.1 607.3 746.1 673.3 690M475.5 740.1 541.4 724 607.3 744.4 673.3 688.3M475.5 740.1 541.4 718.2 607.3 741.4 673.3 710.2M475.5 740.1 541.4 718.6 607.3 731.1 673.3 687.2M475.5 740.1 541.4 730.8 607.3 750.7 673.3 732.5M475.5 740.1 541.4 734 607.3 740.8 673.3 707.3M475.5 740.1 541.4 729.8 607.3 737.5 673.3 654.8M475.5 740.1 541.4 665.7 607.3 728.9 673.3 678.3M475.5 740.1 541.4 739.5 607.3 720.5 673.3 673M475.5 740.1 541.4 698 607.3 727.3 673.3 683.9M475.5 740.1 541.4 714.1 607.3 742.4 673.3 695.3M475.5 740.1 541.4 706.9 607.3 735.3 673.3 686.5M475.5 740.1 541.4 701.5 607.3 741.3 673.3 692.2M475.5 740.1 541.4 652.6 607.3 729.6 673.3 676.2M475.5 740.1 541.4 704.8 607.3 728.2 673.3 679M475.5 740.1 541.4 720.3 607.3 743.9 673.3 714.1M475.5 740.1 541.4 718.9 607.3 740 673.3 683.1M475.5 740.1 541.4 722.2 607.3 735.1 673.3 691.6M475.5 740.1 541.4 698.8 607.3 741.6 673.3 704.8M475.5 740.1 541.4 714.2 607.3 720.4 673.3 690.8M475.5 740.1 541.4 707.5 607.3 716.3 673.3 694.4M475.5 740.1 541.4 712.9 607.3 754.6 673.3 665.8M475.5 740.1 541.4 706.4 607.3 739.6 673.3 690M475.5 740.1 541.4 738.3 607.3 742.1 673.3 686.3M475.5 740.1 541.4 719.5 607.3 740.7 673.3 689.6M475.5 740.1 541.4 707.4 607.3 754.4 673.3 684.5M475.5 740.1 541.4 698.6 607.3 722.8 673.3 688.6M475.5 740.1 541.4 695.3 607.3 716.9 673.3 698.4M475.5 740.1 541.4 725.1 607.3 741.2 673.3 683M475.5 740.1 541.4 716.8 607.3 741.7 673.3 664.7M475.5 740.1 541.4 713.5 607.3 731.1 673.3 688.3M475.5 740.1 541.4 708 607.3 716.4 673.3 656.6M475.5 740.1 541.4 725.3 607.3 743.2 673.3 722.4M475.5 740.1 541.4 734.7 607.3 736 673.3 693.9M475.5 740.1 541.4 729.7 607.3 751.6 673.3 684.5M475.5 740.1 541.4 671.7 607.3 738.1 673.3 691.1M475.5 740.1 541.4 716.6 607.3 737.1 673.3 703.1M475.5 740.1 541.4 717.7 607.3 731.3 673.3 705.2M475.5 740.1 541.4 720.9 607.3 737.3 673.3 701.1M475.5 740.1 541.4 694.9 607.3 751.6 673.3 671.4M475.5 740.1 541.4 722.3 607.3 773.5 673.3 692.3M475.5 740.1 541.4 717.3 607.3 740.6 673.3 662.9M475.5 740.1 541.4 716.6 607.3 719.2 673.3 688.4M475.5 740.1 541.4 719.3 607.3 737.5 673.3 685.5M475.5 740.1 541.4 731.6 607.3 753.6 673.3 691.8M475.5 740.1 541.4 738.5 607.3 742.6 673.3 692.5M475.5 740.1 541.4 734.9 607.3 736.8 673.3 706.1M475.5 740.1 541.4 727.8 607.3 733.6 673.3 677.5M475.5 740.1 541.4 676.9 607.3 748.9 673.3 702.4M475.5 740.1 541.4 687.8 607.3 721.8 673.3 667.6M475.5 740.1 541.4 723.2 607.3 730.1 673.3 676.5M475.5 740.1 541.4 730.6 607.3 738.4 673.3 650.4M475.5 740.1 541.4 707.4 607.3 725.2 673.3 697.3M475.5 740.1 541.4 703.3 607.3 731.7 673.3 697.6M475.5 740.1 541.4 694.3 607.3 728.9 673.3 705.4M475.5 740.1 541.4 730.4 607.3 742.4 673.3 696.8M475.5 740.1 541.4 689.8 607.3 715.9 673.3 691.7M475.5 740.1 541.4 725.5 607.3 745.7 673.3 667.8M475.5 740.1 541.4 707.3 607.3 720.2 673.3 690.5M475.5 740.1 541.4 723.2 607.3 730.6 673.3 673.9M475.5 740.1 541.4 727.7 607.3 724.7 673.3 697.8M475.5 740.1 541.4 678.2 607.3 748.5 673.3 717M475.5 740.1 541.4 717 607.3 733.5 673.3 681.4M475.5 740.1 541.4 701.3 607.3 717.5 673.3 677.5M475.5 740.1 541.4 673.7 607.3 710.1 673.3 696.8M475.5 740.1 541.4 709.5 607.3 746.3 673.3 691.8M475.5 740.1 541.4 724.1 607.3 751.5 673.3 708.6M475.5 740.1 541.4 709.4 607.3 742.6 673.3 686.3M475.5 740.1 541.4 634.7 607.3 752.6 673.3 687.6M475.5 740.1 541.4 731.2 607.3 745 673.3 695.5M475.5 740.1 541.4 721.8 607.3 733.6 673.3 740.9M475.5 740.1 541.4 721.1 607.3 746.6 673.3 682.6M475.5 740.1 541.4 725.1 607.3 744.5 673.3 697.1M475.5 740.1 541.4 720.9 607.3 747.7 673.3 685.7M475.5 740.1 541.4 707.9 607.3 724.8 673.3 678.9M475.5 740.1 541.4 692.8 607.3 712.2 673.3 683.9M475.5 740.1 541.4 703.1 607.3 729.9 673.3 718.3M475.5 740.1 541.4 709.3 607.3 742.7 673.3 691M475.5 740.1 541.4 732.8 607.3 754.7 673.3 692.4M475.5 740.1 541.4 722.2 607.3 727.4 673.3 672M475.5 740.1 541.4 721 607.3 732.6 673.3 679.9M475.5 740.1 541.4 687 607.3 743.2 673.3 714.2M475.5 740.1 541.4 706.6 607.3 723.2 673.3 703.1M475.5 740.1 541.4 717.8 607.3 733.3 673.3 678M475.5 740.1 541.4 704.2 607.3 744.6 673.3 705.7M475.5 740.1 541.4 719.5 607.3 740.3 673.3 688.4M475.5 740.1 541.4 718.1 607.3 731.2 673.3 699M475.5 740.1 541.4 700 607.3 727 673.3 686.8M475.5 740.1 541.4 716.1 607.3 749.5 673.3 707.1M475.5 740.1 541.4 676.3 607.3 736 673.3 689.4M475.5 740.1 541.4 691.4 607.3 747.8 673.3 707.7M475.5 740.1 541.4 723.7 607.3 733.3 673.3 711.9M475.5 740.1 541.4 734.9 607.3 756.7 673.3 702M475.5 740.1 541.4 724.8 607.3 749.1 673.3 687.5M475.5 740.1 541.4 675.6 607.3 738.1 673.3 740.7M475.5 740.1 541.4 724.9 607.3 742.3 673.3 684.8M475.5 740.1 541.4 687.1 607.3 726.2 673.3 708.3M475.5 740.1 541.4 717.3 607.3 729.9 673.3 692.4M475.5 740.1 541.4 732.2 607.3 764.8 673.3 702.1M475.5 740.1 541.4 697.6 607.3 737.1 673.3 690.9M475.5 740.1 541.4 702.9 607.3 731.4 673.3 691.4M475.5 740.1 541.4 702.7 607.3 711 673.3 688.5M475.5 740.1 541.4 699.1 607.3 730.6 673.3 704.5M475.5 740.1 541.4 720.8 607.3 738.5 673.3 693.9M475.5 740.1 541.4 705 607.3 743.6 673.3 695.7M475.5 740.1 541.4 717.2 607.3 736 673.3 694.4M475.5 740.1 541.4 695.2 607.3 707.5 673.3 682.7M475.5 740.1 541.4 739.7 607.3 742.8 673.3 699.5M475.5 740.1 541.4 735.1 607.3 757.2 673.3 697.1M475.5 740.1 541.4 714.2 607.3 736.4 673.3 682.3M475.5 740.1 541.4 692.3 607.3 745.6 673.3 704.1M475.5 740.1 541.4 706.3 607.3 752 673.3 694.3M475.5 740.1 541.4 709.7 607.3 745.5 673.3 714.3M475.5 740.1 541.4 717.1 607.3 729.7 673.3 677.4M475.5 740.1 541.4 722.9 607.3 746 673.3 702.9M475.5 740.1 541.4 726.9 607.3 745.9 673.3 702.3M475.5 740.1 541.4 673.8 607.3 722.5 673.3 674.6M475.5 740.1 541.4 721.9 607.3 725.9 673.3 668.9M475.5 740.1 541.4 701.9 607.3 738.4 673.3 691.6M475.5 740.1 541.4 676.1 607.3 748.7 673.3 671.7M475.5 740.1 541.4 711.8 607.3 727.3 673.3 681.2M475.5 740.1 541.4 731.2 607.3 741.7 673.3 694.6M475.5 740.1 541.4 720 607.3 751.9 673.3 733.8M475.5 740.1 541.4 701.1 607.3 727.5 673.3 681.3M475.5 740.1 541.4 719 607.3 740.4 673.3 678.7M475.5 740.1 541.4 702.3 607.3 747.7 673.3 704.2M475.5 740.1 541.4 710.3 607.3 740 673.3 685.5M475.5 740.1 541.4 734.1 607.3 734.3 673.3 690.6M475.5 740.1 541.4 724.4 607.3 739.4 673.3 716.7M475.5 740.1 541.4 710.7 607.3 732.9 673.3 695.9M475.5 740.1 541.4 719.3 607.3 749.8 673.3 675.3M475.5 740.1 541.4 730.5 607.3 747.1 673.3 670.5M475.5 740.1 541.4 717.2 607.3 755.5 673.3 698.4M475.5 740.1 541.4 730 607.3 727.5 673.3 679.5M475.5 740.1 541.4 718.8 607.3 739.1 673.3 675.5M475.5 740.1 541.4 705.9 607.3 749.3 673.3 695.4M475.5 740.1 541.4 734.9 607.3 730.7 673.3 700.4M475.5 740.1 541.4 710.8 607.3 744.2 673.3 703.9M475.5 740.1 541.4 733 607.3 752.4 673.3 697.8M475.5 740.1 541.4 692.7 607.3 733.8 673.3 646.1M475.5 740.1 541.4 713.6 607.3 720.7 673.3 685.9M475.5 740.1 541.4 704.3 607.3 711.1 673.3 673.3M475.5 740.1 541.4 720.7 607.3 742.3 673.3 686.9M475.5 740.1 541.4 720.7 607.3 735.5 673.3 665M475.5 740.1 541.4 732.1 607.3 735.5 673.3 673.6M475.5 740.1 541.4 714.5 607.3 764.3 673.3 693.5M475.5 740.1 541.4 737.3 607.3 741.4 673.3 697.9M475.5 740.1 541.4 722.3 607.3 736.7 673.3 704.9M475.5 740.1 541.4 731.8 607.3 735.8 673.3 684.2M475.5 740.1 541.4 705.1 607.3 727.5 673.3 686.5M475.5 740.1 541.4 708.2 607.3 719.1 673.3 671.7M475.5 740.1 541.4 722.7 607.3 746.5 673.3 693.7M475.5 740.1 541.4 729.7 607.3 762 673.3 710.9M475.5 740.1 541.4 715 607.3 734.4 673.3 703.9M475.5 740.1 541.4 725.1 607.3 722.7 673.3 685.2M475.5 740.1 541.4 727.5 607.3 738.7 673.3 662.7M475.5 740.1 541.4 706.3 607.3 726.9 673.3 686.2M475.5 740.1 541.4 655.5 607.3 738.2 673.3 679.2M475.5 740.1 541.4 721.4 607.3 739.3 673.3 662.5M475.5 740.1 541.4 727.5 607.3 727 673.3 695.8M475.5 740.1 541.4 711.9 607.3 737.2 673.3 667M475.5 740.1 541.4 708.9 607.3 729.2 673.3 686.5M475.5 740.1 541.4 684.3 607.3 734.3 673.3 666.3M475.5 740.1 541.4 697.6 607.3 753.1 673.3 698.2M475.5 740.1 541.4 705.9 607.3 734.7 673.3 684.2M475.5 740.1 541.4 709.1 607.3 735.7 673.3 677.2M475.5 740.1 541.4 729.3 607.3 756.8 673.3 694.4M475.5 740.1 541.4 724.5 607.3 751.7 673.3 695.2M475.5 740.1 541.4 695 607.3 733.9 673.3 702M475.5 740.1 541.4 709.8 607.3 732.8 673.3 698.4M475.5 740.1 541.4 736.9 607.3 721.1 673.3 682.9M475.5 740.1 541.4 722.8 607.3 754.5 673.3 688.4M475.5 740.1 541.4 735.6 607.3 751.6 673.3 699.6M475.5 740.1 541.4 713.3 607.3 726.2 673.3 685.8M475.5 740.1 541.4 671 607.3 737.5 673.3 706.5M475.5 740.1 541.4 686.2 607.3 727.6 673.3 681.9M475.5 740.1 541.4 725 607.3 729.5 673.3 694.8M475.5 740.1 541.4 727.8 607.3 740 673.3 683.3M475.5 740.1 541.4 723.8 607.3 747.7 673.3 684.8M475.5 740.1 541.4 654.5 607.3 736.4 673.3 659.8M475.5 740.1 541.4 732.9 607.3 747.7 673.3 697.7M475.5 740.1 541.4 710.5 607.3 738.2 673.3 704.1M475.5 740.1 541.4 727.9 607.3 744.5 673.3 690.8M475.5 740.1 541.4 708.1 607.3 730.1 673.3 690.1M475.5 740.1 541.4 710 607.3 743.3 673.3 741.8M475.5 740.1 541.4 736.2 607.3 725.2 673.3 665.1M475.5 740.1 541.4 736.5 607.3 730.8 673.3 693.6M475.5 740.1 541.4 715.4 607.3 738.8 673.3 691M475.5 740.1 541.4 715.9 607.3 726.5 673.3 670M475.5 740.1 541.4 727.5 607.3 762.3 673.3 723.4M475.5 740.1 541.4 726.8 607.3 753.5 673.3 742.5M475.5 740.1 541.4 716.5 607.3 724.8 673.3 676.1M475.5 740.1 541.4 712.6 607.3 723 673.3 682.7M475.5 740.1 541.4 686.6 607.3 722.8 673.3 690.6M475.5 740.1 541.4 726.9 607.3 725.7 673.3 690.1M475.5 740.1 541.4 695.2 607.3 753.7 673.3 682.2M475.5 740.1 541.4 695.7 607.3 734.5 673.3 683.4M475.5 740.1 541.4 721.7 607.3 751.1 673.3 676.7M475.5 740.1 541.4 725.4 607.3 749.3 673.3 659.2M475.5 740.1 541.4 742.8 607.3 714.7 673.3 690.2M475.5 740.1 541.4 715.9 607.3 730.7 673.3 682.2M475.5 740.1 541.4 729.2 607.3 738.7 673.3 698.9M475.5 740.1 541.4 729.6 607.3 745.4 673.3 678.5M475.5 740.1 541.4 707 607.3 768.8 673.3 687.4M475.5 740.1 541.4 744.2 607.3 737.7 673.3 705.7M475.5 740.1 541.4 715.7 607.3 730.6 673.3 698.7M475.5 740.1 541.4 720 607.3 731.4 673.3 659M475.5 740.1 541.4 720.1 607.3 726.8 673.3 668M475.5 740.1 541.4 702.4 607.3 737.4 673.3 697.9M475.5 740.1 541.4 647.1 607.3 725.1 673.3 672.5M475.5 740.1 541.4 735.3 607.3 743.7 673.3 696.4M475.5 740.1 541.4 694.8 607.3 739.5 673.3 677.3M475.5 740.1 541.4 734 607.3 744.9 673.3 678.2M475.5 740.1 541.4 706.7 607.3 734.1 673.3 665.4M475.5 740.1 541.4 695.9 607.3 735 673.3 656.2M475.5 740.1 541.4 709.9 607.3 754.5 673.3 708.6M475.5 740.1 541.4 725.1 607.3 735.8 673.3 710.1M475.5 740.1 541.4 707.7 607.3 732.1 673.3 678.6M475.5 740.1 541.4 705.4 607.3 725.6 673.3 700.5M475.5 740.1 541.4 714.9 607.3 753.3 673.3 657.6M475.5 740.1 541.4 730.7 607.3 744 673.3 695.2M475.5 740.1 541.4 712.3 607.3 715 673.3 691.2M475.5 740.1 541.4 725 607.3 740.5 673.3 729.6M475.5 740.1 541.4 722.4 607.3 734.3 673.3 680.7M475.5 740.1 541.4 723.8 607.3 732.8 673.3 661.1M475.5 740.1 541.4 711 607.3 742.7 673.3 683.6M475.5 740.1 541.4 731.1 607.3 749.9 673.3 710.9M475.5 740.1 541.4 710.4 607.3 751.8 673.3 684M475.5 740.1 541.4 651.9 607.3 743 673.3 685.1M475.5 740.1 541.4 716 607.3 744.3 673.3 683.4M475.5 740.1 541.4 704.1 607.3 745.4 673.3 686.9M475.5 740.1 541.4 741.1 607.3 734.2 673.3 685.3M475.5 740.1 541.4 700.6 607.3 724.4 673.3 699.7M475.5 740.1 541.4 718.3 607.3 735.7 673.3 689.3M475.5 740.1 541.4 665.1 607.3 754.7 673.3 680.2M475.5 740.1 541.4 739 607.3 717.8 673.3 688.5M475.5 740.1 541.4 714.1 607.3 746 673.3 703.3M475.5 740.1 541.4 722.6 607.3 764 673.3 684.9M475.5 740.1 541.4 724.3 607.3 728.2 673.3 686.3M475.5 740.1 541.4 722.5 607.3 731.5 673.3 688.7M475.5 740.1 541.4 693.7 607.3 736.7 673.3 703.4M475.5 740.1 541.4 716.6 607.3 727.5 673.3 677.4M475.5 740.1 541.4 723.9 607.3 720.5 673.3 679.9M475.5 740.1 541.4 728 607.3 756.2 673.3 683.2M475.5 740.1 541.4 703.5 607.3 743.5 673.3 686.3M475.5 740.1 541.4 702.6 607.3 733.8 673.3 677.3M475.5 740.1 541.4 695.6 607.3 768.3 673.3 710.1M475.5 740.1 541.4 707.7 607.3 726.3 673.3 680.3M475.5 740.1 541.4 711.3 607.3 744.2 673.3 694.2M475.5 740.1 541.4 709.5 607.3 741.8 673.3 704.9M475.5 740.1 541.4 717.1 607.3 731.3 673.3 691M475.5 740.1 541.4 686.2 607.3 716.1 673.3 688.3M475.5 740.1 541.4 721.8 607.3 748.9 673.3 697.1M475.5 740.1 541.4 708.6 607.3 734.8 673.3 694.7M475.5 740.1 541.4 700.2 607.3 723.5 673.3 695.8M475.5 740.1 541.4 721 607.3 740.2 673.3 698M475.5 740.1 541.4 727.5 607.3 757.6 673.3 710.4M475.5 740.1 541.4 722.3 607.3 756.8 673.3 692M475.5 740.1 541.4 723.6 607.3 734.7 673.3 699.8M475.5 740.1 541.4 696 607.3 736.7 673.3 657.6M475.5 740.1 541.4 698.9 607.3 752.6 673.3 699.5M475.5 740.1 541.4 721.3 607.3 766.6 673.3 703.1M475.5 740.1 541.4 722 607.3 721.6 673.3 688.9M475.5 740.1 541.4 730.9 607.3 739.5 673.3 701M475.5 740.1 541.4 662.6 607.3 723.5 673.3 705.2M475.5 740.1 541.4 723.5 607.3 735.3 673.3 674.7M475.5 740.1 541.4 686.8 607.3 766.4 673.3 717.4M475.5 740.1 541.4 697.7 607.3 743.2 673.3 684.1M475.5 740.1 541.4 706.2 607.3 726.7 673.3 681.3M475.5 740.1 541.4 734.9 607.3 744.3 673.3 710.2M475.5 740.1 541.4 728.1 607.3 733.7 673.3 690.7M475.5 740.1 541.4 690.4 607.3 717.7 673.3 663.3M475.5 740.1 541.4 734.5 607.3 733 673.3 677.9M475.5 740.1 541.4 720.2 607.3 747.6 673.3 695.3M475.5 740.1 541.4 728.1 607.3 751.9 673.3 706.7M475.5 740.1 541.4 725.8 607.3 728.3 673.3 695.5M475.5 740.1 541.4 710.8 607.3 738.2 673.3 699.6M475.5 740.1 541.4 712.5 607.3 732.3 673.3 686.2M475.5 740.1 541.4 714.4 607.3 729 673.3 690M475.5 740.1 541.4 719.6 607.3 736 673.3 687.8M475.5 740.1 541.4 689.8 607.3 742.1 673.3 686.2M475.5 740.1 541.4 732.1 607.3 717.4 673.3 725.3M475.5 740.1 541.4 708.3 607.3 717.9 673.3 674.5M475.5 740.1 541.4 650.6 607.3 736.8 673.3 727.5M475.5 740.1 541.4 737 607.3 747.7 673.3 702.6M475.5 740.1 541.4 692.2 607.3 724.3 673.3 678.1M475.5 740.1 541.4 693.7 607.3 739.7 673.3 698.6M475.5 740.1 541.4 725.8 607.3 745 673.3 723.3M475.5 740.1 541.4 745.6 607.3 747.3 673.3 699.7M475.5 740.1 541.4 714.4 607.3 732.3 673.3 693.6M475.5 740.1 541.4 702.6 607.3 733.8 673.3 699.4M475.5 740.1 541.4 707 607.3 744.4 673.3 701.9M475.5 740.1 541.4 735 607.3 738.3 673.3 691.9M475.5 740.1 541.4 729.7 607.3 754.5 673.3 693.7M475.5 740.1 541.4 686 607.3 727.4 673.3 677.8M475.5 740.1 541.4 709.9 607.3 718.1 673.3 681.4M475.5 740.1 541.4 728.9 607.3 741.7 673.3 713.5M475.5 740.1 541.4 689.8 607.3 738.7 673.3 665.3M475.5 740.1 541.4 623.5 607.3 714.8 673.3 725.5M475.5 740.1 541.4 699.9 607.3 710.1 673.3 694.4M475.5 740.1 541.4 707.1 607.3 731.6 673.3 689M475.5 740.1 541.4 722.5 607.3 741.3 673.3 707.4M475.5 740.1 541.4 705.1 607.3 728.5 673.3 682.1M475.5 740.1 541.4 709.2 607.3 749.9 673.3 693.9M475.5 740.1 541.4 741 607.3 742.3 673.3 694.4M475.5 740.1 541.4 727.4 607.3 736.9 673.3 691.2M475.5 740.1 541.4 729.9 607.3 733 673.3 698.9M475.5 740.1 541.4 700.8 607.3 741.4 673.3 689.8M475.5 740.1 541.4 730 607.3 744.6 673.3 685.1M475.5 740.1 541.4 720.4 607.3 740.4 673.3 687M475.5 740.1 541.4 656.3 607.3 747.1 673.3 729.1M475.5 740.1 541.4 719 607.3 727.1 673.3 684.9M475.5 740.1 541.4 714.3 607.3 731.7 673.3 689.6M475.5 740.1 541.4 722.2 607.3 718.6 673.3 683.2M475.5 740.1 541.4 704.7 607.3 735.5 673.3 689.8M475.5 740.1 541.4 716.3 607.3 735.8 673.3 690.8M475.5 740.1 541.4 714.7 607.3 737.3 673.3 686.9M475.5 740.1 541.4 717.8 607.3 755.4 673.3 713.2M475.5 740.1 541.4 726.6 607.3 751 673.3 714.1M475.5 740.1 541.4 730.1 607.3 730.6 673.3 695.1M475.5 740.1 541.4 717.6 607.3 739.5 673.3 673.4M475.5 740.1 541.4 667.7 607.3 751.1 673.3 659.7M475.5 740.1 541.4 695.7 607.3 743.5 673.3 684.9M475.5 740.1 541.4 702.3 607.3 737 673.3 691M475.5 740.1 541.4 704 607.3 736.2 673.3 680.6M475.5 740.1 541.4 696.8 607.3 760 673.3 702.8M475.5 740.1 541.4 699.1 607.3 738.2 673.3 711.1M475.5 740.1 541.4 707.5 607.3 737.5 673.3 683.7M475.5 740.1 541.4 713.2 607.3 733.4 673.3 677M475.5 740.1 541.4 702.8 607.3 719 673.3 714.5M475.5 740.1 541.4 696.1 607.3 735.5 673.3 690.3M475.5 740.1 541.4 707.3 607.3 728.6 673.3 691.4M475.5 740.1 541.4 723.3 607.3 741.3 673.3 701.1M475.5 740.1 541.4 711.8 607.3 737.9 673.3 694.8M475.5 740.1 541.4 715.8 607.3 749 673.3 710.3M475.5 740.1 541.4 724.6 607.3 726.8 673.3 685.4M475.5 740.1 541.4 734.9 607.3 720.2 673.3 690.9M475.5 740.1 541.4 729.9 607.3 740.3 673.3 698.2M475.5 740.1 541.4 722.5 607.3 712.5 673.3 687.5M475.5 740.1 541.4 706.3 607.3 734.9 673.3 690.1M475.5 740.1 541.4 732.7 607.3 749.6 673.3 697.8M475.5 740.1 541.4 687.5 607.3 742.8 673.3 687.7M475.5 740.1 541.4 690.5 607.3 746.7 673.3 687.4M475.5 740.1 541.4 727.2 607.3 737.2 673.3 684.1M475.5 740.1 541.4 724.1 607.3 759.3 673.3 703.9M475.5 740.1 541.4 698.7 607.3 752.2 673.3 711.2M475.5 740.1 541.4 696.6 607.3 717.4 673.3 678.1M475.5 740.1 541.4 720.9 607.3 735.7 673.3 698.4M475.5 740.1 541.4 715.6 607.3 722.1 673.3 682.4M475.5 740.1 541.4 721.8 607.3 755.1 673.3 695.8M475.5 740.1 541.4 677.2 607.3 733.8 673.3 685.1M475.5 740.1 541.4 687 607.3 714.5 673.3 680.6M475.5 740.1 541.4 729 607.3 746.5 673.3 694.5M475.5 740.1 541.4 725.6 607.3 738.6 673.3 673.8M475.5 740.1 541.4 679.6 607.3 751.7 673.3 684.4M475.5 740.1 541.4 707.8 607.3 754.6 673.3 725.9M475.5 740.1 541.4 673.9 607.3 712 673.3 673.2M475.5 740.1 541.4 723.8 607.3 757.2 673.3 708.6M475.5 740.1 541.4 657.9 607.3 724.2 673.3 711.5M475.5 740.1 541.4 716.3 607.3 734.7 673.3 663.6M475.5 740.1 541.4 722.9 607.3 708.1 673.3 700.6M475.5 740.1 541.4 701.7 607.3 744.7 673.3 686.8M475.5 740.1 541.4 734.3 607.3 765.8 673.3 727.3M475.5 740.1 541.4 729.8 607.3 727.8 673.3 684M475.5 740.1 541.4 720.9 607.3 747.7 673.3 705.4M475.5 740.1 541.4 698.8 607.3 728.1 673.3 683.4M475.5 740.1 541.4 719.6 607.3 743 673.3 692.5M475.5 740.1 541.4 711.4 607.3 724.9 673.3 685.7M475.5 740.1 541.4 704.4 607.3 749.8 673.3 725.9M475.5 740.1 541.4 705.8 607.3 729.1 673.3 672.1M475.5 740.1 541.4 716.1 607.3 738.6 673.3 716M475.5 740.1 541.4 717.7 607.3 766.9 673.3 718.7M475.5 740.1 541.4 674.2 607.3 717.8 673.3 656.1M475.5 740.1 541.4 722.2 607.3 749.5 673.3 713.9M475.5 740.1 541.4 726 607.3 747.1 673.3 708.9M475.5 740.1 541.4 737.3 607.3 757.3 673.3 691.8M475.5 740.1 541.4 741.9 607.3 738.7 673.3 691.2M475.5 740.1 541.4 733 607.3 735.8 673.3 672.6M475.5 740.1 541.4 704.8 607.3 732.3 673.3 669.5M475.5 740.1 541.4 723 607.3 737.2 673.3 681M475.5 740.1 541.4 696.3 607.3 741.2 673.3 679.1M475.5 740.1 541.4 710.8 607.3 729.2 673.3 675M475.5 740.1 541.4 721.4 607.3 715.8 673.3 667.4M475.5 740.1 541.4 721.4 607.3 743.3 673.3 669.2M475.5 740.1 541.4 709.8 607.3 739.9 673.3 700.7M475.5 740.1 541.4 714.5 607.3 731.6 673.3 694.6M475.5 740.1 541.4 674.5 607.3 724.1 673.3 691.1M475.5 740.1 541.4 726 607.3 741.1 673.3 657.8M475.5 740.1 541.4 709.9 607.3 740.4 673.3 686.1M475.5 740.1 541.4 699.1 607.3 726.8 673.3 676.6M475.5 740.1 541.4 721 607.3 734.1 673.3 705.7M475.5 740.1 541.4 718.2 607.3 733.4 673.3 670.4M475.5 740.1 541.4 733.8 607.3 728.5 673.3 700.2M475.5 740.1 541.4 733.1 607.3 752.1 673.3 700.7M475.5 740.1 541.4 715.2 607.3 738.7 673.3 693.8M475.5 740.1 541.4 711 607.3 751.6 673.3 698.4M475.5 740.1 541.4 704.7 607.3 729.1 673.3 684.1M475.5 740.1 541.4 683.3 607.3 728.1 673.3 710.4M475.5 740.1 541.4 714.9 607.3 736.9 673.3 689.9M475.5 740.1 541.4 724.2 607.3 751.2 673.3 687.4M475.5 740.1 541.4 693.6 607.3 728.9 673.3 696.4M475.5 740.1 541.4 718 607.3 732.4 673.3 676.8M475.5 740.1 541.4 697.8 607.3 761.3 673.3 724.1M475.5 740.1 541.4 724.2 607.3 755 673.3 676.3M475.5 740.1 541.4 726.3 607.3 737.8 673.3 694.2M475.5 740.1 541.4 719 607.3 730.8 673.3 683.1M475.5 740.1 541.4 729.9 607.3 743.4 673.3 698.4M475.5 740.1 541.4 720 607.3 726.7 673.3 677.7M475.5 740.1 541.4 710.6 607.3 709.8 673.3 682.1M475.5 740.1 541.4 705.7 607.3 732.9 673.3 695.8M475.5 740.1 541.4 724.9 607.3 725.3 673.3 675.9M475.5 740.1 541.4 706.6 607.3 738.9 673.3 711.8M475.5 740.1 541.4 724.1 607.3 739.3 673.3 689.1M475.5 740.1 541.4 717.8 607.3 715.3 673.3 685.9M475.5 740.1 541.4 729.9 607.3 742.5 673.3 689.9M475.5 740.1 541.4 742.8 607.3 738.6 673.3 690.6M475.5 740.1 541.4 715 607.3 723.1 673.3 662.7M475.5 740.1 541.4 714 607.3 740.3 673.3 703.3M475.5 740.1 541.4 720.7 607.3 726.1 673.3 706.3M475.5 740.1 541.4 696.6 607.3 739.3 673.3 719.9M475.5 740.1 541.4 726.2 607.3 772.6 673.3 702.8M475.5 740.1 541.4 699 607.3 716.2 673.3 693.1M475.5 740.1 541.4 713.4 607.3 747.4 673.3 691.1M475.5 740.1 541.4 721 607.3 732 673.3 683.9M475.5 740.1 541.4 712.6 607.3 743.1 673.3 686.5M475.5 740.1 541.4 715.8 607.3 738.4 673.3 679.9M475.5 740.1 541.4 709.4 607.3 736.2 673.3 707.7M475.5 740.1 541.4 719.9 607.3 746.8 673.3 692M475.5 740.1 541.4 705.4 607.3 747.3 673.3 707.8M475.5 740.1 541.4 724.3 607.3 736.7 673.3 667.8M475.5 740.1 541.4 703.1 607.3 738.8 673.3 704.4M475.5 740.1 541.4 720.3 607.3 751.7 673.3 698.7M475.5 740.1 541.4 679.7 607.3 753.8 673.3 701.5M475.5 740.1 541.4 733.4 607.3 742.1 673.3 674.3M475.5 740.1 541.4 719.2 607.3 733.6 673.3 723M475.5 740.1 541.4 708 607.3 727.5 673.3 677.9M475.5 740.1 541.4 703.2 607.3 716.6 673.3 672.4M475.5 740.1 541.4 730.2 607.3 737.7 673.3 679M475.5 740.1 541.4 681.7 607.3 716.2 673.3 704.4M475.5 740.1 541.4 731.9 607.3 736.2 673.3 691.3M475.5 740.1 541.4 711.1 607.3 740.4 673.3 691.8M475.5 740.1 541.4 718.1 607.3 735.5 673.3 678.2M475.5 740.1 541.4 728 607.3 760.9 673.3 686.9M475.5 740.1 541.4 726.7 607.3 739.9 673.3 700.7M475.5 740.1 541.4 697.6 607.3 743.4 673.3 696.3M475.5 740.1 541.4 738.8 607.3 747 673.3 716.6M475.5 740.1 541.4 704.6 607.3 739 673.3 709.4M475.5 740.1 541.4 688.7 607.3 727.4 673.3 695.3M475.5 740.1 541.4 713.5 607.3 746.6 673.3 695M475.5 740.1 541.4 702.7 607.3 719.6 673.3 651.3M475.5 740.1 541.4 665.9 607.3 740.6 673.3 724.5M475.5 740.1 541.4 721.9 607.3 757.4 673.3 680.8M475.5 740.1 541.4 701.9 607.3 725.6 673.3 668.2M475.5 740.1 541.4 648.5 607.3 745.7 673.3 696M475.5 740.1 541.4 702 607.3 749.3 673.3 688.7M475.5 740.1 541.4 722.7 607.3 738 673.3 683.1M475.5 740.1 541.4 716.5 607.3 734 673.3 691.7" fill="none" stroke="#d3d3d3" stroke-width="0.7"/>
<line x1="475.5" y1="740.1" x2="673.3" y2="740.1" stroke="#f08585" stroke-width="1.0"/>
<polyline points="475.5,740.1 541.4,720.3 607.3,734 673.3,694.3" fill="none" stroke="#6c6ce8" stroke-width="1.1"/>
<rect x="467.5" y="615.5" width="213.5" height="168.7" fill="none" stroke="#8c8c8c" stroke-width="1.3"/>
<line x1="465" y1="645.6" x2="467.5" y2="645.6" stroke="#777" stroke-width="1"/>
<text x="0" y="0" transform="translate(461.5 645.6) rotate(-90)" font-size="5" fill="#555" class="t" text-anchor="middle">6</text>
<line x1="465" y1="677.1" x2="467.5" y2="677.1" stroke="#777" stroke-width="1"/>
<text x="0" y="0" transform="translate(461.5 677.1) rotate(-90)" font-size="5" fill="#555" class="t" text-anchor="middle">4</text>
<line x1="465" y1="708.6" x2="467.5" y2="708.6" stroke="#777" stroke-width="1"/>
<text x="0" y="0" transform="translate(461.5 708.6) rotate(-90)" font-size="5" fill="#555" class="t" text-anchor="middle">2</text>
<line x1="465" y1="740.1" x2="467.5" y2="740.1" stroke="#777" stroke-width="1"/>
<text x="0" y="0" transform="translate(461.5 740.1) rotate(-90)" font-size="5" fill="#555" class="t" text-anchor="middle">0</text>
<line x1="465" y1="771.6" x2="467.5" y2="771.6" stroke="#777" stroke-width="1"/>
<text x="0" y="0" transform="translate(461.5 771.6) rotate(-90)" font-size="5" fill="#555" class="t" text-anchor="middle">−2</text>
<line x1="475.5" y1="784.2" x2="475.5" y2="786.8" stroke="#777" stroke-width="1"/>
<line x1="541.4" y1="784.2" x2="541.4" y2="786.8" stroke="#777" stroke-width="1"/>
<line x1="607.3" y1="784.2" x2="607.3" y2="786.8" stroke="#777" stroke-width="1"/>
<line x1="673.3" y1="784.2" x2="673.3" y2="786.8" stroke="#777" stroke-width="1"/>
<text x="488.7" y="611.8" font-size="13.85" xml:space="preserve" textLength="161.1" lengthAdjust="spacingAndGlyphs">cluster 4 ( 1119 Unigenes)</text>
<text x="0" y="0" transform="translate(450.3 694) rotate(-90)" font-size="14" text-anchor="middle" textLength="109.6" lengthAdjust="spacingAndGlyphs">Log2(flod change)</text>
<text x="451.2" y="806.8" font-size="20">Shoot</text>
<text x="514.6" y="806.8" font-size="20">Flower</text>
<text x="585.8" y="806.8" font-size="20">Fruit</text>
<text x="637.6" y="806.8" font-size="20">Seed</text>
</svg></body></html>
